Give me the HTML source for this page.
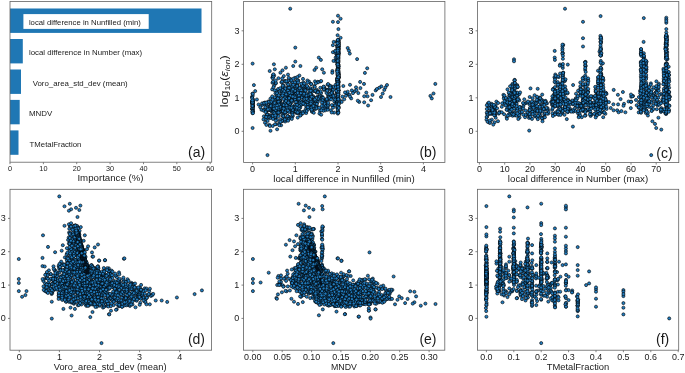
<!DOCTYPE html>
<html><head><meta charset="utf-8"><title>Feature importance and scatter plots</title>
<style>
html,body{margin:0;padding:0;background:#fff}
svg{display:block;will-change:transform}
text{font-family:"Liberation Sans",sans-serif;fill:#1a1a1a}
.p circle{fill:#227dc0;stroke:#000;stroke-width:.62px}
</style></head><body>
<svg width="685" height="373" viewBox="0 0 685 373">
<rect width="685" height="373" fill="#fff"/>
<rect x="10.0" y="8.5" width="191.5" height="24.4" fill="#1f77b4"/>
<rect x="10.0" y="39.0" width="12.8" height="24.4" fill="#1f77b4"/>
<rect x="10.0" y="69.5" width="11.0" height="24.4" fill="#1f77b4"/>
<rect x="10.0" y="99.9" width="9.7" height="24.4" fill="#1f77b4"/>
<rect x="10.0" y="130.4" width="8.5" height="24.4" fill="#1f77b4"/>
<rect x="23.4" y="14.1" width="125.3" height="14.8" fill="#fff"/>
<text x="28.9" y="24.7" font-size="7.8" text-anchor="start" textLength="112.0" lengthAdjust="spacingAndGlyphs">local difference in Nunfilled (min)</text>
<text x="28.9" y="55.2" font-size="7.8" text-anchor="start" textLength="113.2" lengthAdjust="spacingAndGlyphs">local difference in Number (max)</text>
<text x="32.7" y="85.7" font-size="7.8" text-anchor="start" textLength="95.0" lengthAdjust="spacingAndGlyphs">Voro_area_std_dev (mean)</text>
<text x="28.9" y="116.1" font-size="7.8" text-anchor="start" textLength="23.4" lengthAdjust="spacingAndGlyphs">MNDV</text>
<text x="29.6" y="146.6" font-size="7.8" text-anchor="start" textLength="51.8" lengthAdjust="spacingAndGlyphs">TMetalFraction</text>
<rect x="10.0" y="1.5" width="201.7" height="160.7" fill="none" stroke="#636363" stroke-width="0.8"/>
<path d="M10.0 162.2v2M43.4 162.2v2M76.7 162.2v2M110.1 162.2v2M143.5 162.2v2M176.8 162.2v2M210.2 162.2v2" stroke="#636363" stroke-width="0.8"/>
<text x="10.0" y="170.8" font-size="7.17" text-anchor="middle" textLength="4.1" lengthAdjust="spacingAndGlyphs">0</text>
<text x="43.4" y="170.8" font-size="7.17" text-anchor="middle" textLength="8.1" lengthAdjust="spacingAndGlyphs">10</text>
<text x="76.7" y="170.8" font-size="7.17" text-anchor="middle" textLength="8.1" lengthAdjust="spacingAndGlyphs">20</text>
<text x="110.1" y="170.8" font-size="7.17" text-anchor="middle" textLength="8.1" lengthAdjust="spacingAndGlyphs">30</text>
<text x="143.5" y="170.8" font-size="7.17" text-anchor="middle" textLength="8.1" lengthAdjust="spacingAndGlyphs">40</text>
<text x="176.8" y="170.8" font-size="7.17" text-anchor="middle" textLength="8.1" lengthAdjust="spacingAndGlyphs">50</text>
<text x="210.2" y="170.8" font-size="7.17" text-anchor="middle" textLength="8.1" lengthAdjust="spacingAndGlyphs">60</text>
<text x="110.5" y="180.7" font-size="8.5" text-anchor="middle" textLength="66.1" lengthAdjust="spacingAndGlyphs">Importance (%)</text>
<g class="p"><circle cx="338.0" cy="80.4" r="1.55"/><circle cx="337.9" cy="68.8" r="1.55"/><circle cx="289.8" cy="93.5" r="1.55"/><circle cx="331.4" cy="97.5" r="1.55"/><circle cx="279.3" cy="103.5" r="1.55"/><circle cx="304.1" cy="98.3" r="1.55"/><circle cx="284.7" cy="98.6" r="1.55"/><circle cx="292.0" cy="112.6" r="1.55"/><circle cx="276.0" cy="124.2" r="1.55"/><circle cx="337.7" cy="55.1" r="1.55"/><circle cx="347.7" cy="94.0" r="1.55"/><circle cx="275.7" cy="106.4" r="1.55"/><circle cx="252.6" cy="128.0" r="1.55"/><circle cx="332.8" cy="105.7" r="1.55"/><circle cx="282.9" cy="120.8" r="1.55"/><circle cx="337.3" cy="97.4" r="1.55"/><circle cx="301.4" cy="101.8" r="1.55"/><circle cx="286.3" cy="92.8" r="1.55"/><circle cx="337.9" cy="112.2" r="1.55"/><circle cx="337.6" cy="79.6" r="1.55"/><circle cx="277.9" cy="109.8" r="1.55"/><circle cx="283.0" cy="111.9" r="1.55"/><circle cx="315.0" cy="91.2" r="1.55"/><circle cx="285.9" cy="67.7" r="1.55"/><circle cx="261.5" cy="109.8" r="1.55"/><circle cx="337.8" cy="42.6" r="1.55"/><circle cx="288.4" cy="88.8" r="1.55"/><circle cx="305.9" cy="108.7" r="1.55"/><circle cx="285.1" cy="110.5" r="1.55"/><circle cx="276.7" cy="96.9" r="1.55"/><circle cx="283.0" cy="115.4" r="1.55"/><circle cx="337.9" cy="66.7" r="1.55"/><circle cx="287.1" cy="81.8" r="1.55"/><circle cx="283.0" cy="112.7" r="1.55"/><circle cx="340.6" cy="101.1" r="1.55"/><circle cx="285.2" cy="121.5" r="1.55"/><circle cx="281.4" cy="82.3" r="1.55"/><circle cx="275.3" cy="110.2" r="1.55"/><circle cx="337.4" cy="78.4" r="1.55"/><circle cx="310.3" cy="99.4" r="1.55"/><circle cx="327.0" cy="90.1" r="1.55"/><circle cx="337.8" cy="41.4" r="1.55"/><circle cx="252.8" cy="107.0" r="1.55"/><circle cx="311.9" cy="108.1" r="1.55"/><circle cx="311.0" cy="101.6" r="1.55"/><circle cx="330.1" cy="86.2" r="1.55"/><circle cx="317.9" cy="91.5" r="1.55"/><circle cx="300.1" cy="104.5" r="1.55"/><circle cx="301.8" cy="88.0" r="1.55"/><circle cx="310.3" cy="89.5" r="1.55"/><circle cx="268.3" cy="101.5" r="1.55"/><circle cx="321.4" cy="96.2" r="1.55"/><circle cx="278.7" cy="107.2" r="1.55"/><circle cx="282.0" cy="81.7" r="1.55"/><circle cx="337.5" cy="62.0" r="1.55"/><circle cx="338.0" cy="102.1" r="1.55"/><circle cx="298.1" cy="113.1" r="1.55"/><circle cx="337.7" cy="99.6" r="1.55"/><circle cx="252.2" cy="96.9" r="1.55"/><circle cx="337.7" cy="51.5" r="1.55"/><circle cx="310.8" cy="108.1" r="1.55"/><circle cx="338.2" cy="57.5" r="1.55"/><circle cx="282.9" cy="103.8" r="1.55"/><circle cx="282.1" cy="120.8" r="1.55"/><circle cx="295.9" cy="90.8" r="1.55"/><circle cx="306.5" cy="87.4" r="1.55"/><circle cx="275.4" cy="118.2" r="1.55"/><circle cx="252.5" cy="103.0" r="1.55"/><circle cx="296.9" cy="83.9" r="1.55"/><circle cx="310.9" cy="98.7" r="1.55"/><circle cx="282.2" cy="90.1" r="1.55"/><circle cx="280.1" cy="98.7" r="1.55"/><circle cx="338.1" cy="57.5" r="1.55"/><circle cx="295.3" cy="47.6" r="1.55"/><circle cx="318.6" cy="96.3" r="1.55"/><circle cx="338.5" cy="75.0" r="1.55"/><circle cx="284.9" cy="81.0" r="1.55"/><circle cx="333.9" cy="97.8" r="1.55"/><circle cx="275.7" cy="83.6" r="1.55"/><circle cx="320.0" cy="110.7" r="1.55"/><circle cx="340.6" cy="18.7" r="1.55"/><circle cx="252.8" cy="109.5" r="1.55"/><circle cx="288.4" cy="111.2" r="1.55"/><circle cx="264.0" cy="109.7" r="1.55"/><circle cx="337.7" cy="55.7" r="1.55"/><circle cx="272.5" cy="82.8" r="1.55"/><circle cx="288.2" cy="103.1" r="1.55"/><circle cx="252.6" cy="63.6" r="1.55"/><circle cx="284.5" cy="103.4" r="1.55"/><circle cx="295.0" cy="77.8" r="1.55"/><circle cx="338.4" cy="51.2" r="1.55"/><circle cx="337.8" cy="73.4" r="1.55"/><circle cx="338.0" cy="56.8" r="1.55"/><circle cx="338.2" cy="52.9" r="1.55"/><circle cx="334.3" cy="101.4" r="1.55"/><circle cx="269.7" cy="117.8" r="1.55"/><circle cx="308.7" cy="88.6" r="1.55"/><circle cx="338.0" cy="61.2" r="1.55"/><circle cx="337.8" cy="80.7" r="1.55"/><circle cx="338.1" cy="84.2" r="1.55"/><circle cx="337.5" cy="88.7" r="1.55"/><circle cx="338.4" cy="87.7" r="1.55"/><circle cx="301.7" cy="84.0" r="1.55"/><circle cx="338.0" cy="82.3" r="1.55"/><circle cx="291.5" cy="91.6" r="1.55"/><circle cx="270.5" cy="130.8" r="1.55"/><circle cx="338.3" cy="64.5" r="1.55"/><circle cx="338.5" cy="77.9" r="1.55"/><circle cx="323.1" cy="87.5" r="1.55"/><circle cx="337.9" cy="91.5" r="1.55"/><circle cx="338.0" cy="92.3" r="1.55"/><circle cx="431.8" cy="98.4" r="1.55"/><circle cx="332.9" cy="45.2" r="1.55"/><circle cx="337.5" cy="101.0" r="1.55"/><circle cx="298.4" cy="108.4" r="1.55"/><circle cx="338.4" cy="50.3" r="1.55"/><circle cx="338.0" cy="42.9" r="1.55"/><circle cx="316.6" cy="99.0" r="1.55"/><circle cx="382.7" cy="93.6" r="1.55"/><circle cx="325.1" cy="108.1" r="1.55"/><circle cx="295.3" cy="61.6" r="1.55"/><circle cx="328.1" cy="96.1" r="1.55"/><circle cx="264.9" cy="103.1" r="1.55"/><circle cx="337.8" cy="87.0" r="1.55"/><circle cx="280.3" cy="96.1" r="1.55"/><circle cx="292.3" cy="101.3" r="1.55"/><circle cx="265.5" cy="110.5" r="1.55"/><circle cx="360.1" cy="81.9" r="1.55"/><circle cx="306.2" cy="113.0" r="1.55"/><circle cx="338.4" cy="53.9" r="1.55"/><circle cx="338.0" cy="68.7" r="1.55"/><circle cx="285.2" cy="113.2" r="1.55"/><circle cx="284.8" cy="118.4" r="1.55"/><circle cx="271.5" cy="115.5" r="1.55"/><circle cx="300.2" cy="107.7" r="1.55"/><circle cx="331.8" cy="86.6" r="1.55"/><circle cx="337.4" cy="51.1" r="1.55"/><circle cx="337.8" cy="89.8" r="1.55"/><circle cx="278.0" cy="101.0" r="1.55"/><circle cx="334.1" cy="112.6" r="1.55"/><circle cx="275.1" cy="115.3" r="1.55"/><circle cx="297.3" cy="90.1" r="1.55"/><circle cx="289.6" cy="104.9" r="1.55"/><circle cx="338.0" cy="44.6" r="1.55"/><circle cx="338.0" cy="49.1" r="1.55"/><circle cx="290.2" cy="101.4" r="1.55"/><circle cx="338.5" cy="74.5" r="1.55"/><circle cx="263.9" cy="116.3" r="1.55"/><circle cx="309.5" cy="105.5" r="1.55"/><circle cx="251.9" cy="101.0" r="1.55"/><circle cx="336.6" cy="97.1" r="1.55"/><circle cx="349.5" cy="94.9" r="1.55"/><circle cx="364.2" cy="102.3" r="1.55"/><circle cx="291.9" cy="91.5" r="1.55"/><circle cx="279.2" cy="101.4" r="1.55"/><circle cx="304.0" cy="95.7" r="1.55"/><circle cx="279.6" cy="103.4" r="1.55"/><circle cx="279.9" cy="111.4" r="1.55"/><circle cx="319.7" cy="97.2" r="1.55"/><circle cx="338.1" cy="68.6" r="1.55"/><circle cx="294.1" cy="111.4" r="1.55"/><circle cx="308.1" cy="98.3" r="1.55"/><circle cx="337.8" cy="88.8" r="1.55"/><circle cx="325.1" cy="101.5" r="1.55"/><circle cx="338.3" cy="73.6" r="1.55"/><circle cx="277.4" cy="110.1" r="1.55"/><circle cx="337.6" cy="100.6" r="1.55"/><circle cx="302.9" cy="102.4" r="1.55"/><circle cx="338.5" cy="77.0" r="1.55"/><circle cx="328.7" cy="95.3" r="1.55"/><circle cx="308.6" cy="101.3" r="1.55"/><circle cx="302.6" cy="96.3" r="1.55"/><circle cx="337.7" cy="77.9" r="1.55"/><circle cx="252.4" cy="103.6" r="1.55"/><circle cx="266.5" cy="110.2" r="1.55"/><circle cx="275.0" cy="113.2" r="1.55"/><circle cx="290.9" cy="100.1" r="1.55"/><circle cx="283.6" cy="96.0" r="1.55"/><circle cx="319.6" cy="95.8" r="1.55"/><circle cx="338.1" cy="78.5" r="1.55"/><circle cx="311.7" cy="103.8" r="1.55"/><circle cx="252.5" cy="102.1" r="1.55"/><circle cx="252.4" cy="102.8" r="1.55"/><circle cx="301.0" cy="93.8" r="1.55"/><circle cx="356.0" cy="87.3" r="1.55"/><circle cx="282.0" cy="95.2" r="1.55"/><circle cx="299.2" cy="110.8" r="1.55"/><circle cx="303.5" cy="89.1" r="1.55"/><circle cx="433.5" cy="93.5" r="1.55"/><circle cx="430.4" cy="95.9" r="1.55"/><circle cx="384.3" cy="89.9" r="1.55"/><circle cx="338.0" cy="82.0" r="1.55"/><circle cx="252.2" cy="108.8" r="1.55"/><circle cx="292.3" cy="99.6" r="1.55"/><circle cx="337.3" cy="108.0" r="1.55"/><circle cx="280.6" cy="104.4" r="1.55"/><circle cx="337.6" cy="47.9" r="1.55"/><circle cx="294.6" cy="109.4" r="1.55"/><circle cx="338.4" cy="91.0" r="1.55"/><circle cx="266.4" cy="104.9" r="1.55"/><circle cx="316.2" cy="104.0" r="1.55"/><circle cx="291.2" cy="89.1" r="1.55"/><circle cx="287.9" cy="97.9" r="1.55"/><circle cx="337.9" cy="68.7" r="1.55"/><circle cx="279.9" cy="112.0" r="1.55"/><circle cx="321.1" cy="93.0" r="1.55"/><circle cx="338.0" cy="91.9" r="1.55"/><circle cx="338.3" cy="93.8" r="1.55"/><circle cx="337.9" cy="69.7" r="1.55"/><circle cx="338.4" cy="40.8" r="1.55"/><circle cx="284.2" cy="96.9" r="1.55"/><circle cx="296.2" cy="82.0" r="1.55"/><circle cx="291.3" cy="99.3" r="1.55"/><circle cx="338.4" cy="92.5" r="1.55"/><circle cx="338.4" cy="48.3" r="1.55"/><circle cx="305.9" cy="100.0" r="1.55"/><circle cx="317.6" cy="100.0" r="1.55"/><circle cx="337.5" cy="90.3" r="1.55"/><circle cx="299.8" cy="96.3" r="1.55"/><circle cx="327.6" cy="105.7" r="1.55"/><circle cx="279.2" cy="103.8" r="1.55"/><circle cx="338.4" cy="81.1" r="1.55"/><circle cx="285.0" cy="101.3" r="1.55"/><circle cx="330.3" cy="88.0" r="1.55"/><circle cx="338.6" cy="49.0" r="1.55"/><circle cx="337.6" cy="77.6" r="1.55"/><circle cx="277.4" cy="94.8" r="1.55"/><circle cx="313.6" cy="101.3" r="1.55"/><circle cx="332.4" cy="71.0" r="1.55"/><circle cx="329.9" cy="97.4" r="1.55"/><circle cx="277.5" cy="98.9" r="1.55"/><circle cx="332.9" cy="21.8" r="1.55"/><circle cx="435.3" cy="83.9" r="1.55"/><circle cx="337.8" cy="86.7" r="1.55"/><circle cx="338.2" cy="104.2" r="1.55"/><circle cx="316.8" cy="92.2" r="1.55"/><circle cx="274.1" cy="75.5" r="1.55"/><circle cx="285.6" cy="108.1" r="1.55"/><circle cx="337.9" cy="66.3" r="1.55"/><circle cx="330.9" cy="110.3" r="1.55"/><circle cx="335.5" cy="60.9" r="1.55"/><circle cx="337.9" cy="60.5" r="1.55"/><circle cx="315.4" cy="99.0" r="1.55"/><circle cx="290.6" cy="79.1" r="1.55"/><circle cx="297.4" cy="99.5" r="1.55"/><circle cx="337.9" cy="57.1" r="1.55"/><circle cx="269.9" cy="116.1" r="1.55"/><circle cx="337.2" cy="81.8" r="1.55"/><circle cx="338.2" cy="68.4" r="1.55"/><circle cx="291.4" cy="101.9" r="1.55"/><circle cx="272.4" cy="77.5" r="1.55"/><circle cx="285.5" cy="119.7" r="1.55"/><circle cx="338.2" cy="73.7" r="1.55"/><circle cx="337.6" cy="87.8" r="1.55"/><circle cx="271.3" cy="111.0" r="1.55"/><circle cx="337.8" cy="80.0" r="1.55"/><circle cx="290.6" cy="100.3" r="1.55"/><circle cx="252.4" cy="109.1" r="1.55"/><circle cx="313.3" cy="96.2" r="1.55"/><circle cx="338.3" cy="90.5" r="1.55"/><circle cx="279.6" cy="108.2" r="1.55"/><circle cx="304.6" cy="89.0" r="1.55"/><circle cx="279.3" cy="123.1" r="1.55"/><circle cx="306.8" cy="110.9" r="1.55"/><circle cx="337.9" cy="97.0" r="1.55"/><circle cx="311.3" cy="95.0" r="1.55"/><circle cx="290.2" cy="117.3" r="1.55"/><circle cx="270.5" cy="103.2" r="1.55"/><circle cx="275.2" cy="117.0" r="1.55"/><circle cx="279.3" cy="105.6" r="1.55"/><circle cx="337.4" cy="45.6" r="1.55"/><circle cx="300.8" cy="115.0" r="1.55"/><circle cx="263.5" cy="119.4" r="1.55"/><circle cx="329.9" cy="85.6" r="1.55"/><circle cx="288.7" cy="94.9" r="1.55"/><circle cx="331.5" cy="91.2" r="1.55"/><circle cx="337.9" cy="74.6" r="1.55"/><circle cx="307.5" cy="104.4" r="1.55"/><circle cx="338.1" cy="51.1" r="1.55"/><circle cx="315.7" cy="98.6" r="1.55"/><circle cx="332.9" cy="52.2" r="1.55"/><circle cx="311.9" cy="108.4" r="1.55"/><circle cx="309.3" cy="104.3" r="1.55"/><circle cx="316.7" cy="92.5" r="1.55"/><circle cx="252.5" cy="113.1" r="1.55"/><circle cx="338.2" cy="48.4" r="1.55"/><circle cx="314.4" cy="98.1" r="1.55"/><circle cx="337.7" cy="91.0" r="1.55"/><circle cx="288.1" cy="98.5" r="1.55"/><circle cx="280.4" cy="72.7" r="1.55"/><circle cx="284.6" cy="107.2" r="1.55"/><circle cx="338.0" cy="102.0" r="1.55"/><circle cx="311.1" cy="96.7" r="1.55"/><circle cx="300.7" cy="105.6" r="1.55"/><circle cx="304.7" cy="85.2" r="1.55"/><circle cx="275.0" cy="124.3" r="1.55"/><circle cx="272.2" cy="89.4" r="1.55"/><circle cx="338.1" cy="107.4" r="1.55"/><circle cx="375.7" cy="90.4" r="1.55"/><circle cx="277.2" cy="119.8" r="1.55"/><circle cx="359.2" cy="101.9" r="1.55"/><circle cx="294.6" cy="94.1" r="1.55"/><circle cx="337.9" cy="55.3" r="1.55"/><circle cx="275.0" cy="105.2" r="1.55"/><circle cx="258.6" cy="104.5" r="1.55"/><circle cx="324.8" cy="88.4" r="1.55"/><circle cx="337.5" cy="94.4" r="1.55"/><circle cx="293.5" cy="106.9" r="1.55"/><circle cx="252.6" cy="104.1" r="1.55"/><circle cx="310.3" cy="97.8" r="1.55"/><circle cx="272.1" cy="105.6" r="1.55"/><circle cx="315.5" cy="108.5" r="1.55"/><circle cx="338.1" cy="106.4" r="1.55"/><circle cx="338.1" cy="94.2" r="1.55"/><circle cx="311.0" cy="94.3" r="1.55"/><circle cx="296.5" cy="110.0" r="1.55"/><circle cx="323.0" cy="100.0" r="1.55"/><circle cx="253.0" cy="111.5" r="1.55"/><circle cx="291.9" cy="93.1" r="1.55"/><circle cx="292.8" cy="116.0" r="1.55"/><circle cx="317.7" cy="102.0" r="1.55"/><circle cx="337.9" cy="86.2" r="1.55"/><circle cx="337.6" cy="101.7" r="1.55"/><circle cx="304.0" cy="111.4" r="1.55"/><circle cx="317.8" cy="81.8" r="1.55"/><circle cx="303.4" cy="82.5" r="1.55"/><circle cx="336.7" cy="59.1" r="1.55"/><circle cx="337.6" cy="52.7" r="1.55"/><circle cx="338.5" cy="82.8" r="1.55"/><circle cx="338.0" cy="48.0" r="1.55"/><circle cx="283.1" cy="105.4" r="1.55"/><circle cx="338.1" cy="100.4" r="1.55"/><circle cx="285.7" cy="109.2" r="1.55"/><circle cx="297.8" cy="80.8" r="1.55"/><circle cx="338.2" cy="68.1" r="1.55"/><circle cx="290.2" cy="95.2" r="1.55"/><circle cx="283.1" cy="109.8" r="1.55"/><circle cx="300.9" cy="94.8" r="1.55"/><circle cx="338.2" cy="43.3" r="1.55"/><circle cx="338.1" cy="51.1" r="1.55"/><circle cx="329.2" cy="96.6" r="1.55"/><circle cx="311.2" cy="98.4" r="1.55"/><circle cx="338.3" cy="48.3" r="1.55"/><circle cx="343.3" cy="86.0" r="1.55"/><circle cx="269.7" cy="71.0" r="1.55"/><circle cx="338.4" cy="29.1" r="1.55"/><circle cx="337.8" cy="92.5" r="1.55"/><circle cx="286.2" cy="110.4" r="1.55"/><circle cx="315.0" cy="81.4" r="1.55"/><circle cx="287.8" cy="109.8" r="1.55"/><circle cx="338.5" cy="94.6" r="1.55"/><circle cx="275.1" cy="99.2" r="1.55"/><circle cx="252.1" cy="97.1" r="1.55"/><circle cx="269.9" cy="105.7" r="1.55"/><circle cx="338.1" cy="49.8" r="1.55"/><circle cx="291.0" cy="81.2" r="1.55"/><circle cx="272.1" cy="111.5" r="1.55"/><circle cx="368.1" cy="105.5" r="1.55"/><circle cx="304.4" cy="91.5" r="1.55"/><circle cx="290.7" cy="85.0" r="1.55"/><circle cx="285.8" cy="96.2" r="1.55"/><circle cx="310.3" cy="108.6" r="1.55"/><circle cx="264.8" cy="102.6" r="1.55"/><circle cx="335.5" cy="103.4" r="1.55"/><circle cx="315.2" cy="109.0" r="1.55"/><circle cx="309.0" cy="81.6" r="1.55"/><circle cx="299.4" cy="75.6" r="1.55"/><circle cx="337.6" cy="88.2" r="1.55"/><circle cx="318.1" cy="82.3" r="1.55"/><circle cx="286.6" cy="105.0" r="1.55"/><circle cx="307.5" cy="105.0" r="1.55"/><circle cx="298.2" cy="91.2" r="1.55"/><circle cx="267.1" cy="109.6" r="1.55"/><circle cx="338.3" cy="81.9" r="1.55"/><circle cx="337.7" cy="56.9" r="1.55"/><circle cx="289.2" cy="98.3" r="1.55"/><circle cx="337.9" cy="57.8" r="1.55"/><circle cx="296.5" cy="99.4" r="1.55"/><circle cx="338.1" cy="48.0" r="1.55"/><circle cx="312.2" cy="91.7" r="1.55"/><circle cx="300.3" cy="103.3" r="1.55"/><circle cx="299.8" cy="90.3" r="1.55"/><circle cx="338.5" cy="107.8" r="1.55"/><circle cx="337.8" cy="97.6" r="1.55"/><circle cx="338.6" cy="42.1" r="1.55"/><circle cx="276.5" cy="113.2" r="1.55"/><circle cx="337.6" cy="52.5" r="1.55"/><circle cx="302.7" cy="96.4" r="1.55"/><circle cx="338.0" cy="72.9" r="1.55"/><circle cx="338.9" cy="76.9" r="1.55"/><circle cx="267.4" cy="109.8" r="1.55"/><circle cx="381.0" cy="97.0" r="1.55"/><circle cx="312.4" cy="111.2" r="1.55"/><circle cx="294.8" cy="86.7" r="1.55"/><circle cx="330.7" cy="96.0" r="1.55"/><circle cx="337.8" cy="70.5" r="1.55"/><circle cx="337.9" cy="87.3" r="1.55"/><circle cx="338.0" cy="65.4" r="1.55"/><circle cx="278.9" cy="100.5" r="1.55"/><circle cx="252.8" cy="102.3" r="1.55"/><circle cx="297.6" cy="94.5" r="1.55"/><circle cx="350.0" cy="84.8" r="1.55"/><circle cx="317.6" cy="96.7" r="1.55"/><circle cx="338.9" cy="52.3" r="1.55"/><circle cx="337.9" cy="60.2" r="1.55"/><circle cx="338.0" cy="75.0" r="1.55"/><circle cx="338.0" cy="62.8" r="1.55"/><circle cx="335.2" cy="99.6" r="1.55"/><circle cx="308.9" cy="99.9" r="1.55"/><circle cx="312.1" cy="104.6" r="1.55"/><circle cx="337.8" cy="80.5" r="1.55"/><circle cx="322.2" cy="69.3" r="1.55"/><circle cx="263.6" cy="110.6" r="1.55"/><circle cx="301.7" cy="85.4" r="1.55"/><circle cx="294.2" cy="96.8" r="1.55"/><circle cx="314.5" cy="70.0" r="1.55"/><circle cx="337.9" cy="45.0" r="1.55"/><circle cx="338.1" cy="55.9" r="1.55"/><circle cx="253.3" cy="100.8" r="1.55"/><circle cx="291.0" cy="88.5" r="1.55"/><circle cx="288.0" cy="116.2" r="1.55"/><circle cx="281.1" cy="125.3" r="1.55"/><circle cx="280.1" cy="100.9" r="1.55"/><circle cx="305.6" cy="101.2" r="1.55"/><circle cx="290.0" cy="104.2" r="1.55"/><circle cx="267.5" cy="155.1" r="1.55"/><circle cx="337.2" cy="80.4" r="1.55"/><circle cx="300.9" cy="103.3" r="1.55"/><circle cx="266.4" cy="119.6" r="1.55"/><circle cx="312.0" cy="111.8" r="1.55"/><circle cx="294.3" cy="111.1" r="1.55"/><circle cx="293.6" cy="98.5" r="1.55"/><circle cx="337.7" cy="42.5" r="1.55"/><circle cx="290.8" cy="89.5" r="1.55"/><circle cx="337.8" cy="78.3" r="1.55"/><circle cx="340.6" cy="37.8" r="1.55"/><circle cx="296.0" cy="110.1" r="1.55"/><circle cx="286.1" cy="103.3" r="1.55"/><circle cx="310.5" cy="89.2" r="1.55"/><circle cx="338.0" cy="51.2" r="1.55"/><circle cx="295.0" cy="104.8" r="1.55"/><circle cx="274.9" cy="111.1" r="1.55"/><circle cx="337.7" cy="47.6" r="1.55"/><circle cx="324.7" cy="102.2" r="1.55"/><circle cx="275.1" cy="110.9" r="1.55"/><circle cx="320.1" cy="99.7" r="1.55"/><circle cx="327.1" cy="104.8" r="1.55"/><circle cx="337.4" cy="58.7" r="1.55"/><circle cx="337.6" cy="79.6" r="1.55"/><circle cx="297.2" cy="94.0" r="1.55"/><circle cx="311.5" cy="107.5" r="1.55"/><circle cx="268.3" cy="109.7" r="1.55"/><circle cx="273.0" cy="75.1" r="1.55"/><circle cx="307.4" cy="80.5" r="1.55"/><circle cx="275.6" cy="105.6" r="1.55"/><circle cx="296.9" cy="95.0" r="1.55"/><circle cx="308.3" cy="108.9" r="1.55"/><circle cx="357.8" cy="100.7" r="1.55"/><circle cx="285.3" cy="81.3" r="1.55"/><circle cx="338.0" cy="42.9" r="1.55"/><circle cx="284.8" cy="94.0" r="1.55"/><circle cx="338.3" cy="72.3" r="1.55"/><circle cx="338.4" cy="56.2" r="1.55"/><circle cx="338.4" cy="53.8" r="1.55"/><circle cx="275.5" cy="111.4" r="1.55"/><circle cx="275.9" cy="82.9" r="1.55"/><circle cx="289.6" cy="90.7" r="1.55"/><circle cx="337.7" cy="49.0" r="1.55"/><circle cx="279.5" cy="91.7" r="1.55"/><circle cx="281.9" cy="106.8" r="1.55"/><circle cx="338.7" cy="43.8" r="1.55"/><circle cx="291.3" cy="102.3" r="1.55"/><circle cx="385.4" cy="87.4" r="1.55"/><circle cx="297.6" cy="101.9" r="1.55"/><circle cx="338.3" cy="64.7" r="1.55"/><circle cx="338.5" cy="86.4" r="1.55"/><circle cx="338.1" cy="44.6" r="1.55"/><circle cx="330.5" cy="93.8" r="1.55"/><circle cx="270.9" cy="105.5" r="1.55"/><circle cx="338.5" cy="40.7" r="1.55"/><circle cx="292.2" cy="112.9" r="1.55"/><circle cx="337.9" cy="72.3" r="1.55"/><circle cx="336.1" cy="53.8" r="1.55"/><circle cx="338.0" cy="22.1" r="1.55"/><circle cx="252.7" cy="95.7" r="1.55"/><circle cx="336.7" cy="59.4" r="1.55"/><circle cx="312.8" cy="97.3" r="1.55"/><circle cx="316.6" cy="90.6" r="1.55"/><circle cx="273.1" cy="77.1" r="1.55"/><circle cx="347.7" cy="48.0" r="1.55"/><circle cx="332.6" cy="90.1" r="1.55"/><circle cx="338.2" cy="79.0" r="1.55"/><circle cx="293.4" cy="93.4" r="1.55"/><circle cx="267.6" cy="120.9" r="1.55"/><circle cx="267.1" cy="113.9" r="1.55"/><circle cx="283.5" cy="116.7" r="1.55"/><circle cx="338.2" cy="48.1" r="1.55"/><circle cx="282.4" cy="108.0" r="1.55"/><circle cx="337.3" cy="91.8" r="1.55"/><circle cx="252.9" cy="104.7" r="1.55"/><circle cx="338.0" cy="15.7" r="1.55"/><circle cx="322.5" cy="108.6" r="1.55"/><circle cx="266.5" cy="110.6" r="1.55"/><circle cx="338.0" cy="48.0" r="1.55"/><circle cx="276.1" cy="114.5" r="1.55"/><circle cx="308.9" cy="98.8" r="1.55"/><circle cx="289.5" cy="110.6" r="1.55"/><circle cx="252.5" cy="103.1" r="1.55"/><circle cx="337.8" cy="54.4" r="1.55"/><circle cx="300.8" cy="103.2" r="1.55"/><circle cx="323.8" cy="105.7" r="1.55"/><circle cx="252.5" cy="109.4" r="1.55"/><circle cx="337.9" cy="49.0" r="1.55"/><circle cx="310.6" cy="88.2" r="1.55"/><circle cx="338.7" cy="46.6" r="1.55"/><circle cx="325.3" cy="110.3" r="1.55"/><circle cx="283.1" cy="92.6" r="1.55"/><circle cx="328.2" cy="94.1" r="1.55"/><circle cx="311.0" cy="83.9" r="1.55"/><circle cx="338.2" cy="74.3" r="1.55"/><circle cx="273.7" cy="101.2" r="1.55"/><circle cx="338.2" cy="76.4" r="1.55"/><circle cx="278.5" cy="78.2" r="1.55"/><circle cx="327.7" cy="108.3" r="1.55"/><circle cx="296.3" cy="109.0" r="1.55"/><circle cx="270.9" cy="109.0" r="1.55"/><circle cx="275.8" cy="113.3" r="1.55"/><circle cx="337.9" cy="85.9" r="1.55"/><circle cx="310.5" cy="98.5" r="1.55"/><circle cx="252.6" cy="108.2" r="1.55"/><circle cx="286.0" cy="112.1" r="1.55"/><circle cx="329.6" cy="99.3" r="1.55"/><circle cx="338.0" cy="40.1" r="1.55"/><circle cx="314.2" cy="108.0" r="1.55"/><circle cx="277.1" cy="129.3" r="1.55"/><circle cx="294.7" cy="93.9" r="1.55"/><circle cx="290.1" cy="92.4" r="1.55"/><circle cx="252.7" cy="102.1" r="1.55"/><circle cx="337.5" cy="45.5" r="1.55"/><circle cx="292.5" cy="91.9" r="1.55"/><circle cx="284.0" cy="108.6" r="1.55"/><circle cx="338.3" cy="78.7" r="1.55"/><circle cx="338.3" cy="90.7" r="1.55"/><circle cx="338.1" cy="74.0" r="1.55"/><circle cx="270.6" cy="110.2" r="1.55"/><circle cx="286.7" cy="97.9" r="1.55"/><circle cx="252.8" cy="106.4" r="1.55"/><circle cx="338.3" cy="55.4" r="1.55"/><circle cx="252.5" cy="108.2" r="1.55"/><circle cx="273.1" cy="81.6" r="1.55"/><circle cx="295.1" cy="88.7" r="1.55"/><circle cx="286.2" cy="108.2" r="1.55"/><circle cx="338.2" cy="98.6" r="1.55"/><circle cx="338.5" cy="86.9" r="1.55"/><circle cx="312.8" cy="101.0" r="1.55"/><circle cx="300.8" cy="112.3" r="1.55"/><circle cx="278.9" cy="108.4" r="1.55"/><circle cx="337.5" cy="83.6" r="1.55"/><circle cx="294.7" cy="99.5" r="1.55"/><circle cx="337.5" cy="51.0" r="1.55"/><circle cx="288.0" cy="116.2" r="1.55"/><circle cx="338.1" cy="74.5" r="1.55"/><circle cx="306.3" cy="93.6" r="1.55"/><circle cx="289.0" cy="101.9" r="1.55"/><circle cx="326.1" cy="99.5" r="1.55"/><circle cx="293.8" cy="95.8" r="1.55"/><circle cx="333.7" cy="41.9" r="1.55"/><circle cx="338.4" cy="67.8" r="1.55"/><circle cx="338.1" cy="90.0" r="1.55"/><circle cx="298.2" cy="80.4" r="1.55"/><circle cx="338.1" cy="90.1" r="1.55"/><circle cx="280.9" cy="108.5" r="1.55"/><circle cx="381.3" cy="86.4" r="1.55"/><circle cx="301.2" cy="90.3" r="1.55"/><circle cx="337.7" cy="54.9" r="1.55"/><circle cx="270.1" cy="115.4" r="1.55"/><circle cx="295.1" cy="94.7" r="1.55"/><circle cx="293.3" cy="109.6" r="1.55"/><circle cx="316.6" cy="89.7" r="1.55"/><circle cx="337.5" cy="81.2" r="1.55"/><circle cx="252.8" cy="111.3" r="1.55"/><circle cx="337.7" cy="78.5" r="1.55"/><circle cx="284.8" cy="111.3" r="1.55"/><circle cx="314.3" cy="86.1" r="1.55"/><circle cx="338.0" cy="41.0" r="1.55"/><circle cx="271.2" cy="107.3" r="1.55"/><circle cx="277.4" cy="91.6" r="1.55"/><circle cx="279.3" cy="125.2" r="1.55"/><circle cx="315.8" cy="102.3" r="1.55"/><circle cx="338.1" cy="48.1" r="1.55"/><circle cx="284.2" cy="88.5" r="1.55"/><circle cx="312.1" cy="110.7" r="1.55"/><circle cx="287.2" cy="107.8" r="1.55"/><circle cx="316.3" cy="103.9" r="1.55"/><circle cx="337.7" cy="63.2" r="1.55"/><circle cx="299.1" cy="94.4" r="1.55"/><circle cx="338.1" cy="79.9" r="1.55"/><circle cx="333.0" cy="107.7" r="1.55"/><circle cx="346.8" cy="93.1" r="1.55"/><circle cx="270.0" cy="106.1" r="1.55"/><circle cx="277.4" cy="103.9" r="1.55"/><circle cx="338.1" cy="76.1" r="1.55"/><circle cx="324.2" cy="89.9" r="1.55"/><circle cx="338.2" cy="77.1" r="1.55"/><circle cx="292.5" cy="112.3" r="1.55"/><circle cx="337.6" cy="35.2" r="1.55"/><circle cx="305.2" cy="90.2" r="1.55"/><circle cx="335.3" cy="105.3" r="1.55"/><circle cx="279.0" cy="100.5" r="1.55"/><circle cx="270.7" cy="103.3" r="1.55"/><circle cx="287.2" cy="83.7" r="1.55"/><circle cx="312.3" cy="89.2" r="1.55"/><circle cx="303.5" cy="86.3" r="1.55"/><circle cx="288.0" cy="74.6" r="1.55"/><circle cx="269.5" cy="115.4" r="1.55"/><circle cx="337.5" cy="90.3" r="1.55"/><circle cx="302.0" cy="85.5" r="1.55"/><circle cx="347.7" cy="91.7" r="1.55"/><circle cx="276.3" cy="90.9" r="1.55"/><circle cx="292.5" cy="109.8" r="1.55"/><circle cx="311.2" cy="84.1" r="1.55"/><circle cx="252.6" cy="106.7" r="1.55"/><circle cx="297.2" cy="85.3" r="1.55"/><circle cx="284.0" cy="105.4" r="1.55"/><circle cx="289.5" cy="89.6" r="1.55"/><circle cx="338.6" cy="49.9" r="1.55"/><circle cx="337.5" cy="45.3" r="1.55"/><circle cx="324.1" cy="102.9" r="1.55"/><circle cx="268.5" cy="115.9" r="1.55"/><circle cx="317.4" cy="91.3" r="1.55"/><circle cx="337.7" cy="70.0" r="1.55"/><circle cx="338.2" cy="90.5" r="1.55"/><circle cx="337.6" cy="91.7" r="1.55"/><circle cx="338.5" cy="46.6" r="1.55"/><circle cx="303.1" cy="103.7" r="1.55"/><circle cx="337.5" cy="79.6" r="1.55"/><circle cx="316.9" cy="106.3" r="1.55"/><circle cx="336.9" cy="103.1" r="1.55"/><circle cx="292.3" cy="107.9" r="1.55"/><circle cx="338.7" cy="46.9" r="1.55"/><circle cx="338.4" cy="42.4" r="1.55"/><circle cx="337.3" cy="103.6" r="1.55"/><circle cx="285.3" cy="98.0" r="1.55"/><circle cx="367.2" cy="68.3" r="1.55"/><circle cx="338.2" cy="60.9" r="1.55"/><circle cx="318.3" cy="98.0" r="1.55"/><circle cx="252.6" cy="103.0" r="1.55"/><circle cx="253.1" cy="106.0" r="1.55"/><circle cx="274.7" cy="90.3" r="1.55"/><circle cx="338.2" cy="73.9" r="1.55"/><circle cx="291.8" cy="86.7" r="1.55"/><circle cx="288.3" cy="87.9" r="1.55"/><circle cx="301.2" cy="113.8" r="1.55"/><circle cx="327.2" cy="99.6" r="1.55"/><circle cx="252.5" cy="93.7" r="1.55"/><circle cx="338.0" cy="90.9" r="1.55"/><circle cx="275.7" cy="80.6" r="1.55"/><circle cx="274.5" cy="110.1" r="1.55"/><circle cx="295.7" cy="81.8" r="1.55"/><circle cx="298.6" cy="101.2" r="1.55"/><circle cx="332.9" cy="90.0" r="1.55"/><circle cx="310.7" cy="101.1" r="1.55"/><circle cx="337.8" cy="70.6" r="1.55"/><circle cx="279.3" cy="113.0" r="1.55"/><circle cx="298.0" cy="87.0" r="1.55"/><circle cx="379.2" cy="87.8" r="1.55"/><circle cx="270.0" cy="110.1" r="1.55"/><circle cx="291.8" cy="117.4" r="1.55"/><circle cx="333.7" cy="87.0" r="1.55"/><circle cx="337.5" cy="102.0" r="1.55"/><circle cx="272.5" cy="104.7" r="1.55"/><circle cx="338.6" cy="66.2" r="1.55"/><circle cx="338.5" cy="98.4" r="1.55"/><circle cx="291.7" cy="91.2" r="1.55"/><circle cx="309.8" cy="101.1" r="1.55"/><circle cx="354.8" cy="91.3" r="1.55"/><circle cx="285.2" cy="102.8" r="1.55"/><circle cx="376.9" cy="89.0" r="1.55"/><circle cx="303.0" cy="78.9" r="1.55"/><circle cx="337.6" cy="47.4" r="1.55"/><circle cx="338.4" cy="82.1" r="1.55"/><circle cx="323.4" cy="110.8" r="1.55"/><circle cx="253.0" cy="102.0" r="1.55"/><circle cx="337.5" cy="54.8" r="1.55"/><circle cx="326.5" cy="92.9" r="1.55"/><circle cx="286.7" cy="119.5" r="1.55"/><circle cx="337.6" cy="64.5" r="1.55"/><circle cx="282.2" cy="91.9" r="1.55"/><circle cx="337.7" cy="70.6" r="1.55"/><circle cx="337.6" cy="91.4" r="1.55"/><circle cx="299.8" cy="100.8" r="1.55"/><circle cx="269.4" cy="108.9" r="1.55"/><circle cx="337.8" cy="51.3" r="1.55"/><circle cx="331.1" cy="96.0" r="1.55"/><circle cx="327.7" cy="109.8" r="1.55"/><circle cx="302.7" cy="95.2" r="1.55"/><circle cx="288.7" cy="104.0" r="1.55"/><circle cx="337.8" cy="62.0" r="1.55"/><circle cx="337.9" cy="43.3" r="1.55"/><circle cx="289.4" cy="98.1" r="1.55"/><circle cx="285.6" cy="95.6" r="1.55"/><circle cx="292.4" cy="113.8" r="1.55"/><circle cx="315.3" cy="106.7" r="1.55"/><circle cx="274.7" cy="97.2" r="1.55"/><circle cx="337.6" cy="101.5" r="1.55"/><circle cx="315.4" cy="103.7" r="1.55"/><circle cx="277.2" cy="99.4" r="1.55"/><circle cx="337.4" cy="84.6" r="1.55"/><circle cx="288.9" cy="110.4" r="1.55"/><circle cx="327.3" cy="107.2" r="1.55"/><circle cx="338.5" cy="53.6" r="1.55"/><circle cx="287.9" cy="89.0" r="1.55"/><circle cx="297.8" cy="97.5" r="1.55"/><circle cx="262.2" cy="104.9" r="1.55"/><circle cx="338.5" cy="45.6" r="1.55"/><circle cx="337.6" cy="45.8" r="1.55"/><circle cx="260.3" cy="107.2" r="1.55"/><circle cx="337.0" cy="41.4" r="1.55"/><circle cx="338.0" cy="94.1" r="1.55"/><circle cx="252.3" cy="104.4" r="1.55"/><circle cx="300.4" cy="66.0" r="1.55"/><circle cx="327.2" cy="105.8" r="1.55"/><circle cx="320.3" cy="87.8" r="1.55"/><circle cx="351.8" cy="90.4" r="1.55"/><circle cx="302.6" cy="85.7" r="1.55"/><circle cx="320.9" cy="59.9" r="1.55"/><circle cx="337.8" cy="86.1" r="1.55"/><circle cx="338.0" cy="77.1" r="1.55"/><circle cx="318.8" cy="57.6" r="1.55"/><circle cx="290.8" cy="107.2" r="1.55"/><circle cx="295.3" cy="106.7" r="1.55"/><circle cx="338.4" cy="90.0" r="1.55"/><circle cx="338.7" cy="72.9" r="1.55"/><circle cx="338.2" cy="88.3" r="1.55"/><circle cx="252.6" cy="111.0" r="1.55"/><circle cx="280.3" cy="101.4" r="1.55"/><circle cx="333.3" cy="94.8" r="1.55"/><circle cx="338.2" cy="64.1" r="1.55"/><circle cx="338.1" cy="58.9" r="1.55"/><circle cx="287.0" cy="101.1" r="1.55"/><circle cx="324.3" cy="102.5" r="1.55"/><circle cx="311.6" cy="109.6" r="1.55"/><circle cx="322.3" cy="96.9" r="1.55"/><circle cx="294.1" cy="89.8" r="1.55"/><circle cx="301.5" cy="103.2" r="1.55"/><circle cx="291.8" cy="99.8" r="1.55"/><circle cx="338.1" cy="65.0" r="1.55"/><circle cx="292.7" cy="98.7" r="1.55"/><circle cx="338.4" cy="81.4" r="1.55"/><circle cx="262.1" cy="103.4" r="1.55"/><circle cx="268.2" cy="109.6" r="1.55"/><circle cx="290.2" cy="8.7" r="1.55"/><circle cx="284.8" cy="119.4" r="1.55"/><circle cx="329.7" cy="99.4" r="1.55"/><circle cx="319.4" cy="97.2" r="1.55"/><circle cx="296.6" cy="86.6" r="1.55"/><circle cx="331.8" cy="105.1" r="1.55"/><circle cx="301.6" cy="97.6" r="1.55"/><circle cx="337.7" cy="52.8" r="1.55"/><circle cx="337.7" cy="80.3" r="1.55"/><circle cx="338.6" cy="106.7" r="1.55"/><circle cx="338.2" cy="56.1" r="1.55"/><circle cx="299.6" cy="95.4" r="1.55"/><circle cx="291.3" cy="106.8" r="1.55"/><circle cx="324.6" cy="103.9" r="1.55"/><circle cx="292.7" cy="82.4" r="1.55"/><circle cx="282.4" cy="87.4" r="1.55"/><circle cx="338.5" cy="90.5" r="1.55"/><circle cx="337.8" cy="57.4" r="1.55"/><circle cx="290.3" cy="95.8" r="1.55"/><circle cx="293.7" cy="107.8" r="1.55"/><circle cx="274.7" cy="113.8" r="1.55"/><circle cx="278.5" cy="116.2" r="1.55"/><circle cx="302.6" cy="112.1" r="1.55"/><circle cx="278.1" cy="89.0" r="1.55"/><circle cx="285.2" cy="87.3" r="1.55"/><circle cx="366.3" cy="92.6" r="1.55"/><circle cx="331.7" cy="112.5" r="1.55"/><circle cx="281.9" cy="90.6" r="1.55"/><circle cx="306.8" cy="96.0" r="1.55"/><circle cx="280.2" cy="88.2" r="1.55"/><circle cx="337.7" cy="61.0" r="1.55"/><circle cx="342.4" cy="96.6" r="1.55"/><circle cx="285.9" cy="110.4" r="1.55"/><circle cx="337.8" cy="68.1" r="1.55"/><circle cx="288.4" cy="105.7" r="1.55"/><circle cx="264.6" cy="104.4" r="1.55"/><circle cx="351.2" cy="98.4" r="1.55"/><circle cx="337.9" cy="48.7" r="1.55"/><circle cx="338.5" cy="54.3" r="1.55"/><circle cx="310.1" cy="94.1" r="1.55"/><circle cx="274.1" cy="104.7" r="1.55"/><circle cx="337.9" cy="111.1" r="1.55"/><circle cx="272.8" cy="115.8" r="1.55"/><circle cx="253.1" cy="99.5" r="1.55"/><circle cx="304.3" cy="103.5" r="1.55"/><circle cx="328.1" cy="89.6" r="1.55"/><circle cx="283.7" cy="112.1" r="1.55"/><circle cx="329.4" cy="98.1" r="1.55"/><circle cx="324.0" cy="86.8" r="1.55"/><circle cx="337.6" cy="79.7" r="1.55"/><circle cx="338.0" cy="53.9" r="1.55"/><circle cx="285.3" cy="91.7" r="1.55"/><circle cx="252.2" cy="98.2" r="1.55"/><circle cx="337.4" cy="46.3" r="1.55"/><circle cx="332.4" cy="92.2" r="1.55"/><circle cx="296.5" cy="112.9" r="1.55"/><circle cx="295.1" cy="99.7" r="1.55"/><circle cx="272.8" cy="77.2" r="1.55"/><circle cx="282.9" cy="89.9" r="1.55"/><circle cx="312.0" cy="102.1" r="1.55"/><circle cx="337.8" cy="75.4" r="1.55"/><circle cx="364.0" cy="83.9" r="1.55"/><circle cx="341.7" cy="101.9" r="1.55"/><circle cx="283.7" cy="105.1" r="1.55"/><circle cx="298.6" cy="97.1" r="1.55"/><circle cx="323.7" cy="88.5" r="1.55"/><circle cx="338.0" cy="62.6" r="1.55"/><circle cx="321.9" cy="98.4" r="1.55"/><circle cx="253.9" cy="85.1" r="1.55"/><circle cx="337.9" cy="68.2" r="1.55"/><circle cx="299.6" cy="103.4" r="1.55"/><circle cx="308.1" cy="87.6" r="1.55"/><circle cx="279.7" cy="101.1" r="1.55"/><circle cx="338.4" cy="77.8" r="1.55"/><circle cx="298.0" cy="99.8" r="1.55"/><circle cx="278.5" cy="110.0" r="1.55"/><circle cx="294.7" cy="91.1" r="1.55"/><circle cx="295.1" cy="90.8" r="1.55"/><circle cx="279.3" cy="100.7" r="1.55"/><circle cx="338.3" cy="62.5" r="1.55"/><circle cx="290.2" cy="87.8" r="1.55"/><circle cx="280.9" cy="119.4" r="1.55"/><circle cx="283.2" cy="85.0" r="1.55"/><circle cx="300.3" cy="92.8" r="1.55"/><circle cx="299.3" cy="98.5" r="1.55"/><circle cx="338.2" cy="77.2" r="1.55"/><circle cx="301.3" cy="83.8" r="1.55"/><circle cx="273.3" cy="106.4" r="1.55"/><circle cx="315.3" cy="90.8" r="1.55"/><circle cx="337.9" cy="82.5" r="1.55"/><circle cx="282.1" cy="108.0" r="1.55"/><circle cx="286.1" cy="98.9" r="1.55"/><circle cx="338.0" cy="97.5" r="1.55"/><circle cx="337.8" cy="99.7" r="1.55"/><circle cx="278.5" cy="107.4" r="1.55"/><circle cx="337.7" cy="89.1" r="1.55"/><circle cx="302.2" cy="103.9" r="1.55"/><circle cx="291.9" cy="108.4" r="1.55"/><circle cx="338.2" cy="48.2" r="1.55"/><circle cx="337.7" cy="107.3" r="1.55"/><circle cx="335.7" cy="57.4" r="1.55"/><circle cx="289.0" cy="111.9" r="1.55"/><circle cx="286.1" cy="94.3" r="1.55"/><circle cx="307.4" cy="101.9" r="1.55"/><circle cx="338.1" cy="67.2" r="1.55"/><circle cx="338.2" cy="60.5" r="1.55"/><circle cx="278.5" cy="102.1" r="1.55"/><circle cx="269.9" cy="106.4" r="1.55"/><circle cx="321.8" cy="98.5" r="1.55"/><circle cx="298.5" cy="111.6" r="1.55"/><circle cx="316.1" cy="107.1" r="1.55"/><circle cx="304.1" cy="92.5" r="1.55"/><circle cx="282.4" cy="115.6" r="1.55"/><circle cx="277.7" cy="98.7" r="1.55"/><circle cx="275.3" cy="109.4" r="1.55"/><circle cx="307.1" cy="86.0" r="1.55"/><circle cx="275.5" cy="93.3" r="1.55"/><circle cx="270.2" cy="117.9" r="1.55"/><circle cx="289.8" cy="101.7" r="1.55"/><circle cx="303.8" cy="99.7" r="1.55"/><circle cx="252.8" cy="102.4" r="1.55"/><circle cx="332.3" cy="72.8" r="1.55"/><circle cx="285.0" cy="97.6" r="1.55"/><circle cx="296.4" cy="112.5" r="1.55"/><circle cx="338.3" cy="61.6" r="1.55"/><circle cx="337.9" cy="55.8" r="1.55"/><circle cx="338.0" cy="73.7" r="1.55"/><circle cx="301.0" cy="104.6" r="1.55"/><circle cx="287.9" cy="110.4" r="1.55"/><circle cx="338.6" cy="42.9" r="1.55"/><circle cx="357.1" cy="59.1" r="1.55"/><circle cx="293.2" cy="66.0" r="1.55"/><circle cx="292.6" cy="109.1" r="1.55"/><circle cx="269.4" cy="124.9" r="1.55"/><circle cx="320.5" cy="81.5" r="1.55"/><circle cx="268.9" cy="101.9" r="1.55"/><circle cx="337.6" cy="65.2" r="1.55"/><circle cx="337.3" cy="94.4" r="1.55"/><circle cx="337.9" cy="53.7" r="1.55"/><circle cx="337.9" cy="41.3" r="1.55"/><circle cx="298.8" cy="95.4" r="1.55"/><circle cx="337.9" cy="73.1" r="1.55"/><circle cx="358.3" cy="93.1" r="1.55"/><circle cx="349.8" cy="53.6" r="1.55"/><circle cx="338.6" cy="66.2" r="1.55"/><circle cx="333.5" cy="60.9" r="1.55"/><circle cx="272.7" cy="78.2" r="1.55"/><circle cx="296.2" cy="111.6" r="1.55"/><circle cx="271.2" cy="105.1" r="1.55"/><circle cx="337.8" cy="49.7" r="1.55"/><circle cx="327.6" cy="84.8" r="1.55"/><circle cx="270.5" cy="98.6" r="1.55"/><circle cx="337.8" cy="80.0" r="1.55"/><circle cx="295.1" cy="97.1" r="1.55"/><circle cx="345.9" cy="95.8" r="1.55"/><circle cx="314.8" cy="86.8" r="1.55"/><circle cx="316.7" cy="108.3" r="1.55"/><circle cx="308.4" cy="94.9" r="1.55"/><circle cx="304.5" cy="98.9" r="1.55"/><circle cx="298.8" cy="108.4" r="1.55"/><circle cx="286.5" cy="105.2" r="1.55"/><circle cx="338.7" cy="101.2" r="1.55"/><circle cx="337.6" cy="78.7" r="1.55"/><circle cx="350.0" cy="96.6" r="1.55"/><circle cx="330.2" cy="87.5" r="1.55"/><circle cx="337.6" cy="55.3" r="1.55"/><circle cx="348.9" cy="50.6" r="1.55"/><circle cx="289.5" cy="104.3" r="1.55"/><circle cx="266.3" cy="103.5" r="1.55"/><circle cx="308.4" cy="97.8" r="1.55"/><circle cx="304.2" cy="83.5" r="1.55"/><circle cx="269.5" cy="109.1" r="1.55"/><circle cx="337.9" cy="75.1" r="1.55"/><circle cx="338.2" cy="45.1" r="1.55"/><circle cx="338.2" cy="53.5" r="1.55"/><circle cx="326.7" cy="99.1" r="1.55"/><circle cx="326.2" cy="105.8" r="1.55"/><circle cx="356.5" cy="90.1" r="1.55"/><circle cx="338.3" cy="99.7" r="1.55"/><circle cx="318.1" cy="98.7" r="1.55"/><circle cx="321.4" cy="110.3" r="1.55"/><circle cx="295.7" cy="94.2" r="1.55"/><circle cx="297.5" cy="80.5" r="1.55"/><circle cx="337.1" cy="56.6" r="1.55"/><circle cx="286.4" cy="99.1" r="1.55"/><circle cx="327.3" cy="90.2" r="1.55"/><circle cx="337.4" cy="89.4" r="1.55"/><circle cx="267.1" cy="108.0" r="1.55"/><circle cx="252.4" cy="111.8" r="1.55"/><circle cx="338.0" cy="66.8" r="1.55"/><circle cx="338.5" cy="75.1" r="1.55"/><circle cx="297.2" cy="85.9" r="1.55"/><circle cx="272.2" cy="96.4" r="1.55"/><circle cx="319.1" cy="107.8" r="1.55"/><circle cx="252.6" cy="105.9" r="1.55"/><circle cx="319.5" cy="113.6" r="1.55"/><circle cx="294.9" cy="82.4" r="1.55"/><circle cx="285.4" cy="88.8" r="1.55"/><circle cx="338.2" cy="82.3" r="1.55"/><circle cx="272.7" cy="126.0" r="1.55"/><circle cx="272.9" cy="112.3" r="1.55"/><circle cx="309.7" cy="93.0" r="1.55"/><circle cx="367.5" cy="96.3" r="1.55"/><circle cx="338.1" cy="68.7" r="1.55"/><circle cx="313.4" cy="106.0" r="1.55"/><circle cx="273.8" cy="108.6" r="1.55"/><circle cx="338.2" cy="61.4" r="1.55"/><circle cx="337.0" cy="93.0" r="1.55"/><circle cx="288.2" cy="101.3" r="1.55"/><circle cx="289.8" cy="104.1" r="1.55"/><circle cx="337.9" cy="106.6" r="1.55"/><circle cx="307.6" cy="98.2" r="1.55"/><circle cx="327.8" cy="106.3" r="1.55"/><circle cx="337.7" cy="110.1" r="1.55"/><circle cx="337.7" cy="94.8" r="1.55"/><circle cx="338.9" cy="103.2" r="1.55"/><circle cx="337.9" cy="44.3" r="1.55"/><circle cx="277.4" cy="112.6" r="1.55"/><circle cx="330.1" cy="94.0" r="1.55"/><circle cx="337.5" cy="92.0" r="1.55"/><circle cx="266.6" cy="115.3" r="1.55"/><circle cx="292.3" cy="113.3" r="1.55"/><circle cx="337.8" cy="42.4" r="1.55"/><circle cx="264.1" cy="103.0" r="1.55"/><circle cx="278.5" cy="109.4" r="1.55"/><circle cx="273.8" cy="112.3" r="1.55"/><circle cx="288.7" cy="77.9" r="1.55"/><circle cx="338.2" cy="89.9" r="1.55"/><circle cx="338.2" cy="58.2" r="1.55"/><circle cx="316.8" cy="104.0" r="1.55"/><circle cx="310.9" cy="101.5" r="1.55"/><circle cx="277.8" cy="101.8" r="1.55"/><circle cx="337.4" cy="79.2" r="1.55"/><circle cx="337.7" cy="92.1" r="1.55"/><circle cx="337.5" cy="52.6" r="1.55"/><circle cx="291.5" cy="93.4" r="1.55"/><circle cx="301.6" cy="102.6" r="1.55"/><circle cx="337.7" cy="64.1" r="1.55"/><circle cx="345.0" cy="92.4" r="1.55"/><circle cx="274.5" cy="113.3" r="1.55"/><circle cx="265.6" cy="109.7" r="1.55"/><circle cx="331.1" cy="99.4" r="1.55"/><circle cx="337.6" cy="91.1" r="1.55"/><circle cx="270.8" cy="106.0" r="1.55"/><circle cx="337.9" cy="57.9" r="1.55"/><circle cx="387.0" cy="85.0" r="1.55"/><circle cx="323.8" cy="89.1" r="1.55"/><circle cx="252.6" cy="106.1" r="1.55"/><circle cx="282.9" cy="111.1" r="1.55"/><circle cx="307.8" cy="98.4" r="1.55"/><circle cx="316.2" cy="67.7" r="1.55"/><circle cx="338.2" cy="44.8" r="1.55"/><circle cx="288.8" cy="99.4" r="1.55"/><circle cx="338.5" cy="44.8" r="1.55"/><circle cx="252.4" cy="101.8" r="1.55"/><circle cx="283.8" cy="76.1" r="1.55"/><circle cx="320.5" cy="91.5" r="1.55"/><circle cx="338.1" cy="43.9" r="1.55"/><circle cx="266.1" cy="111.1" r="1.55"/><circle cx="328.0" cy="104.9" r="1.55"/><circle cx="335.5" cy="84.9" r="1.55"/><circle cx="338.6" cy="40.7" r="1.55"/><circle cx="253.0" cy="102.1" r="1.55"/><circle cx="302.9" cy="93.2" r="1.55"/><circle cx="338.3" cy="77.2" r="1.55"/><circle cx="285.1" cy="112.3" r="1.55"/><circle cx="252.8" cy="93.8" r="1.55"/><circle cx="338.0" cy="92.4" r="1.55"/><circle cx="283.3" cy="116.1" r="1.55"/><circle cx="271.5" cy="101.7" r="1.55"/><circle cx="298.0" cy="98.7" r="1.55"/><circle cx="315.9" cy="83.3" r="1.55"/><circle cx="307.6" cy="82.4" r="1.55"/><circle cx="307.9" cy="100.0" r="1.55"/><circle cx="304.7" cy="89.9" r="1.55"/><circle cx="291.0" cy="95.6" r="1.55"/><circle cx="273.5" cy="76.4" r="1.55"/><circle cx="292.3" cy="97.0" r="1.55"/><circle cx="337.7" cy="81.9" r="1.55"/><circle cx="323.1" cy="97.9" r="1.55"/><circle cx="337.7" cy="70.9" r="1.55"/><circle cx="337.9" cy="53.3" r="1.55"/><circle cx="390.5" cy="97.0" r="1.55"/><circle cx="292.9" cy="89.4" r="1.55"/><circle cx="338.2" cy="69.5" r="1.55"/><circle cx="299.7" cy="88.2" r="1.55"/><circle cx="291.8" cy="106.3" r="1.55"/><circle cx="283.5" cy="99.1" r="1.55"/><circle cx="338.0" cy="76.4" r="1.55"/><circle cx="338.4" cy="58.2" r="1.55"/><circle cx="288.0" cy="90.4" r="1.55"/><circle cx="338.2" cy="74.2" r="1.55"/><circle cx="282.1" cy="120.9" r="1.55"/><circle cx="337.9" cy="87.9" r="1.55"/><circle cx="282.5" cy="70.3" r="1.55"/><circle cx="284.2" cy="91.2" r="1.55"/><circle cx="337.8" cy="90.8" r="1.55"/><circle cx="364.2" cy="96.3" r="1.55"/><circle cx="305.1" cy="104.8" r="1.55"/><circle cx="252.5" cy="105.9" r="1.55"/><circle cx="310.5" cy="98.9" r="1.55"/><circle cx="303.0" cy="113.3" r="1.55"/><circle cx="273.0" cy="118.9" r="1.55"/><circle cx="281.9" cy="93.8" r="1.55"/><circle cx="288.3" cy="87.7" r="1.55"/><circle cx="293.2" cy="84.8" r="1.55"/><circle cx="321.2" cy="114.7" r="1.55"/><circle cx="296.9" cy="102.3" r="1.55"/><circle cx="295.8" cy="96.2" r="1.55"/><circle cx="338.3" cy="84.2" r="1.55"/><circle cx="337.9" cy="52.0" r="1.55"/><circle cx="252.9" cy="113.2" r="1.55"/><circle cx="337.6" cy="42.4" r="1.55"/><circle cx="337.9" cy="41.0" r="1.55"/><circle cx="280.4" cy="106.6" r="1.55"/><circle cx="294.6" cy="96.2" r="1.55"/><circle cx="337.7" cy="93.9" r="1.55"/><circle cx="337.7" cy="72.2" r="1.55"/><circle cx="337.9" cy="43.5" r="1.55"/><circle cx="278.5" cy="101.7" r="1.55"/><circle cx="328.2" cy="102.9" r="1.55"/><circle cx="328.1" cy="84.0" r="1.55"/><circle cx="338.0" cy="74.6" r="1.55"/><circle cx="273.8" cy="106.1" r="1.55"/><circle cx="291.7" cy="96.6" r="1.55"/><circle cx="274.0" cy="85.8" r="1.55"/><circle cx="287.5" cy="116.2" r="1.55"/><circle cx="297.4" cy="77.0" r="1.55"/><circle cx="274.8" cy="69.3" r="1.55"/><circle cx="291.4" cy="80.2" r="1.55"/><circle cx="265.0" cy="122.7" r="1.55"/><circle cx="337.5" cy="69.7" r="1.55"/><circle cx="291.9" cy="99.8" r="1.55"/><circle cx="372.5" cy="94.9" r="1.55"/><circle cx="338.2" cy="90.0" r="1.55"/><circle cx="280.2" cy="108.3" r="1.55"/><circle cx="291.4" cy="100.4" r="1.55"/><circle cx="338.0" cy="65.2" r="1.55"/><circle cx="273.9" cy="64.3" r="1.55"/><circle cx="335.3" cy="51.4" r="1.55"/><circle cx="278.2" cy="109.3" r="1.55"/><circle cx="292.7" cy="109.9" r="1.55"/><circle cx="337.8" cy="83.4" r="1.55"/><circle cx="288.2" cy="80.7" r="1.55"/><circle cx="300.3" cy="115.6" r="1.55"/><circle cx="252.5" cy="102.4" r="1.55"/><circle cx="337.5" cy="64.2" r="1.55"/><circle cx="337.6" cy="58.6" r="1.55"/><circle cx="321.2" cy="81.0" r="1.55"/><circle cx="290.5" cy="95.8" r="1.55"/><circle cx="306.8" cy="98.5" r="1.55"/><circle cx="273.9" cy="103.4" r="1.55"/><circle cx="290.1" cy="108.4" r="1.55"/><circle cx="277.9" cy="98.4" r="1.55"/><circle cx="371.1" cy="100.2" r="1.55"/><circle cx="323.6" cy="86.6" r="1.55"/><circle cx="306.3" cy="95.7" r="1.55"/><circle cx="337.7" cy="69.4" r="1.55"/><circle cx="280.2" cy="106.9" r="1.55"/><circle cx="315.4" cy="100.4" r="1.55"/><circle cx="338.3" cy="49.4" r="1.55"/><circle cx="256.9" cy="99.5" r="1.55"/><circle cx="283.7" cy="108.6" r="1.55"/><circle cx="337.9" cy="48.7" r="1.55"/><circle cx="338.0" cy="66.0" r="1.55"/><circle cx="364.9" cy="72.9" r="1.55"/><circle cx="337.8" cy="45.5" r="1.55"/><circle cx="338.7" cy="108.0" r="1.55"/><circle cx="278.9" cy="104.6" r="1.55"/><circle cx="316.3" cy="98.0" r="1.55"/><circle cx="269.8" cy="126.0" r="1.55"/><circle cx="298.9" cy="105.9" r="1.55"/><circle cx="300.8" cy="93.2" r="1.55"/><circle cx="338.2" cy="71.8" r="1.55"/><circle cx="337.6" cy="74.7" r="1.55"/><circle cx="294.3" cy="95.8" r="1.55"/><circle cx="311.6" cy="96.7" r="1.55"/><circle cx="306.7" cy="106.9" r="1.55"/><circle cx="297.7" cy="92.9" r="1.55"/><circle cx="338.7" cy="44.8" r="1.55"/><circle cx="297.1" cy="104.8" r="1.55"/><circle cx="338.6" cy="71.0" r="1.55"/><circle cx="311.3" cy="90.5" r="1.55"/><circle cx="307.9" cy="107.2" r="1.55"/><circle cx="338.3" cy="99.2" r="1.55"/><circle cx="338.1" cy="92.7" r="1.55"/><circle cx="288.6" cy="119.2" r="1.55"/><circle cx="338.0" cy="92.4" r="1.55"/><circle cx="267.2" cy="114.8" r="1.55"/><circle cx="297.7" cy="112.4" r="1.55"/><circle cx="275.6" cy="110.0" r="1.55"/><circle cx="282.8" cy="85.7" r="1.55"/><circle cx="338.3" cy="112.2" r="1.55"/><circle cx="299.0" cy="98.7" r="1.55"/><circle cx="332.8" cy="95.0" r="1.55"/><circle cx="360.4" cy="88.1" r="1.55"/><circle cx="322.6" cy="100.2" r="1.55"/><circle cx="337.8" cy="113.6" r="1.55"/><circle cx="321.9" cy="102.6" r="1.55"/><circle cx="298.1" cy="82.4" r="1.55"/><circle cx="318.1" cy="91.9" r="1.55"/><circle cx="276.8" cy="94.6" r="1.55"/><circle cx="265.6" cy="112.1" r="1.55"/><circle cx="335.3" cy="50.9" r="1.55"/><circle cx="309.2" cy="90.7" r="1.55"/><circle cx="338.3" cy="112.8" r="1.55"/><circle cx="255.2" cy="91.1" r="1.55"/><circle cx="268.9" cy="116.9" r="1.55"/><circle cx="310.8" cy="103.5" r="1.55"/><circle cx="297.7" cy="117.6" r="1.55"/><circle cx="278.5" cy="112.5" r="1.55"/><circle cx="337.8" cy="92.5" r="1.55"/><circle cx="303.9" cy="94.7" r="1.55"/><circle cx="265.4" cy="107.3" r="1.55"/><circle cx="267.9" cy="109.4" r="1.55"/><circle cx="291.8" cy="118.9" r="1.55"/><circle cx="277.1" cy="93.3" r="1.55"/><circle cx="338.0" cy="41.6" r="1.55"/><circle cx="303.2" cy="103.5" r="1.55"/><circle cx="283.1" cy="93.5" r="1.55"/><circle cx="278.7" cy="95.3" r="1.55"/><circle cx="338.0" cy="91.7" r="1.55"/><circle cx="288.1" cy="120.7" r="1.55"/><circle cx="337.9" cy="96.1" r="1.55"/><circle cx="275.5" cy="105.8" r="1.55"/><circle cx="338.1" cy="40.0" r="1.55"/><circle cx="278.2" cy="107.6" r="1.55"/><circle cx="266.4" cy="124.9" r="1.55"/><circle cx="296.9" cy="107.7" r="1.55"/><circle cx="338.6" cy="75.4" r="1.55"/><circle cx="292.5" cy="114.8" r="1.55"/><circle cx="277.1" cy="105.5" r="1.55"/><circle cx="333.5" cy="96.0" r="1.55"/><circle cx="327.2" cy="90.7" r="1.55"/><circle cx="289.7" cy="107.5" r="1.55"/><circle cx="317.9" cy="92.3" r="1.55"/><circle cx="288.1" cy="103.1" r="1.55"/><circle cx="337.5" cy="71.2" r="1.55"/><circle cx="286.0" cy="101.0" r="1.55"/><circle cx="252.4" cy="100.4" r="1.55"/><circle cx="305.4" cy="90.5" r="1.55"/><circle cx="274.1" cy="108.6" r="1.55"/><circle cx="288.4" cy="102.6" r="1.55"/><circle cx="337.6" cy="64.1" r="1.55"/><circle cx="336.3" cy="90.8" r="1.55"/><circle cx="338.4" cy="42.6" r="1.55"/><circle cx="337.7" cy="69.9" r="1.55"/><circle cx="338.3" cy="85.2" r="1.55"/><circle cx="337.6" cy="73.6" r="1.55"/><circle cx="273.5" cy="87.2" r="1.55"/><circle cx="291.7" cy="100.4" r="1.55"/><circle cx="273.4" cy="74.3" r="1.55"/><circle cx="331.6" cy="93.0" r="1.55"/><circle cx="337.9" cy="57.6" r="1.55"/><circle cx="344.2" cy="99.3" r="1.55"/><circle cx="337.5" cy="43.3" r="1.55"/><circle cx="337.6" cy="83.9" r="1.55"/><circle cx="321.7" cy="105.9" r="1.55"/><circle cx="306.6" cy="98.8" r="1.55"/><circle cx="323.9" cy="72.7" r="1.55"/><circle cx="337.8" cy="64.4" r="1.55"/><circle cx="286.4" cy="81.2" r="1.55"/><circle cx="335.8" cy="87.2" r="1.55"/><circle cx="337.7" cy="50.6" r="1.55"/><circle cx="337.8" cy="39.9" r="1.55"/><circle cx="296.0" cy="102.0" r="1.55"/><circle cx="310.7" cy="90.7" r="1.55"/><circle cx="337.3" cy="71.6" r="1.55"/><circle cx="291.4" cy="107.8" r="1.55"/><circle cx="288.2" cy="84.5" r="1.55"/><circle cx="338.4" cy="59.8" r="1.55"/><circle cx="313.8" cy="112.8" r="1.55"/><circle cx="282.2" cy="78.4" r="1.55"/><circle cx="314.8" cy="99.5" r="1.55"/><circle cx="310.4" cy="94.1" r="1.55"/><circle cx="276.6" cy="108.0" r="1.55"/><circle cx="338.3" cy="77.3" r="1.55"/><circle cx="304.1" cy="93.7" r="1.55"/><circle cx="289.4" cy="92.7" r="1.55"/><circle cx="266.3" cy="102.6" r="1.55"/><circle cx="289.1" cy="87.7" r="1.55"/><circle cx="267.6" cy="117.2" r="1.55"/><circle cx="275.8" cy="120.5" r="1.55"/><circle cx="274.6" cy="102.9" r="1.55"/><circle cx="280.5" cy="121.8" r="1.55"/><circle cx="293.3" cy="78.7" r="1.55"/><circle cx="353.0" cy="93.1" r="1.55"/><circle cx="338.3" cy="89.1" r="1.55"/><circle cx="337.7" cy="60.9" r="1.55"/><circle cx="338.8" cy="104.1" r="1.55"/><circle cx="289.1" cy="98.1" r="1.55"/><circle cx="294.9" cy="97.2" r="1.55"/><circle cx="272.5" cy="99.7" r="1.55"/><circle cx="266.1" cy="117.0" r="1.55"/><circle cx="338.2" cy="55.8" r="1.55"/><circle cx="338.1" cy="94.6" r="1.55"/><circle cx="292.7" cy="96.6" r="1.55"/><circle cx="275.4" cy="115.4" r="1.55"/><circle cx="338.0" cy="86.7" r="1.55"/><circle cx="282.5" cy="95.5" r="1.55"/></g>
<rect x="243.6" y="1.5" width="201.3" height="160.9" fill="none" stroke="#636363" stroke-width="0.8"/>
<g class="p"><circle cx="519.5" cy="117.6" r="1.55"/><circle cx="514.5" cy="94.7" r="1.55"/><circle cx="561.8" cy="103.5" r="1.55"/><circle cx="562.5" cy="94.7" r="1.55"/><circle cx="646.5" cy="69.5" r="1.55"/><circle cx="600.4" cy="108.0" r="1.55"/><circle cx="567.6" cy="101.1" r="1.55"/><circle cx="641.4" cy="103.1" r="1.55"/><circle cx="665.6" cy="81.1" r="1.55"/><circle cx="551.1" cy="102.0" r="1.55"/><circle cx="585.3" cy="111.1" r="1.55"/><circle cx="641.2" cy="80.7" r="1.55"/><circle cx="564.9" cy="106.9" r="1.55"/><circle cx="529.5" cy="102.7" r="1.55"/><circle cx="494.7" cy="106.5" r="1.55"/><circle cx="560.2" cy="94.6" r="1.55"/><circle cx="644.1" cy="96.5" r="1.55"/><circle cx="566.1" cy="110.8" r="1.55"/><circle cx="656.2" cy="88.8" r="1.55"/><circle cx="646.4" cy="66.8" r="1.55"/><circle cx="515.3" cy="102.5" r="1.55"/><circle cx="592.6" cy="105.3" r="1.55"/><circle cx="654.5" cy="99.3" r="1.55"/><circle cx="601.0" cy="105.2" r="1.55"/><circle cx="639.0" cy="102.3" r="1.55"/><circle cx="560.2" cy="92.8" r="1.55"/><circle cx="560.5" cy="102.0" r="1.55"/><circle cx="658.2" cy="97.8" r="1.55"/><circle cx="583.0" cy="110.9" r="1.55"/><circle cx="585.6" cy="66.2" r="1.55"/><circle cx="600.3" cy="94.6" r="1.55"/><circle cx="585.3" cy="65.5" r="1.55"/><circle cx="557.7" cy="82.1" r="1.55"/><circle cx="601.0" cy="41.6" r="1.55"/><circle cx="575.6" cy="99.3" r="1.55"/><circle cx="542.9" cy="104.7" r="1.55"/><circle cx="657.7" cy="105.5" r="1.55"/><circle cx="529.5" cy="104.3" r="1.55"/><circle cx="540.0" cy="115.2" r="1.55"/><circle cx="562.9" cy="80.2" r="1.55"/><circle cx="643.3" cy="93.4" r="1.55"/><circle cx="661.0" cy="94.0" r="1.55"/><circle cx="645.5" cy="96.7" r="1.55"/><circle cx="583.4" cy="93.3" r="1.55"/><circle cx="514.0" cy="59.3" r="1.55"/><circle cx="533.1" cy="111.5" r="1.55"/><circle cx="515.2" cy="99.6" r="1.55"/><circle cx="540.1" cy="112.3" r="1.55"/><circle cx="540.0" cy="97.5" r="1.55"/><circle cx="643.3" cy="55.5" r="1.55"/><circle cx="600.6" cy="72.7" r="1.55"/><circle cx="666.0" cy="98.9" r="1.55"/><circle cx="648.4" cy="97.9" r="1.55"/><circle cx="562.3" cy="86.1" r="1.55"/><circle cx="496.4" cy="101.6" r="1.55"/><circle cx="600.8" cy="74.4" r="1.55"/><circle cx="563.2" cy="44.9" r="1.55"/><circle cx="666.1" cy="72.5" r="1.55"/><circle cx="666.1" cy="51.9" r="1.55"/><circle cx="582.8" cy="98.6" r="1.55"/><circle cx="588.0" cy="91.7" r="1.55"/><circle cx="666.6" cy="96.6" r="1.55"/><circle cx="666.6" cy="66.6" r="1.55"/><circle cx="601.6" cy="64.0" r="1.55"/><circle cx="544.8" cy="109.4" r="1.55"/><circle cx="539.4" cy="98.8" r="1.55"/><circle cx="600.8" cy="96.4" r="1.55"/><circle cx="516.7" cy="101.7" r="1.55"/><circle cx="588.1" cy="110.4" r="1.55"/><circle cx="666.3" cy="102.2" r="1.55"/><circle cx="646.5" cy="101.4" r="1.55"/><circle cx="515.2" cy="92.9" r="1.55"/><circle cx="580.7" cy="94.7" r="1.55"/><circle cx="585.7" cy="79.8" r="1.55"/><circle cx="506.9" cy="101.0" r="1.55"/><circle cx="666.7" cy="104.9" r="1.55"/><circle cx="580.6" cy="88.2" r="1.55"/><circle cx="665.8" cy="103.9" r="1.55"/><circle cx="610.7" cy="108.0" r="1.55"/><circle cx="564.7" cy="94.0" r="1.55"/><circle cx="585.6" cy="61.9" r="1.55"/><circle cx="588.7" cy="98.0" r="1.55"/><circle cx="509.3" cy="96.0" r="1.55"/><circle cx="580.5" cy="94.4" r="1.55"/><circle cx="554.9" cy="98.3" r="1.55"/><circle cx="600.6" cy="41.8" r="1.55"/><circle cx="565.2" cy="106.8" r="1.55"/><circle cx="667.0" cy="99.4" r="1.55"/><circle cx="511.8" cy="88.8" r="1.55"/><circle cx="544.8" cy="103.1" r="1.55"/><circle cx="597.7" cy="99.0" r="1.55"/><circle cx="666.8" cy="73.1" r="1.55"/><circle cx="529.4" cy="102.7" r="1.55"/><circle cx="600.5" cy="84.5" r="1.55"/><circle cx="656.2" cy="128.0" r="1.55"/><circle cx="663.9" cy="69.7" r="1.55"/><circle cx="602.2" cy="101.6" r="1.55"/><circle cx="542.4" cy="118.7" r="1.55"/><circle cx="557.4" cy="101.3" r="1.55"/><circle cx="487.6" cy="112.0" r="1.55"/><circle cx="552.3" cy="105.1" r="1.55"/><circle cx="498.8" cy="113.6" r="1.55"/><circle cx="510.3" cy="110.9" r="1.55"/><circle cx="568.1" cy="99.8" r="1.55"/><circle cx="631.2" cy="96.7" r="1.55"/><circle cx="663.7" cy="81.4" r="1.55"/><circle cx="532.1" cy="106.3" r="1.55"/><circle cx="564.5" cy="109.2" r="1.55"/><circle cx="646.3" cy="110.1" r="1.55"/><circle cx="646.1" cy="64.2" r="1.55"/><circle cx="544.3" cy="114.6" r="1.55"/><circle cx="651.9" cy="97.4" r="1.55"/><circle cx="516.5" cy="110.0" r="1.55"/><circle cx="494.7" cy="108.4" r="1.55"/><circle cx="643.7" cy="92.8" r="1.55"/><circle cx="557.4" cy="111.1" r="1.55"/><circle cx="596.1" cy="106.0" r="1.55"/><circle cx="598.4" cy="83.0" r="1.55"/><circle cx="603.6" cy="112.5" r="1.55"/><circle cx="513.7" cy="108.0" r="1.55"/><circle cx="519.9" cy="107.0" r="1.55"/><circle cx="657.7" cy="90.4" r="1.55"/><circle cx="666.5" cy="90.1" r="1.55"/><circle cx="585.2" cy="69.9" r="1.55"/><circle cx="598.3" cy="101.4" r="1.55"/><circle cx="567.6" cy="93.3" r="1.55"/><circle cx="535.1" cy="110.4" r="1.55"/><circle cx="504.2" cy="97.3" r="1.55"/><circle cx="560.4" cy="91.9" r="1.55"/><circle cx="651.3" cy="92.5" r="1.55"/><circle cx="646.3" cy="61.4" r="1.55"/><circle cx="666.5" cy="39.5" r="1.55"/><circle cx="517.3" cy="95.1" r="1.55"/><circle cx="545.6" cy="101.4" r="1.55"/><circle cx="641.0" cy="86.6" r="1.55"/><circle cx="666.4" cy="108.4" r="1.55"/><circle cx="643.8" cy="53.2" r="1.55"/><circle cx="666.4" cy="91.5" r="1.55"/><circle cx="646.5" cy="93.4" r="1.55"/><circle cx="666.4" cy="44.2" r="1.55"/><circle cx="602.8" cy="96.6" r="1.55"/><circle cx="563.1" cy="81.0" r="1.55"/><circle cx="603.7" cy="98.6" r="1.55"/><circle cx="512.5" cy="98.4" r="1.55"/><circle cx="560.3" cy="83.8" r="1.55"/><circle cx="552.6" cy="104.3" r="1.55"/><circle cx="643.1" cy="99.4" r="1.55"/><circle cx="603.2" cy="117.2" r="1.55"/><circle cx="666.2" cy="63.8" r="1.55"/><circle cx="540.2" cy="106.4" r="1.55"/><circle cx="556.4" cy="103.1" r="1.55"/><circle cx="514.4" cy="90.2" r="1.55"/><circle cx="512.4" cy="96.3" r="1.55"/><circle cx="648.7" cy="90.4" r="1.55"/><circle cx="666.5" cy="77.9" r="1.55"/><circle cx="536.9" cy="107.6" r="1.55"/><circle cx="574.9" cy="100.1" r="1.55"/><circle cx="663.7" cy="78.8" r="1.55"/><circle cx="646.2" cy="86.8" r="1.55"/><circle cx="602.9" cy="63.3" r="1.55"/><circle cx="600.3" cy="87.1" r="1.55"/><circle cx="600.8" cy="49.4" r="1.55"/><circle cx="600.9" cy="86.7" r="1.55"/><circle cx="665.9" cy="42.4" r="1.55"/><circle cx="572.9" cy="104.3" r="1.55"/><circle cx="557.6" cy="99.5" r="1.55"/><circle cx="517.5" cy="87.1" r="1.55"/><circle cx="495.2" cy="111.4" r="1.55"/><circle cx="542.7" cy="100.5" r="1.55"/><circle cx="580.9" cy="104.1" r="1.55"/><circle cx="666.6" cy="96.1" r="1.55"/><circle cx="518.3" cy="119.0" r="1.55"/><circle cx="638.7" cy="107.7" r="1.55"/><circle cx="667.0" cy="100.1" r="1.55"/><circle cx="600.7" cy="107.9" r="1.55"/><circle cx="600.6" cy="48.8" r="1.55"/><circle cx="517.2" cy="85.1" r="1.55"/><circle cx="575.9" cy="98.2" r="1.55"/><circle cx="666.0" cy="65.3" r="1.55"/><circle cx="601.2" cy="74.5" r="1.55"/><circle cx="548.2" cy="113.6" r="1.55"/><circle cx="653.2" cy="105.4" r="1.55"/><circle cx="552.6" cy="101.3" r="1.55"/><circle cx="512.6" cy="103.9" r="1.55"/><circle cx="553.7" cy="95.0" r="1.55"/><circle cx="600.3" cy="101.3" r="1.55"/><circle cx="509.5" cy="94.9" r="1.55"/><circle cx="665.9" cy="37.3" r="1.55"/><circle cx="666.2" cy="113.9" r="1.55"/><circle cx="641.0" cy="62.6" r="1.55"/><circle cx="666.3" cy="40.6" r="1.55"/><circle cx="603.5" cy="108.5" r="1.55"/><circle cx="543.7" cy="108.8" r="1.55"/><circle cx="529.2" cy="110.2" r="1.55"/><circle cx="585.3" cy="65.1" r="1.55"/><circle cx="570.5" cy="103.9" r="1.55"/><circle cx="552.4" cy="104.9" r="1.55"/><circle cx="565.7" cy="89.6" r="1.55"/><circle cx="666.7" cy="87.7" r="1.55"/><circle cx="547.0" cy="103.4" r="1.55"/><circle cx="595.0" cy="107.0" r="1.55"/><circle cx="668.6" cy="72.3" r="1.55"/><circle cx="641.0" cy="49.3" r="1.55"/><circle cx="494.5" cy="109.6" r="1.55"/><circle cx="488.3" cy="106.2" r="1.55"/><circle cx="645.6" cy="89.3" r="1.55"/><circle cx="517.5" cy="94.8" r="1.55"/><circle cx="570.3" cy="109.0" r="1.55"/><circle cx="562.8" cy="98.7" r="1.55"/><circle cx="655.9" cy="88.3" r="1.55"/><circle cx="585.4" cy="86.9" r="1.55"/><circle cx="581.0" cy="103.7" r="1.55"/><circle cx="509.9" cy="104.0" r="1.55"/><circle cx="495.7" cy="117.8" r="1.55"/><circle cx="491.4" cy="111.3" r="1.55"/><circle cx="601.1" cy="73.7" r="1.55"/><circle cx="658.9" cy="83.7" r="1.55"/><circle cx="604.4" cy="106.5" r="1.55"/><circle cx="492.3" cy="106.4" r="1.55"/><circle cx="666.2" cy="37.7" r="1.55"/><circle cx="514.7" cy="82.9" r="1.55"/><circle cx="665.8" cy="64.1" r="1.55"/><circle cx="666.4" cy="58.7" r="1.55"/><circle cx="575.4" cy="105.2" r="1.55"/><circle cx="584.9" cy="97.8" r="1.55"/><circle cx="564.3" cy="99.9" r="1.55"/><circle cx="668.7" cy="66.7" r="1.55"/><circle cx="562.8" cy="67.9" r="1.55"/><circle cx="562.1" cy="111.7" r="1.55"/><circle cx="587.9" cy="79.3" r="1.55"/><circle cx="520.1" cy="107.8" r="1.55"/><circle cx="643.4" cy="55.4" r="1.55"/><circle cx="509.8" cy="108.1" r="1.55"/><circle cx="548.5" cy="111.8" r="1.55"/><circle cx="665.8" cy="69.6" r="1.55"/><circle cx="600.5" cy="91.0" r="1.55"/><circle cx="489.2" cy="112.8" r="1.55"/><circle cx="601.0" cy="81.2" r="1.55"/><circle cx="643.5" cy="57.4" r="1.55"/><circle cx="665.8" cy="92.4" r="1.55"/><circle cx="583.0" cy="38.2" r="1.55"/><circle cx="641.0" cy="69.3" r="1.55"/><circle cx="515.3" cy="86.1" r="1.55"/><circle cx="576.6" cy="103.3" r="1.55"/><circle cx="641.0" cy="88.3" r="1.55"/><circle cx="641.1" cy="105.2" r="1.55"/><circle cx="642.5" cy="100.6" r="1.55"/><circle cx="520.0" cy="108.6" r="1.55"/><circle cx="666.2" cy="95.3" r="1.55"/><circle cx="600.9" cy="75.6" r="1.55"/><circle cx="547.9" cy="109.6" r="1.55"/><circle cx="600.5" cy="93.0" r="1.55"/><circle cx="539.2" cy="114.0" r="1.55"/><circle cx="545.8" cy="103.8" r="1.55"/><circle cx="646.1" cy="86.3" r="1.55"/><circle cx="666.2" cy="53.7" r="1.55"/><circle cx="651.6" cy="101.1" r="1.55"/><circle cx="664.0" cy="76.5" r="1.55"/><circle cx="630.8" cy="108.1" r="1.55"/><circle cx="640.5" cy="91.7" r="1.55"/><circle cx="620.6" cy="99.1" r="1.55"/><circle cx="514.5" cy="80.4" r="1.55"/><circle cx="665.6" cy="97.4" r="1.55"/><circle cx="541.9" cy="117.7" r="1.55"/><circle cx="558.2" cy="97.0" r="1.55"/><circle cx="565.6" cy="97.5" r="1.55"/><circle cx="580.6" cy="110.4" r="1.55"/><circle cx="560.3" cy="89.3" r="1.55"/><circle cx="514.2" cy="87.9" r="1.55"/><circle cx="652.8" cy="94.1" r="1.55"/><circle cx="532.5" cy="107.4" r="1.55"/><circle cx="666.5" cy="86.5" r="1.55"/><circle cx="491.9" cy="113.8" r="1.55"/><circle cx="648.4" cy="100.9" r="1.55"/><circle cx="585.2" cy="91.6" r="1.55"/><circle cx="666.3" cy="72.8" r="1.55"/><circle cx="666.5" cy="37.0" r="1.55"/><circle cx="651.0" cy="107.5" r="1.55"/><circle cx="666.3" cy="106.8" r="1.55"/><circle cx="603.1" cy="95.0" r="1.55"/><circle cx="600.9" cy="37.1" r="1.55"/><circle cx="641.2" cy="51.1" r="1.55"/><circle cx="649.0" cy="96.0" r="1.55"/><circle cx="552.8" cy="104.0" r="1.55"/><circle cx="641.2" cy="54.6" r="1.55"/><circle cx="666.6" cy="40.6" r="1.55"/><circle cx="557.7" cy="106.3" r="1.55"/><circle cx="542.1" cy="118.3" r="1.55"/><circle cx="552.5" cy="113.5" r="1.55"/><circle cx="661.4" cy="108.1" r="1.55"/><circle cx="515.1" cy="95.3" r="1.55"/><circle cx="585.0" cy="89.6" r="1.55"/><circle cx="580.4" cy="86.2" r="1.55"/><circle cx="569.4" cy="109.9" r="1.55"/><circle cx="561.1" cy="98.7" r="1.55"/><circle cx="668.3" cy="92.0" r="1.55"/><circle cx="666.6" cy="68.5" r="1.55"/><circle cx="538.0" cy="101.1" r="1.55"/><circle cx="529.0" cy="117.9" r="1.55"/><circle cx="527.0" cy="114.7" r="1.55"/><circle cx="600.9" cy="76.4" r="1.55"/><circle cx="664.3" cy="84.5" r="1.55"/><circle cx="600.7" cy="55.5" r="1.55"/><circle cx="600.9" cy="78.8" r="1.55"/><circle cx="641.3" cy="109.5" r="1.55"/><circle cx="552.1" cy="109.8" r="1.55"/><circle cx="592.7" cy="96.6" r="1.55"/><circle cx="525.8" cy="103.1" r="1.55"/><circle cx="658.7" cy="90.7" r="1.55"/><circle cx="666.2" cy="79.4" r="1.55"/><circle cx="560.1" cy="64.5" r="1.55"/><circle cx="647.9" cy="115.5" r="1.55"/><circle cx="665.7" cy="98.4" r="1.55"/><circle cx="510.2" cy="105.9" r="1.55"/><circle cx="666.4" cy="101.4" r="1.55"/><circle cx="562.7" cy="53.2" r="1.55"/><circle cx="669.0" cy="75.1" r="1.55"/><circle cx="602.6" cy="106.8" r="1.55"/><circle cx="643.6" cy="105.6" r="1.55"/><circle cx="598.8" cy="106.7" r="1.55"/><circle cx="562.7" cy="52.8" r="1.55"/><circle cx="645.7" cy="95.7" r="1.55"/><circle cx="600.5" cy="55.2" r="1.55"/><circle cx="618.1" cy="104.4" r="1.55"/><circle cx="597.3" cy="94.5" r="1.55"/><circle cx="598.4" cy="95.2" r="1.55"/><circle cx="562.6" cy="90.7" r="1.55"/><circle cx="600.6" cy="77.8" r="1.55"/><circle cx="600.8" cy="60.9" r="1.55"/><circle cx="597.6" cy="95.3" r="1.55"/><circle cx="552.4" cy="96.3" r="1.55"/><circle cx="666.1" cy="82.5" r="1.55"/><circle cx="606.2" cy="101.1" r="1.55"/><circle cx="640.8" cy="62.0" r="1.55"/><circle cx="600.7" cy="52.1" r="1.55"/><circle cx="512.6" cy="115.8" r="1.55"/><circle cx="646.2" cy="82.7" r="1.55"/><circle cx="667.0" cy="107.0" r="1.55"/><circle cx="600.7" cy="95.5" r="1.55"/><circle cx="574.3" cy="108.9" r="1.55"/><circle cx="600.9" cy="67.9" r="1.55"/><circle cx="603.1" cy="84.5" r="1.55"/><circle cx="647.5" cy="98.6" r="1.55"/><circle cx="606.1" cy="93.1" r="1.55"/><circle cx="593.9" cy="102.3" r="1.55"/><circle cx="504.9" cy="102.3" r="1.55"/><circle cx="494.6" cy="122.3" r="1.55"/><circle cx="508.0" cy="104.1" r="1.55"/><circle cx="561.6" cy="96.4" r="1.55"/><circle cx="646.5" cy="61.8" r="1.55"/><circle cx="570.6" cy="111.3" r="1.55"/><circle cx="657.7" cy="103.8" r="1.55"/><circle cx="514.5" cy="96.4" r="1.55"/><circle cx="583.5" cy="107.4" r="1.55"/><circle cx="600.9" cy="112.1" r="1.55"/><circle cx="510.7" cy="97.8" r="1.55"/><circle cx="515.0" cy="97.9" r="1.55"/><circle cx="646.6" cy="85.8" r="1.55"/><circle cx="666.1" cy="86.4" r="1.55"/><circle cx="643.6" cy="66.7" r="1.55"/><circle cx="666.0" cy="94.4" r="1.55"/><circle cx="539.6" cy="110.4" r="1.55"/><circle cx="660.9" cy="111.9" r="1.55"/><circle cx="558.0" cy="97.9" r="1.55"/><circle cx="582.7" cy="110.3" r="1.55"/><circle cx="555.4" cy="90.5" r="1.55"/><circle cx="491.4" cy="109.8" r="1.55"/><circle cx="495.2" cy="114.8" r="1.55"/><circle cx="505.0" cy="104.3" r="1.55"/><circle cx="666.1" cy="76.5" r="1.55"/><circle cx="600.6" cy="53.5" r="1.55"/><circle cx="643.7" cy="84.4" r="1.55"/><circle cx="643.5" cy="72.4" r="1.55"/><circle cx="544.2" cy="117.2" r="1.55"/><circle cx="665.5" cy="90.0" r="1.55"/><circle cx="666.5" cy="54.3" r="1.55"/><circle cx="503.4" cy="94.9" r="1.55"/><circle cx="562.4" cy="46.4" r="1.55"/><circle cx="557.8" cy="85.9" r="1.55"/><circle cx="561.2" cy="109.1" r="1.55"/><circle cx="540.0" cy="110.5" r="1.55"/><circle cx="524.3" cy="99.3" r="1.55"/><circle cx="560.4" cy="105.7" r="1.55"/><circle cx="563.1" cy="102.4" r="1.55"/><circle cx="599.9" cy="99.6" r="1.55"/><circle cx="582.4" cy="108.2" r="1.55"/><circle cx="558.4" cy="105.7" r="1.55"/><circle cx="487.1" cy="116.8" r="1.55"/><circle cx="643.8" cy="94.0" r="1.55"/><circle cx="512.3" cy="91.1" r="1.55"/><circle cx="648.6" cy="92.2" r="1.55"/><circle cx="666.1" cy="44.8" r="1.55"/><circle cx="583.2" cy="103.3" r="1.55"/><circle cx="586.3" cy="109.8" r="1.55"/><circle cx="666.3" cy="17.7" r="1.55"/><circle cx="494.4" cy="109.0" r="1.55"/><circle cx="587.7" cy="84.8" r="1.55"/><circle cx="580.4" cy="106.2" r="1.55"/><circle cx="580.7" cy="89.8" r="1.55"/><circle cx="575.4" cy="111.1" r="1.55"/><circle cx="580.7" cy="104.9" r="1.55"/><circle cx="581.2" cy="92.0" r="1.55"/><circle cx="540.0" cy="109.0" r="1.55"/><circle cx="641.4" cy="61.4" r="1.55"/><circle cx="666.8" cy="36.3" r="1.55"/><circle cx="666.6" cy="73.2" r="1.55"/><circle cx="538.0" cy="117.4" r="1.55"/><circle cx="601.6" cy="101.2" r="1.55"/><circle cx="585.4" cy="88.0" r="1.55"/><circle cx="489.4" cy="108.5" r="1.55"/><circle cx="562.5" cy="44.6" r="1.55"/><circle cx="491.2" cy="109.1" r="1.55"/><circle cx="555.3" cy="74.5" r="1.55"/><circle cx="542.5" cy="121.3" r="1.55"/><circle cx="517.1" cy="93.3" r="1.55"/><circle cx="658.6" cy="85.1" r="1.55"/><circle cx="572.2" cy="100.5" r="1.55"/><circle cx="600.6" cy="62.6" r="1.55"/><circle cx="585.0" cy="62.2" r="1.55"/><circle cx="573.2" cy="111.7" r="1.55"/><circle cx="512.7" cy="113.4" r="1.55"/><circle cx="580.5" cy="88.8" r="1.55"/><circle cx="562.9" cy="75.7" r="1.55"/><circle cx="643.4" cy="103.1" r="1.55"/><circle cx="645.9" cy="68.7" r="1.55"/><circle cx="666.9" cy="102.2" r="1.55"/><circle cx="514.2" cy="96.6" r="1.55"/><circle cx="650.9" cy="83.4" r="1.55"/><circle cx="597.6" cy="93.6" r="1.55"/><circle cx="622.9" cy="92.0" r="1.55"/><circle cx="643.8" cy="18.1" r="1.55"/><circle cx="534.9" cy="116.4" r="1.55"/><circle cx="557.6" cy="91.0" r="1.55"/><circle cx="558.6" cy="109.6" r="1.55"/><circle cx="624.0" cy="103.8" r="1.55"/><circle cx="666.0" cy="77.4" r="1.55"/><circle cx="492.4" cy="111.9" r="1.55"/><circle cx="665.8" cy="95.4" r="1.55"/><circle cx="578.0" cy="113.3" r="1.55"/><circle cx="558.6" cy="114.7" r="1.55"/><circle cx="588.1" cy="102.0" r="1.55"/><circle cx="517.4" cy="87.0" r="1.55"/><circle cx="494.7" cy="111.3" r="1.55"/><circle cx="580.6" cy="107.0" r="1.55"/><circle cx="644.0" cy="87.0" r="1.55"/><circle cx="651.1" cy="93.3" r="1.55"/><circle cx="663.5" cy="68.8" r="1.55"/><circle cx="586.2" cy="102.6" r="1.55"/><circle cx="641.4" cy="99.3" r="1.55"/><circle cx="525.1" cy="117.2" r="1.55"/><circle cx="600.9" cy="100.1" r="1.55"/><circle cx="641.2" cy="86.4" r="1.55"/><circle cx="666.4" cy="44.7" r="1.55"/><circle cx="515.0" cy="115.4" r="1.55"/><circle cx="603.4" cy="94.4" r="1.55"/><circle cx="527.4" cy="102.4" r="1.55"/><circle cx="494.1" cy="106.4" r="1.55"/><circle cx="558.0" cy="96.0" r="1.55"/><circle cx="513.9" cy="112.6" r="1.55"/><circle cx="647.0" cy="103.0" r="1.55"/><circle cx="567.6" cy="109.8" r="1.55"/><circle cx="552.3" cy="99.1" r="1.55"/><circle cx="651.8" cy="89.9" r="1.55"/><circle cx="641.2" cy="66.5" r="1.55"/><circle cx="666.1" cy="38.7" r="1.55"/><circle cx="502.2" cy="103.3" r="1.55"/><circle cx="509.1" cy="105.3" r="1.55"/><circle cx="666.6" cy="80.4" r="1.55"/><circle cx="514.5" cy="97.8" r="1.55"/><circle cx="666.5" cy="79.8" r="1.55"/><circle cx="588.0" cy="102.3" r="1.55"/><circle cx="512.3" cy="94.0" r="1.55"/><circle cx="512.5" cy="83.9" r="1.55"/><circle cx="559.8" cy="65.7" r="1.55"/><circle cx="645.9" cy="63.0" r="1.55"/><circle cx="640.9" cy="110.8" r="1.55"/><circle cx="529.9" cy="107.9" r="1.55"/><circle cx="555.3" cy="112.6" r="1.55"/><circle cx="646.2" cy="77.3" r="1.55"/><circle cx="487.3" cy="113.9" r="1.55"/><circle cx="509.0" cy="114.2" r="1.55"/><circle cx="572.9" cy="110.4" r="1.55"/><circle cx="640.1" cy="90.7" r="1.55"/><circle cx="606.6" cy="108.9" r="1.55"/><circle cx="552.9" cy="100.5" r="1.55"/><circle cx="605.6" cy="103.7" r="1.55"/><circle cx="493.3" cy="124.6" r="1.55"/><circle cx="489.2" cy="108.4" r="1.55"/><circle cx="537.2" cy="117.4" r="1.55"/><circle cx="665.8" cy="102.5" r="1.55"/><circle cx="562.7" cy="81.2" r="1.55"/><circle cx="641.1" cy="65.2" r="1.55"/><circle cx="641.1" cy="93.3" r="1.55"/><circle cx="666.4" cy="40.2" r="1.55"/><circle cx="510.3" cy="107.3" r="1.55"/><circle cx="666.3" cy="105.5" r="1.55"/><circle cx="595.9" cy="115.2" r="1.55"/><circle cx="662.8" cy="100.5" r="1.55"/><circle cx="533.0" cy="112.1" r="1.55"/><circle cx="666.8" cy="98.5" r="1.55"/><circle cx="512.8" cy="102.0" r="1.55"/><circle cx="495.1" cy="115.3" r="1.55"/><circle cx="595.1" cy="106.7" r="1.55"/><circle cx="503.8" cy="98.4" r="1.55"/><circle cx="554.7" cy="57.6" r="1.55"/><circle cx="514.6" cy="103.0" r="1.55"/><circle cx="509.6" cy="106.2" r="1.55"/><circle cx="557.4" cy="91.0" r="1.55"/><circle cx="666.5" cy="96.8" r="1.55"/><circle cx="603.2" cy="101.2" r="1.55"/><circle cx="540.4" cy="105.7" r="1.55"/><circle cx="666.5" cy="104.6" r="1.55"/><circle cx="535.2" cy="106.8" r="1.55"/><circle cx="511.4" cy="104.6" r="1.55"/><circle cx="605.5" cy="92.6" r="1.55"/><circle cx="495.0" cy="112.9" r="1.55"/><circle cx="491.1" cy="113.5" r="1.55"/><circle cx="603.3" cy="87.3" r="1.55"/><circle cx="647.6" cy="88.5" r="1.55"/><circle cx="666.8" cy="90.7" r="1.55"/><circle cx="644.9" cy="102.6" r="1.55"/><circle cx="646.1" cy="79.0" r="1.55"/><circle cx="487.9" cy="103.4" r="1.55"/><circle cx="646.4" cy="98.0" r="1.55"/><circle cx="506.7" cy="117.1" r="1.55"/><circle cx="651.3" cy="102.5" r="1.55"/><circle cx="532.0" cy="118.9" r="1.55"/><circle cx="665.8" cy="49.8" r="1.55"/><circle cx="665.4" cy="103.9" r="1.55"/><circle cx="555.0" cy="106.5" r="1.55"/><circle cx="589.8" cy="105.2" r="1.55"/><circle cx="557.6" cy="103.0" r="1.55"/><circle cx="638.9" cy="97.1" r="1.55"/><circle cx="585.4" cy="102.1" r="1.55"/><circle cx="542.2" cy="94.6" r="1.55"/><circle cx="669.1" cy="105.4" r="1.55"/><circle cx="666.1" cy="74.4" r="1.55"/><circle cx="666.3" cy="46.5" r="1.55"/><circle cx="504.7" cy="104.3" r="1.55"/><circle cx="641.2" cy="65.7" r="1.55"/><circle cx="511.8" cy="103.2" r="1.55"/><circle cx="583.0" cy="21.8" r="1.55"/><circle cx="494.7" cy="106.7" r="1.55"/><circle cx="666.4" cy="49.4" r="1.55"/><circle cx="562.6" cy="77.6" r="1.55"/><circle cx="668.9" cy="78.2" r="1.55"/><circle cx="517.8" cy="95.4" r="1.55"/><circle cx="666.4" cy="54.4" r="1.55"/><circle cx="601.2" cy="85.1" r="1.55"/><circle cx="511.4" cy="101.7" r="1.55"/><circle cx="585.3" cy="100.6" r="1.55"/><circle cx="666.2" cy="35.8" r="1.55"/><circle cx="554.5" cy="77.3" r="1.55"/><circle cx="560.4" cy="93.9" r="1.55"/><circle cx="490.3" cy="104.6" r="1.55"/><circle cx="507.2" cy="99.6" r="1.55"/><circle cx="641.0" cy="97.4" r="1.55"/><circle cx="567.8" cy="109.5" r="1.55"/><circle cx="541.2" cy="99.6" r="1.55"/><circle cx="613.6" cy="110.3" r="1.55"/><circle cx="598.3" cy="102.5" r="1.55"/><circle cx="643.5" cy="86.1" r="1.55"/><circle cx="641.3" cy="95.7" r="1.55"/><circle cx="515.1" cy="100.8" r="1.55"/><circle cx="558.7" cy="77.1" r="1.55"/><circle cx="581.7" cy="107.8" r="1.55"/><circle cx="666.5" cy="90.5" r="1.55"/><circle cx="655.1" cy="102.3" r="1.55"/><circle cx="666.2" cy="70.5" r="1.55"/><circle cx="643.0" cy="100.5" r="1.55"/><circle cx="547.2" cy="109.6" r="1.55"/><circle cx="596.0" cy="92.0" r="1.55"/><circle cx="583.9" cy="100.3" r="1.55"/><circle cx="578.1" cy="111.1" r="1.55"/><circle cx="564.5" cy="114.8" r="1.55"/><circle cx="585.6" cy="102.4" r="1.55"/><circle cx="666.6" cy="84.3" r="1.55"/><circle cx="491.7" cy="108.6" r="1.55"/><circle cx="510.1" cy="103.1" r="1.55"/><circle cx="596.0" cy="97.2" r="1.55"/><circle cx="641.5" cy="88.1" r="1.55"/><circle cx="666.2" cy="75.4" r="1.55"/><circle cx="585.1" cy="93.6" r="1.55"/><circle cx="562.0" cy="113.1" r="1.55"/><circle cx="595.1" cy="104.9" r="1.55"/><circle cx="489.2" cy="104.7" r="1.55"/><circle cx="560.2" cy="89.9" r="1.55"/><circle cx="557.2" cy="104.5" r="1.55"/><circle cx="596.0" cy="112.5" r="1.55"/><circle cx="668.7" cy="84.8" r="1.55"/><circle cx="588.4" cy="99.4" r="1.55"/><circle cx="596.1" cy="101.6" r="1.55"/><circle cx="641.2" cy="109.4" r="1.55"/><circle cx="600.4" cy="68.5" r="1.55"/><circle cx="644.3" cy="104.6" r="1.55"/><circle cx="651.8" cy="110.7" r="1.55"/><circle cx="554.9" cy="59.9" r="1.55"/><circle cx="563.0" cy="72.9" r="1.55"/><circle cx="643.9" cy="91.8" r="1.55"/><circle cx="666.1" cy="56.7" r="1.55"/><circle cx="617.2" cy="110.3" r="1.55"/><circle cx="563.2" cy="72.6" r="1.55"/><circle cx="585.2" cy="75.6" r="1.55"/><circle cx="567.3" cy="104.5" r="1.55"/><circle cx="655.9" cy="92.1" r="1.55"/><circle cx="575.7" cy="102.8" r="1.55"/><circle cx="644.3" cy="96.9" r="1.55"/><circle cx="555.4" cy="82.7" r="1.55"/><circle cx="562.5" cy="48.6" r="1.55"/><circle cx="669.8" cy="96.6" r="1.55"/><circle cx="525.5" cy="114.8" r="1.55"/><circle cx="529.8" cy="116.5" r="1.55"/><circle cx="641.1" cy="49.0" r="1.55"/><circle cx="585.6" cy="98.5" r="1.55"/><circle cx="643.1" cy="76.7" r="1.55"/><circle cx="510.7" cy="102.0" r="1.55"/><circle cx="517.0" cy="110.6" r="1.55"/><circle cx="603.8" cy="109.0" r="1.55"/><circle cx="640.9" cy="53.6" r="1.55"/><circle cx="501.8" cy="106.8" r="1.55"/><circle cx="666.5" cy="63.4" r="1.55"/><circle cx="665.8" cy="110.8" r="1.55"/><circle cx="515.0" cy="88.4" r="1.55"/><circle cx="669.4" cy="105.9" r="1.55"/><circle cx="582.7" cy="90.7" r="1.55"/><circle cx="600.5" cy="79.1" r="1.55"/><circle cx="560.7" cy="103.3" r="1.55"/><circle cx="590.6" cy="115.9" r="1.55"/><circle cx="527.9" cy="112.7" r="1.55"/><circle cx="512.5" cy="97.1" r="1.55"/><circle cx="534.6" cy="112.5" r="1.55"/><circle cx="643.8" cy="78.9" r="1.55"/><circle cx="557.5" cy="105.7" r="1.55"/><circle cx="585.2" cy="62.6" r="1.55"/><circle cx="646.2" cy="103.8" r="1.55"/><circle cx="600.9" cy="104.9" r="1.55"/><circle cx="666.4" cy="35.6" r="1.55"/><circle cx="666.3" cy="104.5" r="1.55"/><circle cx="601.0" cy="76.1" r="1.55"/><circle cx="564.9" cy="81.0" r="1.55"/><circle cx="666.6" cy="80.6" r="1.55"/><circle cx="600.3" cy="106.1" r="1.55"/><circle cx="648.3" cy="102.3" r="1.55"/><circle cx="666.8" cy="49.1" r="1.55"/><circle cx="641.0" cy="101.5" r="1.55"/><circle cx="562.7" cy="76.4" r="1.55"/><circle cx="643.6" cy="64.7" r="1.55"/><circle cx="668.7" cy="72.0" r="1.55"/><circle cx="555.2" cy="102.8" r="1.55"/><circle cx="643.9" cy="57.6" r="1.55"/><circle cx="568.7" cy="101.5" r="1.55"/><circle cx="545.5" cy="100.9" r="1.55"/><circle cx="640.9" cy="93.5" r="1.55"/><circle cx="512.4" cy="101.8" r="1.55"/><circle cx="591.6" cy="114.6" r="1.55"/><circle cx="567.8" cy="64.6" r="1.55"/><circle cx="547.5" cy="108.1" r="1.55"/><circle cx="640.9" cy="76.8" r="1.55"/><circle cx="598.0" cy="85.6" r="1.55"/><circle cx="495.5" cy="105.2" r="1.55"/><circle cx="666.3" cy="46.1" r="1.55"/><circle cx="667.5" cy="59.0" r="1.55"/><circle cx="597.2" cy="106.4" r="1.55"/><circle cx="505.8" cy="97.9" r="1.55"/><circle cx="653.4" cy="109.1" r="1.55"/><circle cx="600.6" cy="80.3" r="1.55"/><circle cx="665.6" cy="98.9" r="1.55"/><circle cx="582.9" cy="80.3" r="1.55"/><circle cx="486.8" cy="112.7" r="1.55"/><circle cx="522.4" cy="107.6" r="1.55"/><circle cx="666.9" cy="108.4" r="1.55"/><circle cx="553.8" cy="89.4" r="1.55"/><circle cx="553.2" cy="88.8" r="1.55"/><circle cx="523.4" cy="106.0" r="1.55"/><circle cx="601.0" cy="43.1" r="1.55"/><circle cx="594.9" cy="105.2" r="1.55"/><circle cx="666.3" cy="22.8" r="1.55"/><circle cx="514.5" cy="100.8" r="1.55"/><circle cx="591.1" cy="102.7" r="1.55"/><circle cx="642.5" cy="103.1" r="1.55"/><circle cx="494.9" cy="108.1" r="1.55"/><circle cx="542.5" cy="106.7" r="1.55"/><circle cx="560.5" cy="91.0" r="1.55"/><circle cx="510.2" cy="109.5" r="1.55"/><circle cx="601.5" cy="97.8" r="1.55"/><circle cx="585.1" cy="95.0" r="1.55"/><circle cx="643.7" cy="56.8" r="1.55"/><circle cx="617.9" cy="94.8" r="1.55"/><circle cx="580.6" cy="104.2" r="1.55"/><circle cx="661.3" cy="129.6" r="1.55"/><circle cx="666.1" cy="83.9" r="1.55"/><circle cx="494.6" cy="107.0" r="1.55"/><circle cx="504.4" cy="95.5" r="1.55"/><circle cx="668.7" cy="94.1" r="1.55"/><circle cx="562.7" cy="74.1" r="1.55"/><circle cx="541.7" cy="106.0" r="1.55"/><circle cx="666.6" cy="37.2" r="1.55"/><circle cx="523.1" cy="108.5" r="1.55"/><circle cx="665.9" cy="73.0" r="1.55"/><circle cx="641.0" cy="51.9" r="1.55"/><circle cx="598.5" cy="110.9" r="1.55"/><circle cx="661.3" cy="111.0" r="1.55"/><circle cx="628.6" cy="101.5" r="1.55"/><circle cx="515.2" cy="103.4" r="1.55"/><circle cx="512.0" cy="88.2" r="1.55"/><circle cx="666.0" cy="37.0" r="1.55"/><circle cx="646.0" cy="68.6" r="1.55"/><circle cx="564.9" cy="79.7" r="1.55"/><circle cx="494.5" cy="111.7" r="1.55"/><circle cx="643.5" cy="82.5" r="1.55"/><circle cx="668.8" cy="80.0" r="1.55"/><circle cx="667.0" cy="44.7" r="1.55"/><circle cx="580.2" cy="90.8" r="1.55"/><circle cx="517.6" cy="108.4" r="1.55"/><circle cx="562.7" cy="102.0" r="1.55"/><circle cx="666.3" cy="88.8" r="1.55"/><circle cx="562.7" cy="74.8" r="1.55"/><circle cx="562.3" cy="101.7" r="1.55"/><circle cx="597.0" cy="115.2" r="1.55"/><circle cx="640.9" cy="63.4" r="1.55"/><circle cx="646.2" cy="110.4" r="1.55"/><circle cx="564.9" cy="92.7" r="1.55"/><circle cx="666.8" cy="80.7" r="1.55"/><circle cx="648.9" cy="90.6" r="1.55"/><circle cx="534.9" cy="115.3" r="1.55"/><circle cx="566.8" cy="119.1" r="1.55"/><circle cx="587.8" cy="109.1" r="1.55"/><circle cx="644.0" cy="66.4" r="1.55"/><circle cx="600.8" cy="55.4" r="1.55"/><circle cx="648.7" cy="106.8" r="1.55"/><circle cx="649.1" cy="103.1" r="1.55"/><circle cx="669.0" cy="92.0" r="1.55"/><circle cx="666.5" cy="104.1" r="1.55"/><circle cx="669.0" cy="99.5" r="1.55"/><circle cx="491.6" cy="112.7" r="1.55"/><circle cx="666.7" cy="99.5" r="1.55"/><circle cx="562.9" cy="89.7" r="1.55"/><circle cx="641.2" cy="53.9" r="1.55"/><circle cx="598.1" cy="77.5" r="1.55"/><circle cx="560.8" cy="90.9" r="1.55"/><circle cx="581.4" cy="106.8" r="1.55"/><circle cx="665.4" cy="48.2" r="1.55"/><circle cx="666.3" cy="47.0" r="1.55"/><circle cx="585.2" cy="111.2" r="1.55"/><circle cx="665.6" cy="44.3" r="1.55"/><circle cx="509.9" cy="108.3" r="1.55"/><circle cx="515.4" cy="86.6" r="1.55"/><circle cx="535.4" cy="106.1" r="1.55"/><circle cx="664.0" cy="111.6" r="1.55"/><circle cx="529.5" cy="115.5" r="1.55"/><circle cx="555.6" cy="96.1" r="1.55"/><circle cx="602.7" cy="77.6" r="1.55"/><circle cx="597.7" cy="111.0" r="1.55"/><circle cx="665.8" cy="97.9" r="1.55"/><circle cx="586.3" cy="102.0" r="1.55"/><circle cx="666.3" cy="42.1" r="1.55"/><circle cx="583.1" cy="99.9" r="1.55"/><circle cx="537.1" cy="101.8" r="1.55"/><circle cx="625.4" cy="112.3" r="1.55"/><circle cx="557.6" cy="96.7" r="1.55"/><circle cx="665.9" cy="92.4" r="1.55"/><circle cx="582.8" cy="100.1" r="1.55"/><circle cx="514.7" cy="79.9" r="1.55"/><circle cx="531.2" cy="110.8" r="1.55"/><circle cx="579.4" cy="103.3" r="1.55"/><circle cx="514.6" cy="80.4" r="1.55"/><circle cx="577.4" cy="98.3" r="1.55"/><circle cx="590.1" cy="105.3" r="1.55"/><circle cx="597.5" cy="102.8" r="1.55"/><circle cx="519.7" cy="113.2" r="1.55"/><circle cx="666.5" cy="63.2" r="1.55"/><circle cx="641.2" cy="90.9" r="1.55"/><circle cx="669.1" cy="87.7" r="1.55"/><circle cx="486.6" cy="117.0" r="1.55"/><circle cx="665.2" cy="101.9" r="1.55"/><circle cx="598.2" cy="83.1" r="1.55"/><circle cx="643.9" cy="62.8" r="1.55"/><circle cx="537.1" cy="102.6" r="1.55"/><circle cx="603.4" cy="80.0" r="1.55"/><circle cx="590.7" cy="107.9" r="1.55"/><circle cx="492.5" cy="112.2" r="1.55"/><circle cx="650.7" cy="84.9" r="1.55"/><circle cx="600.4" cy="94.3" r="1.55"/><circle cx="665.9" cy="37.7" r="1.55"/><circle cx="542.4" cy="105.1" r="1.55"/><circle cx="666.0" cy="43.5" r="1.55"/><circle cx="583.3" cy="77.6" r="1.55"/><circle cx="603.0" cy="93.8" r="1.55"/><circle cx="552.1" cy="102.0" r="1.55"/><circle cx="544.9" cy="117.3" r="1.55"/><circle cx="666.8" cy="94.4" r="1.55"/><circle cx="640.5" cy="109.1" r="1.55"/><circle cx="516.7" cy="104.0" r="1.55"/><circle cx="487.8" cy="114.5" r="1.55"/><circle cx="666.2" cy="68.1" r="1.55"/><circle cx="514.4" cy="101.8" r="1.55"/><circle cx="644.0" cy="92.5" r="1.55"/><circle cx="666.3" cy="19.4" r="1.55"/><circle cx="519.8" cy="112.4" r="1.55"/><circle cx="567.8" cy="100.7" r="1.55"/><circle cx="667.1" cy="99.2" r="1.55"/><circle cx="579.0" cy="116.3" r="1.55"/><circle cx="494.2" cy="115.2" r="1.55"/><circle cx="605.2" cy="98.1" r="1.55"/><circle cx="667.9" cy="98.6" r="1.55"/><circle cx="537.8" cy="119.2" r="1.55"/><circle cx="647.0" cy="97.2" r="1.55"/><circle cx="666.7" cy="64.3" r="1.55"/><circle cx="584.8" cy="110.0" r="1.55"/><circle cx="562.4" cy="82.6" r="1.55"/><circle cx="582.9" cy="102.9" r="1.55"/><circle cx="595.2" cy="86.9" r="1.55"/><circle cx="559.8" cy="89.2" r="1.55"/><circle cx="666.3" cy="101.4" r="1.55"/><circle cx="645.3" cy="96.0" r="1.55"/><circle cx="669.3" cy="99.4" r="1.55"/><circle cx="512.3" cy="92.0" r="1.55"/><circle cx="603.8" cy="103.5" r="1.55"/><circle cx="507.8" cy="109.0" r="1.55"/><circle cx="646.2" cy="88.5" r="1.55"/><circle cx="600.6" cy="42.0" r="1.55"/><circle cx="560.7" cy="94.3" r="1.55"/><circle cx="562.7" cy="77.8" r="1.55"/><circle cx="663.5" cy="94.1" r="1.55"/><circle cx="514.0" cy="105.7" r="1.55"/><circle cx="640.8" cy="105.2" r="1.55"/><circle cx="605.6" cy="104.4" r="1.55"/><circle cx="608.9" cy="102.1" r="1.55"/><circle cx="665.6" cy="113.7" r="1.55"/><circle cx="568.8" cy="106.7" r="1.55"/><circle cx="613.7" cy="89.9" r="1.55"/><circle cx="649.2" cy="87.1" r="1.55"/><circle cx="641.2" cy="93.7" r="1.55"/><circle cx="588.1" cy="92.0" r="1.55"/><circle cx="600.7" cy="74.2" r="1.55"/><circle cx="563.1" cy="73.0" r="1.55"/><circle cx="574.6" cy="102.4" r="1.55"/><circle cx="562.2" cy="109.0" r="1.55"/><circle cx="580.4" cy="91.6" r="1.55"/><circle cx="644.0" cy="87.6" r="1.55"/><circle cx="601.0" cy="38.5" r="1.55"/><circle cx="582.8" cy="100.5" r="1.55"/><circle cx="542.4" cy="106.6" r="1.55"/><circle cx="584.1" cy="100.8" r="1.55"/><circle cx="641.0" cy="74.5" r="1.55"/><circle cx="658.4" cy="87.9" r="1.55"/><circle cx="596.6" cy="103.2" r="1.55"/><circle cx="646.2" cy="67.5" r="1.55"/><circle cx="555.2" cy="114.3" r="1.55"/><circle cx="587.9" cy="99.6" r="1.55"/><circle cx="593.9" cy="98.0" r="1.55"/><circle cx="529.7" cy="97.0" r="1.55"/><circle cx="658.7" cy="87.0" r="1.55"/><circle cx="546.4" cy="108.0" r="1.55"/><circle cx="666.9" cy="59.3" r="1.55"/><circle cx="668.7" cy="80.3" r="1.55"/><circle cx="564.9" cy="104.0" r="1.55"/><circle cx="585.5" cy="115.4" r="1.55"/><circle cx="662.3" cy="99.3" r="1.55"/><circle cx="554.8" cy="99.2" r="1.55"/><circle cx="529.2" cy="130.6" r="1.55"/><circle cx="565.5" cy="92.0" r="1.55"/><circle cx="667.5" cy="94.3" r="1.55"/><circle cx="644.0" cy="98.2" r="1.55"/><circle cx="600.3" cy="38.7" r="1.55"/><circle cx="666.0" cy="100.5" r="1.55"/><circle cx="512.2" cy="113.8" r="1.55"/><circle cx="666.2" cy="82.4" r="1.55"/><circle cx="656.3" cy="103.7" r="1.55"/><circle cx="656.3" cy="92.1" r="1.55"/><circle cx="509.0" cy="110.7" r="1.55"/><circle cx="573.1" cy="103.8" r="1.55"/><circle cx="666.8" cy="89.0" r="1.55"/><circle cx="560.2" cy="91.0" r="1.55"/><circle cx="601.3" cy="106.1" r="1.55"/><circle cx="666.2" cy="56.6" r="1.55"/><circle cx="534.7" cy="104.2" r="1.55"/><circle cx="585.3" cy="85.2" r="1.55"/><circle cx="512.3" cy="94.3" r="1.55"/><circle cx="663.7" cy="72.1" r="1.55"/><circle cx="509.3" cy="93.2" r="1.55"/><circle cx="633.0" cy="96.0" r="1.55"/><circle cx="555.0" cy="114.5" r="1.55"/><circle cx="565.9" cy="92.6" r="1.55"/><circle cx="660.6" cy="109.3" r="1.55"/><circle cx="655.0" cy="123.9" r="1.55"/><circle cx="516.8" cy="106.3" r="1.55"/><circle cx="514.6" cy="94.4" r="1.55"/><circle cx="562.6" cy="85.2" r="1.55"/><circle cx="641.6" cy="106.7" r="1.55"/><circle cx="636.0" cy="100.0" r="1.55"/><circle cx="560.6" cy="96.6" r="1.55"/><circle cx="643.6" cy="41.9" r="1.55"/><circle cx="669.2" cy="92.0" r="1.55"/><circle cx="643.9" cy="86.5" r="1.55"/><circle cx="646.3" cy="97.1" r="1.55"/><circle cx="587.4" cy="104.8" r="1.55"/><circle cx="585.6" cy="110.7" r="1.55"/><circle cx="667.8" cy="97.8" r="1.55"/><circle cx="595.6" cy="89.7" r="1.55"/><circle cx="665.9" cy="57.0" r="1.55"/><circle cx="600.4" cy="35.9" r="1.55"/><circle cx="542.3" cy="111.5" r="1.55"/><circle cx="557.9" cy="93.0" r="1.55"/><circle cx="618.6" cy="112.3" r="1.55"/><circle cx="565.1" cy="86.4" r="1.55"/><circle cx="643.4" cy="80.6" r="1.55"/><circle cx="529.3" cy="114.4" r="1.55"/><circle cx="666.7" cy="74.2" r="1.55"/><circle cx="534.0" cy="102.1" r="1.55"/><circle cx="491.5" cy="103.8" r="1.55"/><circle cx="583.4" cy="100.6" r="1.55"/><circle cx="560.5" cy="97.3" r="1.55"/><circle cx="666.6" cy="111.9" r="1.55"/><circle cx="667.0" cy="109.5" r="1.55"/><circle cx="534.6" cy="113.5" r="1.55"/><circle cx="601.0" cy="89.6" r="1.55"/><circle cx="595.6" cy="91.6" r="1.55"/><circle cx="583.0" cy="46.5" r="1.55"/><circle cx="666.5" cy="103.2" r="1.55"/><circle cx="514.0" cy="61.3" r="1.55"/><circle cx="585.0" cy="115.7" r="1.55"/><circle cx="663.9" cy="88.8" r="1.55"/><circle cx="512.2" cy="91.4" r="1.55"/><circle cx="591.0" cy="96.1" r="1.55"/><circle cx="665.9" cy="81.7" r="1.55"/><circle cx="585.6" cy="86.8" r="1.55"/><circle cx="535.8" cy="103.4" r="1.55"/><circle cx="532.6" cy="98.2" r="1.55"/><circle cx="638.7" cy="112.4" r="1.55"/><circle cx="584.7" cy="101.5" r="1.55"/><circle cx="641.3" cy="70.3" r="1.55"/><circle cx="582.6" cy="78.3" r="1.55"/><circle cx="659.2" cy="103.9" r="1.55"/><circle cx="582.8" cy="95.3" r="1.55"/><circle cx="606.4" cy="106.7" r="1.55"/><circle cx="506.9" cy="109.6" r="1.55"/><circle cx="562.6" cy="66.0" r="1.55"/><circle cx="567.7" cy="108.9" r="1.55"/><circle cx="646.2" cy="71.7" r="1.55"/><circle cx="557.3" cy="103.3" r="1.55"/><circle cx="512.4" cy="93.9" r="1.55"/><circle cx="669.2" cy="81.5" r="1.55"/><circle cx="537.5" cy="97.7" r="1.55"/><circle cx="561.3" cy="110.3" r="1.55"/><circle cx="601.1" cy="55.1" r="1.55"/><circle cx="641.2" cy="102.8" r="1.55"/><circle cx="665.7" cy="79.7" r="1.55"/><circle cx="533.5" cy="107.7" r="1.55"/><circle cx="598.4" cy="103.5" r="1.55"/><circle cx="577.9" cy="104.8" r="1.55"/><circle cx="666.2" cy="72.4" r="1.55"/><circle cx="641.2" cy="71.7" r="1.55"/><circle cx="560.0" cy="85.0" r="1.55"/><circle cx="601.1" cy="39.4" r="1.55"/><circle cx="656.4" cy="81.4" r="1.55"/><circle cx="666.4" cy="54.6" r="1.55"/><circle cx="560.9" cy="99.9" r="1.55"/><circle cx="640.2" cy="101.1" r="1.55"/><circle cx="560.4" cy="104.4" r="1.55"/><circle cx="640.6" cy="107.8" r="1.55"/><circle cx="641.2" cy="55.7" r="1.55"/><circle cx="580.7" cy="89.6" r="1.55"/><circle cx="663.8" cy="91.0" r="1.55"/><circle cx="587.8" cy="103.3" r="1.55"/><circle cx="601.0" cy="90.4" r="1.55"/><circle cx="573.1" cy="85.0" r="1.55"/><circle cx="600.8" cy="84.5" r="1.55"/><circle cx="598.0" cy="70.7" r="1.55"/><circle cx="588.1" cy="78.4" r="1.55"/><circle cx="600.9" cy="49.3" r="1.55"/><circle cx="507.5" cy="107.8" r="1.55"/><circle cx="655.3" cy="96.1" r="1.55"/><circle cx="665.9" cy="44.1" r="1.55"/><circle cx="601.4" cy="69.2" r="1.55"/><circle cx="519.2" cy="100.3" r="1.55"/><circle cx="580.9" cy="110.5" r="1.55"/><circle cx="489.6" cy="114.0" r="1.55"/><circle cx="537.2" cy="111.6" r="1.55"/><circle cx="600.6" cy="111.6" r="1.55"/><circle cx="514.4" cy="113.7" r="1.55"/><circle cx="640.9" cy="54.1" r="1.55"/><circle cx="583.1" cy="92.2" r="1.55"/><circle cx="545.0" cy="113.3" r="1.55"/><circle cx="492.2" cy="104.6" r="1.55"/><circle cx="653.7" cy="95.8" r="1.55"/><circle cx="666.3" cy="56.8" r="1.55"/><circle cx="648.8" cy="94.5" r="1.55"/><circle cx="666.0" cy="49.8" r="1.55"/><circle cx="560.4" cy="109.2" r="1.55"/><circle cx="499.6" cy="111.8" r="1.55"/><circle cx="507.3" cy="102.4" r="1.55"/><circle cx="537.1" cy="106.1" r="1.55"/><circle cx="599.5" cy="101.5" r="1.55"/><circle cx="489.8" cy="122.6" r="1.55"/><circle cx="516.7" cy="115.7" r="1.55"/><circle cx="512.2" cy="90.1" r="1.55"/><circle cx="668.8" cy="110.8" r="1.55"/><circle cx="666.9" cy="42.3" r="1.55"/><circle cx="600.4" cy="72.3" r="1.55"/><circle cx="666.2" cy="44.1" r="1.55"/><circle cx="666.2" cy="73.8" r="1.55"/><circle cx="606.5" cy="93.9" r="1.55"/><circle cx="599.4" cy="113.9" r="1.55"/><circle cx="600.2" cy="90.3" r="1.55"/><circle cx="583.3" cy="102.8" r="1.55"/><circle cx="598.2" cy="82.8" r="1.55"/><circle cx="605.5" cy="99.9" r="1.55"/><circle cx="554.6" cy="93.4" r="1.55"/><circle cx="545.1" cy="101.7" r="1.55"/><circle cx="666.2" cy="98.2" r="1.55"/><circle cx="492.5" cy="110.0" r="1.55"/><circle cx="517.0" cy="86.3" r="1.55"/><circle cx="587.7" cy="95.4" r="1.55"/><circle cx="641.8" cy="100.2" r="1.55"/><circle cx="567.8" cy="112.2" r="1.55"/><circle cx="511.8" cy="106.1" r="1.55"/><circle cx="575.3" cy="105.2" r="1.55"/><circle cx="605.9" cy="102.8" r="1.55"/><circle cx="552.7" cy="108.3" r="1.55"/><circle cx="537.5" cy="110.5" r="1.55"/><circle cx="665.9" cy="113.1" r="1.55"/><circle cx="596.1" cy="97.7" r="1.55"/><circle cx="600.9" cy="87.7" r="1.55"/><circle cx="646.2" cy="75.0" r="1.55"/><circle cx="582.8" cy="93.1" r="1.55"/><circle cx="663.2" cy="100.9" r="1.55"/><circle cx="667.0" cy="55.8" r="1.55"/><circle cx="509.5" cy="106.9" r="1.55"/><circle cx="664.2" cy="109.2" r="1.55"/><circle cx="645.8" cy="71.6" r="1.55"/><circle cx="522.0" cy="111.9" r="1.55"/><circle cx="646.2" cy="84.3" r="1.55"/><circle cx="554.4" cy="104.8" r="1.55"/><circle cx="669.0" cy="109.9" r="1.55"/><circle cx="596.4" cy="107.7" r="1.55"/><circle cx="560.2" cy="102.1" r="1.55"/><circle cx="596.2" cy="105.3" r="1.55"/><circle cx="514.3" cy="93.4" r="1.55"/><circle cx="514.0" cy="108.7" r="1.55"/><circle cx="644.3" cy="107.3" r="1.55"/><circle cx="623.5" cy="105.8" r="1.55"/><circle cx="552.8" cy="89.7" r="1.55"/><circle cx="514.1" cy="93.7" r="1.55"/><circle cx="565.5" cy="79.3" r="1.55"/><circle cx="666.6" cy="57.7" r="1.55"/><circle cx="600.1" cy="82.1" r="1.55"/><circle cx="648.6" cy="104.5" r="1.55"/><circle cx="659.1" cy="102.0" r="1.55"/><circle cx="600.6" cy="55.0" r="1.55"/><circle cx="557.7" cy="90.5" r="1.55"/><circle cx="555.0" cy="91.6" r="1.55"/><circle cx="567.7" cy="102.8" r="1.55"/><circle cx="512.0" cy="85.3" r="1.55"/><circle cx="666.2" cy="77.1" r="1.55"/><circle cx="598.1" cy="80.6" r="1.55"/><circle cx="667.2" cy="52.1" r="1.55"/><circle cx="533.4" cy="103.3" r="1.55"/><circle cx="651.2" cy="155.1" r="1.55"/><circle cx="641.1" cy="84.8" r="1.55"/><circle cx="646.5" cy="93.2" r="1.55"/><circle cx="602.7" cy="101.1" r="1.55"/><circle cx="643.4" cy="63.0" r="1.55"/><circle cx="667.0" cy="39.7" r="1.55"/><circle cx="572.9" cy="126.6" r="1.55"/><circle cx="657.0" cy="99.8" r="1.55"/><circle cx="555.6" cy="95.3" r="1.55"/><circle cx="598.1" cy="111.2" r="1.55"/><circle cx="499.2" cy="112.8" r="1.55"/><circle cx="504.5" cy="101.2" r="1.55"/><circle cx="562.9" cy="58.8" r="1.55"/><circle cx="525.5" cy="110.6" r="1.55"/><circle cx="563.3" cy="96.1" r="1.55"/><circle cx="599.5" cy="51.6" r="1.55"/><circle cx="558.8" cy="103.6" r="1.55"/><circle cx="486.5" cy="119.7" r="1.55"/><circle cx="600.6" cy="16.1" r="1.55"/><circle cx="519.0" cy="115.0" r="1.55"/><circle cx="519.3" cy="94.1" r="1.55"/><circle cx="589.8" cy="109.7" r="1.55"/><circle cx="651.6" cy="110.9" r="1.55"/><circle cx="514.9" cy="83.0" r="1.55"/><circle cx="509.5" cy="107.2" r="1.55"/><circle cx="668.8" cy="95.6" r="1.55"/><circle cx="560.8" cy="93.4" r="1.55"/><circle cx="641.2" cy="78.9" r="1.55"/><circle cx="555.0" cy="87.1" r="1.55"/><circle cx="593.1" cy="107.2" r="1.55"/><circle cx="656.8" cy="109.2" r="1.55"/><circle cx="605.5" cy="94.1" r="1.55"/><circle cx="510.3" cy="111.2" r="1.55"/><circle cx="669.0" cy="74.9" r="1.55"/><circle cx="666.5" cy="38.1" r="1.55"/><circle cx="558.3" cy="96.1" r="1.55"/><circle cx="554.8" cy="96.5" r="1.55"/><circle cx="666.7" cy="64.2" r="1.55"/><circle cx="632.4" cy="96.3" r="1.55"/><circle cx="666.1" cy="48.8" r="1.55"/><circle cx="578.1" cy="106.3" r="1.55"/><circle cx="643.6" cy="74.4" r="1.55"/><circle cx="646.5" cy="92.8" r="1.55"/><circle cx="643.8" cy="59.4" r="1.55"/><circle cx="645.9" cy="113.0" r="1.55"/><circle cx="558.3" cy="114.5" r="1.55"/><circle cx="565.0" cy="8.7" r="1.55"/><circle cx="667.1" cy="74.6" r="1.55"/><circle cx="666.7" cy="39.1" r="1.55"/><circle cx="605.4" cy="113.8" r="1.55"/><circle cx="600.9" cy="81.6" r="1.55"/><circle cx="562.4" cy="112.0" r="1.55"/><circle cx="505.7" cy="105.4" r="1.55"/><circle cx="656.8" cy="92.9" r="1.55"/><circle cx="663.4" cy="96.8" r="1.55"/><circle cx="562.4" cy="102.8" r="1.55"/><circle cx="595.1" cy="109.4" r="1.55"/><circle cx="577.5" cy="107.5" r="1.55"/><circle cx="666.0" cy="96.6" r="1.55"/><circle cx="514.8" cy="97.2" r="1.55"/><circle cx="666.3" cy="32.5" r="1.55"/><circle cx="541.4" cy="101.3" r="1.55"/><circle cx="644.1" cy="109.4" r="1.55"/><circle cx="580.3" cy="95.8" r="1.55"/><circle cx="658.6" cy="103.2" r="1.55"/><circle cx="666.7" cy="102.4" r="1.55"/><circle cx="643.7" cy="110.3" r="1.55"/><circle cx="509.5" cy="115.3" r="1.55"/><circle cx="498.1" cy="103.0" r="1.55"/><circle cx="663.7" cy="97.7" r="1.55"/><circle cx="554.6" cy="81.8" r="1.55"/><circle cx="488.9" cy="102.6" r="1.55"/><circle cx="585.3" cy="112.2" r="1.55"/><circle cx="562.4" cy="53.7" r="1.55"/><circle cx="600.6" cy="78.4" r="1.55"/><circle cx="497.1" cy="108.3" r="1.55"/><circle cx="501.8" cy="112.3" r="1.55"/><circle cx="509.8" cy="102.7" r="1.55"/><circle cx="631.1" cy="101.7" r="1.55"/><circle cx="510.0" cy="93.4" r="1.55"/><circle cx="643.6" cy="92.4" r="1.55"/><circle cx="600.4" cy="76.9" r="1.55"/><circle cx="665.9" cy="87.4" r="1.55"/><circle cx="603.1" cy="107.0" r="1.55"/><circle cx="567.4" cy="92.4" r="1.55"/><circle cx="641.3" cy="82.5" r="1.55"/><circle cx="667.1" cy="104.4" r="1.55"/><circle cx="601.4" cy="106.8" r="1.55"/><circle cx="669.7" cy="96.9" r="1.55"/><circle cx="666.0" cy="36.1" r="1.55"/><circle cx="588.3" cy="81.1" r="1.55"/><circle cx="603.4" cy="90.5" r="1.55"/><circle cx="539.1" cy="101.5" r="1.55"/><circle cx="665.7" cy="78.4" r="1.55"/><circle cx="641.1" cy="71.7" r="1.55"/><circle cx="598.0" cy="93.8" r="1.55"/><circle cx="578.1" cy="90.7" r="1.55"/><circle cx="557.9" cy="100.3" r="1.55"/><circle cx="588.2" cy="88.9" r="1.55"/><circle cx="598.2" cy="79.1" r="1.55"/><circle cx="585.2" cy="68.2" r="1.55"/><circle cx="643.6" cy="86.7" r="1.55"/><circle cx="661.8" cy="110.0" r="1.55"/><circle cx="650.7" cy="93.7" r="1.55"/><circle cx="530.6" cy="109.4" r="1.55"/><circle cx="591.1" cy="107.5" r="1.55"/><circle cx="601.0" cy="90.9" r="1.55"/><circle cx="590.8" cy="105.8" r="1.55"/><circle cx="539.7" cy="106.8" r="1.55"/><circle cx="579.6" cy="113.8" r="1.55"/><circle cx="494.7" cy="106.8" r="1.55"/><circle cx="554.5" cy="98.5" r="1.55"/><circle cx="540.3" cy="111.7" r="1.55"/><circle cx="588.2" cy="104.9" r="1.55"/><circle cx="560.1" cy="73.5" r="1.55"/><circle cx="600.9" cy="81.1" r="1.55"/><circle cx="643.7" cy="59.8" r="1.55"/><circle cx="570.4" cy="102.0" r="1.55"/><circle cx="543.7" cy="109.0" r="1.55"/><circle cx="666.3" cy="29.1" r="1.55"/><circle cx="667.1" cy="76.1" r="1.55"/><circle cx="565.1" cy="89.4" r="1.55"/><circle cx="537.5" cy="110.9" r="1.55"/><circle cx="592.6" cy="105.2" r="1.55"/><circle cx="537.7" cy="88.8" r="1.55"/><circle cx="530.4" cy="116.8" r="1.55"/><circle cx="560.4" cy="94.0" r="1.55"/><circle cx="666.5" cy="53.1" r="1.55"/><circle cx="648.4" cy="98.6" r="1.55"/><circle cx="601.0" cy="100.5" r="1.55"/><circle cx="598.7" cy="96.5" r="1.55"/><circle cx="665.7" cy="65.1" r="1.55"/><circle cx="666.3" cy="90.3" r="1.55"/><circle cx="528.0" cy="101.5" r="1.55"/><circle cx="666.2" cy="50.9" r="1.55"/><circle cx="595.9" cy="91.0" r="1.55"/><circle cx="489.0" cy="122.4" r="1.55"/><circle cx="537.1" cy="96.8" r="1.55"/><circle cx="603.7" cy="95.8" r="1.55"/><circle cx="655.0" cy="96.9" r="1.55"/><circle cx="487.6" cy="121.8" r="1.55"/><circle cx="663.5" cy="101.9" r="1.55"/><circle cx="514.8" cy="94.0" r="1.55"/><circle cx="589.8" cy="103.4" r="1.55"/><circle cx="562.4" cy="50.3" r="1.55"/><circle cx="666.7" cy="75.0" r="1.55"/><circle cx="517.0" cy="95.4" r="1.55"/><circle cx="603.0" cy="78.0" r="1.55"/><circle cx="664.0" cy="81.0" r="1.55"/><circle cx="585.7" cy="105.2" r="1.55"/><circle cx="645.8" cy="60.5" r="1.55"/><circle cx="641.1" cy="102.7" r="1.55"/><circle cx="552.9" cy="116.0" r="1.55"/><circle cx="519.9" cy="109.0" r="1.55"/><circle cx="513.4" cy="114.5" r="1.55"/><circle cx="666.3" cy="21.1" r="1.55"/><circle cx="655.7" cy="103.7" r="1.55"/><circle cx="599.7" cy="113.6" r="1.55"/><circle cx="511.6" cy="109.5" r="1.55"/><circle cx="544.3" cy="105.0" r="1.55"/><circle cx="666.4" cy="94.2" r="1.55"/><circle cx="557.8" cy="101.1" r="1.55"/><circle cx="529.6" cy="114.0" r="1.55"/><circle cx="631.0" cy="94.5" r="1.55"/><circle cx="643.4" cy="78.3" r="1.55"/><circle cx="643.7" cy="69.9" r="1.55"/><circle cx="582.6" cy="96.2" r="1.55"/><circle cx="594.2" cy="113.8" r="1.55"/><circle cx="530.5" cy="88.4" r="1.55"/><circle cx="598.2" cy="87.7" r="1.55"/><circle cx="582.8" cy="109.5" r="1.55"/><circle cx="663.6" cy="70.2" r="1.55"/><circle cx="585.3" cy="98.3" r="1.55"/><circle cx="508.8" cy="92.5" r="1.55"/><circle cx="493.8" cy="104.9" r="1.55"/><circle cx="663.8" cy="73.8" r="1.55"/><circle cx="590.4" cy="111.8" r="1.55"/><circle cx="579.0" cy="106.2" r="1.55"/><circle cx="538.0" cy="115.7" r="1.55"/><circle cx="516.8" cy="93.3" r="1.55"/><circle cx="600.5" cy="50.3" r="1.55"/><circle cx="598.1" cy="81.2" r="1.55"/><circle cx="663.3" cy="84.2" r="1.55"/><circle cx="666.5" cy="70.3" r="1.55"/><circle cx="510.2" cy="99.5" r="1.55"/><circle cx="600.6" cy="53.7" r="1.55"/><circle cx="491.8" cy="119.7" r="1.55"/><circle cx="581.8" cy="117.2" r="1.55"/><circle cx="582.1" cy="106.3" r="1.55"/><circle cx="555.1" cy="104.0" r="1.55"/><circle cx="563.4" cy="103.8" r="1.55"/><circle cx="663.8" cy="75.8" r="1.55"/><circle cx="490.0" cy="113.3" r="1.55"/><circle cx="665.7" cy="46.6" r="1.55"/><circle cx="641.3" cy="83.4" r="1.55"/><circle cx="514.2" cy="99.0" r="1.55"/><circle cx="555.2" cy="105.8" r="1.55"/><circle cx="562.7" cy="111.0" r="1.55"/><circle cx="554.8" cy="98.6" r="1.55"/><circle cx="587.9" cy="92.5" r="1.55"/><circle cx="598.4" cy="93.9" r="1.55"/><circle cx="540.2" cy="98.2" r="1.55"/><circle cx="583.0" cy="85.0" r="1.55"/><circle cx="585.6" cy="77.4" r="1.55"/><circle cx="641.1" cy="112.8" r="1.55"/><circle cx="595.8" cy="99.2" r="1.55"/><circle cx="560.6" cy="98.1" r="1.55"/><circle cx="562.8" cy="87.4" r="1.55"/><circle cx="591.0" cy="114.2" r="1.55"/><circle cx="601.4" cy="53.2" r="1.55"/><circle cx="649.3" cy="101.2" r="1.55"/><circle cx="559.7" cy="104.0" r="1.55"/><circle cx="517.5" cy="113.6" r="1.55"/><circle cx="558.0" cy="76.4" r="1.55"/><circle cx="643.3" cy="94.2" r="1.55"/><circle cx="659.2" cy="104.6" r="1.55"/><circle cx="598.2" cy="77.0" r="1.55"/><circle cx="555.4" cy="93.8" r="1.55"/><circle cx="585.9" cy="95.0" r="1.55"/><circle cx="517.7" cy="86.7" r="1.55"/><circle cx="580.7" cy="106.2" r="1.55"/><circle cx="667.0" cy="88.4" r="1.55"/><circle cx="600.9" cy="85.1" r="1.55"/><circle cx="653.7" cy="87.4" r="1.55"/><circle cx="598.3" cy="93.1" r="1.55"/><circle cx="668.8" cy="97.0" r="1.55"/><circle cx="660.8" cy="109.6" r="1.55"/><circle cx="600.7" cy="67.8" r="1.55"/><circle cx="596.2" cy="105.1" r="1.55"/><circle cx="563.0" cy="93.9" r="1.55"/><circle cx="643.4" cy="91.4" r="1.55"/><circle cx="645.7" cy="95.7" r="1.55"/><circle cx="512.4" cy="104.0" r="1.55"/><circle cx="664.0" cy="93.8" r="1.55"/><circle cx="643.4" cy="99.0" r="1.55"/><circle cx="517.2" cy="92.6" r="1.55"/><circle cx="577.6" cy="102.5" r="1.55"/><circle cx="558.0" cy="84.7" r="1.55"/><circle cx="514.9" cy="93.2" r="1.55"/><circle cx="580.2" cy="105.7" r="1.55"/><circle cx="506.6" cy="109.8" r="1.55"/><circle cx="540.4" cy="110.9" r="1.55"/><circle cx="536.7" cy="99.8" r="1.55"/><circle cx="577.3" cy="106.0" r="1.55"/><circle cx="646.0" cy="106.4" r="1.55"/><circle cx="494.4" cy="112.7" r="1.55"/><circle cx="580.3" cy="82.5" r="1.55"/><circle cx="565.3" cy="109.6" r="1.55"/><circle cx="666.1" cy="43.9" r="1.55"/><circle cx="666.0" cy="90.4" r="1.55"/><circle cx="600.7" cy="103.4" r="1.55"/><circle cx="647.9" cy="112.7" r="1.55"/><circle cx="580.0" cy="115.5" r="1.55"/><circle cx="560.1" cy="89.1" r="1.55"/><circle cx="523.2" cy="114.7" r="1.55"/><circle cx="666.5" cy="95.0" r="1.55"/><circle cx="646.8" cy="98.4" r="1.55"/><circle cx="554.7" cy="50.9" r="1.55"/><circle cx="667.0" cy="89.5" r="1.55"/><circle cx="646.6" cy="111.7" r="1.55"/><circle cx="534.6" cy="95.2" r="1.55"/><circle cx="666.3" cy="48.4" r="1.55"/><circle cx="666.3" cy="96.4" r="1.55"/><circle cx="666.4" cy="111.8" r="1.55"/><circle cx="665.9" cy="58.7" r="1.55"/><circle cx="571.3" cy="111.6" r="1.55"/><circle cx="486.8" cy="109.0" r="1.55"/><circle cx="660.9" cy="103.4" r="1.55"/><circle cx="575.5" cy="102.5" r="1.55"/><circle cx="631.1" cy="101.8" r="1.55"/><circle cx="665.9" cy="51.5" r="1.55"/><circle cx="590.2" cy="99.0" r="1.55"/><circle cx="666.4" cy="46.1" r="1.55"/><circle cx="621.4" cy="111.1" r="1.55"/><circle cx="605.5" cy="99.4" r="1.55"/><circle cx="665.8" cy="37.0" r="1.55"/><circle cx="666.2" cy="45.3" r="1.55"/><circle cx="647.1" cy="106.1" r="1.55"/><circle cx="591.2" cy="108.7" r="1.55"/><circle cx="602.9" cy="81.3" r="1.55"/><circle cx="562.7" cy="80.1" r="1.55"/><circle cx="589.9" cy="114.3" r="1.55"/><circle cx="600.7" cy="47.3" r="1.55"/><circle cx="643.3" cy="59.8" r="1.55"/><circle cx="663.5" cy="100.0" r="1.55"/><circle cx="533.3" cy="103.1" r="1.55"/><circle cx="666.7" cy="89.2" r="1.55"/><circle cx="597.9" cy="109.2" r="1.55"/><circle cx="532.4" cy="111.8" r="1.55"/><circle cx="636.7" cy="105.2" r="1.55"/><circle cx="666.0" cy="104.7" r="1.55"/><circle cx="640.3" cy="93.3" r="1.55"/><circle cx="644.0" cy="55.8" r="1.55"/><circle cx="532.7" cy="114.1" r="1.55"/><circle cx="600.4" cy="74.5" r="1.55"/><circle cx="600.6" cy="49.1" r="1.55"/><circle cx="652.4" cy="121.3" r="1.55"/><circle cx="666.4" cy="41.6" r="1.55"/><circle cx="562.9" cy="55.7" r="1.55"/><circle cx="489.9" cy="122.7" r="1.55"/><circle cx="569.7" cy="102.2" r="1.55"/><circle cx="600.5" cy="55.6" r="1.55"/><circle cx="666.4" cy="101.0" r="1.55"/><circle cx="583.3" cy="91.9" r="1.55"/><circle cx="596.8" cy="100.6" r="1.55"/><circle cx="486.8" cy="105.2" r="1.55"/><circle cx="585.7" cy="94.4" r="1.55"/><circle cx="511.9" cy="86.5" r="1.55"/><circle cx="508.9" cy="98.1" r="1.55"/><circle cx="509.7" cy="99.4" r="1.55"/><circle cx="520.1" cy="92.4" r="1.55"/><circle cx="595.1" cy="95.9" r="1.55"/><circle cx="666.2" cy="68.3" r="1.55"/><circle cx="546.8" cy="113.7" r="1.55"/><circle cx="666.4" cy="55.1" r="1.55"/><circle cx="531.9" cy="101.5" r="1.55"/><circle cx="580.4" cy="92.3" r="1.55"/><circle cx="613.4" cy="104.3" r="1.55"/><circle cx="656.3" cy="86.1" r="1.55"/><circle cx="514.2" cy="91.8" r="1.55"/><circle cx="504.1" cy="114.2" r="1.55"/><circle cx="640.7" cy="69.8" r="1.55"/><circle cx="658.4" cy="117.7" r="1.55"/><circle cx="565.7" cy="101.6" r="1.55"/><circle cx="604.3" cy="112.5" r="1.55"/><circle cx="529.7" cy="110.1" r="1.55"/><circle cx="600.5" cy="45.4" r="1.55"/><circle cx="506.9" cy="118.8" r="1.55"/><circle cx="590.6" cy="105.5" r="1.55"/><circle cx="600.5" cy="93.5" r="1.55"/><circle cx="595.7" cy="117.4" r="1.55"/><circle cx="643.8" cy="97.6" r="1.55"/><circle cx="555.1" cy="94.3" r="1.55"/><circle cx="666.3" cy="35.0" r="1.55"/><circle cx="555.2" cy="78.3" r="1.55"/><circle cx="489.8" cy="120.5" r="1.55"/><circle cx="603.3" cy="89.6" r="1.55"/><circle cx="510.1" cy="86.3" r="1.55"/><circle cx="666.4" cy="97.9" r="1.55"/><circle cx="600.5" cy="70.5" r="1.55"/><circle cx="514.6" cy="92.9" r="1.55"/><circle cx="557.7" cy="104.8" r="1.55"/><circle cx="645.8" cy="85.6" r="1.55"/><circle cx="600.9" cy="93.2" r="1.55"/><circle cx="558.0" cy="111.5" r="1.55"/><circle cx="603.0" cy="93.5" r="1.55"/><circle cx="603.2" cy="98.7" r="1.55"/><circle cx="668.7" cy="111.8" r="1.55"/><circle cx="666.2" cy="51.0" r="1.55"/><circle cx="562.9" cy="64.0" r="1.55"/><circle cx="666.0" cy="90.0" r="1.55"/><circle cx="524.2" cy="103.8" r="1.55"/><circle cx="555.2" cy="93.5" r="1.55"/><circle cx="655.4" cy="97.7" r="1.55"/><circle cx="600.4" cy="101.1" r="1.55"/><circle cx="585.1" cy="84.1" r="1.55"/><circle cx="590.4" cy="102.2" r="1.55"/><circle cx="576.0" cy="100.3" r="1.55"/><circle cx="640.8" cy="111.7" r="1.55"/><circle cx="602.9" cy="105.5" r="1.55"/><circle cx="553.2" cy="101.7" r="1.55"/><circle cx="590.3" cy="102.0" r="1.55"/><circle cx="641.3" cy="90.6" r="1.55"/><circle cx="514.6" cy="100.8" r="1.55"/><circle cx="555.0" cy="91.6" r="1.55"/><circle cx="560.5" cy="104.4" r="1.55"/><circle cx="666.8" cy="57.5" r="1.55"/><circle cx="601.2" cy="107.1" r="1.55"/><circle cx="567.3" cy="111.5" r="1.55"/><circle cx="555.2" cy="98.4" r="1.55"/><circle cx="518.4" cy="98.8" r="1.55"/><circle cx="600.2" cy="110.1" r="1.55"/><circle cx="651.3" cy="92.3" r="1.55"/><circle cx="507.5" cy="89.4" r="1.55"/><circle cx="585.7" cy="71.9" r="1.55"/><circle cx="555.6" cy="75.9" r="1.55"/><circle cx="600.9" cy="37.7" r="1.55"/><circle cx="517.8" cy="99.4" r="1.55"/><circle cx="577.7" cy="96.1" r="1.55"/><circle cx="595.2" cy="98.7" r="1.55"/><circle cx="498.0" cy="121.2" r="1.55"/><circle cx="587.9" cy="82.9" r="1.55"/><circle cx="665.5" cy="49.3" r="1.55"/><circle cx="580.4" cy="92.1" r="1.55"/><circle cx="523.0" cy="103.0" r="1.55"/><circle cx="555.0" cy="79.5" r="1.55"/><circle cx="641.3" cy="100.2" r="1.55"/><circle cx="576.0" cy="93.7" r="1.55"/><circle cx="565.0" cy="107.1" r="1.55"/><circle cx="560.5" cy="114.9" r="1.55"/><circle cx="581.2" cy="105.9" r="1.55"/><circle cx="507.8" cy="115.5" r="1.55"/><circle cx="532.6" cy="104.7" r="1.55"/><circle cx="539.9" cy="102.1" r="1.55"/><circle cx="562.5" cy="91.1" r="1.55"/><circle cx="566.0" cy="104.2" r="1.55"/><circle cx="578.7" cy="117.2" r="1.55"/><circle cx="638.8" cy="107.2" r="1.55"/><circle cx="646.7" cy="104.2" r="1.55"/><circle cx="519.5" cy="107.1" r="1.55"/><circle cx="659.4" cy="95.0" r="1.55"/><circle cx="582.8" cy="84.1" r="1.55"/><circle cx="562.4" cy="83.5" r="1.55"/><circle cx="514.3" cy="100.8" r="1.55"/><circle cx="560.3" cy="86.8" r="1.55"/></g>
<rect x="477.6" y="1.5" width="201.2" height="161.1" fill="none" stroke="#636363" stroke-width="0.8"/>
<g class="p"><circle cx="96.1" cy="284.3" r="1.55"/><circle cx="127.8" cy="287.8" r="1.55"/><circle cx="127.1" cy="287.9" r="1.55"/><circle cx="110.1" cy="282.8" r="1.55"/><circle cx="57.8" cy="285.0" r="1.55"/><circle cx="101.3" cy="286.5" r="1.55"/><circle cx="91.9" cy="285.3" r="1.55"/><circle cx="63.4" cy="289.3" r="1.55"/><circle cx="70.5" cy="307.6" r="1.55"/><circle cx="76.9" cy="273.8" r="1.55"/><circle cx="76.8" cy="298.1" r="1.55"/><circle cx="93.9" cy="283.9" r="1.55"/><circle cx="140.9" cy="298.6" r="1.55"/><circle cx="75.7" cy="235.6" r="1.55"/><circle cx="71.5" cy="284.0" r="1.55"/><circle cx="144.8" cy="301.4" r="1.55"/><circle cx="85.0" cy="264.9" r="1.55"/><circle cx="76.4" cy="266.0" r="1.55"/><circle cx="88.1" cy="288.4" r="1.55"/><circle cx="80.5" cy="243.3" r="1.55"/><circle cx="131.0" cy="288.7" r="1.55"/><circle cx="80.7" cy="287.3" r="1.55"/><circle cx="68.7" cy="296.7" r="1.55"/><circle cx="83.7" cy="261.4" r="1.55"/><circle cx="115.8" cy="298.0" r="1.55"/><circle cx="77.4" cy="251.0" r="1.55"/><circle cx="151.5" cy="294.6" r="1.55"/><circle cx="51.7" cy="284.2" r="1.55"/><circle cx="83.6" cy="260.0" r="1.55"/><circle cx="78.5" cy="275.2" r="1.55"/><circle cx="84.8" cy="295.9" r="1.55"/><circle cx="80.3" cy="241.1" r="1.55"/><circle cx="80.8" cy="227.1" r="1.55"/><circle cx="78.2" cy="231.5" r="1.55"/><circle cx="86.2" cy="267.8" r="1.55"/><circle cx="46.3" cy="278.1" r="1.55"/><circle cx="68.6" cy="270.3" r="1.55"/><circle cx="72.0" cy="241.5" r="1.55"/><circle cx="76.8" cy="265.2" r="1.55"/><circle cx="119.1" cy="281.4" r="1.55"/><circle cx="99.7" cy="298.6" r="1.55"/><circle cx="76.7" cy="259.4" r="1.55"/><circle cx="64.9" cy="280.6" r="1.55"/><circle cx="123.4" cy="297.5" r="1.55"/><circle cx="80.8" cy="248.7" r="1.55"/><circle cx="85.4" cy="271.0" r="1.55"/><circle cx="73.7" cy="269.5" r="1.55"/><circle cx="57.2" cy="273.2" r="1.55"/><circle cx="139.0" cy="289.8" r="1.55"/><circle cx="91.0" cy="297.8" r="1.55"/><circle cx="85.3" cy="278.3" r="1.55"/><circle cx="59.3" cy="272.5" r="1.55"/><circle cx="93.6" cy="269.0" r="1.55"/><circle cx="85.6" cy="261.2" r="1.55"/><circle cx="87.8" cy="286.7" r="1.55"/><circle cx="100.2" cy="283.4" r="1.55"/><circle cx="119.2" cy="302.2" r="1.55"/><circle cx="80.9" cy="263.7" r="1.55"/><circle cx="130.0" cy="295.2" r="1.55"/><circle cx="79.1" cy="302.0" r="1.55"/><circle cx="111.5" cy="277.1" r="1.55"/><circle cx="82.9" cy="260.1" r="1.55"/><circle cx="67.0" cy="288.9" r="1.55"/><circle cx="130.3" cy="299.3" r="1.55"/><circle cx="108.8" cy="268.3" r="1.55"/><circle cx="108.0" cy="280.1" r="1.55"/><circle cx="132.5" cy="304.4" r="1.55"/><circle cx="76.6" cy="268.8" r="1.55"/><circle cx="84.3" cy="260.7" r="1.55"/><circle cx="123.9" cy="289.4" r="1.55"/><circle cx="92.0" cy="252.4" r="1.55"/><circle cx="84.9" cy="259.5" r="1.55"/><circle cx="79.4" cy="251.9" r="1.55"/><circle cx="82.9" cy="254.9" r="1.55"/><circle cx="109.4" cy="298.3" r="1.55"/><circle cx="52.3" cy="278.8" r="1.55"/><circle cx="124.7" cy="303.8" r="1.55"/><circle cx="84.0" cy="290.9" r="1.55"/><circle cx="80.0" cy="276.5" r="1.55"/><circle cx="87.1" cy="305.2" r="1.55"/><circle cx="139.7" cy="293.4" r="1.55"/><circle cx="80.1" cy="245.9" r="1.55"/><circle cx="100.6" cy="286.9" r="1.55"/><circle cx="26.5" cy="291.1" r="1.55"/><circle cx="78.5" cy="251.7" r="1.55"/><circle cx="50.8" cy="274.1" r="1.55"/><circle cx="89.3" cy="294.9" r="1.55"/><circle cx="97.8" cy="293.8" r="1.55"/><circle cx="62.6" cy="290.6" r="1.55"/><circle cx="102.6" cy="290.1" r="1.55"/><circle cx="114.3" cy="299.7" r="1.55"/><circle cx="86.1" cy="282.2" r="1.55"/><circle cx="131.6" cy="282.9" r="1.55"/><circle cx="84.0" cy="263.9" r="1.55"/><circle cx="108.7" cy="305.5" r="1.55"/><circle cx="99.7" cy="281.1" r="1.55"/><circle cx="69.9" cy="226.0" r="1.55"/><circle cx="65.8" cy="291.8" r="1.55"/><circle cx="95.8" cy="291.4" r="1.55"/><circle cx="76.5" cy="268.6" r="1.55"/><circle cx="133.9" cy="293.8" r="1.55"/><circle cx="117.1" cy="290.2" r="1.55"/><circle cx="87.4" cy="268.0" r="1.55"/><circle cx="51.0" cy="279.2" r="1.55"/><circle cx="84.4" cy="264.2" r="1.55"/><circle cx="95.2" cy="299.5" r="1.55"/><circle cx="46.6" cy="291.9" r="1.55"/><circle cx="95.4" cy="300.7" r="1.55"/><circle cx="73.1" cy="285.9" r="1.55"/><circle cx="106.6" cy="284.4" r="1.55"/><circle cx="88.6" cy="268.9" r="1.55"/><circle cx="78.3" cy="233.9" r="1.55"/><circle cx="98.0" cy="244.5" r="1.55"/><circle cx="83.2" cy="264.3" r="1.55"/><circle cx="93.5" cy="291.7" r="1.55"/><circle cx="91.4" cy="293.4" r="1.55"/><circle cx="83.9" cy="280.8" r="1.55"/><circle cx="118.7" cy="302.8" r="1.55"/><circle cx="66.2" cy="291.1" r="1.55"/><circle cx="80.4" cy="245.5" r="1.55"/><circle cx="91.2" cy="282.5" r="1.55"/><circle cx="149.8" cy="304.3" r="1.55"/><circle cx="59.5" cy="282.7" r="1.55"/><circle cx="103.0" cy="307.6" r="1.55"/><circle cx="94.7" cy="247.4" r="1.55"/><circle cx="118.2" cy="301.1" r="1.55"/><circle cx="86.0" cy="285.5" r="1.55"/><circle cx="85.6" cy="269.9" r="1.55"/><circle cx="99.0" cy="304.8" r="1.55"/><circle cx="85.0" cy="299.5" r="1.55"/><circle cx="74.1" cy="225.7" r="1.55"/><circle cx="75.9" cy="231.8" r="1.55"/><circle cx="63.6" cy="298.4" r="1.55"/><circle cx="86.1" cy="278.8" r="1.55"/><circle cx="87.3" cy="269.2" r="1.55"/><circle cx="80.4" cy="205.6" r="1.55"/><circle cx="90.9" cy="290.6" r="1.55"/><circle cx="83.7" cy="240.8" r="1.55"/><circle cx="75.3" cy="245.1" r="1.55"/><circle cx="79.3" cy="247.2" r="1.55"/><circle cx="75.1" cy="290.7" r="1.55"/><circle cx="99.7" cy="282.2" r="1.55"/><circle cx="108.4" cy="293.5" r="1.55"/><circle cx="79.0" cy="245.4" r="1.55"/><circle cx="84.7" cy="261.7" r="1.55"/><circle cx="67.3" cy="258.6" r="1.55"/><circle cx="66.5" cy="279.6" r="1.55"/><circle cx="118.1" cy="295.0" r="1.55"/><circle cx="67.3" cy="262.3" r="1.55"/><circle cx="90.7" cy="284.1" r="1.55"/><circle cx="80.7" cy="273.0" r="1.55"/><circle cx="71.0" cy="254.4" r="1.55"/><circle cx="108.8" cy="271.1" r="1.55"/><circle cx="124.1" cy="297.2" r="1.55"/><circle cx="85.8" cy="281.2" r="1.55"/><circle cx="84.2" cy="257.3" r="1.55"/><circle cx="103.3" cy="279.1" r="1.55"/><circle cx="119.7" cy="282.0" r="1.55"/><circle cx="62.0" cy="295.1" r="1.55"/><circle cx="48.2" cy="284.4" r="1.55"/><circle cx="48.7" cy="285.4" r="1.55"/><circle cx="104.3" cy="273.2" r="1.55"/><circle cx="118.7" cy="306.2" r="1.55"/><circle cx="85.0" cy="259.4" r="1.55"/><circle cx="136.3" cy="293.7" r="1.55"/><circle cx="88.0" cy="265.6" r="1.55"/><circle cx="91.6" cy="266.8" r="1.55"/><circle cx="85.1" cy="264.8" r="1.55"/><circle cx="86.0" cy="266.9" r="1.55"/><circle cx="87.0" cy="295.6" r="1.55"/><circle cx="85.7" cy="267.9" r="1.55"/><circle cx="77.7" cy="239.5" r="1.55"/><circle cx="79.7" cy="237.5" r="1.55"/><circle cx="68.3" cy="294.8" r="1.55"/><circle cx="116.2" cy="276.2" r="1.55"/><circle cx="124.0" cy="286.6" r="1.55"/><circle cx="142.2" cy="295.2" r="1.55"/><circle cx="79.8" cy="286.4" r="1.55"/><circle cx="84.7" cy="261.3" r="1.55"/><circle cx="83.6" cy="299.7" r="1.55"/><circle cx="62.8" cy="285.5" r="1.55"/><circle cx="57.3" cy="279.0" r="1.55"/><circle cx="84.1" cy="260.6" r="1.55"/><circle cx="105.6" cy="279.5" r="1.55"/><circle cx="126.7" cy="297.5" r="1.55"/><circle cx="70.7" cy="268.9" r="1.55"/><circle cx="96.5" cy="280.9" r="1.55"/><circle cx="84.9" cy="262.1" r="1.55"/><circle cx="67.3" cy="276.3" r="1.55"/><circle cx="71.1" cy="252.2" r="1.55"/><circle cx="95.3" cy="268.2" r="1.55"/><circle cx="91.4" cy="290.3" r="1.55"/><circle cx="136.9" cy="299.4" r="1.55"/><circle cx="67.9" cy="269.5" r="1.55"/><circle cx="84.9" cy="266.3" r="1.55"/><circle cx="42.5" cy="266.1" r="1.55"/><circle cx="96.5" cy="296.0" r="1.55"/><circle cx="80.6" cy="249.5" r="1.55"/><circle cx="149.2" cy="291.3" r="1.55"/><circle cx="73.9" cy="303.8" r="1.55"/><circle cx="139.4" cy="297.4" r="1.55"/><circle cx="134.0" cy="286.9" r="1.55"/><circle cx="107.3" cy="275.0" r="1.55"/><circle cx="115.7" cy="288.3" r="1.55"/><circle cx="71.3" cy="245.8" r="1.55"/><circle cx="77.5" cy="228.9" r="1.55"/><circle cx="109.9" cy="282.2" r="1.55"/><circle cx="83.2" cy="250.6" r="1.55"/><circle cx="77.5" cy="267.3" r="1.55"/><circle cx="69.5" cy="249.5" r="1.55"/><circle cx="101.6" cy="279.2" r="1.55"/><circle cx="126.0" cy="298.2" r="1.55"/><circle cx="132.1" cy="288.7" r="1.55"/><circle cx="104.3" cy="279.0" r="1.55"/><circle cx="112.4" cy="278.0" r="1.55"/><circle cx="122.1" cy="306.8" r="1.55"/><circle cx="118.7" cy="294.3" r="1.55"/><circle cx="72.2" cy="268.8" r="1.55"/><circle cx="83.6" cy="262.7" r="1.55"/><circle cx="116.4" cy="299.5" r="1.55"/><circle cx="61.0" cy="276.9" r="1.55"/><circle cx="61.7" cy="250.7" r="1.55"/><circle cx="78.0" cy="238.5" r="1.55"/><circle cx="71.5" cy="248.1" r="1.55"/><circle cx="79.4" cy="244.3" r="1.55"/><circle cx="93.2" cy="271.4" r="1.55"/><circle cx="79.1" cy="236.7" r="1.55"/><circle cx="69.6" cy="298.3" r="1.55"/><circle cx="65.6" cy="266.5" r="1.55"/><circle cx="61.7" cy="296.4" r="1.55"/><circle cx="71.0" cy="273.5" r="1.55"/><circle cx="66.9" cy="268.7" r="1.55"/><circle cx="78.0" cy="274.4" r="1.55"/><circle cx="85.6" cy="267.4" r="1.55"/><circle cx="91.7" cy="280.6" r="1.55"/><circle cx="93.5" cy="286.7" r="1.55"/><circle cx="84.1" cy="254.4" r="1.55"/><circle cx="101.5" cy="343.1" r="1.55"/><circle cx="136.4" cy="298.0" r="1.55"/><circle cx="83.2" cy="260.6" r="1.55"/><circle cx="65.5" cy="297.1" r="1.55"/><circle cx="84.2" cy="258.3" r="1.55"/><circle cx="84.6" cy="260.4" r="1.55"/><circle cx="82.9" cy="294.8" r="1.55"/><circle cx="86.5" cy="268.2" r="1.55"/><circle cx="82.8" cy="273.3" r="1.55"/><circle cx="63.4" cy="308.9" r="1.55"/><circle cx="132.9" cy="289.3" r="1.55"/><circle cx="57.3" cy="288.2" r="1.55"/><circle cx="76.6" cy="232.7" r="1.55"/><circle cx="77.1" cy="271.5" r="1.55"/><circle cx="81.1" cy="250.2" r="1.55"/><circle cx="82.4" cy="282.7" r="1.55"/><circle cx="70.4" cy="255.4" r="1.55"/><circle cx="73.2" cy="287.3" r="1.55"/><circle cx="75.8" cy="289.1" r="1.55"/><circle cx="103.7" cy="280.8" r="1.55"/><circle cx="102.3" cy="287.9" r="1.55"/><circle cx="54.9" cy="270.1" r="1.55"/><circle cx="73.9" cy="302.8" r="1.55"/><circle cx="98.6" cy="273.8" r="1.55"/><circle cx="77.0" cy="241.8" r="1.55"/><circle cx="87.3" cy="270.0" r="1.55"/><circle cx="65.9" cy="288.6" r="1.55"/><circle cx="78.3" cy="237.1" r="1.55"/><circle cx="96.0" cy="291.5" r="1.55"/><circle cx="107.1" cy="268.2" r="1.55"/><circle cx="62.5" cy="299.6" r="1.55"/><circle cx="71.4" cy="243.2" r="1.55"/><circle cx="115.2" cy="290.6" r="1.55"/><circle cx="51.8" cy="301.7" r="1.55"/><circle cx="77.9" cy="289.0" r="1.55"/><circle cx="66.0" cy="291.4" r="1.55"/><circle cx="80.0" cy="240.5" r="1.55"/><circle cx="89.3" cy="267.5" r="1.55"/><circle cx="127.3" cy="281.1" r="1.55"/><circle cx="68.5" cy="261.2" r="1.55"/><circle cx="77.6" cy="234.9" r="1.55"/><circle cx="99.1" cy="260.6" r="1.55"/><circle cx="77.7" cy="227.6" r="1.55"/><circle cx="74.7" cy="244.2" r="1.55"/><circle cx="85.9" cy="266.2" r="1.55"/><circle cx="100.5" cy="275.8" r="1.55"/><circle cx="138.6" cy="295.2" r="1.55"/><circle cx="138.4" cy="295.7" r="1.55"/><circle cx="53.6" cy="281.9" r="1.55"/><circle cx="127.5" cy="279.2" r="1.55"/><circle cx="84.8" cy="235.3" r="1.55"/><circle cx="88.1" cy="298.6" r="1.55"/><circle cx="81.3" cy="251.0" r="1.55"/><circle cx="97.6" cy="281.6" r="1.55"/><circle cx="87.3" cy="295.5" r="1.55"/><circle cx="95.0" cy="285.3" r="1.55"/><circle cx="43.5" cy="286.4" r="1.55"/><circle cx="77.8" cy="289.1" r="1.55"/><circle cx="64.7" cy="291.3" r="1.55"/><circle cx="87.8" cy="299.4" r="1.55"/><circle cx="72.9" cy="244.3" r="1.55"/><circle cx="105.0" cy="260.3" r="1.55"/><circle cx="76.8" cy="232.1" r="1.55"/><circle cx="109.3" cy="276.1" r="1.55"/><circle cx="132.6" cy="286.4" r="1.55"/><circle cx="86.1" cy="268.3" r="1.55"/><circle cx="50.3" cy="288.1" r="1.55"/><circle cx="143.7" cy="296.9" r="1.55"/><circle cx="69.7" cy="283.5" r="1.55"/><circle cx="70.1" cy="244.1" r="1.55"/><circle cx="100.1" cy="275.4" r="1.55"/><circle cx="105.7" cy="288.7" r="1.55"/><circle cx="96.2" cy="278.4" r="1.55"/><circle cx="86.8" cy="287.5" r="1.55"/><circle cx="82.2" cy="301.5" r="1.55"/><circle cx="75.9" cy="225.7" r="1.55"/><circle cx="91.0" cy="290.3" r="1.55"/><circle cx="63.8" cy="286.9" r="1.55"/><circle cx="91.0" cy="296.9" r="1.55"/><circle cx="109.2" cy="271.4" r="1.55"/><circle cx="84.3" cy="260.5" r="1.55"/><circle cx="122.2" cy="287.3" r="1.55"/><circle cx="114.6" cy="285.6" r="1.55"/><circle cx="64.9" cy="265.1" r="1.55"/><circle cx="86.1" cy="268.2" r="1.55"/><circle cx="127.7" cy="305.0" r="1.55"/><circle cx="74.0" cy="240.7" r="1.55"/><circle cx="88.1" cy="284.4" r="1.55"/><circle cx="73.0" cy="258.0" r="1.55"/><circle cx="149.9" cy="288.7" r="1.55"/><circle cx="79.8" cy="290.3" r="1.55"/><circle cx="105.2" cy="300.7" r="1.55"/><circle cx="69.6" cy="266.0" r="1.55"/><circle cx="83.4" cy="270.6" r="1.55"/><circle cx="81.9" cy="258.0" r="1.55"/><circle cx="73.4" cy="238.1" r="1.55"/><circle cx="101.0" cy="276.6" r="1.55"/><circle cx="81.0" cy="285.1" r="1.55"/><circle cx="82.3" cy="251.9" r="1.55"/><circle cx="91.3" cy="265.4" r="1.55"/><circle cx="107.2" cy="286.6" r="1.55"/><circle cx="94.9" cy="287.0" r="1.55"/><circle cx="74.4" cy="264.3" r="1.55"/><circle cx="48.6" cy="290.6" r="1.55"/><circle cx="77.5" cy="279.3" r="1.55"/><circle cx="82.5" cy="249.8" r="1.55"/><circle cx="80.8" cy="265.2" r="1.55"/><circle cx="132.5" cy="288.3" r="1.55"/><circle cx="119.0" cy="272.4" r="1.55"/><circle cx="61.2" cy="283.2" r="1.55"/><circle cx="113.8" cy="287.8" r="1.55"/><circle cx="96.6" cy="289.3" r="1.55"/><circle cx="93.1" cy="275.1" r="1.55"/><circle cx="66.3" cy="266.7" r="1.55"/><circle cx="83.6" cy="292.4" r="1.55"/><circle cx="120.8" cy="284.8" r="1.55"/><circle cx="83.3" cy="282.8" r="1.55"/><circle cx="82.0" cy="261.0" r="1.55"/><circle cx="108.5" cy="282.0" r="1.55"/><circle cx="74.5" cy="299.5" r="1.55"/><circle cx="65.5" cy="276.1" r="1.55"/><circle cx="101.3" cy="294.0" r="1.55"/><circle cx="96.2" cy="301.8" r="1.55"/><circle cx="81.4" cy="248.6" r="1.55"/><circle cx="83.7" cy="256.9" r="1.55"/><circle cx="110.1" cy="285.4" r="1.55"/><circle cx="79.6" cy="264.7" r="1.55"/><circle cx="104.0" cy="275.0" r="1.55"/><circle cx="137.9" cy="294.7" r="1.55"/><circle cx="104.2" cy="306.2" r="1.55"/><circle cx="95.0" cy="268.8" r="1.55"/><circle cx="79.9" cy="283.0" r="1.55"/><circle cx="85.8" cy="270.7" r="1.55"/><circle cx="61.3" cy="294.4" r="1.55"/><circle cx="69.0" cy="301.3" r="1.55"/><circle cx="98.0" cy="266.2" r="1.55"/><circle cx="127.0" cy="296.8" r="1.55"/><circle cx="64.1" cy="289.0" r="1.55"/><circle cx="69.2" cy="292.0" r="1.55"/><circle cx="60.3" cy="283.5" r="1.55"/><circle cx="54.3" cy="270.1" r="1.55"/><circle cx="103.6" cy="279.5" r="1.55"/><circle cx="77.5" cy="276.9" r="1.55"/><circle cx="109.1" cy="299.3" r="1.55"/><circle cx="47.2" cy="291.7" r="1.55"/><circle cx="18.8" cy="291.1" r="1.55"/><circle cx="83.6" cy="254.1" r="1.55"/><circle cx="85.7" cy="265.0" r="1.55"/><circle cx="63.5" cy="289.6" r="1.55"/><circle cx="88.9" cy="298.4" r="1.55"/><circle cx="176.9" cy="297.5" r="1.55"/><circle cx="70.8" cy="277.3" r="1.55"/><circle cx="138.9" cy="292.2" r="1.55"/><circle cx="80.6" cy="250.3" r="1.55"/><circle cx="78.3" cy="247.8" r="1.55"/><circle cx="79.9" cy="260.0" r="1.55"/><circle cx="97.9" cy="285.6" r="1.55"/><circle cx="91.8" cy="294.8" r="1.55"/><circle cx="71.7" cy="259.3" r="1.55"/><circle cx="99.6" cy="281.4" r="1.55"/><circle cx="53.6" cy="282.7" r="1.55"/><circle cx="96.5" cy="280.2" r="1.55"/><circle cx="92.5" cy="256.6" r="1.55"/><circle cx="90.9" cy="272.1" r="1.55"/><circle cx="71.5" cy="274.3" r="1.55"/><circle cx="98.4" cy="287.4" r="1.55"/><circle cx="45.5" cy="288.5" r="1.55"/><circle cx="80.4" cy="275.0" r="1.55"/><circle cx="70.6" cy="290.7" r="1.55"/><circle cx="98.2" cy="297.7" r="1.55"/><circle cx="107.5" cy="306.0" r="1.55"/><circle cx="71.2" cy="284.9" r="1.55"/><circle cx="73.1" cy="265.4" r="1.55"/><circle cx="99.7" cy="293.4" r="1.55"/><circle cx="84.9" cy="265.3" r="1.55"/><circle cx="113.4" cy="282.7" r="1.55"/><circle cx="76.1" cy="230.6" r="1.55"/><circle cx="116.3" cy="292.6" r="1.55"/><circle cx="83.3" cy="268.9" r="1.55"/><circle cx="85.0" cy="265.3" r="1.55"/><circle cx="113.4" cy="297.2" r="1.55"/><circle cx="94.1" cy="290.8" r="1.55"/><circle cx="98.0" cy="294.3" r="1.55"/><circle cx="86.0" cy="264.5" r="1.55"/><circle cx="93.9" cy="302.8" r="1.55"/><circle cx="61.4" cy="276.4" r="1.55"/><circle cx="129.4" cy="289.3" r="1.55"/><circle cx="95.5" cy="297.2" r="1.55"/><circle cx="71.0" cy="244.1" r="1.55"/><circle cx="77.5" cy="217.0" r="1.55"/><circle cx="70.9" cy="272.5" r="1.55"/><circle cx="69.1" cy="301.8" r="1.55"/><circle cx="104.0" cy="289.4" r="1.55"/><circle cx="86.1" cy="266.3" r="1.55"/><circle cx="94.9" cy="275.7" r="1.55"/><circle cx="99.8" cy="289.4" r="1.55"/><circle cx="100.8" cy="296.0" r="1.55"/><circle cx="83.4" cy="293.5" r="1.55"/><circle cx="90.7" cy="287.9" r="1.55"/><circle cx="87.0" cy="297.0" r="1.55"/><circle cx="81.5" cy="253.9" r="1.55"/><circle cx="104.5" cy="302.2" r="1.55"/><circle cx="86.0" cy="272.9" r="1.55"/><circle cx="83.9" cy="259.5" r="1.55"/><circle cx="74.5" cy="235.2" r="1.55"/><circle cx="139.0" cy="296.7" r="1.55"/><circle cx="67.6" cy="260.9" r="1.55"/><circle cx="103.9" cy="278.5" r="1.55"/><circle cx="111.5" cy="283.9" r="1.55"/><circle cx="109.7" cy="275.5" r="1.55"/><circle cx="119.3" cy="274.3" r="1.55"/><circle cx="83.7" cy="250.0" r="1.55"/><circle cx="99.2" cy="303.1" r="1.55"/><circle cx="86.5" cy="285.9" r="1.55"/><circle cx="71.0" cy="256.7" r="1.55"/><circle cx="146.0" cy="289.5" r="1.55"/><circle cx="86.2" cy="265.8" r="1.55"/><circle cx="84.4" cy="254.9" r="1.55"/><circle cx="59.2" cy="268.7" r="1.55"/><circle cx="86.2" cy="267.9" r="1.55"/><circle cx="85.9" cy="261.3" r="1.55"/><circle cx="83.2" cy="287.1" r="1.55"/><circle cx="47.2" cy="287.3" r="1.55"/><circle cx="121.2" cy="287.9" r="1.55"/><circle cx="81.7" cy="267.9" r="1.55"/><circle cx="86.0" cy="290.1" r="1.55"/><circle cx="147.6" cy="295.2" r="1.55"/><circle cx="103.1" cy="272.9" r="1.55"/><circle cx="71.9" cy="295.7" r="1.55"/><circle cx="109.7" cy="270.8" r="1.55"/><circle cx="78.6" cy="294.4" r="1.55"/><circle cx="84.3" cy="260.1" r="1.55"/><circle cx="143.6" cy="297.9" r="1.55"/><circle cx="141.5" cy="290.8" r="1.55"/><circle cx="77.9" cy="305.3" r="1.55"/><circle cx="62.3" cy="275.3" r="1.55"/><circle cx="81.8" cy="258.0" r="1.55"/><circle cx="72.9" cy="241.8" r="1.55"/><circle cx="135.5" cy="307.3" r="1.55"/><circle cx="77.2" cy="245.9" r="1.55"/><circle cx="75.3" cy="296.5" r="1.55"/><circle cx="57.4" cy="273.1" r="1.55"/><circle cx="73.8" cy="266.0" r="1.55"/><circle cx="85.8" cy="264.5" r="1.55"/><circle cx="77.9" cy="286.0" r="1.55"/><circle cx="81.2" cy="258.3" r="1.55"/><circle cx="50.7" cy="274.1" r="1.55"/><circle cx="77.4" cy="227.1" r="1.55"/><circle cx="70.6" cy="235.4" r="1.55"/><circle cx="98.0" cy="296.1" r="1.55"/><circle cx="102.4" cy="303.7" r="1.55"/><circle cx="89.3" cy="290.2" r="1.55"/><circle cx="98.1" cy="292.8" r="1.55"/><circle cx="58.2" cy="284.0" r="1.55"/><circle cx="84.3" cy="274.1" r="1.55"/><circle cx="84.6" cy="260.4" r="1.55"/><circle cx="68.3" cy="273.3" r="1.55"/><circle cx="79.5" cy="258.0" r="1.55"/><circle cx="84.7" cy="266.0" r="1.55"/><circle cx="81.5" cy="268.9" r="1.55"/><circle cx="75.6" cy="270.1" r="1.55"/><circle cx="150.9" cy="295.9" r="1.55"/><circle cx="80.1" cy="246.1" r="1.55"/><circle cx="90.6" cy="292.1" r="1.55"/><circle cx="73.4" cy="299.0" r="1.55"/><circle cx="72.7" cy="273.6" r="1.55"/><circle cx="85.3" cy="287.6" r="1.55"/><circle cx="61.2" cy="261.6" r="1.55"/><circle cx="58.2" cy="288.8" r="1.55"/><circle cx="71.3" cy="247.3" r="1.55"/><circle cx="67.6" cy="273.6" r="1.55"/><circle cx="56.1" cy="271.7" r="1.55"/><circle cx="88.0" cy="270.7" r="1.55"/><circle cx="79.8" cy="303.6" r="1.55"/><circle cx="86.7" cy="269.4" r="1.55"/><circle cx="85.8" cy="293.4" r="1.55"/><circle cx="100.6" cy="276.3" r="1.55"/><circle cx="54.1" cy="278.7" r="1.55"/><circle cx="70.0" cy="225.1" r="1.55"/><circle cx="107.2" cy="303.0" r="1.55"/><circle cx="104.1" cy="270.4" r="1.55"/><circle cx="87.3" cy="266.4" r="1.55"/><circle cx="84.1" cy="257.5" r="1.55"/><circle cx="54.3" cy="280.2" r="1.55"/><circle cx="105.2" cy="281.7" r="1.55"/><circle cx="79.0" cy="233.0" r="1.55"/><circle cx="85.2" cy="261.8" r="1.55"/><circle cx="95.8" cy="286.7" r="1.55"/><circle cx="100.1" cy="279.7" r="1.55"/><circle cx="79.2" cy="290.6" r="1.55"/><circle cx="117.9" cy="288.1" r="1.55"/><circle cx="69.3" cy="252.3" r="1.55"/><circle cx="44.9" cy="290.9" r="1.55"/><circle cx="91.0" cy="266.7" r="1.55"/><circle cx="82.9" cy="274.7" r="1.55"/><circle cx="75.8" cy="301.4" r="1.55"/><circle cx="80.7" cy="255.8" r="1.55"/><circle cx="74.0" cy="243.7" r="1.55"/><circle cx="86.8" cy="268.0" r="1.55"/><circle cx="108.6" cy="283.1" r="1.55"/><circle cx="81.4" cy="246.1" r="1.55"/><circle cx="74.0" cy="226.0" r="1.55"/><circle cx="51.6" cy="294.0" r="1.55"/><circle cx="96.9" cy="279.5" r="1.55"/><circle cx="64.1" cy="281.4" r="1.55"/><circle cx="85.1" cy="268.8" r="1.55"/><circle cx="101.3" cy="297.8" r="1.55"/><circle cx="80.3" cy="244.5" r="1.55"/><circle cx="118.0" cy="299.5" r="1.55"/><circle cx="77.8" cy="252.5" r="1.55"/><circle cx="127.8" cy="298.4" r="1.55"/><circle cx="62.6" cy="295.7" r="1.55"/><circle cx="71.0" cy="239.1" r="1.55"/><circle cx="43.7" cy="289.9" r="1.55"/><circle cx="114.6" cy="287.4" r="1.55"/><circle cx="70.9" cy="275.9" r="1.55"/><circle cx="61.8" cy="289.8" r="1.55"/><circle cx="78.4" cy="278.2" r="1.55"/><circle cx="80.2" cy="242.6" r="1.55"/><circle cx="79.1" cy="279.5" r="1.55"/><circle cx="81.5" cy="256.5" r="1.55"/><circle cx="97.4" cy="287.9" r="1.55"/><circle cx="59.1" cy="288.8" r="1.55"/><circle cx="96.3" cy="278.4" r="1.55"/><circle cx="76.1" cy="229.5" r="1.55"/><circle cx="104.2" cy="282.4" r="1.55"/><circle cx="74.9" cy="291.7" r="1.55"/><circle cx="79.2" cy="288.1" r="1.55"/><circle cx="76.1" cy="260.1" r="1.55"/><circle cx="84.6" cy="263.3" r="1.55"/><circle cx="80.3" cy="255.5" r="1.55"/><circle cx="69.1" cy="271.7" r="1.55"/><circle cx="87.6" cy="303.1" r="1.55"/><circle cx="91.8" cy="265.2" r="1.55"/><circle cx="83.0" cy="252.2" r="1.55"/><circle cx="79.1" cy="240.3" r="1.55"/><circle cx="73.2" cy="280.1" r="1.55"/><circle cx="68.8" cy="279.3" r="1.55"/><circle cx="87.0" cy="271.7" r="1.55"/><circle cx="113.8" cy="301.3" r="1.55"/><circle cx="83.0" cy="263.1" r="1.55"/><circle cx="133.0" cy="298.6" r="1.55"/><circle cx="108.2" cy="295.0" r="1.55"/><circle cx="55.4" cy="277.0" r="1.55"/><circle cx="98.5" cy="289.2" r="1.55"/><circle cx="113.9" cy="300.4" r="1.55"/><circle cx="128.4" cy="294.6" r="1.55"/><circle cx="77.7" cy="252.7" r="1.55"/><circle cx="101.8" cy="296.5" r="1.55"/><circle cx="65.8" cy="291.4" r="1.55"/><circle cx="113.6" cy="305.1" r="1.55"/><circle cx="108.8" cy="271.3" r="1.55"/><circle cx="61.9" cy="281.1" r="1.55"/><circle cx="79.9" cy="240.1" r="1.55"/><circle cx="78.7" cy="235.3" r="1.55"/><circle cx="119.5" cy="281.5" r="1.55"/><circle cx="87.4" cy="299.8" r="1.55"/><circle cx="102.1" cy="294.5" r="1.55"/><circle cx="114.3" cy="283.2" r="1.55"/><circle cx="69.0" cy="282.6" r="1.55"/><circle cx="100.2" cy="297.4" r="1.55"/><circle cx="101.2" cy="301.7" r="1.55"/><circle cx="79.6" cy="251.1" r="1.55"/><circle cx="71.0" cy="275.4" r="1.55"/><circle cx="113.9" cy="294.3" r="1.55"/><circle cx="95.4" cy="277.1" r="1.55"/><circle cx="66.9" cy="271.8" r="1.55"/><circle cx="83.0" cy="266.9" r="1.55"/><circle cx="18.8" cy="283.0" r="1.55"/><circle cx="119.3" cy="301.7" r="1.55"/><circle cx="155.7" cy="300.5" r="1.55"/><circle cx="66.1" cy="266.4" r="1.55"/><circle cx="86.1" cy="262.9" r="1.55"/><circle cx="79.2" cy="265.5" r="1.55"/><circle cx="103.2" cy="286.0" r="1.55"/><circle cx="75.1" cy="239.5" r="1.55"/><circle cx="68.6" cy="297.3" r="1.55"/><circle cx="76.7" cy="231.7" r="1.55"/><circle cx="109.6" cy="295.2" r="1.55"/><circle cx="79.5" cy="297.9" r="1.55"/><circle cx="77.5" cy="256.0" r="1.55"/><circle cx="80.7" cy="280.4" r="1.55"/><circle cx="82.6" cy="254.5" r="1.55"/><circle cx="78.5" cy="268.8" r="1.55"/><circle cx="107.9" cy="287.9" r="1.55"/><circle cx="75.3" cy="301.7" r="1.55"/><circle cx="131.3" cy="284.1" r="1.55"/><circle cx="78.4" cy="239.7" r="1.55"/><circle cx="89.7" cy="273.8" r="1.55"/><circle cx="132.5" cy="297.4" r="1.55"/><circle cx="64.6" cy="273.0" r="1.55"/><circle cx="81.4" cy="252.6" r="1.55"/><circle cx="75.9" cy="254.6" r="1.55"/><circle cx="77.7" cy="295.5" r="1.55"/><circle cx="52.9" cy="288.5" r="1.55"/><circle cx="69.9" cy="250.5" r="1.55"/><circle cx="106.9" cy="288.8" r="1.55"/><circle cx="99.7" cy="282.8" r="1.55"/><circle cx="59.6" cy="288.1" r="1.55"/><circle cx="86.8" cy="264.4" r="1.55"/><circle cx="96.1" cy="279.1" r="1.55"/><circle cx="64.2" cy="269.8" r="1.55"/><circle cx="74.5" cy="250.8" r="1.55"/><circle cx="88.3" cy="267.5" r="1.55"/><circle cx="64.5" cy="206.3" r="1.55"/><circle cx="89.3" cy="298.5" r="1.55"/><circle cx="105.4" cy="282.1" r="1.55"/><circle cx="72.9" cy="256.7" r="1.55"/><circle cx="127.6" cy="285.2" r="1.55"/><circle cx="88.5" cy="271.9" r="1.55"/><circle cx="63.1" cy="280.5" r="1.55"/><circle cx="85.3" cy="261.6" r="1.55"/><circle cx="125.1" cy="291.9" r="1.55"/><circle cx="100.4" cy="301.5" r="1.55"/><circle cx="117.0" cy="286.1" r="1.55"/><circle cx="105.6" cy="294.1" r="1.55"/><circle cx="56.3" cy="288.8" r="1.55"/><circle cx="84.5" cy="260.5" r="1.55"/><circle cx="88.5" cy="300.7" r="1.55"/><circle cx="91.3" cy="276.5" r="1.55"/><circle cx="119.4" cy="305.5" r="1.55"/><circle cx="105.2" cy="277.2" r="1.55"/><circle cx="94.9" cy="275.0" r="1.55"/><circle cx="57.8" cy="275.5" r="1.55"/><circle cx="79.9" cy="248.0" r="1.55"/><circle cx="82.7" cy="288.7" r="1.55"/><circle cx="133.2" cy="284.3" r="1.55"/><circle cx="103.7" cy="281.2" r="1.55"/><circle cx="43.9" cy="279.3" r="1.55"/><circle cx="76.3" cy="286.1" r="1.55"/><circle cx="100.4" cy="278.9" r="1.55"/><circle cx="72.9" cy="291.1" r="1.55"/><circle cx="101.2" cy="278.0" r="1.55"/><circle cx="18.8" cy="279.0" r="1.55"/><circle cx="98.7" cy="275.3" r="1.55"/><circle cx="75.3" cy="302.1" r="1.55"/><circle cx="113.4" cy="297.7" r="1.55"/><circle cx="98.9" cy="275.9" r="1.55"/><circle cx="81.4" cy="255.0" r="1.55"/><circle cx="94.7" cy="273.1" r="1.55"/><circle cx="72.2" cy="244.0" r="1.55"/><circle cx="64.9" cy="274.6" r="1.55"/><circle cx="96.3" cy="297.4" r="1.55"/><circle cx="97.8" cy="303.8" r="1.55"/><circle cx="84.2" cy="272.5" r="1.55"/><circle cx="81.3" cy="250.0" r="1.55"/><circle cx="58.8" cy="266.6" r="1.55"/><circle cx="126.1" cy="292.5" r="1.55"/><circle cx="87.0" cy="305.5" r="1.55"/><circle cx="138.4" cy="289.8" r="1.55"/><circle cx="66.4" cy="289.4" r="1.55"/><circle cx="70.0" cy="240.4" r="1.55"/><circle cx="82.7" cy="263.0" r="1.55"/><circle cx="93.1" cy="256.6" r="1.55"/><circle cx="61.6" cy="288.2" r="1.55"/><circle cx="77.6" cy="267.7" r="1.55"/><circle cx="114.6" cy="298.3" r="1.55"/><circle cx="81.1" cy="248.9" r="1.55"/><circle cx="67.6" cy="300.0" r="1.55"/><circle cx="78.8" cy="255.4" r="1.55"/><circle cx="68.9" cy="243.5" r="1.55"/><circle cx="106.7" cy="284.7" r="1.55"/><circle cx="80.5" cy="247.2" r="1.55"/><circle cx="83.6" cy="282.6" r="1.55"/><circle cx="83.2" cy="269.3" r="1.55"/><circle cx="88.3" cy="295.9" r="1.55"/><circle cx="135.2" cy="299.9" r="1.55"/><circle cx="112.2" cy="300.0" r="1.55"/><circle cx="69.3" cy="228.8" r="1.55"/><circle cx="60.9" cy="269.6" r="1.55"/><circle cx="75.2" cy="266.7" r="1.55"/><circle cx="69.5" cy="290.0" r="1.55"/><circle cx="59.3" cy="196.4" r="1.55"/><circle cx="81.4" cy="250.4" r="1.55"/><circle cx="74.0" cy="299.1" r="1.55"/><circle cx="85.2" cy="265.8" r="1.55"/><circle cx="62.9" cy="292.0" r="1.55"/><circle cx="64.7" cy="283.7" r="1.55"/><circle cx="71.3" cy="244.3" r="1.55"/><circle cx="76.9" cy="236.9" r="1.55"/><circle cx="102.3" cy="294.6" r="1.55"/><circle cx="116.7" cy="309.4" r="1.55"/><circle cx="81.3" cy="290.1" r="1.55"/><circle cx="67.7" cy="265.9" r="1.55"/><circle cx="97.3" cy="275.4" r="1.55"/><circle cx="46.4" cy="274.0" r="1.55"/><circle cx="52.2" cy="293.1" r="1.55"/><circle cx="98.8" cy="273.5" r="1.55"/><circle cx="118.7" cy="281.3" r="1.55"/><circle cx="89.9" cy="276.2" r="1.55"/><circle cx="115.8" cy="292.2" r="1.55"/><circle cx="81.4" cy="261.8" r="1.55"/><circle cx="86.4" cy="283.7" r="1.55"/><circle cx="82.1" cy="253.5" r="1.55"/><circle cx="128.0" cy="290.4" r="1.55"/><circle cx="77.7" cy="294.2" r="1.55"/><circle cx="82.8" cy="271.7" r="1.55"/><circle cx="125.8" cy="298.9" r="1.55"/><circle cx="128.7" cy="293.6" r="1.55"/><circle cx="54.7" cy="289.0" r="1.55"/><circle cx="98.2" cy="268.1" r="1.55"/><circle cx="90.5" cy="276.8" r="1.55"/><circle cx="141.4" cy="289.9" r="1.55"/><circle cx="82.8" cy="266.3" r="1.55"/><circle cx="71.1" cy="209.3" r="1.55"/><circle cx="81.6" cy="250.5" r="1.55"/><circle cx="84.4" cy="284.1" r="1.55"/><circle cx="99.5" cy="280.8" r="1.55"/><circle cx="54.7" cy="282.7" r="1.55"/><circle cx="78.5" cy="237.2" r="1.55"/><circle cx="78.3" cy="242.5" r="1.55"/><circle cx="72.7" cy="273.0" r="1.55"/><circle cx="83.5" cy="261.5" r="1.55"/><circle cx="90.8" cy="291.9" r="1.55"/><circle cx="79.4" cy="239.4" r="1.55"/><circle cx="50.7" cy="278.8" r="1.55"/><circle cx="78.9" cy="246.2" r="1.55"/><circle cx="87.1" cy="271.6" r="1.55"/><circle cx="79.3" cy="249.6" r="1.55"/><circle cx="87.9" cy="273.1" r="1.55"/><circle cx="71.3" cy="260.9" r="1.55"/><circle cx="136.6" cy="300.8" r="1.55"/><circle cx="100.5" cy="296.4" r="1.55"/><circle cx="68.9" cy="265.5" r="1.55"/><circle cx="87.5" cy="293.9" r="1.55"/><circle cx="75.3" cy="274.1" r="1.55"/><circle cx="56.9" cy="276.2" r="1.55"/><circle cx="126.4" cy="303.8" r="1.55"/><circle cx="116.9" cy="277.3" r="1.55"/><circle cx="68.2" cy="281.9" r="1.55"/><circle cx="76.4" cy="233.2" r="1.55"/><circle cx="87.3" cy="284.9" r="1.55"/><circle cx="99.8" cy="290.0" r="1.55"/><circle cx="74.3" cy="289.4" r="1.55"/><circle cx="102.2" cy="287.1" r="1.55"/><circle cx="87.1" cy="278.5" r="1.55"/><circle cx="75.4" cy="253.7" r="1.55"/><circle cx="102.3" cy="284.5" r="1.55"/><circle cx="83.2" cy="254.1" r="1.55"/><circle cx="68.4" cy="286.6" r="1.55"/><circle cx="73.7" cy="243.7" r="1.55"/><circle cx="71.4" cy="302.6" r="1.55"/><circle cx="89.6" cy="300.0" r="1.55"/><circle cx="105.1" cy="283.2" r="1.55"/><circle cx="103.8" cy="275.4" r="1.55"/><circle cx="50.8" cy="288.7" r="1.55"/><circle cx="87.1" cy="266.8" r="1.55"/><circle cx="68.1" cy="239.9" r="1.55"/><circle cx="54.2" cy="279.2" r="1.55"/><circle cx="110.2" cy="295.2" r="1.55"/><circle cx="87.5" cy="268.1" r="1.55"/><circle cx="90.3" cy="317.1" r="1.55"/><circle cx="60.9" cy="281.3" r="1.55"/><circle cx="91.3" cy="265.4" r="1.55"/><circle cx="73.9" cy="237.7" r="1.55"/><circle cx="79.9" cy="248.7" r="1.55"/><circle cx="76.2" cy="231.9" r="1.55"/><circle cx="44.7" cy="266.5" r="1.55"/><circle cx="134.8" cy="291.9" r="1.55"/><circle cx="90.9" cy="273.5" r="1.55"/><circle cx="91.3" cy="296.5" r="1.55"/><circle cx="48.9" cy="270.4" r="1.55"/><circle cx="58.8" cy="296.9" r="1.55"/><circle cx="70.1" cy="257.3" r="1.55"/><circle cx="81.9" cy="286.8" r="1.55"/><circle cx="48.2" cy="274.7" r="1.55"/><circle cx="139.7" cy="292.9" r="1.55"/><circle cx="103.8" cy="291.4" r="1.55"/><circle cx="80.0" cy="245.0" r="1.55"/><circle cx="144.7" cy="288.4" r="1.55"/><circle cx="116.2" cy="300.1" r="1.55"/><circle cx="76.8" cy="292.5" r="1.55"/><circle cx="69.2" cy="295.9" r="1.55"/><circle cx="116.0" cy="309.8" r="1.55"/><circle cx="68.9" cy="282.6" r="1.55"/><circle cx="85.1" cy="296.2" r="1.55"/><circle cx="77.2" cy="226.0" r="1.55"/><circle cx="92.7" cy="266.7" r="1.55"/><circle cx="78.1" cy="265.8" r="1.55"/><circle cx="57.0" cy="282.8" r="1.55"/><circle cx="110.1" cy="283.9" r="1.55"/><circle cx="81.6" cy="245.2" r="1.55"/><circle cx="93.6" cy="290.8" r="1.55"/><circle cx="67.5" cy="263.0" r="1.55"/><circle cx="82.7" cy="287.3" r="1.55"/><circle cx="78.5" cy="262.3" r="1.55"/><circle cx="120.1" cy="305.2" r="1.55"/><circle cx="82.8" cy="252.9" r="1.55"/><circle cx="80.2" cy="246.3" r="1.55"/><circle cx="51.8" cy="318.6" r="1.55"/><circle cx="71.8" cy="290.6" r="1.55"/><circle cx="69.5" cy="266.6" r="1.55"/><circle cx="74.9" cy="249.0" r="1.55"/><circle cx="86.7" cy="288.5" r="1.55"/><circle cx="107.2" cy="294.4" r="1.55"/><circle cx="76.0" cy="207.8" r="1.55"/><circle cx="79.5" cy="287.0" r="1.55"/><circle cx="63.5" cy="293.7" r="1.55"/><circle cx="79.0" cy="256.5" r="1.55"/><circle cx="68.7" cy="237.5" r="1.55"/><circle cx="84.5" cy="261.0" r="1.55"/><circle cx="98.2" cy="292.5" r="1.55"/><circle cx="89.9" cy="291.2" r="1.55"/><circle cx="125.5" cy="283.0" r="1.55"/><circle cx="60.0" cy="264.3" r="1.55"/><circle cx="107.4" cy="298.3" r="1.55"/><circle cx="86.5" cy="266.9" r="1.55"/><circle cx="125.8" cy="286.1" r="1.55"/><circle cx="80.2" cy="242.0" r="1.55"/><circle cx="78.1" cy="282.4" r="1.55"/><circle cx="103.4" cy="273.8" r="1.55"/><circle cx="135.4" cy="298.1" r="1.55"/><circle cx="72.7" cy="253.0" r="1.55"/><circle cx="105.0" cy="260.1" r="1.55"/><circle cx="71.0" cy="291.3" r="1.55"/><circle cx="85.7" cy="266.2" r="1.55"/><circle cx="88.7" cy="272.6" r="1.55"/><circle cx="82.7" cy="256.7" r="1.55"/><circle cx="78.4" cy="238.5" r="1.55"/><circle cx="55.8" cy="289.3" r="1.55"/><circle cx="86.2" cy="305.8" r="1.55"/><circle cx="71.4" cy="275.3" r="1.55"/><circle cx="80.3" cy="245.6" r="1.55"/><circle cx="84.7" cy="263.3" r="1.55"/><circle cx="95.2" cy="292.8" r="1.55"/><circle cx="128.0" cy="293.0" r="1.55"/><circle cx="79.1" cy="240.2" r="1.55"/><circle cx="55.1" cy="252.2" r="1.55"/><circle cx="120.0" cy="300.8" r="1.55"/><circle cx="69.9" cy="242.4" r="1.55"/><circle cx="88.1" cy="299.9" r="1.55"/><circle cx="83.0" cy="280.1" r="1.55"/><circle cx="123.9" cy="258.8" r="1.55"/><circle cx="115.8" cy="285.3" r="1.55"/><circle cx="67.9" cy="287.3" r="1.55"/><circle cx="75.7" cy="277.0" r="1.55"/><circle cx="80.7" cy="299.5" r="1.55"/><circle cx="60.3" cy="286.9" r="1.55"/><circle cx="48.4" cy="282.7" r="1.55"/><circle cx="84.4" cy="281.1" r="1.55"/><circle cx="55.1" cy="275.0" r="1.55"/><circle cx="128.2" cy="301.5" r="1.55"/><circle cx="86.6" cy="263.8" r="1.55"/><circle cx="81.2" cy="250.3" r="1.55"/><circle cx="123.7" cy="281.0" r="1.55"/><circle cx="67.2" cy="285.0" r="1.55"/><circle cx="70.7" cy="293.6" r="1.55"/><circle cx="82.7" cy="282.8" r="1.55"/><circle cx="77.7" cy="238.1" r="1.55"/><circle cx="70.5" cy="244.6" r="1.55"/><circle cx="70.5" cy="297.4" r="1.55"/><circle cx="83.9" cy="285.4" r="1.55"/><circle cx="123.1" cy="279.3" r="1.55"/><circle cx="76.2" cy="237.0" r="1.55"/><circle cx="93.1" cy="304.6" r="1.55"/><circle cx="78.6" cy="235.8" r="1.55"/><circle cx="104.8" cy="288.8" r="1.55"/><circle cx="68.8" cy="267.0" r="1.55"/><circle cx="62.3" cy="298.5" r="1.55"/><circle cx="65.8" cy="273.5" r="1.55"/><circle cx="104.7" cy="292.5" r="1.55"/><circle cx="145.5" cy="299.5" r="1.55"/><circle cx="110.2" cy="274.9" r="1.55"/><circle cx="115.3" cy="275.4" r="1.55"/><circle cx="90.0" cy="283.9" r="1.55"/><circle cx="90.0" cy="303.0" r="1.55"/><circle cx="72.4" cy="282.7" r="1.55"/><circle cx="110.9" cy="273.8" r="1.55"/><circle cx="109.6" cy="280.6" r="1.55"/><circle cx="72.6" cy="261.4" r="1.55"/><circle cx="66.6" cy="281.1" r="1.55"/><circle cx="67.3" cy="289.6" r="1.55"/><circle cx="107.5" cy="297.5" r="1.55"/><circle cx="45.1" cy="283.2" r="1.55"/><circle cx="125.2" cy="298.1" r="1.55"/><circle cx="73.8" cy="273.3" r="1.55"/><circle cx="73.3" cy="241.3" r="1.55"/><circle cx="79.8" cy="243.7" r="1.55"/><circle cx="92.5" cy="312.0" r="1.55"/><circle cx="73.6" cy="255.2" r="1.55"/><circle cx="69.9" cy="279.7" r="1.55"/><circle cx="101.7" cy="271.7" r="1.55"/><circle cx="72.0" cy="283.9" r="1.55"/><circle cx="82.7" cy="251.1" r="1.55"/><circle cx="87.5" cy="268.9" r="1.55"/><circle cx="81.8" cy="249.5" r="1.55"/><circle cx="91.3" cy="290.8" r="1.55"/><circle cx="78.9" cy="244.1" r="1.55"/><circle cx="84.2" cy="253.8" r="1.55"/><circle cx="98.1" cy="299.5" r="1.55"/><circle cx="82.2" cy="255.2" r="1.55"/><circle cx="104.1" cy="282.2" r="1.55"/><circle cx="115.2" cy="273.6" r="1.55"/><circle cx="93.5" cy="282.7" r="1.55"/><circle cx="74.9" cy="254.8" r="1.55"/><circle cx="67.0" cy="290.7" r="1.55"/><circle cx="72.4" cy="294.2" r="1.55"/><circle cx="123.2" cy="295.0" r="1.55"/><circle cx="65.4" cy="297.2" r="1.55"/><circle cx="66.3" cy="301.8" r="1.55"/><circle cx="125.6" cy="297.0" r="1.55"/><circle cx="143.8" cy="300.5" r="1.55"/><circle cx="72.0" cy="249.4" r="1.55"/><circle cx="100.2" cy="280.3" r="1.55"/><circle cx="54.4" cy="288.6" r="1.55"/><circle cx="81.2" cy="254.4" r="1.55"/><circle cx="142.6" cy="293.4" r="1.55"/><circle cx="73.8" cy="270.2" r="1.55"/><circle cx="91.3" cy="270.7" r="1.55"/><circle cx="112.7" cy="293.9" r="1.55"/><circle cx="75.6" cy="244.7" r="1.55"/><circle cx="144.9" cy="293.7" r="1.55"/><circle cx="77.8" cy="239.0" r="1.55"/><circle cx="79.4" cy="234.7" r="1.55"/><circle cx="83.1" cy="256.4" r="1.55"/><circle cx="98.4" cy="268.2" r="1.55"/><circle cx="69.1" cy="232.5" r="1.55"/><circle cx="85.0" cy="259.4" r="1.55"/><circle cx="86.6" cy="270.2" r="1.55"/><circle cx="95.5" cy="305.5" r="1.55"/><circle cx="67.0" cy="253.9" r="1.55"/><circle cx="109.1" cy="297.0" r="1.55"/><circle cx="81.2" cy="248.2" r="1.55"/><circle cx="80.5" cy="246.8" r="1.55"/><circle cx="80.7" cy="291.0" r="1.55"/><circle cx="126.4" cy="303.3" r="1.55"/><circle cx="104.1" cy="289.3" r="1.55"/><circle cx="99.1" cy="277.0" r="1.55"/><circle cx="63.0" cy="279.6" r="1.55"/><circle cx="110.7" cy="298.5" r="1.55"/><circle cx="80.8" cy="270.5" r="1.55"/><circle cx="65.4" cy="284.6" r="1.55"/><circle cx="73.8" cy="250.2" r="1.55"/><circle cx="49.6" cy="285.0" r="1.55"/><circle cx="81.2" cy="289.7" r="1.55"/><circle cx="84.8" cy="263.5" r="1.55"/><circle cx="152.2" cy="295.2" r="1.55"/><circle cx="107.4" cy="289.2" r="1.55"/><circle cx="69.0" cy="291.5" r="1.55"/><circle cx="123.7" cy="299.7" r="1.55"/><circle cx="59.2" cy="294.4" r="1.55"/><circle cx="86.3" cy="267.6" r="1.55"/><circle cx="101.1" cy="277.5" r="1.55"/><circle cx="70.0" cy="244.5" r="1.55"/><circle cx="194.6" cy="294.1" r="1.55"/><circle cx="69.0" cy="260.1" r="1.55"/><circle cx="81.6" cy="253.2" r="1.55"/><circle cx="121.9" cy="297.8" r="1.55"/><circle cx="121.2" cy="291.0" r="1.55"/><circle cx="125.9" cy="281.9" r="1.55"/><circle cx="81.7" cy="251.9" r="1.55"/><circle cx="62.6" cy="278.2" r="1.55"/><circle cx="117.8" cy="281.9" r="1.55"/><circle cx="128.1" cy="299.2" r="1.55"/><circle cx="76.2" cy="231.2" r="1.55"/><circle cx="77.2" cy="292.5" r="1.55"/><circle cx="124.3" cy="305.5" r="1.55"/><circle cx="81.9" cy="253.2" r="1.55"/><circle cx="134.4" cy="292.0" r="1.55"/><circle cx="64.9" cy="257.4" r="1.55"/><circle cx="88.7" cy="276.8" r="1.55"/><circle cx="46.9" cy="278.0" r="1.55"/><circle cx="62.3" cy="298.6" r="1.55"/><circle cx="76.7" cy="228.1" r="1.55"/><circle cx="91.5" cy="300.5" r="1.55"/><circle cx="96.9" cy="306.7" r="1.55"/><circle cx="77.6" cy="252.1" r="1.55"/><circle cx="129.9" cy="305.9" r="1.55"/><circle cx="70.0" cy="257.1" r="1.55"/><circle cx="80.8" cy="268.6" r="1.55"/><circle cx="72.0" cy="239.1" r="1.55"/><circle cx="110.7" cy="274.3" r="1.55"/><circle cx="121.5" cy="292.8" r="1.55"/><circle cx="78.2" cy="239.4" r="1.55"/><circle cx="131.0" cy="285.7" r="1.55"/><circle cx="78.7" cy="283.6" r="1.55"/><circle cx="82.5" cy="297.7" r="1.55"/><circle cx="65.9" cy="284.6" r="1.55"/><circle cx="107.6" cy="295.7" r="1.55"/><circle cx="92.4" cy="294.8" r="1.55"/><circle cx="92.2" cy="299.8" r="1.55"/><circle cx="118.3" cy="286.4" r="1.55"/><circle cx="82.1" cy="246.7" r="1.55"/><circle cx="98.4" cy="270.9" r="1.55"/><circle cx="128.6" cy="280.9" r="1.55"/><circle cx="82.1" cy="281.8" r="1.55"/><circle cx="108.0" cy="302.1" r="1.55"/><circle cx="89.7" cy="282.5" r="1.55"/><circle cx="69.7" cy="267.5" r="1.55"/><circle cx="83.9" cy="288.4" r="1.55"/><circle cx="91.4" cy="301.4" r="1.55"/><circle cx="106.8" cy="293.9" r="1.55"/><circle cx="65.8" cy="268.9" r="1.55"/><circle cx="67.7" cy="264.3" r="1.55"/><circle cx="80.0" cy="247.9" r="1.55"/><circle cx="85.1" cy="273.9" r="1.55"/><circle cx="84.6" cy="260.1" r="1.55"/><circle cx="134.9" cy="294.0" r="1.55"/><circle cx="83.8" cy="263.6" r="1.55"/><circle cx="72.7" cy="288.5" r="1.55"/><circle cx="111.5" cy="287.3" r="1.55"/><circle cx="75.0" cy="268.0" r="1.55"/><circle cx="83.2" cy="285.2" r="1.55"/><circle cx="93.6" cy="275.3" r="1.55"/><circle cx="71.3" cy="264.7" r="1.55"/><circle cx="86.4" cy="267.1" r="1.55"/><circle cx="78.5" cy="290.2" r="1.55"/><circle cx="78.9" cy="259.1" r="1.55"/><circle cx="99.2" cy="290.1" r="1.55"/><circle cx="66.9" cy="260.2" r="1.55"/><circle cx="107.9" cy="296.6" r="1.55"/><circle cx="91.0" cy="291.0" r="1.55"/><circle cx="124.4" cy="258.4" r="1.55"/><circle cx="63.5" cy="280.9" r="1.55"/><circle cx="46.5" cy="284.7" r="1.55"/><circle cx="79.7" cy="244.3" r="1.55"/><circle cx="83.3" cy="252.2" r="1.55"/><circle cx="130.6" cy="295.5" r="1.55"/><circle cx="79.3" cy="245.1" r="1.55"/><circle cx="117.8" cy="286.6" r="1.55"/><circle cx="69.8" cy="277.7" r="1.55"/><circle cx="95.1" cy="283.3" r="1.55"/><circle cx="74.6" cy="263.1" r="1.55"/><circle cx="77.8" cy="274.3" r="1.55"/><circle cx="61.0" cy="269.9" r="1.55"/><circle cx="111.6" cy="270.6" r="1.55"/><circle cx="83.0" cy="257.0" r="1.55"/><circle cx="103.8" cy="291.2" r="1.55"/><circle cx="59.1" cy="286.7" r="1.55"/><circle cx="60.2" cy="292.0" r="1.55"/><circle cx="94.7" cy="288.2" r="1.55"/><circle cx="101.6" cy="286.5" r="1.55"/><circle cx="42.5" cy="257.9" r="1.55"/><circle cx="100.8" cy="301.2" r="1.55"/><circle cx="114.0" cy="281.0" r="1.55"/><circle cx="93.0" cy="293.5" r="1.55"/><circle cx="81.8" cy="258.0" r="1.55"/><circle cx="70.5" cy="256.0" r="1.55"/><circle cx="140.1" cy="297.5" r="1.55"/><circle cx="140.6" cy="289.0" r="1.55"/><circle cx="83.8" cy="254.2" r="1.55"/><circle cx="100.1" cy="280.5" r="1.55"/><circle cx="128.6" cy="299.3" r="1.55"/><circle cx="79.2" cy="240.2" r="1.55"/><circle cx="84.1" cy="296.4" r="1.55"/><circle cx="73.5" cy="295.9" r="1.55"/><circle cx="87.5" cy="291.8" r="1.55"/><circle cx="97.5" cy="266.7" r="1.55"/><circle cx="87.0" cy="279.5" r="1.55"/><circle cx="91.7" cy="291.8" r="1.55"/><circle cx="139.4" cy="293.6" r="1.55"/><circle cx="105.1" cy="281.1" r="1.55"/><circle cx="83.3" cy="254.5" r="1.55"/><circle cx="95.3" cy="292.0" r="1.55"/><circle cx="71.2" cy="288.1" r="1.55"/><circle cx="63.0" cy="276.5" r="1.55"/><circle cx="91.6" cy="298.1" r="1.55"/><circle cx="87.4" cy="270.0" r="1.55"/><circle cx="65.8" cy="295.0" r="1.55"/><circle cx="104.2" cy="286.0" r="1.55"/><circle cx="82.4" cy="248.5" r="1.55"/><circle cx="79.0" cy="262.4" r="1.55"/><circle cx="139.6" cy="287.5" r="1.55"/><circle cx="69.4" cy="279.6" r="1.55"/><circle cx="55.2" cy="279.2" r="1.55"/><circle cx="98.1" cy="283.5" r="1.55"/><circle cx="85.8" cy="268.0" r="1.55"/><circle cx="83.2" cy="252.0" r="1.55"/><circle cx="86.1" cy="273.8" r="1.55"/><circle cx="82.5" cy="253.9" r="1.55"/><circle cx="72.7" cy="232.8" r="1.55"/><circle cx="109.2" cy="288.9" r="1.55"/><circle cx="85.1" cy="261.5" r="1.55"/><circle cx="123.0" cy="293.3" r="1.55"/><circle cx="84.9" cy="264.6" r="1.55"/><circle cx="127.5" cy="304.0" r="1.55"/><circle cx="85.6" cy="284.9" r="1.55"/><circle cx="116.3" cy="291.6" r="1.55"/><circle cx="53.1" cy="280.1" r="1.55"/><circle cx="146.4" cy="288.5" r="1.55"/><circle cx="57.7" cy="280.7" r="1.55"/><circle cx="78.5" cy="235.1" r="1.55"/><circle cx="49.0" cy="285.7" r="1.55"/><circle cx="66.9" cy="248.2" r="1.55"/><circle cx="104.0" cy="306.8" r="1.55"/><circle cx="83.2" cy="255.5" r="1.55"/><circle cx="102.5" cy="287.2" r="1.55"/><circle cx="106.6" cy="291.8" r="1.55"/><circle cx="87.2" cy="300.0" r="1.55"/><circle cx="89.7" cy="283.7" r="1.55"/><circle cx="135.3" cy="287.4" r="1.55"/><circle cx="74.5" cy="252.1" r="1.55"/><circle cx="97.2" cy="280.5" r="1.55"/><circle cx="83.3" cy="250.2" r="1.55"/><circle cx="96.7" cy="281.5" r="1.55"/><circle cx="131.5" cy="288.9" r="1.55"/><circle cx="126.6" cy="301.6" r="1.55"/><circle cx="53.7" cy="268.7" r="1.55"/><circle cx="82.1" cy="249.4" r="1.55"/><circle cx="88.8" cy="305.6" r="1.55"/><circle cx="78.1" cy="237.9" r="1.55"/><circle cx="88.7" cy="293.3" r="1.55"/><circle cx="85.6" cy="265.4" r="1.55"/><circle cx="88.6" cy="288.5" r="1.55"/><circle cx="75.2" cy="260.3" r="1.55"/><circle cx="80.9" cy="246.1" r="1.55"/><circle cx="93.5" cy="270.4" r="1.55"/><circle cx="55.9" cy="281.9" r="1.55"/><circle cx="79.5" cy="240.6" r="1.55"/><circle cx="93.1" cy="282.3" r="1.55"/><circle cx="77.3" cy="274.1" r="1.55"/><circle cx="94.8" cy="296.7" r="1.55"/><circle cx="100.2" cy="286.5" r="1.55"/><circle cx="119.7" cy="306.1" r="1.55"/><circle cx="91.6" cy="293.7" r="1.55"/><circle cx="107.2" cy="278.9" r="1.55"/><circle cx="115.5" cy="281.5" r="1.55"/><circle cx="47.9" cy="278.8" r="1.55"/><circle cx="69.8" cy="238.0" r="1.55"/><circle cx="87.0" cy="285.4" r="1.55"/><circle cx="90.7" cy="304.2" r="1.55"/><circle cx="107.7" cy="305.1" r="1.55"/><circle cx="95.9" cy="270.8" r="1.55"/><circle cx="98.9" cy="301.6" r="1.55"/><circle cx="85.4" cy="265.1" r="1.55"/><circle cx="63.5" cy="264.1" r="1.55"/><circle cx="83.9" cy="260.5" r="1.55"/><circle cx="79.8" cy="279.7" r="1.55"/><circle cx="98.9" cy="291.9" r="1.55"/><circle cx="65.8" cy="301.5" r="1.55"/><circle cx="102.0" cy="294.9" r="1.55"/><circle cx="78.2" cy="248.1" r="1.55"/><circle cx="114.2" cy="301.2" r="1.55"/><circle cx="91.9" cy="299.3" r="1.55"/><circle cx="72.9" cy="283.1" r="1.55"/><circle cx="80.9" cy="240.2" r="1.55"/><circle cx="75.5" cy="265.6" r="1.55"/><circle cx="46.9" cy="272.1" r="1.55"/><circle cx="76.4" cy="301.7" r="1.55"/><circle cx="81.1" cy="267.9" r="1.55"/><circle cx="77.8" cy="278.5" r="1.55"/><circle cx="82.0" cy="247.1" r="1.55"/><circle cx="134.8" cy="288.2" r="1.55"/><circle cx="55.2" cy="282.0" r="1.55"/><circle cx="84.7" cy="285.8" r="1.55"/><circle cx="87.3" cy="270.2" r="1.55"/><circle cx="88.5" cy="302.7" r="1.55"/><circle cx="100.1" cy="290.7" r="1.55"/><circle cx="72.4" cy="289.4" r="1.55"/><circle cx="83.2" cy="283.2" r="1.55"/><circle cx="72.3" cy="250.7" r="1.55"/><circle cx="65.3" cy="293.7" r="1.55"/><circle cx="95.3" cy="291.0" r="1.55"/><circle cx="79.6" cy="230.7" r="1.55"/><circle cx="77.7" cy="292.1" r="1.55"/><circle cx="77.2" cy="239.0" r="1.55"/><circle cx="108.1" cy="274.1" r="1.55"/><circle cx="67.3" cy="268.6" r="1.55"/><circle cx="71.7" cy="252.0" r="1.55"/><circle cx="84.8" cy="290.4" r="1.55"/><circle cx="81.7" cy="250.5" r="1.55"/><circle cx="82.8" cy="256.3" r="1.55"/><circle cx="102.1" cy="277.6" r="1.55"/><circle cx="62.8" cy="245.2" r="1.55"/><circle cx="71.6" cy="289.5" r="1.55"/><circle cx="82.9" cy="272.9" r="1.55"/><circle cx="82.4" cy="250.0" r="1.55"/><circle cx="103.2" cy="278.0" r="1.55"/><circle cx="67.3" cy="294.3" r="1.55"/><circle cx="139.4" cy="295.7" r="1.55"/><circle cx="78.1" cy="235.5" r="1.55"/><circle cx="82.5" cy="280.5" r="1.55"/><circle cx="82.5" cy="252.5" r="1.55"/><circle cx="105.3" cy="290.9" r="1.55"/><circle cx="97.1" cy="294.7" r="1.55"/><circle cx="61.7" cy="293.3" r="1.55"/><circle cx="58.6" cy="298.9" r="1.55"/><circle cx="104.8" cy="285.4" r="1.55"/><circle cx="85.6" cy="302.2" r="1.55"/><circle cx="86.0" cy="281.3" r="1.55"/><circle cx="66.0" cy="292.7" r="1.55"/><circle cx="75.4" cy="225.4" r="1.55"/><circle cx="72.4" cy="273.2" r="1.55"/><circle cx="80.5" cy="286.9" r="1.55"/><circle cx="113.9" cy="286.1" r="1.55"/><circle cx="71.5" cy="272.5" r="1.55"/><circle cx="76.5" cy="274.2" r="1.55"/><circle cx="85.2" cy="266.7" r="1.55"/><circle cx="69.2" cy="261.0" r="1.55"/><circle cx="89.1" cy="274.8" r="1.55"/><circle cx="68.7" cy="276.2" r="1.55"/><circle cx="133.3" cy="295.6" r="1.55"/><circle cx="81.0" cy="297.4" r="1.55"/><circle cx="89.4" cy="287.8" r="1.55"/><circle cx="74.6" cy="277.3" r="1.55"/><circle cx="64.2" cy="280.8" r="1.55"/><circle cx="68.9" cy="224.3" r="1.55"/><circle cx="86.3" cy="266.8" r="1.55"/><circle cx="78.2" cy="232.7" r="1.55"/><circle cx="60.6" cy="270.3" r="1.55"/><circle cx="78.8" cy="238.3" r="1.55"/><circle cx="127.8" cy="303.5" r="1.55"/><circle cx="126.5" cy="301.5" r="1.55"/><circle cx="63.3" cy="276.6" r="1.55"/><circle cx="140.6" cy="298.6" r="1.55"/><circle cx="78.8" cy="241.3" r="1.55"/><circle cx="73.3" cy="234.5" r="1.55"/><circle cx="117.0" cy="304.3" r="1.55"/><circle cx="70.2" cy="233.1" r="1.55"/><circle cx="85.0" cy="303.9" r="1.55"/><circle cx="126.3" cy="305.3" r="1.55"/><circle cx="128.0" cy="300.5" r="1.55"/><circle cx="81.0" cy="243.2" r="1.55"/><circle cx="122.3" cy="303.9" r="1.55"/><circle cx="118.1" cy="284.4" r="1.55"/><circle cx="116.1" cy="286.4" r="1.55"/><circle cx="94.0" cy="268.2" r="1.55"/><circle cx="79.6" cy="294.9" r="1.55"/><circle cx="82.9" cy="269.1" r="1.55"/><circle cx="68.2" cy="283.1" r="1.55"/><circle cx="99.9" cy="305.7" r="1.55"/><circle cx="85.6" cy="256.9" r="1.55"/><circle cx="111.8" cy="294.6" r="1.55"/><circle cx="53.2" cy="275.8" r="1.55"/><circle cx="76.1" cy="267.7" r="1.55"/><circle cx="97.1" cy="281.2" r="1.55"/><circle cx="84.8" cy="261.7" r="1.55"/><circle cx="85.1" cy="260.1" r="1.55"/><circle cx="133.6" cy="284.2" r="1.55"/><circle cx="86.6" cy="303.5" r="1.55"/><circle cx="90.5" cy="282.8" r="1.55"/><circle cx="84.8" cy="262.1" r="1.55"/><circle cx="80.9" cy="251.2" r="1.55"/><circle cx="85.5" cy="264.8" r="1.55"/><circle cx="71.8" cy="257.3" r="1.55"/><circle cx="66.5" cy="294.1" r="1.55"/><circle cx="84.9" cy="261.5" r="1.55"/><circle cx="43.3" cy="280.9" r="1.55"/><circle cx="85.4" cy="269.4" r="1.55"/><circle cx="82.5" cy="272.9" r="1.55"/><circle cx="48.0" cy="246.9" r="1.55"/><circle cx="88.2" cy="300.6" r="1.55"/><circle cx="73.5" cy="226.4" r="1.55"/><circle cx="66.0" cy="285.1" r="1.55"/><circle cx="82.5" cy="257.0" r="1.55"/><circle cx="93.4" cy="268.6" r="1.55"/><circle cx="82.9" cy="259.1" r="1.55"/><circle cx="93.2" cy="281.7" r="1.55"/><circle cx="103.7" cy="305.1" r="1.55"/><circle cx="82.7" cy="252.2" r="1.55"/><circle cx="80.2" cy="286.0" r="1.55"/><circle cx="110.1" cy="298.4" r="1.55"/><circle cx="78.3" cy="240.1" r="1.55"/><circle cx="62.3" cy="283.1" r="1.55"/><circle cx="100.8" cy="277.7" r="1.55"/><circle cx="71.1" cy="223.2" r="1.55"/><circle cx="83.5" cy="255.9" r="1.55"/><circle cx="95.4" cy="306.9" r="1.55"/><circle cx="82.2" cy="249.6" r="1.55"/><circle cx="103.2" cy="303.8" r="1.55"/><circle cx="71.6" cy="228.9" r="1.55"/><circle cx="65.4" cy="299.5" r="1.55"/><circle cx="81.6" cy="249.2" r="1.55"/><circle cx="52.5" cy="291.3" r="1.55"/><circle cx="121.5" cy="301.1" r="1.55"/><circle cx="84.7" cy="297.7" r="1.55"/><circle cx="81.8" cy="255.3" r="1.55"/><circle cx="93.4" cy="283.5" r="1.55"/><circle cx="89.2" cy="301.6" r="1.55"/><circle cx="100.9" cy="292.0" r="1.55"/><circle cx="86.4" cy="267.1" r="1.55"/><circle cx="84.0" cy="258.9" r="1.55"/><circle cx="119.5" cy="285.4" r="1.55"/><circle cx="84.4" cy="301.8" r="1.55"/><circle cx="49.2" cy="280.6" r="1.55"/><circle cx="22.1" cy="296.8" r="1.55"/><circle cx="99.0" cy="295.5" r="1.55"/><circle cx="85.1" cy="264.4" r="1.55"/><circle cx="71.5" cy="275.0" r="1.55"/><circle cx="58.8" cy="293.2" r="1.55"/><circle cx="88.1" cy="246.3" r="1.55"/><circle cx="77.9" cy="298.2" r="1.55"/><circle cx="86.8" cy="280.9" r="1.55"/><circle cx="110.0" cy="293.8" r="1.55"/><circle cx="49.1" cy="284.8" r="1.55"/><circle cx="87.0" cy="249.1" r="1.55"/><circle cx="82.4" cy="280.5" r="1.55"/><circle cx="87.4" cy="270.2" r="1.55"/><circle cx="94.7" cy="272.4" r="1.55"/><circle cx="122.1" cy="306.7" r="1.55"/><circle cx="67.2" cy="257.8" r="1.55"/><circle cx="131.4" cy="284.7" r="1.55"/><circle cx="87.0" cy="268.6" r="1.55"/><circle cx="51.3" cy="292.6" r="1.55"/><circle cx="78.1" cy="265.0" r="1.55"/><circle cx="57.3" cy="283.6" r="1.55"/><circle cx="129.7" cy="301.2" r="1.55"/><circle cx="85.5" cy="268.7" r="1.55"/><circle cx="82.3" cy="250.4" r="1.55"/><circle cx="93.8" cy="282.2" r="1.55"/><circle cx="85.7" cy="261.9" r="1.55"/><circle cx="66.4" cy="275.7" r="1.55"/><circle cx="109.3" cy="287.0" r="1.55"/><circle cx="88.9" cy="287.6" r="1.55"/><circle cx="77.1" cy="232.8" r="1.55"/><circle cx="71.0" cy="249.1" r="1.55"/><circle cx="98.2" cy="284.1" r="1.55"/><circle cx="68.2" cy="280.7" r="1.55"/><circle cx="124.6" cy="298.7" r="1.55"/><circle cx="131.6" cy="286.5" r="1.55"/><circle cx="79.3" cy="270.2" r="1.55"/><circle cx="69.0" cy="288.0" r="1.55"/><circle cx="78.5" cy="274.5" r="1.55"/><circle cx="118.3" cy="281.7" r="1.55"/><circle cx="99.7" cy="280.3" r="1.55"/><circle cx="99.1" cy="297.0" r="1.55"/><circle cx="111.0" cy="310.7" r="1.55"/><circle cx="81.1" cy="246.6" r="1.55"/><circle cx="85.0" cy="288.4" r="1.55"/><circle cx="143.5" cy="291.0" r="1.55"/><circle cx="77.2" cy="281.1" r="1.55"/><circle cx="82.4" cy="253.0" r="1.55"/><circle cx="69.3" cy="260.3" r="1.55"/><circle cx="136.1" cy="292.8" r="1.55"/><circle cx="127.1" cy="290.0" r="1.55"/><circle cx="71.5" cy="267.3" r="1.55"/><circle cx="61.3" cy="296.4" r="1.55"/><circle cx="77.7" cy="292.8" r="1.55"/><circle cx="81.6" cy="270.0" r="1.55"/><circle cx="76.3" cy="262.1" r="1.55"/><circle cx="86.5" cy="266.5" r="1.55"/><circle cx="62.1" cy="299.7" r="1.55"/><circle cx="92.0" cy="281.2" r="1.55"/><circle cx="79.1" cy="243.1" r="1.55"/><circle cx="62.0" cy="295.7" r="1.55"/><circle cx="64.5" cy="285.4" r="1.55"/><circle cx="52.8" cy="291.0" r="1.55"/><circle cx="67.7" cy="266.6" r="1.55"/><circle cx="55.3" cy="273.1" r="1.55"/><circle cx="141.1" cy="284.9" r="1.55"/><circle cx="63.3" cy="271.5" r="1.55"/><circle cx="112.5" cy="271.7" r="1.55"/><circle cx="83.3" cy="257.7" r="1.55"/><circle cx="108.1" cy="299.9" r="1.55"/><circle cx="129.7" cy="304.6" r="1.55"/><circle cx="85.5" cy="269.3" r="1.55"/><circle cx="127.2" cy="295.2" r="1.55"/><circle cx="107.7" cy="295.6" r="1.55"/><circle cx="114.8" cy="288.7" r="1.55"/><circle cx="84.6" cy="266.9" r="1.55"/><circle cx="77.4" cy="275.9" r="1.55"/><circle cx="145.6" cy="290.2" r="1.55"/><circle cx="91.6" cy="304.2" r="1.55"/><circle cx="79.3" cy="242.4" r="1.55"/><circle cx="98.3" cy="277.2" r="1.55"/><circle cx="113.6" cy="301.8" r="1.55"/><circle cx="77.3" cy="289.3" r="1.55"/><circle cx="64.5" cy="279.0" r="1.55"/><circle cx="86.0" cy="268.5" r="1.55"/><circle cx="97.6" cy="284.7" r="1.55"/><circle cx="118.4" cy="280.0" r="1.55"/><circle cx="81.1" cy="248.4" r="1.55"/><circle cx="107.3" cy="281.6" r="1.55"/><circle cx="73.7" cy="254.0" r="1.55"/><circle cx="83.8" cy="262.4" r="1.55"/><circle cx="89.3" cy="287.6" r="1.55"/><circle cx="83.5" cy="260.4" r="1.55"/><circle cx="108.4" cy="306.5" r="1.55"/><circle cx="78.8" cy="235.1" r="1.55"/><circle cx="125.2" cy="284.3" r="1.55"/><circle cx="117.5" cy="284.3" r="1.55"/><circle cx="76.3" cy="238.6" r="1.55"/><circle cx="109.0" cy="314.2" r="1.55"/><circle cx="70.1" cy="273.3" r="1.55"/><circle cx="84.3" cy="253.4" r="1.55"/><circle cx="68.7" cy="264.7" r="1.55"/><circle cx="77.5" cy="247.1" r="1.55"/><circle cx="94.0" cy="303.6" r="1.55"/><circle cx="146.9" cy="297.5" r="1.55"/><circle cx="77.0" cy="269.8" r="1.55"/><circle cx="99.0" cy="272.0" r="1.55"/><circle cx="66.5" cy="291.1" r="1.55"/><circle cx="80.1" cy="243.8" r="1.55"/><circle cx="81.4" cy="274.2" r="1.55"/><circle cx="71.0" cy="245.7" r="1.55"/><circle cx="77.9" cy="240.4" r="1.55"/><circle cx="79.1" cy="254.7" r="1.55"/><circle cx="75.2" cy="269.1" r="1.55"/><circle cx="96.9" cy="287.2" r="1.55"/><circle cx="87.3" cy="267.6" r="1.55"/><circle cx="109.3" cy="314.4" r="1.55"/><circle cx="96.1" cy="291.8" r="1.55"/><circle cx="89.1" cy="280.1" r="1.55"/><circle cx="66.1" cy="296.0" r="1.55"/><circle cx="75.2" cy="298.6" r="1.55"/><circle cx="82.5" cy="258.9" r="1.55"/><circle cx="74.0" cy="256.0" r="1.55"/><circle cx="103.2" cy="298.3" r="1.55"/><circle cx="77.7" cy="248.0" r="1.55"/><circle cx="131.2" cy="304.4" r="1.55"/><circle cx="94.0" cy="277.4" r="1.55"/><circle cx="53.2" cy="278.7" r="1.55"/><circle cx="52.1" cy="284.0" r="1.55"/><circle cx="73.8" cy="292.4" r="1.55"/><circle cx="83.9" cy="260.9" r="1.55"/><circle cx="98.7" cy="274.1" r="1.55"/><circle cx="73.3" cy="281.3" r="1.55"/><circle cx="101.4" cy="298.3" r="1.55"/><circle cx="121.0" cy="300.3" r="1.55"/><circle cx="84.8" cy="256.6" r="1.55"/><circle cx="75.0" cy="266.5" r="1.55"/><circle cx="68.2" cy="283.1" r="1.55"/><circle cx="46.4" cy="291.1" r="1.55"/><circle cx="134.6" cy="287.2" r="1.55"/><circle cx="89.4" cy="295.3" r="1.55"/><circle cx="102.5" cy="279.9" r="1.55"/><circle cx="114.9" cy="297.5" r="1.55"/><circle cx="85.0" cy="283.0" r="1.55"/><circle cx="69.8" cy="294.4" r="1.55"/><circle cx="91.5" cy="272.7" r="1.55"/><circle cx="91.6" cy="271.2" r="1.55"/><circle cx="68.8" cy="299.4" r="1.55"/><circle cx="122.7" cy="285.4" r="1.55"/><circle cx="85.9" cy="264.9" r="1.55"/><circle cx="77.3" cy="253.0" r="1.55"/><circle cx="106.9" cy="301.4" r="1.55"/><circle cx="145.5" cy="302.1" r="1.55"/><circle cx="93.3" cy="285.1" r="1.55"/><circle cx="128.7" cy="302.2" r="1.55"/><circle cx="138.3" cy="287.4" r="1.55"/><circle cx="71.8" cy="282.1" r="1.55"/><circle cx="107.7" cy="283.3" r="1.55"/><circle cx="99.0" cy="293.9" r="1.55"/><circle cx="68.9" cy="273.7" r="1.55"/><circle cx="62.2" cy="297.6" r="1.55"/><circle cx="140.3" cy="302.8" r="1.55"/><circle cx="101.8" cy="302.9" r="1.55"/><circle cx="90.9" cy="297.1" r="1.55"/><circle cx="126.6" cy="303.6" r="1.55"/><circle cx="86.7" cy="262.6" r="1.55"/><circle cx="98.4" cy="282.5" r="1.55"/><circle cx="132.5" cy="294.6" r="1.55"/><circle cx="58.8" cy="265.6" r="1.55"/><circle cx="111.9" cy="282.5" r="1.55"/><circle cx="68.3" cy="295.3" r="1.55"/><circle cx="68.7" cy="263.2" r="1.55"/><circle cx="87.7" cy="282.0" r="1.55"/><circle cx="90.2" cy="296.7" r="1.55"/><circle cx="88.4" cy="270.9" r="1.55"/><circle cx="76.3" cy="244.8" r="1.55"/><circle cx="65.6" cy="271.3" r="1.55"/><circle cx="69.5" cy="271.3" r="1.55"/><circle cx="118.9" cy="293.1" r="1.55"/><circle cx="80.4" cy="253.7" r="1.55"/><circle cx="78.0" cy="228.4" r="1.55"/><circle cx="80.2" cy="247.0" r="1.55"/><circle cx="118.6" cy="299.8" r="1.55"/><circle cx="129.9" cy="286.4" r="1.55"/><circle cx="58.7" cy="295.3" r="1.55"/><circle cx="148.7" cy="294.1" r="1.55"/><circle cx="107.1" cy="284.4" r="1.55"/><circle cx="98.4" cy="285.6" r="1.55"/><circle cx="70.1" cy="241.7" r="1.55"/><circle cx="86.2" cy="302.5" r="1.55"/><circle cx="87.1" cy="283.0" r="1.55"/><circle cx="84.9" cy="289.4" r="1.55"/><circle cx="97.3" cy="277.7" r="1.55"/><circle cx="73.4" cy="299.5" r="1.55"/><circle cx="101.6" cy="283.6" r="1.55"/><circle cx="121.8" cy="284.1" r="1.55"/><circle cx="66.7" cy="254.3" r="1.55"/><circle cx="105.7" cy="276.8" r="1.55"/><circle cx="91.8" cy="277.4" r="1.55"/><circle cx="61.6" cy="284.8" r="1.55"/><circle cx="72.6" cy="292.5" r="1.55"/><circle cx="84.8" cy="265.0" r="1.55"/><circle cx="117.7" cy="298.2" r="1.55"/><circle cx="82.0" cy="280.4" r="1.55"/><circle cx="139.7" cy="304.8" r="1.55"/><circle cx="97.3" cy="278.1" r="1.55"/><circle cx="79.8" cy="246.3" r="1.55"/><circle cx="60.8" cy="277.6" r="1.55"/><circle cx="108.6" cy="299.6" r="1.55"/><circle cx="60.3" cy="284.6" r="1.55"/><circle cx="85.8" cy="268.4" r="1.55"/><circle cx="108.1" cy="303.7" r="1.55"/><circle cx="67.6" cy="263.4" r="1.55"/><circle cx="99.7" cy="279.5" r="1.55"/><circle cx="104.0" cy="286.8" r="1.55"/><circle cx="78.9" cy="282.2" r="1.55"/><circle cx="82.2" cy="248.8" r="1.55"/><circle cx="62.7" cy="270.3" r="1.55"/><circle cx="77.4" cy="235.8" r="1.55"/><circle cx="59.9" cy="289.6" r="1.55"/><circle cx="137.4" cy="291.5" r="1.55"/><circle cx="106.5" cy="275.8" r="1.55"/><circle cx="127.0" cy="291.9" r="1.55"/><circle cx="104.7" cy="292.2" r="1.55"/><circle cx="131.4" cy="296.6" r="1.55"/><circle cx="77.0" cy="271.9" r="1.55"/><circle cx="72.0" cy="302.1" r="1.55"/><circle cx="138.3" cy="296.7" r="1.55"/><circle cx="97.8" cy="297.8" r="1.55"/><circle cx="132.1" cy="292.2" r="1.55"/><circle cx="73.8" cy="273.6" r="1.55"/><circle cx="98.2" cy="285.5" r="1.55"/><circle cx="68.9" cy="289.3" r="1.55"/><circle cx="121.4" cy="292.5" r="1.55"/><circle cx="47.5" cy="275.3" r="1.55"/><circle cx="83.9" cy="263.6" r="1.55"/><circle cx="87.9" cy="305.7" r="1.55"/><circle cx="141.0" cy="289.8" r="1.55"/><circle cx="60.7" cy="283.7" r="1.55"/><circle cx="84.5" cy="258.9" r="1.55"/><circle cx="103.0" cy="273.7" r="1.55"/><circle cx="85.3" cy="263.7" r="1.55"/><circle cx="111.4" cy="284.1" r="1.55"/><circle cx="84.7" cy="270.4" r="1.55"/><circle cx="103.8" cy="268.0" r="1.55"/><circle cx="73.1" cy="261.4" r="1.55"/><circle cx="85.4" cy="267.0" r="1.55"/><circle cx="77.9" cy="240.4" r="1.55"/><circle cx="80.9" cy="247.3" r="1.55"/><circle cx="70.9" cy="240.7" r="1.55"/><circle cx="111.9" cy="284.5" r="1.55"/><circle cx="73.8" cy="237.1" r="1.55"/><circle cx="82.9" cy="259.5" r="1.55"/><circle cx="77.7" cy="256.3" r="1.55"/><circle cx="77.2" cy="231.1" r="1.55"/><circle cx="97.2" cy="280.5" r="1.55"/><circle cx="126.3" cy="301.9" r="1.55"/><circle cx="74.3" cy="271.9" r="1.55"/><circle cx="69.6" cy="297.4" r="1.55"/><circle cx="97.2" cy="294.0" r="1.55"/><circle cx="96.6" cy="279.9" r="1.55"/><circle cx="84.3" cy="261.2" r="1.55"/><circle cx="105.7" cy="284.9" r="1.55"/><circle cx="90.6" cy="290.7" r="1.55"/><circle cx="89.7" cy="270.7" r="1.55"/><circle cx="69.3" cy="251.4" r="1.55"/><circle cx="67.5" cy="252.6" r="1.55"/><circle cx="69.7" cy="234.0" r="1.55"/><circle cx="103.0" cy="293.3" r="1.55"/><circle cx="43.0" cy="235.3" r="1.55"/><circle cx="75.5" cy="282.9" r="1.55"/><circle cx="92.8" cy="277.1" r="1.55"/><circle cx="85.1" cy="264.0" r="1.55"/><circle cx="108.7" cy="300.7" r="1.55"/><circle cx="98.0" cy="276.1" r="1.55"/><circle cx="80.2" cy="294.1" r="1.55"/><circle cx="137.0" cy="299.5" r="1.55"/><circle cx="67.3" cy="266.5" r="1.55"/><circle cx="103.9" cy="294.3" r="1.55"/><circle cx="71.5" cy="301.2" r="1.55"/><circle cx="80.1" cy="250.0" r="1.55"/><circle cx="89.3" cy="293.4" r="1.55"/><circle cx="69.6" cy="243.8" r="1.55"/><circle cx="85.2" cy="265.2" r="1.55"/><circle cx="71.1" cy="292.1" r="1.55"/><circle cx="107.1" cy="270.1" r="1.55"/><circle cx="77.8" cy="257.4" r="1.55"/><circle cx="72.6" cy="245.2" r="1.55"/><circle cx="80.2" cy="280.0" r="1.55"/><circle cx="132.5" cy="301.4" r="1.55"/><circle cx="92.6" cy="282.3" r="1.55"/><circle cx="86.1" cy="266.4" r="1.55"/><circle cx="99.9" cy="273.6" r="1.55"/><circle cx="61.9" cy="283.3" r="1.55"/><circle cx="75.2" cy="247.8" r="1.55"/><circle cx="75.1" cy="283.2" r="1.55"/><circle cx="62.7" cy="286.2" r="1.55"/><circle cx="81.5" cy="255.6" r="1.55"/><circle cx="58.9" cy="295.3" r="1.55"/><circle cx="87.4" cy="282.0" r="1.55"/><circle cx="69.8" cy="203.8" r="1.55"/><circle cx="64.8" cy="286.5" r="1.55"/><circle cx="139.2" cy="294.9" r="1.55"/><circle cx="119.2" cy="304.8" r="1.55"/><circle cx="81.1" cy="288.2" r="1.55"/><circle cx="81.8" cy="288.6" r="1.55"/><circle cx="129.0" cy="293.3" r="1.55"/><circle cx="119.5" cy="278.8" r="1.55"/><circle cx="139.1" cy="296.3" r="1.55"/><circle cx="79.4" cy="247.2" r="1.55"/><circle cx="80.9" cy="244.5" r="1.55"/><circle cx="102.3" cy="283.5" r="1.55"/><circle cx="80.7" cy="246.5" r="1.55"/><circle cx="167.2" cy="301.9" r="1.55"/><circle cx="46.7" cy="284.6" r="1.55"/><circle cx="70.2" cy="253.4" r="1.55"/><circle cx="94.1" cy="292.1" r="1.55"/><circle cx="62.6" cy="280.1" r="1.55"/><circle cx="130.7" cy="283.8" r="1.55"/><circle cx="80.5" cy="297.1" r="1.55"/><circle cx="74.1" cy="285.4" r="1.55"/><circle cx="99.2" cy="276.0" r="1.55"/><circle cx="77.8" cy="286.9" r="1.55"/><circle cx="117.6" cy="292.1" r="1.55"/><circle cx="85.7" cy="302.4" r="1.55"/><circle cx="69.7" cy="247.2" r="1.55"/><circle cx="67.8" cy="272.3" r="1.55"/><circle cx="82.2" cy="255.8" r="1.55"/><circle cx="133.8" cy="293.1" r="1.55"/><circle cx="91.4" cy="282.2" r="1.55"/><circle cx="79.5" cy="255.2" r="1.55"/><circle cx="84.3" cy="263.1" r="1.55"/><circle cx="94.7" cy="304.3" r="1.55"/><circle cx="122.2" cy="292.1" r="1.55"/><circle cx="42.6" cy="279.0" r="1.55"/><circle cx="66.7" cy="287.8" r="1.55"/><circle cx="69.6" cy="290.2" r="1.55"/><circle cx="102.0" cy="288.6" r="1.55"/><circle cx="77.4" cy="232.5" r="1.55"/><circle cx="94.4" cy="274.4" r="1.55"/><circle cx="74.2" cy="229.0" r="1.55"/><circle cx="100.8" cy="290.6" r="1.55"/><circle cx="113.1" cy="291.5" r="1.55"/><circle cx="71.2" cy="262.9" r="1.55"/><circle cx="78.6" cy="242.6" r="1.55"/><circle cx="72.6" cy="229.8" r="1.55"/><circle cx="79.8" cy="260.8" r="1.55"/><circle cx="97.9" cy="270.7" r="1.55"/><circle cx="77.2" cy="242.7" r="1.55"/><circle cx="83.5" cy="273.9" r="1.55"/><circle cx="83.6" cy="256.3" r="1.55"/><circle cx="92.6" cy="282.4" r="1.55"/><circle cx="78.3" cy="246.2" r="1.55"/><circle cx="93.7" cy="275.5" r="1.55"/><circle cx="99.8" cy="304.6" r="1.55"/><circle cx="123.4" cy="277.6" r="1.55"/><circle cx="161.7" cy="300.5" r="1.55"/><circle cx="86.7" cy="270.2" r="1.55"/><circle cx="82.4" cy="258.0" r="1.55"/><circle cx="77.0" cy="234.2" r="1.55"/><circle cx="77.9" cy="238.2" r="1.55"/><circle cx="113.7" cy="282.8" r="1.55"/><circle cx="80.8" cy="247.5" r="1.55"/><circle cx="83.8" cy="274.0" r="1.55"/><circle cx="75.9" cy="234.5" r="1.55"/><circle cx="83.2" cy="258.3" r="1.55"/><circle cx="94.7" cy="281.4" r="1.55"/><circle cx="87.3" cy="269.7" r="1.55"/><circle cx="108.7" cy="287.8" r="1.55"/><circle cx="82.1" cy="278.0" r="1.55"/><circle cx="82.9" cy="267.8" r="1.55"/><circle cx="117.8" cy="287.1" r="1.55"/><circle cx="71.6" cy="315.5" r="1.55"/><circle cx="96.9" cy="271.3" r="1.55"/><circle cx="80.5" cy="250.0" r="1.55"/><circle cx="64.9" cy="280.8" r="1.55"/><circle cx="81.3" cy="249.5" r="1.55"/><circle cx="79.6" cy="284.9" r="1.55"/><circle cx="84.1" cy="259.2" r="1.55"/><circle cx="79.9" cy="244.5" r="1.55"/><circle cx="84.0" cy="260.0" r="1.55"/><circle cx="65.1" cy="266.0" r="1.55"/><circle cx="68.2" cy="272.2" r="1.55"/><circle cx="66.7" cy="269.6" r="1.55"/><circle cx="98.0" cy="297.3" r="1.55"/><circle cx="47.9" cy="292.9" r="1.55"/><circle cx="77.3" cy="236.1" r="1.55"/><circle cx="103.1" cy="288.8" r="1.55"/><circle cx="78.1" cy="262.2" r="1.55"/><circle cx="201.9" cy="290.4" r="1.55"/><circle cx="75.9" cy="228.5" r="1.55"/><circle cx="73.0" cy="261.6" r="1.55"/><circle cx="84.5" cy="259.0" r="1.55"/><circle cx="84.6" cy="261.5" r="1.55"/><circle cx="67.2" cy="266.8" r="1.55"/><circle cx="118.6" cy="286.5" r="1.55"/><circle cx="91.5" cy="300.5" r="1.55"/><circle cx="69.2" cy="271.9" r="1.55"/><circle cx="51.9" cy="290.2" r="1.55"/><circle cx="120.8" cy="294.4" r="1.55"/><circle cx="119.3" cy="289.8" r="1.55"/><circle cx="98.8" cy="300.0" r="1.55"/><circle cx="74.8" cy="237.3" r="1.55"/><circle cx="83.3" cy="257.7" r="1.55"/><circle cx="87.4" cy="297.0" r="1.55"/><circle cx="146.8" cy="297.8" r="1.55"/><circle cx="85.1" cy="263.6" r="1.55"/><circle cx="82.9" cy="293.0" r="1.55"/><circle cx="79.9" cy="240.1" r="1.55"/><circle cx="60.0" cy="279.7" r="1.55"/><circle cx="46.7" cy="287.3" r="1.55"/><circle cx="74.4" cy="269.2" r="1.55"/><circle cx="82.1" cy="290.9" r="1.55"/><circle cx="68.9" cy="210.7" r="1.55"/><circle cx="75.3" cy="225.7" r="1.55"/><circle cx="70.0" cy="265.4" r="1.55"/><circle cx="89.8" cy="286.3" r="1.55"/><circle cx="99.1" cy="260.6" r="1.55"/><circle cx="87.7" cy="275.5" r="1.55"/><circle cx="81.4" cy="249.8" r="1.55"/><circle cx="98.2" cy="300.4" r="1.55"/><circle cx="53.8" cy="284.8" r="1.55"/><circle cx="65.2" cy="298.9" r="1.55"/><circle cx="123.2" cy="284.9" r="1.55"/><circle cx="68.0" cy="258.5" r="1.55"/><circle cx="67.2" cy="284.4" r="1.55"/><circle cx="95.1" cy="283.4" r="1.55"/><circle cx="64.0" cy="287.3" r="1.55"/><circle cx="81.4" cy="304.5" r="1.55"/><circle cx="45.2" cy="274.9" r="1.55"/><circle cx="91.5" cy="289.1" r="1.55"/><circle cx="95.1" cy="288.8" r="1.55"/><circle cx="84.4" cy="276.7" r="1.55"/><circle cx="82.1" cy="250.2" r="1.55"/><circle cx="18.8" cy="259.0" r="1.55"/><circle cx="53.5" cy="266.3" r="1.55"/><circle cx="116.2" cy="294.9" r="1.55"/><circle cx="139.5" cy="297.0" r="1.55"/><circle cx="126.6" cy="289.6" r="1.55"/><circle cx="87.7" cy="270.3" r="1.55"/><circle cx="80.2" cy="270.7" r="1.55"/><circle cx="72.0" cy="271.7" r="1.55"/><circle cx="87.1" cy="271.8" r="1.55"/><circle cx="67.0" cy="276.0" r="1.55"/><circle cx="133.8" cy="299.1" r="1.55"/><circle cx="116.3" cy="292.5" r="1.55"/><circle cx="76.6" cy="232.2" r="1.55"/><circle cx="78.6" cy="248.0" r="1.55"/><circle cx="62.0" cy="265.5" r="1.55"/><circle cx="92.0" cy="300.3" r="1.55"/><circle cx="64.2" cy="264.9" r="1.55"/><circle cx="106.7" cy="282.5" r="1.55"/><circle cx="82.9" cy="258.1" r="1.55"/><circle cx="77.3" cy="235.6" r="1.55"/><circle cx="59.5" cy="263.9" r="1.55"/><circle cx="64.5" cy="225.8" r="1.55"/><circle cx="110.9" cy="306.1" r="1.55"/><circle cx="105.4" cy="300.1" r="1.55"/><circle cx="103.1" cy="289.3" r="1.55"/><circle cx="73.0" cy="272.2" r="1.55"/><circle cx="119.2" cy="296.0" r="1.55"/><circle cx="78.8" cy="305.0" r="1.55"/><circle cx="53.7" cy="286.5" r="1.55"/><circle cx="112.0" cy="275.2" r="1.55"/><circle cx="79.3" cy="248.9" r="1.55"/><circle cx="80.0" cy="271.9" r="1.55"/><circle cx="86.2" cy="301.0" r="1.55"/><circle cx="81.0" cy="251.0" r="1.55"/><circle cx="71.0" cy="226.6" r="1.55"/><circle cx="57.0" cy="289.5" r="1.55"/><circle cx="82.1" cy="250.8" r="1.55"/><circle cx="101.9" cy="301.2" r="1.55"/><circle cx="86.8" cy="272.2" r="1.55"/><circle cx="124.5" cy="302.3" r="1.55"/><circle cx="84.3" cy="280.0" r="1.55"/><circle cx="112.2" cy="283.2" r="1.55"/><circle cx="88.3" cy="288.6" r="1.55"/><circle cx="88.0" cy="293.5" r="1.55"/><circle cx="136.6" cy="290.9" r="1.55"/><circle cx="130.3" cy="284.7" r="1.55"/><circle cx="125.5" cy="298.7" r="1.55"/><circle cx="88.5" cy="289.3" r="1.55"/><circle cx="79.3" cy="210.0" r="1.55"/><circle cx="103.4" cy="278.3" r="1.55"/><circle cx="74.1" cy="268.3" r="1.55"/><circle cx="82.7" cy="254.8" r="1.55"/><circle cx="75.7" cy="232.4" r="1.55"/><circle cx="55.5" cy="285.2" r="1.55"/><circle cx="91.8" cy="299.3" r="1.55"/><circle cx="63.2" cy="281.1" r="1.55"/><circle cx="153.2" cy="293.9" r="1.55"/><circle cx="71.9" cy="245.7" r="1.55"/><circle cx="104.8" cy="295.2" r="1.55"/><circle cx="85.0" cy="296.2" r="1.55"/><circle cx="110.3" cy="279.4" r="1.55"/><circle cx="79.3" cy="238.5" r="1.55"/><circle cx="65.7" cy="287.3" r="1.55"/><circle cx="82.2" cy="249.4" r="1.55"/><circle cx="97.1" cy="276.2" r="1.55"/><circle cx="95.7" cy="284.8" r="1.55"/><circle cx="125.8" cy="298.1" r="1.55"/><circle cx="129.4" cy="293.7" r="1.55"/><circle cx="104.2" cy="271.5" r="1.55"/><circle cx="60.0" cy="267.0" r="1.55"/><circle cx="106.1" cy="289.8" r="1.55"/><circle cx="135.1" cy="283.5" r="1.55"/><circle cx="81.8" cy="274.7" r="1.55"/><circle cx="86.5" cy="271.1" r="1.55"/><circle cx="117.9" cy="295.3" r="1.55"/><circle cx="74.3" cy="272.4" r="1.55"/><circle cx="146.5" cy="304.3" r="1.55"/><circle cx="89.0" cy="295.0" r="1.55"/><circle cx="116.5" cy="285.8" r="1.55"/><circle cx="104.7" cy="279.7" r="1.55"/><circle cx="94.6" cy="298.0" r="1.55"/><circle cx="79.6" cy="243.7" r="1.55"/><circle cx="68.2" cy="278.5" r="1.55"/><circle cx="64.8" cy="299.9" r="1.55"/><circle cx="80.2" cy="303.1" r="1.55"/><circle cx="116.8" cy="282.8" r="1.55"/><circle cx="92.6" cy="288.4" r="1.55"/><circle cx="74.9" cy="308.9" r="1.55"/><circle cx="77.1" cy="235.5" r="1.55"/><circle cx="78.1" cy="237.8" r="1.55"/><circle cx="74.2" cy="268.4" r="1.55"/><circle cx="90.6" cy="303.2" r="1.55"/><circle cx="129.5" cy="300.9" r="1.55"/><circle cx="91.0" cy="291.2" r="1.55"/><circle cx="109.8" cy="287.6" r="1.55"/><circle cx="56.4" cy="287.9" r="1.55"/><circle cx="58.9" cy="292.7" r="1.55"/><circle cx="64.2" cy="274.1" r="1.55"/><circle cx="95.3" cy="299.7" r="1.55"/><circle cx="106.9" cy="301.2" r="1.55"/><circle cx="84.3" cy="296.5" r="1.55"/><circle cx="111.5" cy="303.3" r="1.55"/><circle cx="96.7" cy="273.0" r="1.55"/><circle cx="114.3" cy="285.0" r="1.55"/><circle cx="25.4" cy="295.1" r="1.55"/><circle cx="86.7" cy="271.8" r="1.55"/><circle cx="87.1" cy="272.6" r="1.55"/><circle cx="86.8" cy="271.4" r="1.55"/><circle cx="86.6" cy="272.1" r="1.55"/><circle cx="87.6" cy="271.4" r="1.55"/><circle cx="86.6" cy="270.0" r="1.55"/><circle cx="87.0" cy="270.3" r="1.55"/><circle cx="86.6" cy="271.3" r="1.55"/><circle cx="86.7" cy="271.3" r="1.55"/><circle cx="86.1" cy="271.0" r="1.55"/><circle cx="87.1" cy="271.6" r="1.55"/><circle cx="86.5" cy="271.0" r="1.55"/><circle cx="87.2" cy="270.1" r="1.55"/><circle cx="86.0" cy="270.5" r="1.55"/><circle cx="86.3" cy="269.3" r="1.55"/><circle cx="86.8" cy="269.8" r="1.55"/><circle cx="86.6" cy="270.0" r="1.55"/><circle cx="86.2" cy="268.5" r="1.55"/><circle cx="86.4" cy="268.9" r="1.55"/><circle cx="85.7" cy="268.8" r="1.55"/><circle cx="86.3" cy="267.6" r="1.55"/><circle cx="85.1" cy="267.9" r="1.55"/><circle cx="86.4" cy="269.2" r="1.55"/><circle cx="86.9" cy="268.5" r="1.55"/><circle cx="86.7" cy="268.9" r="1.55"/><circle cx="86.6" cy="269.3" r="1.55"/><circle cx="86.0" cy="267.1" r="1.55"/><circle cx="86.4" cy="267.3" r="1.55"/><circle cx="85.9" cy="268.9" r="1.55"/><circle cx="86.0" cy="267.6" r="1.55"/><circle cx="86.0" cy="268.9" r="1.55"/><circle cx="84.5" cy="267.1" r="1.55"/><circle cx="86.4" cy="267.8" r="1.55"/><circle cx="86.1" cy="267.4" r="1.55"/><circle cx="86.2" cy="266.3" r="1.55"/><circle cx="85.4" cy="266.9" r="1.55"/><circle cx="86.1" cy="267.0" r="1.55"/><circle cx="86.0" cy="266.2" r="1.55"/><circle cx="84.7" cy="267.0" r="1.55"/><circle cx="84.9" cy="265.8" r="1.55"/><circle cx="85.7" cy="266.4" r="1.55"/><circle cx="85.3" cy="265.7" r="1.55"/><circle cx="85.6" cy="265.9" r="1.55"/><circle cx="85.3" cy="265.7" r="1.55"/><circle cx="86.3" cy="266.8" r="1.55"/><circle cx="84.7" cy="264.7" r="1.55"/><circle cx="84.8" cy="265.8" r="1.55"/><circle cx="85.0" cy="264.6" r="1.55"/><circle cx="84.8" cy="265.9" r="1.55"/><circle cx="85.2" cy="265.7" r="1.55"/><circle cx="85.4" cy="265.6" r="1.55"/><circle cx="84.8" cy="264.6" r="1.55"/><circle cx="85.6" cy="265.6" r="1.55"/><circle cx="86.0" cy="264.9" r="1.55"/><circle cx="85.8" cy="265.8" r="1.55"/><circle cx="86.2" cy="265.1" r="1.55"/><circle cx="85.7" cy="264.5" r="1.55"/><circle cx="85.1" cy="264.3" r="1.55"/><circle cx="85.9" cy="265.4" r="1.55"/><circle cx="85.4" cy="263.9" r="1.55"/><circle cx="85.9" cy="264.4" r="1.55"/><circle cx="84.8" cy="262.3" r="1.55"/><circle cx="83.9" cy="263.6" r="1.55"/><circle cx="84.4" cy="262.0" r="1.55"/><circle cx="84.9" cy="262.9" r="1.55"/><circle cx="85.1" cy="263.0" r="1.55"/><circle cx="84.8" cy="263.6" r="1.55"/><circle cx="85.3" cy="263.2" r="1.55"/><circle cx="84.3" cy="262.8" r="1.55"/><circle cx="84.5" cy="264.3" r="1.55"/><circle cx="85.2" cy="262.4" r="1.55"/><circle cx="84.7" cy="263.5" r="1.55"/><circle cx="84.7" cy="262.9" r="1.55"/><circle cx="85.3" cy="264.2" r="1.55"/><circle cx="85.1" cy="262.0" r="1.55"/><circle cx="84.2" cy="261.7" r="1.55"/><circle cx="84.6" cy="261.9" r="1.55"/><circle cx="83.7" cy="261.6" r="1.55"/><circle cx="84.4" cy="261.9" r="1.55"/><circle cx="84.6" cy="261.5" r="1.55"/><circle cx="83.6" cy="260.8" r="1.55"/><circle cx="85.1" cy="261.7" r="1.55"/><circle cx="85.3" cy="261.1" r="1.55"/><circle cx="84.6" cy="260.9" r="1.55"/><circle cx="84.8" cy="261.5" r="1.55"/><circle cx="85.0" cy="260.9" r="1.55"/><circle cx="84.2" cy="260.8" r="1.55"/><circle cx="84.7" cy="261.2" r="1.55"/><circle cx="84.4" cy="259.1" r="1.55"/><circle cx="83.4" cy="260.8" r="1.55"/><circle cx="83.7" cy="259.4" r="1.55"/><circle cx="83.9" cy="259.8" r="1.55"/><circle cx="84.6" cy="261.7" r="1.55"/><circle cx="84.1" cy="260.2" r="1.55"/><circle cx="84.6" cy="259.7" r="1.55"/><circle cx="83.7" cy="259.3" r="1.55"/><circle cx="83.3" cy="260.0" r="1.55"/><circle cx="84.7" cy="258.9" r="1.55"/><circle cx="85.0" cy="259.8" r="1.55"/><circle cx="83.9" cy="259.7" r="1.55"/><circle cx="83.6" cy="259.1" r="1.55"/><circle cx="84.2" cy="258.7" r="1.55"/><circle cx="83.1" cy="257.4" r="1.55"/><circle cx="83.5" cy="258.1" r="1.55"/><circle cx="82.7" cy="257.0" r="1.55"/><circle cx="83.5" cy="258.2" r="1.55"/><circle cx="83.4" cy="258.1" r="1.55"/><circle cx="83.1" cy="257.7" r="1.55"/><circle cx="83.0" cy="256.1" r="1.55"/><circle cx="82.5" cy="257.8" r="1.55"/><circle cx="82.8" cy="257.9" r="1.55"/><circle cx="83.7" cy="256.9" r="1.55"/><circle cx="83.0" cy="256.0" r="1.55"/><circle cx="83.7" cy="257.7" r="1.55"/><circle cx="82.7" cy="256.7" r="1.55"/><circle cx="83.1" cy="257.4" r="1.55"/><circle cx="82.8" cy="255.4" r="1.55"/><circle cx="82.9" cy="255.9" r="1.55"/><circle cx="83.3" cy="255.7" r="1.55"/><circle cx="82.0" cy="255.8" r="1.55"/><circle cx="83.2" cy="255.7" r="1.55"/><circle cx="83.0" cy="255.0" r="1.55"/><circle cx="82.7" cy="255.4" r="1.55"/><circle cx="82.7" cy="255.4" r="1.55"/><circle cx="82.5" cy="255.5" r="1.55"/><circle cx="82.9" cy="254.6" r="1.55"/><circle cx="82.6" cy="255.1" r="1.55"/><circle cx="82.2" cy="254.0" r="1.55"/><circle cx="82.6" cy="255.8" r="1.55"/><circle cx="83.0" cy="254.1" r="1.55"/><circle cx="82.7" cy="253.8" r="1.55"/><circle cx="82.5" cy="253.4" r="1.55"/><circle cx="82.6" cy="254.3" r="1.55"/><circle cx="82.2" cy="255.1" r="1.55"/><circle cx="82.1" cy="254.1" r="1.55"/><circle cx="81.4" cy="252.8" r="1.55"/><circle cx="82.2" cy="253.7" r="1.55"/><circle cx="82.7" cy="253.7" r="1.55"/><circle cx="82.1" cy="253.6" r="1.55"/><circle cx="81.8" cy="253.3" r="1.55"/><circle cx="82.6" cy="253.2" r="1.55"/><circle cx="82.2" cy="253.9" r="1.55"/><circle cx="82.2" cy="253.1" r="1.55"/><circle cx="82.3" cy="252.0" r="1.55"/><circle cx="82.4" cy="251.6" r="1.55"/><circle cx="82.0" cy="252.4" r="1.55"/><circle cx="81.5" cy="252.3" r="1.55"/><circle cx="82.7" cy="251.1" r="1.55"/><circle cx="81.9" cy="251.8" r="1.55"/><circle cx="81.5" cy="252.4" r="1.55"/><circle cx="81.9" cy="251.6" r="1.55"/><circle cx="82.3" cy="250.9" r="1.55"/><circle cx="81.1" cy="250.2" r="1.55"/><circle cx="82.3" cy="251.4" r="1.55"/><circle cx="81.5" cy="250.3" r="1.55"/><circle cx="82.5" cy="250.8" r="1.55"/><circle cx="81.8" cy="249.5" r="1.55"/><circle cx="81.4" cy="250.0" r="1.55"/><circle cx="82.0" cy="249.9" r="1.55"/><circle cx="82.0" cy="250.7" r="1.55"/><circle cx="81.2" cy="250.2" r="1.55"/><circle cx="81.5" cy="250.1" r="1.55"/><circle cx="81.1" cy="252.1" r="1.55"/><circle cx="81.8" cy="249.2" r="1.55"/><circle cx="80.6" cy="249.5" r="1.55"/><circle cx="81.1" cy="249.4" r="1.55"/><circle cx="80.2" cy="249.5" r="1.55"/><circle cx="81.4" cy="249.0" r="1.55"/><circle cx="80.1" cy="248.7" r="1.55"/><circle cx="80.6" cy="249.7" r="1.55"/><circle cx="81.2" cy="248.7" r="1.55"/><circle cx="80.9" cy="248.7" r="1.55"/><circle cx="80.8" cy="248.5" r="1.55"/><circle cx="80.5" cy="249.4" r="1.55"/><circle cx="80.7" cy="248.4" r="1.55"/><circle cx="80.1" cy="249.1" r="1.55"/><circle cx="81.1" cy="247.9" r="1.55"/><circle cx="81.2" cy="247.2" r="1.55"/><circle cx="81.2" cy="247.3" r="1.55"/><circle cx="80.8" cy="247.9" r="1.55"/><circle cx="81.2" cy="247.5" r="1.55"/><circle cx="80.8" cy="247.5" r="1.55"/><circle cx="81.1" cy="246.8" r="1.55"/><circle cx="80.7" cy="247.2" r="1.55"/><circle cx="80.5" cy="246.9" r="1.55"/><circle cx="80.1" cy="248.2" r="1.55"/><circle cx="79.2" cy="246.8" r="1.55"/><circle cx="80.7" cy="246.8" r="1.55"/><circle cx="80.4" cy="246.6" r="1.55"/><circle cx="81.3" cy="245.4" r="1.55"/><circle cx="79.5" cy="247.0" r="1.55"/><circle cx="80.7" cy="246.8" r="1.55"/><circle cx="79.9" cy="245.5" r="1.55"/><circle cx="80.2" cy="246.2" r="1.55"/><circle cx="79.8" cy="245.5" r="1.55"/><circle cx="80.4" cy="245.3" r="1.55"/><circle cx="80.2" cy="245.3" r="1.55"/><circle cx="80.5" cy="245.6" r="1.55"/><circle cx="80.1" cy="244.3" r="1.55"/><circle cx="80.2" cy="243.5" r="1.55"/><circle cx="80.5" cy="245.1" r="1.55"/><circle cx="80.1" cy="244.4" r="1.55"/><circle cx="79.8" cy="243.3" r="1.55"/><circle cx="80.3" cy="243.7" r="1.55"/><circle cx="79.6" cy="244.2" r="1.55"/><circle cx="79.8" cy="243.4" r="1.55"/><circle cx="79.4" cy="242.5" r="1.55"/><circle cx="79.3" cy="243.7" r="1.55"/><circle cx="78.2" cy="242.8" r="1.55"/><circle cx="79.9" cy="242.7" r="1.55"/><circle cx="79.0" cy="243.3" r="1.55"/><circle cx="79.8" cy="242.4" r="1.55"/><circle cx="80.2" cy="242.0" r="1.55"/><circle cx="78.7" cy="241.5" r="1.55"/><circle cx="79.6" cy="240.9" r="1.55"/><circle cx="79.1" cy="242.4" r="1.55"/><circle cx="79.3" cy="240.7" r="1.55"/><circle cx="78.6" cy="240.9" r="1.55"/><circle cx="78.9" cy="239.9" r="1.55"/><circle cx="78.9" cy="240.9" r="1.55"/><circle cx="79.5" cy="239.7" r="1.55"/><circle cx="79.8" cy="240.0" r="1.55"/><circle cx="78.9" cy="240.7" r="1.55"/><circle cx="78.6" cy="239.1" r="1.55"/><circle cx="79.8" cy="240.4" r="1.55"/><circle cx="78.6" cy="240.0" r="1.55"/><circle cx="78.6" cy="239.1" r="1.55"/><circle cx="78.6" cy="239.6" r="1.55"/><circle cx="78.8" cy="238.9" r="1.55"/><circle cx="78.9" cy="239.2" r="1.55"/><circle cx="78.3" cy="238.8" r="1.55"/><circle cx="78.5" cy="238.4" r="1.55"/><circle cx="79.3" cy="238.6" r="1.55"/><circle cx="79.1" cy="237.7" r="1.55"/><circle cx="78.5" cy="237.7" r="1.55"/><circle cx="78.4" cy="238.7" r="1.55"/><circle cx="78.1" cy="237.4" r="1.55"/><circle cx="78.7" cy="237.4" r="1.55"/><circle cx="77.9" cy="237.6" r="1.55"/><circle cx="78.0" cy="236.2" r="1.55"/><circle cx="77.6" cy="235.3" r="1.55"/><circle cx="77.4" cy="235.4" r="1.55"/><circle cx="77.7" cy="236.6" r="1.55"/><circle cx="77.6" cy="235.2" r="1.55"/><circle cx="77.3" cy="235.4" r="1.55"/><circle cx="77.4" cy="235.0" r="1.55"/><circle cx="77.4" cy="234.5" r="1.55"/><circle cx="77.1" cy="234.7" r="1.55"/><circle cx="76.9" cy="233.0" r="1.55"/><circle cx="77.1" cy="233.8" r="1.55"/><circle cx="77.5" cy="233.9" r="1.55"/><circle cx="77.6" cy="232.9" r="1.55"/><circle cx="77.1" cy="232.9" r="1.55"/><circle cx="76.8" cy="232.2" r="1.55"/><circle cx="76.9" cy="232.4" r="1.55"/><circle cx="77.7" cy="232.4" r="1.55"/><circle cx="77.2" cy="232.2" r="1.55"/><circle cx="76.3" cy="233.5" r="1.55"/><circle cx="76.6" cy="232.8" r="1.55"/><circle cx="76.2" cy="230.5" r="1.55"/></g>
<path d="M78.6 244L82 254.5L87.3 272.5" fill="none" stroke="#030d18" stroke-width="3.3" stroke-linecap="round" opacity=".9"/>
<g class="p"><circle cx="83.1" cy="262.0" r="1.55"/><circle cx="80.9" cy="247.5" r="1.55"/><circle cx="79.2" cy="238.8" r="1.55"/><circle cx="84.9" cy="268.4" r="1.55"/><circle cx="85.4" cy="267.5" r="1.55"/><circle cx="81.5" cy="262.2" r="1.55"/><circle cx="79.4" cy="249.0" r="1.55"/><circle cx="84.3" cy="255.5" r="1.55"/><circle cx="79.5" cy="261.9" r="1.55"/><circle cx="81.6" cy="248.9" r="1.55"/><circle cx="81.7" cy="253.2" r="1.55"/><circle cx="77.6" cy="242.0" r="1.55"/><circle cx="84.8" cy="252.2" r="1.55"/><circle cx="80.7" cy="249.3" r="1.55"/><circle cx="77.9" cy="246.2" r="1.55"/><circle cx="80.0" cy="244.4" r="1.55"/></g>
<rect x="10.0" y="189.3" width="201.6" height="160.9" fill="none" stroke="#636363" stroke-width="0.8"/>
<g class="p"><circle cx="300.5" cy="238.7" r="1.55"/><circle cx="316.1" cy="271.5" r="1.55"/><circle cx="344.7" cy="289.5" r="1.55"/><circle cx="295.6" cy="275.7" r="1.55"/><circle cx="302.3" cy="254.2" r="1.55"/><circle cx="340.3" cy="302.2" r="1.55"/><circle cx="351.0" cy="296.0" r="1.55"/><circle cx="312.6" cy="274.5" r="1.55"/><circle cx="337.6" cy="296.6" r="1.55"/><circle cx="316.0" cy="296.6" r="1.55"/><circle cx="345.2" cy="288.7" r="1.55"/><circle cx="348.6" cy="286.4" r="1.55"/><circle cx="302.8" cy="277.8" r="1.55"/><circle cx="303.1" cy="294.4" r="1.55"/><circle cx="385.8" cy="299.4" r="1.55"/><circle cx="371.5" cy="281.4" r="1.55"/><circle cx="311.2" cy="285.3" r="1.55"/><circle cx="352.9" cy="303.4" r="1.55"/><circle cx="328.2" cy="293.8" r="1.55"/><circle cx="314.7" cy="290.7" r="1.55"/><circle cx="314.1" cy="262.2" r="1.55"/><circle cx="414.4" cy="302.3" r="1.55"/><circle cx="321.7" cy="282.8" r="1.55"/><circle cx="369.5" cy="286.3" r="1.55"/><circle cx="311.3" cy="283.7" r="1.55"/><circle cx="367.4" cy="286.1" r="1.55"/><circle cx="306.6" cy="240.7" r="1.55"/><circle cx="327.8" cy="300.2" r="1.55"/><circle cx="325.5" cy="280.1" r="1.55"/><circle cx="310.3" cy="262.9" r="1.55"/><circle cx="313.5" cy="253.5" r="1.55"/><circle cx="329.1" cy="300.2" r="1.55"/><circle cx="370.3" cy="304.0" r="1.55"/><circle cx="312.2" cy="257.3" r="1.55"/><circle cx="312.5" cy="249.7" r="1.55"/><circle cx="336.3" cy="285.8" r="1.55"/><circle cx="294.2" cy="282.5" r="1.55"/><circle cx="310.2" cy="260.9" r="1.55"/><circle cx="311.5" cy="284.3" r="1.55"/><circle cx="330.9" cy="299.9" r="1.55"/><circle cx="319.9" cy="302.3" r="1.55"/><circle cx="340.1" cy="293.7" r="1.55"/><circle cx="316.3" cy="260.8" r="1.55"/><circle cx="326.1" cy="290.6" r="1.55"/><circle cx="376.9" cy="301.0" r="1.55"/><circle cx="317.4" cy="295.3" r="1.55"/><circle cx="317.5" cy="273.6" r="1.55"/><circle cx="373.4" cy="289.3" r="1.55"/><circle cx="314.1" cy="281.9" r="1.55"/><circle cx="399.2" cy="296.4" r="1.55"/><circle cx="329.5" cy="281.1" r="1.55"/><circle cx="324.3" cy="292.2" r="1.55"/><circle cx="339.6" cy="295.6" r="1.55"/><circle cx="313.5" cy="254.1" r="1.55"/><circle cx="317.0" cy="263.5" r="1.55"/><circle cx="309.8" cy="233.0" r="1.55"/><circle cx="298.7" cy="275.6" r="1.55"/><circle cx="297.2" cy="279.3" r="1.55"/><circle cx="360.8" cy="280.5" r="1.55"/><circle cx="303.9" cy="255.8" r="1.55"/><circle cx="358.6" cy="316.7" r="1.55"/><circle cx="301.1" cy="262.0" r="1.55"/><circle cx="337.8" cy="282.3" r="1.55"/><circle cx="334.8" cy="300.1" r="1.55"/><circle cx="321.9" cy="258.5" r="1.55"/><circle cx="361.8" cy="293.1" r="1.55"/><circle cx="309.8" cy="254.3" r="1.55"/><circle cx="345.0" cy="288.0" r="1.55"/><circle cx="350.4" cy="299.7" r="1.55"/><circle cx="334.1" cy="278.7" r="1.55"/><circle cx="321.4" cy="302.4" r="1.55"/><circle cx="323.8" cy="274.4" r="1.55"/><circle cx="310.3" cy="245.0" r="1.55"/><circle cx="312.6" cy="258.5" r="1.55"/><circle cx="351.1" cy="302.3" r="1.55"/><circle cx="361.3" cy="298.6" r="1.55"/><circle cx="338.3" cy="300.9" r="1.55"/><circle cx="346.3" cy="275.5" r="1.55"/><circle cx="283.7" cy="286.2" r="1.55"/><circle cx="347.4" cy="300.6" r="1.55"/><circle cx="378.7" cy="302.4" r="1.55"/><circle cx="333.0" cy="302.4" r="1.55"/><circle cx="322.9" cy="248.7" r="1.55"/><circle cx="299.6" cy="291.4" r="1.55"/><circle cx="354.8" cy="298.0" r="1.55"/><circle cx="305.5" cy="247.2" r="1.55"/><circle cx="307.0" cy="229.7" r="1.55"/><circle cx="307.2" cy="243.3" r="1.55"/><circle cx="353.7" cy="292.0" r="1.55"/><circle cx="301.4" cy="260.8" r="1.55"/><circle cx="328.7" cy="301.9" r="1.55"/><circle cx="310.5" cy="257.1" r="1.55"/><circle cx="326.9" cy="282.6" r="1.55"/><circle cx="373.0" cy="299.5" r="1.55"/><circle cx="306.6" cy="284.0" r="1.55"/><circle cx="336.1" cy="293.2" r="1.55"/><circle cx="317.2" cy="274.4" r="1.55"/><circle cx="385.7" cy="297.8" r="1.55"/><circle cx="327.1" cy="281.1" r="1.55"/><circle cx="356.3" cy="305.2" r="1.55"/><circle cx="302.8" cy="302.1" r="1.55"/><circle cx="306.3" cy="244.0" r="1.55"/><circle cx="370.2" cy="303.2" r="1.55"/><circle cx="366.0" cy="295.1" r="1.55"/><circle cx="365.0" cy="284.2" r="1.55"/><circle cx="350.7" cy="276.0" r="1.55"/><circle cx="278.8" cy="283.9" r="1.55"/><circle cx="326.2" cy="272.2" r="1.55"/><circle cx="343.7" cy="300.3" r="1.55"/><circle cx="392.4" cy="289.9" r="1.55"/><circle cx="302.9" cy="273.9" r="1.55"/><circle cx="325.6" cy="271.2" r="1.55"/><circle cx="317.2" cy="267.8" r="1.55"/><circle cx="353.3" cy="298.0" r="1.55"/><circle cx="308.5" cy="242.3" r="1.55"/><circle cx="338.4" cy="292.6" r="1.55"/><circle cx="347.5" cy="286.4" r="1.55"/><circle cx="349.5" cy="290.6" r="1.55"/><circle cx="344.1" cy="300.0" r="1.55"/><circle cx="298.0" cy="224.9" r="1.55"/><circle cx="311.8" cy="233.5" r="1.55"/><circle cx="299.1" cy="284.6" r="1.55"/><circle cx="321.9" cy="293.7" r="1.55"/><circle cx="301.1" cy="250.2" r="1.55"/><circle cx="367.8" cy="290.6" r="1.55"/><circle cx="314.0" cy="260.2" r="1.55"/><circle cx="322.5" cy="300.2" r="1.55"/><circle cx="315.9" cy="273.7" r="1.55"/><circle cx="313.5" cy="254.6" r="1.55"/><circle cx="301.0" cy="296.6" r="1.55"/><circle cx="316.5" cy="267.1" r="1.55"/><circle cx="313.9" cy="228.9" r="1.55"/><circle cx="363.4" cy="302.0" r="1.55"/><circle cx="305.5" cy="273.3" r="1.55"/><circle cx="318.3" cy="268.8" r="1.55"/><circle cx="341.8" cy="305.4" r="1.55"/><circle cx="297.0" cy="284.8" r="1.55"/><circle cx="306.1" cy="253.0" r="1.55"/><circle cx="300.5" cy="237.0" r="1.55"/><circle cx="299.0" cy="258.4" r="1.55"/><circle cx="318.8" cy="303.4" r="1.55"/><circle cx="313.8" cy="294.0" r="1.55"/><circle cx="316.3" cy="290.4" r="1.55"/><circle cx="344.6" cy="291.8" r="1.55"/><circle cx="309.6" cy="286.1" r="1.55"/><circle cx="314.7" cy="259.5" r="1.55"/><circle cx="303.5" cy="248.2" r="1.55"/><circle cx="341.9" cy="303.5" r="1.55"/><circle cx="309.4" cy="241.1" r="1.55"/><circle cx="312.9" cy="267.1" r="1.55"/><circle cx="306.7" cy="254.8" r="1.55"/><circle cx="327.0" cy="278.9" r="1.55"/><circle cx="345.8" cy="282.4" r="1.55"/><circle cx="313.1" cy="254.5" r="1.55"/><circle cx="308.5" cy="273.6" r="1.55"/><circle cx="313.0" cy="273.8" r="1.55"/><circle cx="309.5" cy="287.9" r="1.55"/><circle cx="331.2" cy="290.8" r="1.55"/><circle cx="311.4" cy="252.7" r="1.55"/><circle cx="330.6" cy="294.7" r="1.55"/><circle cx="306.8" cy="244.4" r="1.55"/><circle cx="309.3" cy="256.9" r="1.55"/><circle cx="314.5" cy="271.8" r="1.55"/><circle cx="369.0" cy="292.1" r="1.55"/><circle cx="317.6" cy="264.9" r="1.55"/><circle cx="317.8" cy="270.4" r="1.55"/><circle cx="301.8" cy="245.3" r="1.55"/><circle cx="303.9" cy="279.9" r="1.55"/><circle cx="387.7" cy="298.9" r="1.55"/><circle cx="304.1" cy="283.2" r="1.55"/><circle cx="326.3" cy="287.6" r="1.55"/><circle cx="393.6" cy="276.5" r="1.55"/><circle cx="317.6" cy="271.1" r="1.55"/><circle cx="363.9" cy="303.9" r="1.55"/><circle cx="336.2" cy="296.5" r="1.55"/><circle cx="317.3" cy="268.1" r="1.55"/><circle cx="373.3" cy="299.3" r="1.55"/><circle cx="349.9" cy="289.1" r="1.55"/><circle cx="358.9" cy="316.6" r="1.55"/><circle cx="327.7" cy="296.8" r="1.55"/><circle cx="379.3" cy="297.4" r="1.55"/><circle cx="320.1" cy="290.2" r="1.55"/><circle cx="353.6" cy="289.7" r="1.55"/><circle cx="351.6" cy="290.7" r="1.55"/><circle cx="285.5" cy="277.3" r="1.55"/><circle cx="321.0" cy="284.1" r="1.55"/><circle cx="330.9" cy="275.2" r="1.55"/><circle cx="318.1" cy="284.1" r="1.55"/><circle cx="358.1" cy="298.8" r="1.55"/><circle cx="298.4" cy="264.3" r="1.55"/><circle cx="370.5" cy="317.5" r="1.55"/><circle cx="391.0" cy="291.2" r="1.55"/><circle cx="313.3" cy="286.8" r="1.55"/><circle cx="310.3" cy="251.9" r="1.55"/><circle cx="346.4" cy="285.8" r="1.55"/><circle cx="304.5" cy="250.2" r="1.55"/><circle cx="331.3" cy="281.2" r="1.55"/><circle cx="301.4" cy="293.1" r="1.55"/><circle cx="301.9" cy="276.6" r="1.55"/><circle cx="350.1" cy="302.3" r="1.55"/><circle cx="361.7" cy="292.5" r="1.55"/><circle cx="357.9" cy="299.1" r="1.55"/><circle cx="302.5" cy="243.9" r="1.55"/><circle cx="311.9" cy="250.3" r="1.55"/><circle cx="405.1" cy="303.1" r="1.55"/><circle cx="330.0" cy="283.6" r="1.55"/><circle cx="318.7" cy="266.6" r="1.55"/><circle cx="307.7" cy="271.7" r="1.55"/><circle cx="328.1" cy="300.6" r="1.55"/><circle cx="327.9" cy="272.0" r="1.55"/><circle cx="298.3" cy="277.8" r="1.55"/><circle cx="307.0" cy="243.6" r="1.55"/><circle cx="303.9" cy="231.7" r="1.55"/><circle cx="310.8" cy="229.3" r="1.55"/><circle cx="301.0" cy="296.6" r="1.55"/><circle cx="294.0" cy="241.4" r="1.55"/><circle cx="362.6" cy="288.8" r="1.55"/><circle cx="307.8" cy="250.7" r="1.55"/><circle cx="354.7" cy="298.6" r="1.55"/><circle cx="309.0" cy="288.6" r="1.55"/><circle cx="322.5" cy="275.8" r="1.55"/><circle cx="312.9" cy="255.5" r="1.55"/><circle cx="331.8" cy="281.1" r="1.55"/><circle cx="341.1" cy="280.7" r="1.55"/><circle cx="277.9" cy="294.4" r="1.55"/><circle cx="280.1" cy="284.0" r="1.55"/><circle cx="370.6" cy="318.6" r="1.55"/><circle cx="339.5" cy="282.7" r="1.55"/><circle cx="313.0" cy="290.3" r="1.55"/><circle cx="344.2" cy="281.4" r="1.55"/><circle cx="313.5" cy="259.7" r="1.55"/><circle cx="320.3" cy="301.0" r="1.55"/><circle cx="304.1" cy="275.5" r="1.55"/><circle cx="324.6" cy="298.5" r="1.55"/><circle cx="347.7" cy="296.2" r="1.55"/><circle cx="366.9" cy="294.7" r="1.55"/><circle cx="331.9" cy="289.1" r="1.55"/><circle cx="316.3" cy="263.3" r="1.55"/><circle cx="316.6" cy="281.7" r="1.55"/><circle cx="317.4" cy="301.7" r="1.55"/><circle cx="377.7" cy="298.4" r="1.55"/><circle cx="322.0" cy="264.6" r="1.55"/><circle cx="363.1" cy="299.1" r="1.55"/><circle cx="308.4" cy="233.1" r="1.55"/><circle cx="335.1" cy="301.8" r="1.55"/><circle cx="297.5" cy="266.6" r="1.55"/><circle cx="309.0" cy="239.9" r="1.55"/><circle cx="303.7" cy="280.9" r="1.55"/><circle cx="322.6" cy="293.2" r="1.55"/><circle cx="343.6" cy="298.9" r="1.55"/><circle cx="317.3" cy="270.8" r="1.55"/><circle cx="353.2" cy="301.6" r="1.55"/><circle cx="318.9" cy="290.7" r="1.55"/><circle cx="310.0" cy="261.6" r="1.55"/><circle cx="345.3" cy="296.3" r="1.55"/><circle cx="308.3" cy="246.0" r="1.55"/><circle cx="252.9" cy="291.1" r="1.55"/><circle cx="350.2" cy="301.2" r="1.55"/><circle cx="321.5" cy="247.7" r="1.55"/><circle cx="362.2" cy="299.6" r="1.55"/><circle cx="318.9" cy="315.3" r="1.55"/><circle cx="325.3" cy="283.4" r="1.55"/><circle cx="329.8" cy="297.4" r="1.55"/><circle cx="299.8" cy="272.6" r="1.55"/><circle cx="324.8" cy="196.4" r="1.55"/><circle cx="317.4" cy="266.2" r="1.55"/><circle cx="313.5" cy="268.8" r="1.55"/><circle cx="359.2" cy="291.6" r="1.55"/><circle cx="313.9" cy="279.4" r="1.55"/><circle cx="314.1" cy="286.0" r="1.55"/><circle cx="344.8" cy="297.6" r="1.55"/><circle cx="322.3" cy="255.9" r="1.55"/><circle cx="300.2" cy="248.5" r="1.55"/><circle cx="341.8" cy="295.3" r="1.55"/><circle cx="364.1" cy="300.7" r="1.55"/><circle cx="296.9" cy="277.9" r="1.55"/><circle cx="330.6" cy="293.3" r="1.55"/><circle cx="337.9" cy="297.0" r="1.55"/><circle cx="304.1" cy="258.3" r="1.55"/><circle cx="309.6" cy="239.5" r="1.55"/><circle cx="310.4" cy="240.5" r="1.55"/><circle cx="339.6" cy="290.8" r="1.55"/><circle cx="309.9" cy="246.6" r="1.55"/><circle cx="319.9" cy="302.0" r="1.55"/><circle cx="345.7" cy="307.0" r="1.55"/><circle cx="310.3" cy="258.9" r="1.55"/><circle cx="311.7" cy="249.9" r="1.55"/><circle cx="348.9" cy="303.0" r="1.55"/><circle cx="334.2" cy="289.5" r="1.55"/><circle cx="314.6" cy="258.9" r="1.55"/><circle cx="383.0" cy="300.3" r="1.55"/><circle cx="309.8" cy="243.5" r="1.55"/><circle cx="326.7" cy="276.0" r="1.55"/><circle cx="334.5" cy="306.1" r="1.55"/><circle cx="313.8" cy="245.2" r="1.55"/><circle cx="391.1" cy="289.6" r="1.55"/><circle cx="316.6" cy="302.4" r="1.55"/><circle cx="319.2" cy="269.9" r="1.55"/><circle cx="360.4" cy="291.7" r="1.55"/><circle cx="305.4" cy="241.6" r="1.55"/><circle cx="323.2" cy="297.1" r="1.55"/><circle cx="348.7" cy="305.4" r="1.55"/><circle cx="371.3" cy="300.2" r="1.55"/><circle cx="300.8" cy="250.7" r="1.55"/><circle cx="343.7" cy="275.9" r="1.55"/><circle cx="308.3" cy="261.3" r="1.55"/><circle cx="320.2" cy="285.0" r="1.55"/><circle cx="341.4" cy="298.0" r="1.55"/><circle cx="347.2" cy="287.8" r="1.55"/><circle cx="380.8" cy="298.0" r="1.55"/><circle cx="318.9" cy="282.3" r="1.55"/><circle cx="314.6" cy="279.8" r="1.55"/><circle cx="338.3" cy="276.4" r="1.55"/><circle cx="313.4" cy="258.4" r="1.55"/><circle cx="332.0" cy="299.0" r="1.55"/><circle cx="308.3" cy="241.8" r="1.55"/><circle cx="295.3" cy="275.4" r="1.55"/><circle cx="305.9" cy="254.6" r="1.55"/><circle cx="319.4" cy="295.0" r="1.55"/><circle cx="328.8" cy="282.5" r="1.55"/><circle cx="304.8" cy="280.2" r="1.55"/><circle cx="309.5" cy="263.2" r="1.55"/><circle cx="293.1" cy="287.4" r="1.55"/><circle cx="322.3" cy="245.6" r="1.55"/><circle cx="356.3" cy="295.3" r="1.55"/><circle cx="312.9" cy="297.9" r="1.55"/><circle cx="318.7" cy="293.7" r="1.55"/><circle cx="312.9" cy="247.6" r="1.55"/><circle cx="341.4" cy="291.1" r="1.55"/><circle cx="341.9" cy="298.4" r="1.55"/><circle cx="317.7" cy="266.4" r="1.55"/><circle cx="316.6" cy="298.1" r="1.55"/><circle cx="379.2" cy="289.2" r="1.55"/><circle cx="316.3" cy="280.7" r="1.55"/><circle cx="372.7" cy="286.9" r="1.55"/><circle cx="306.3" cy="246.0" r="1.55"/><circle cx="315.8" cy="257.3" r="1.55"/><circle cx="307.0" cy="280.8" r="1.55"/><circle cx="306.3" cy="238.1" r="1.55"/><circle cx="355.2" cy="302.2" r="1.55"/><circle cx="300.4" cy="250.3" r="1.55"/><circle cx="343.3" cy="276.7" r="1.55"/><circle cx="307.3" cy="277.6" r="1.55"/><circle cx="364.5" cy="302.8" r="1.55"/><circle cx="325.2" cy="283.7" r="1.55"/><circle cx="313.9" cy="271.3" r="1.55"/><circle cx="334.9" cy="304.0" r="1.55"/><circle cx="337.5" cy="285.0" r="1.55"/><circle cx="333.9" cy="300.5" r="1.55"/><circle cx="348.4" cy="276.0" r="1.55"/><circle cx="276.4" cy="298.0" r="1.55"/><circle cx="310.1" cy="241.0" r="1.55"/><circle cx="336.9" cy="296.2" r="1.55"/><circle cx="301.4" cy="286.3" r="1.55"/><circle cx="322.1" cy="281.7" r="1.55"/><circle cx="307.6" cy="246.8" r="1.55"/><circle cx="308.2" cy="248.7" r="1.55"/><circle cx="352.9" cy="293.5" r="1.55"/><circle cx="305.9" cy="250.3" r="1.55"/><circle cx="312.5" cy="246.7" r="1.55"/><circle cx="305.9" cy="280.9" r="1.55"/><circle cx="309.7" cy="247.6" r="1.55"/><circle cx="380.5" cy="297.2" r="1.55"/><circle cx="346.5" cy="295.0" r="1.55"/><circle cx="312.5" cy="252.8" r="1.55"/><circle cx="320.6" cy="270.7" r="1.55"/><circle cx="324.3" cy="287.7" r="1.55"/><circle cx="297.5" cy="283.2" r="1.55"/><circle cx="345.2" cy="289.7" r="1.55"/><circle cx="376.5" cy="296.7" r="1.55"/><circle cx="350.2" cy="303.3" r="1.55"/><circle cx="335.8" cy="286.2" r="1.55"/><circle cx="357.5" cy="290.0" r="1.55"/><circle cx="319.6" cy="302.0" r="1.55"/><circle cx="308.2" cy="265.0" r="1.55"/><circle cx="299.0" cy="284.5" r="1.55"/><circle cx="312.0" cy="258.7" r="1.55"/><circle cx="356.7" cy="306.0" r="1.55"/><circle cx="330.4" cy="298.2" r="1.55"/><circle cx="349.4" cy="298.8" r="1.55"/><circle cx="318.5" cy="297.0" r="1.55"/><circle cx="302.0" cy="292.8" r="1.55"/><circle cx="305.0" cy="249.4" r="1.55"/><circle cx="307.9" cy="242.4" r="1.55"/><circle cx="317.1" cy="280.9" r="1.55"/><circle cx="378.2" cy="293.7" r="1.55"/><circle cx="309.1" cy="288.1" r="1.55"/><circle cx="306.0" cy="266.2" r="1.55"/><circle cx="342.6" cy="290.9" r="1.55"/><circle cx="354.8" cy="293.9" r="1.55"/><circle cx="308.9" cy="241.2" r="1.55"/><circle cx="309.3" cy="250.2" r="1.55"/><circle cx="347.5" cy="302.9" r="1.55"/><circle cx="362.6" cy="282.2" r="1.55"/><circle cx="348.7" cy="285.4" r="1.55"/><circle cx="303.1" cy="274.8" r="1.55"/><circle cx="323.9" cy="286.4" r="1.55"/><circle cx="386.2" cy="293.5" r="1.55"/><circle cx="317.2" cy="297.4" r="1.55"/><circle cx="303.5" cy="274.6" r="1.55"/><circle cx="435.5" cy="304.0" r="1.55"/><circle cx="306.4" cy="269.3" r="1.55"/><circle cx="373.4" cy="282.5" r="1.55"/><circle cx="319.6" cy="285.5" r="1.55"/><circle cx="370.9" cy="288.9" r="1.55"/><circle cx="311.4" cy="237.9" r="1.55"/><circle cx="407.6" cy="298.9" r="1.55"/><circle cx="341.5" cy="303.2" r="1.55"/><circle cx="324.0" cy="300.9" r="1.55"/><circle cx="298.9" cy="288.6" r="1.55"/><circle cx="312.3" cy="256.1" r="1.55"/><circle cx="345.4" cy="300.2" r="1.55"/><circle cx="308.8" cy="293.8" r="1.55"/><circle cx="349.0" cy="288.4" r="1.55"/><circle cx="314.8" cy="261.3" r="1.55"/><circle cx="322.5" cy="292.5" r="1.55"/><circle cx="294.4" cy="279.9" r="1.55"/><circle cx="304.1" cy="264.4" r="1.55"/><circle cx="321.9" cy="287.4" r="1.55"/><circle cx="307.7" cy="268.0" r="1.55"/><circle cx="343.7" cy="288.5" r="1.55"/><circle cx="310.1" cy="243.6" r="1.55"/><circle cx="389.2" cy="289.9" r="1.55"/><circle cx="301.5" cy="229.9" r="1.55"/><circle cx="342.2" cy="286.5" r="1.55"/><circle cx="326.9" cy="298.6" r="1.55"/><circle cx="313.9" cy="266.0" r="1.55"/><circle cx="299.3" cy="257.7" r="1.55"/><circle cx="308.6" cy="279.9" r="1.55"/><circle cx="314.0" cy="256.7" r="1.55"/><circle cx="332.5" cy="295.7" r="1.55"/><circle cx="323.2" cy="287.9" r="1.55"/><circle cx="329.5" cy="277.0" r="1.55"/><circle cx="335.6" cy="290.2" r="1.55"/><circle cx="370.2" cy="302.1" r="1.55"/><circle cx="358.5" cy="289.3" r="1.55"/><circle cx="311.7" cy="257.1" r="1.55"/><circle cx="306.4" cy="243.5" r="1.55"/><circle cx="312.7" cy="278.5" r="1.55"/><circle cx="318.4" cy="288.1" r="1.55"/><circle cx="304.1" cy="256.4" r="1.55"/><circle cx="313.7" cy="270.8" r="1.55"/><circle cx="325.6" cy="291.5" r="1.55"/><circle cx="308.1" cy="260.0" r="1.55"/><circle cx="339.4" cy="302.6" r="1.55"/><circle cx="340.3" cy="280.2" r="1.55"/><circle cx="356.8" cy="283.1" r="1.55"/><circle cx="338.1" cy="292.0" r="1.55"/><circle cx="306.0" cy="268.4" r="1.55"/><circle cx="334.0" cy="287.8" r="1.55"/><circle cx="341.2" cy="295.9" r="1.55"/><circle cx="321.8" cy="257.4" r="1.55"/><circle cx="337.2" cy="291.6" r="1.55"/><circle cx="325.0" cy="277.4" r="1.55"/><circle cx="309.2" cy="277.9" r="1.55"/><circle cx="313.8" cy="244.6" r="1.55"/><circle cx="348.7" cy="306.6" r="1.55"/><circle cx="324.7" cy="289.3" r="1.55"/><circle cx="320.2" cy="283.2" r="1.55"/><circle cx="319.1" cy="279.7" r="1.55"/><circle cx="292.2" cy="282.9" r="1.55"/><circle cx="312.2" cy="264.3" r="1.55"/><circle cx="372.8" cy="300.6" r="1.55"/><circle cx="314.1" cy="250.1" r="1.55"/><circle cx="308.0" cy="245.8" r="1.55"/><circle cx="320.3" cy="277.8" r="1.55"/><circle cx="340.6" cy="286.9" r="1.55"/><circle cx="281.0" cy="281.8" r="1.55"/><circle cx="356.8" cy="289.9" r="1.55"/><circle cx="331.0" cy="293.6" r="1.55"/><circle cx="289.9" cy="290.5" r="1.55"/><circle cx="366.1" cy="287.3" r="1.55"/><circle cx="314.2" cy="261.7" r="1.55"/><circle cx="342.2" cy="278.3" r="1.55"/><circle cx="297.4" cy="280.3" r="1.55"/><circle cx="296.3" cy="280.5" r="1.55"/><circle cx="317.0" cy="268.5" r="1.55"/><circle cx="312.8" cy="253.6" r="1.55"/><circle cx="416.1" cy="296.4" r="1.55"/><circle cx="339.6" cy="285.6" r="1.55"/><circle cx="401.7" cy="298.1" r="1.55"/><circle cx="328.6" cy="305.7" r="1.55"/><circle cx="317.0" cy="258.9" r="1.55"/><circle cx="317.1" cy="272.4" r="1.55"/><circle cx="342.2" cy="296.4" r="1.55"/><circle cx="346.0" cy="290.5" r="1.55"/><circle cx="311.4" cy="293.2" r="1.55"/><circle cx="305.7" cy="285.8" r="1.55"/><circle cx="337.4" cy="277.3" r="1.55"/><circle cx="395.0" cy="304.3" r="1.55"/><circle cx="362.9" cy="284.0" r="1.55"/><circle cx="359.3" cy="292.2" r="1.55"/><circle cx="339.0" cy="305.5" r="1.55"/><circle cx="315.2" cy="260.0" r="1.55"/><circle cx="309.7" cy="244.9" r="1.55"/><circle cx="305.4" cy="276.0" r="1.55"/><circle cx="302.8" cy="267.8" r="1.55"/><circle cx="353.6" cy="284.8" r="1.55"/><circle cx="341.3" cy="306.1" r="1.55"/><circle cx="302.3" cy="255.9" r="1.55"/><circle cx="302.0" cy="261.6" r="1.55"/><circle cx="354.8" cy="284.8" r="1.55"/><circle cx="323.5" cy="290.9" r="1.55"/><circle cx="303.9" cy="295.2" r="1.55"/><circle cx="329.2" cy="284.6" r="1.55"/><circle cx="315.6" cy="263.3" r="1.55"/><circle cx="310.8" cy="249.3" r="1.55"/><circle cx="313.6" cy="269.9" r="1.55"/><circle cx="297.7" cy="287.3" r="1.55"/><circle cx="300.7" cy="257.8" r="1.55"/><circle cx="312.3" cy="268.7" r="1.55"/><circle cx="311.7" cy="241.5" r="1.55"/><circle cx="298.9" cy="284.8" r="1.55"/><circle cx="324.2" cy="268.8" r="1.55"/><circle cx="322.8" cy="267.3" r="1.55"/><circle cx="313.7" cy="251.8" r="1.55"/><circle cx="312.7" cy="268.0" r="1.55"/><circle cx="301.4" cy="268.0" r="1.55"/><circle cx="314.0" cy="273.4" r="1.55"/><circle cx="322.4" cy="251.0" r="1.55"/><circle cx="339.0" cy="296.3" r="1.55"/><circle cx="332.6" cy="304.2" r="1.55"/><circle cx="300.0" cy="257.4" r="1.55"/><circle cx="374.0" cy="284.5" r="1.55"/><circle cx="305.9" cy="250.4" r="1.55"/><circle cx="300.2" cy="278.9" r="1.55"/><circle cx="322.9" cy="227.1" r="1.55"/><circle cx="348.7" cy="297.1" r="1.55"/><circle cx="312.1" cy="256.8" r="1.55"/><circle cx="306.4" cy="278.6" r="1.55"/><circle cx="301.8" cy="275.2" r="1.55"/><circle cx="300.5" cy="255.3" r="1.55"/><circle cx="300.1" cy="296.4" r="1.55"/><circle cx="340.5" cy="294.8" r="1.55"/><circle cx="297.4" cy="273.0" r="1.55"/><circle cx="322.0" cy="281.1" r="1.55"/><circle cx="310.2" cy="298.1" r="1.55"/><circle cx="317.6" cy="263.8" r="1.55"/><circle cx="312.3" cy="258.4" r="1.55"/><circle cx="302.2" cy="286.7" r="1.55"/><circle cx="318.5" cy="294.6" r="1.55"/><circle cx="336.4" cy="305.1" r="1.55"/><circle cx="309.6" cy="257.8" r="1.55"/><circle cx="336.0" cy="290.0" r="1.55"/><circle cx="338.4" cy="298.3" r="1.55"/><circle cx="349.7" cy="303.8" r="1.55"/><circle cx="312.5" cy="256.2" r="1.55"/><circle cx="350.0" cy="291.1" r="1.55"/><circle cx="323.2" cy="293.4" r="1.55"/><circle cx="311.6" cy="249.0" r="1.55"/><circle cx="299.8" cy="283.3" r="1.55"/><circle cx="302.4" cy="284.1" r="1.55"/><circle cx="347.2" cy="291.6" r="1.55"/><circle cx="368.7" cy="297.0" r="1.55"/><circle cx="331.8" cy="304.3" r="1.55"/><circle cx="318.6" cy="286.2" r="1.55"/><circle cx="321.9" cy="238.8" r="1.55"/><circle cx="313.5" cy="253.6" r="1.55"/><circle cx="291.7" cy="283.0" r="1.55"/><circle cx="362.6" cy="303.7" r="1.55"/><circle cx="311.3" cy="255.3" r="1.55"/><circle cx="347.0" cy="299.0" r="1.55"/><circle cx="368.9" cy="290.5" r="1.55"/><circle cx="317.4" cy="294.5" r="1.55"/><circle cx="372.9" cy="290.0" r="1.55"/><circle cx="283.9" cy="278.7" r="1.55"/><circle cx="368.8" cy="302.2" r="1.55"/><circle cx="337.4" cy="277.8" r="1.55"/><circle cx="337.8" cy="277.2" r="1.55"/><circle cx="375.2" cy="282.7" r="1.55"/><circle cx="334.4" cy="297.4" r="1.55"/><circle cx="328.1" cy="270.7" r="1.55"/><circle cx="329.6" cy="288.9" r="1.55"/><circle cx="329.3" cy="293.1" r="1.55"/><circle cx="305.8" cy="229.8" r="1.55"/><circle cx="309.9" cy="285.0" r="1.55"/><circle cx="348.4" cy="291.9" r="1.55"/><circle cx="302.5" cy="239.4" r="1.55"/><circle cx="331.8" cy="280.4" r="1.55"/><circle cx="312.8" cy="235.8" r="1.55"/><circle cx="317.4" cy="264.6" r="1.55"/><circle cx="322.8" cy="309.4" r="1.55"/><circle cx="323.8" cy="297.1" r="1.55"/><circle cx="304.0" cy="243.4" r="1.55"/><circle cx="304.4" cy="266.9" r="1.55"/><circle cx="305.5" cy="281.7" r="1.55"/><circle cx="321.1" cy="280.1" r="1.55"/><circle cx="332.8" cy="293.6" r="1.55"/><circle cx="312.7" cy="229.3" r="1.55"/><circle cx="355.5" cy="296.2" r="1.55"/><circle cx="310.8" cy="255.4" r="1.55"/><circle cx="310.1" cy="244.1" r="1.55"/><circle cx="348.4" cy="300.8" r="1.55"/><circle cx="322.4" cy="249.3" r="1.55"/><circle cx="374.4" cy="299.6" r="1.55"/><circle cx="335.3" cy="306.0" r="1.55"/><circle cx="313.7" cy="278.3" r="1.55"/><circle cx="307.0" cy="241.8" r="1.55"/><circle cx="311.4" cy="244.8" r="1.55"/><circle cx="313.2" cy="253.8" r="1.55"/><circle cx="336.5" cy="311.6" r="1.55"/><circle cx="315.3" cy="278.0" r="1.55"/><circle cx="414.4" cy="291.8" r="1.55"/><circle cx="307.5" cy="277.4" r="1.55"/><circle cx="312.7" cy="251.3" r="1.55"/><circle cx="315.7" cy="260.5" r="1.55"/><circle cx="351.8" cy="299.7" r="1.55"/><circle cx="321.9" cy="256.0" r="1.55"/><circle cx="314.4" cy="280.5" r="1.55"/><circle cx="300.7" cy="246.2" r="1.55"/><circle cx="354.1" cy="296.6" r="1.55"/><circle cx="347.6" cy="286.0" r="1.55"/><circle cx="343.6" cy="274.2" r="1.55"/><circle cx="327.9" cy="304.5" r="1.55"/><circle cx="301.3" cy="259.0" r="1.55"/><circle cx="296.4" cy="276.8" r="1.55"/><circle cx="319.8" cy="298.9" r="1.55"/><circle cx="330.7" cy="283.7" r="1.55"/><circle cx="372.1" cy="301.1" r="1.55"/><circle cx="294.4" cy="268.2" r="1.55"/><circle cx="389.7" cy="293.8" r="1.55"/><circle cx="308.4" cy="245.5" r="1.55"/><circle cx="295.1" cy="272.6" r="1.55"/><circle cx="306.0" cy="253.7" r="1.55"/><circle cx="312.5" cy="244.0" r="1.55"/><circle cx="356.7" cy="300.9" r="1.55"/><circle cx="334.5" cy="284.0" r="1.55"/><circle cx="384.5" cy="288.6" r="1.55"/><circle cx="332.9" cy="284.3" r="1.55"/><circle cx="316.0" cy="261.8" r="1.55"/><circle cx="292.4" cy="277.6" r="1.55"/><circle cx="307.3" cy="234.2" r="1.55"/><circle cx="362.4" cy="297.0" r="1.55"/><circle cx="333.9" cy="301.9" r="1.55"/><circle cx="301.1" cy="244.6" r="1.55"/><circle cx="345.1" cy="314.1" r="1.55"/><circle cx="346.1" cy="292.3" r="1.55"/><circle cx="342.7" cy="296.9" r="1.55"/><circle cx="350.5" cy="304.2" r="1.55"/><circle cx="306.6" cy="240.8" r="1.55"/><circle cx="310.1" cy="245.5" r="1.55"/><circle cx="330.7" cy="304.8" r="1.55"/><circle cx="297.4" cy="276.0" r="1.55"/><circle cx="305.7" cy="263.0" r="1.55"/><circle cx="377.8" cy="288.1" r="1.55"/><circle cx="319.0" cy="271.9" r="1.55"/><circle cx="348.5" cy="295.4" r="1.55"/><circle cx="305.1" cy="236.5" r="1.55"/><circle cx="336.8" cy="299.5" r="1.55"/><circle cx="310.2" cy="244.6" r="1.55"/><circle cx="308.1" cy="263.2" r="1.55"/><circle cx="317.0" cy="265.9" r="1.55"/><circle cx="319.3" cy="271.7" r="1.55"/><circle cx="322.2" cy="206.0" r="1.55"/><circle cx="306.0" cy="258.9" r="1.55"/><circle cx="341.6" cy="294.3" r="1.55"/><circle cx="320.5" cy="293.7" r="1.55"/><circle cx="307.6" cy="240.1" r="1.55"/><circle cx="368.8" cy="301.9" r="1.55"/><circle cx="309.3" cy="244.8" r="1.55"/><circle cx="360.5" cy="294.9" r="1.55"/><circle cx="308.4" cy="242.7" r="1.55"/><circle cx="309.0" cy="234.6" r="1.55"/><circle cx="331.3" cy="286.8" r="1.55"/><circle cx="348.8" cy="301.5" r="1.55"/><circle cx="323.1" cy="295.8" r="1.55"/><circle cx="315.3" cy="262.5" r="1.55"/><circle cx="341.3" cy="278.5" r="1.55"/><circle cx="319.6" cy="272.0" r="1.55"/><circle cx="360.2" cy="293.9" r="1.55"/><circle cx="317.9" cy="268.6" r="1.55"/><circle cx="330.3" cy="286.2" r="1.55"/><circle cx="313.1" cy="296.5" r="1.55"/><circle cx="325.9" cy="293.8" r="1.55"/><circle cx="368.1" cy="304.1" r="1.55"/><circle cx="309.3" cy="243.0" r="1.55"/><circle cx="322.6" cy="300.1" r="1.55"/><circle cx="316.5" cy="267.8" r="1.55"/><circle cx="375.6" cy="309.4" r="1.55"/><circle cx="331.9" cy="293.7" r="1.55"/><circle cx="356.9" cy="303.2" r="1.55"/><circle cx="303.0" cy="272.1" r="1.55"/><circle cx="308.9" cy="285.1" r="1.55"/><circle cx="252.9" cy="259.0" r="1.55"/><circle cx="350.5" cy="294.7" r="1.55"/><circle cx="340.2" cy="277.3" r="1.55"/><circle cx="308.8" cy="268.8" r="1.55"/><circle cx="308.5" cy="240.9" r="1.55"/><circle cx="359.2" cy="303.1" r="1.55"/><circle cx="313.9" cy="259.7" r="1.55"/><circle cx="302.2" cy="245.5" r="1.55"/><circle cx="351.8" cy="299.6" r="1.55"/><circle cx="310.6" cy="243.4" r="1.55"/><circle cx="314.2" cy="279.6" r="1.55"/><circle cx="376.1" cy="303.8" r="1.55"/><circle cx="339.5" cy="282.2" r="1.55"/><circle cx="315.7" cy="264.6" r="1.55"/><circle cx="322.3" cy="275.4" r="1.55"/><circle cx="313.7" cy="254.7" r="1.55"/><circle cx="345.2" cy="284.4" r="1.55"/><circle cx="332.1" cy="297.0" r="1.55"/><circle cx="294.3" cy="278.0" r="1.55"/><circle cx="325.1" cy="282.0" r="1.55"/><circle cx="316.3" cy="293.6" r="1.55"/><circle cx="312.7" cy="254.5" r="1.55"/><circle cx="321.4" cy="281.6" r="1.55"/><circle cx="330.6" cy="296.5" r="1.55"/><circle cx="321.8" cy="265.4" r="1.55"/><circle cx="315.3" cy="292.2" r="1.55"/><circle cx="357.5" cy="284.7" r="1.55"/><circle cx="333.0" cy="300.7" r="1.55"/><circle cx="317.5" cy="265.0" r="1.55"/><circle cx="335.9" cy="305.8" r="1.55"/><circle cx="316.3" cy="273.2" r="1.55"/><circle cx="315.3" cy="260.4" r="1.55"/><circle cx="302.3" cy="240.0" r="1.55"/><circle cx="302.5" cy="230.2" r="1.55"/><circle cx="332.4" cy="288.2" r="1.55"/><circle cx="390.2" cy="299.1" r="1.55"/><circle cx="302.1" cy="290.0" r="1.55"/><circle cx="319.8" cy="272.3" r="1.55"/><circle cx="321.7" cy="274.1" r="1.55"/><circle cx="352.1" cy="303.9" r="1.55"/><circle cx="306.9" cy="292.0" r="1.55"/><circle cx="277.2" cy="285.0" r="1.55"/><circle cx="311.5" cy="236.1" r="1.55"/><circle cx="348.9" cy="271.4" r="1.55"/><circle cx="316.0" cy="265.2" r="1.55"/><circle cx="311.4" cy="278.4" r="1.55"/><circle cx="316.7" cy="261.7" r="1.55"/><circle cx="361.4" cy="301.7" r="1.55"/><circle cx="316.0" cy="262.3" r="1.55"/><circle cx="368.8" cy="304.4" r="1.55"/><circle cx="301.0" cy="238.1" r="1.55"/><circle cx="382.2" cy="302.0" r="1.55"/><circle cx="321.2" cy="291.0" r="1.55"/><circle cx="308.6" cy="287.0" r="1.55"/><circle cx="316.9" cy="265.4" r="1.55"/><circle cx="315.6" cy="265.5" r="1.55"/><circle cx="306.2" cy="263.8" r="1.55"/><circle cx="319.0" cy="267.8" r="1.55"/><circle cx="327.7" cy="300.8" r="1.55"/><circle cx="313.1" cy="292.3" r="1.55"/><circle cx="360.6" cy="299.5" r="1.55"/><circle cx="331.5" cy="293.5" r="1.55"/><circle cx="303.2" cy="243.1" r="1.55"/><circle cx="311.3" cy="282.6" r="1.55"/><circle cx="381.3" cy="296.3" r="1.55"/><circle cx="372.7" cy="292.7" r="1.55"/><circle cx="349.7" cy="299.1" r="1.55"/><circle cx="309.1" cy="285.4" r="1.55"/><circle cx="314.6" cy="257.1" r="1.55"/><circle cx="363.1" cy="293.1" r="1.55"/><circle cx="302.0" cy="285.5" r="1.55"/><circle cx="303.3" cy="266.3" r="1.55"/><circle cx="303.9" cy="268.7" r="1.55"/><circle cx="321.4" cy="293.1" r="1.55"/><circle cx="330.2" cy="297.0" r="1.55"/><circle cx="304.6" cy="254.2" r="1.55"/><circle cx="295.7" cy="276.9" r="1.55"/><circle cx="327.1" cy="295.5" r="1.55"/><circle cx="329.0" cy="289.7" r="1.55"/><circle cx="312.3" cy="255.8" r="1.55"/><circle cx="322.3" cy="269.0" r="1.55"/><circle cx="367.9" cy="275.7" r="1.55"/><circle cx="282.4" cy="285.1" r="1.55"/><circle cx="302.9" cy="259.3" r="1.55"/><circle cx="302.7" cy="250.9" r="1.55"/><circle cx="362.9" cy="279.8" r="1.55"/><circle cx="332.1" cy="287.4" r="1.55"/><circle cx="319.5" cy="286.8" r="1.55"/><circle cx="374.8" cy="291.9" r="1.55"/><circle cx="281.9" cy="292.3" r="1.55"/><circle cx="361.9" cy="302.2" r="1.55"/><circle cx="345.2" cy="283.2" r="1.55"/><circle cx="299.7" cy="272.5" r="1.55"/><circle cx="386.7" cy="291.5" r="1.55"/><circle cx="372.8" cy="295.6" r="1.55"/><circle cx="313.2" cy="246.5" r="1.55"/><circle cx="304.8" cy="288.8" r="1.55"/><circle cx="327.7" cy="291.7" r="1.55"/><circle cx="336.0" cy="301.5" r="1.55"/><circle cx="362.8" cy="286.7" r="1.55"/><circle cx="309.5" cy="292.8" r="1.55"/><circle cx="357.1" cy="292.7" r="1.55"/><circle cx="292.7" cy="278.3" r="1.55"/><circle cx="355.0" cy="292.5" r="1.55"/><circle cx="327.6" cy="289.1" r="1.55"/><circle cx="316.9" cy="261.2" r="1.55"/><circle cx="304.9" cy="292.1" r="1.55"/><circle cx="312.6" cy="242.4" r="1.55"/><circle cx="322.8" cy="298.5" r="1.55"/><circle cx="345.7" cy="304.3" r="1.55"/><circle cx="329.0" cy="291.9" r="1.55"/><circle cx="382.9" cy="302.2" r="1.55"/><circle cx="293.7" cy="282.0" r="1.55"/><circle cx="280.0" cy="284.7" r="1.55"/><circle cx="301.3" cy="262.6" r="1.55"/><circle cx="306.7" cy="249.9" r="1.55"/><circle cx="372.2" cy="293.8" r="1.55"/><circle cx="345.4" cy="298.5" r="1.55"/><circle cx="377.5" cy="283.8" r="1.55"/><circle cx="286.8" cy="276.5" r="1.55"/><circle cx="361.3" cy="280.1" r="1.55"/><circle cx="311.8" cy="252.0" r="1.55"/><circle cx="301.8" cy="248.0" r="1.55"/><circle cx="359.3" cy="283.9" r="1.55"/><circle cx="318.8" cy="296.1" r="1.55"/><circle cx="315.4" cy="294.9" r="1.55"/><circle cx="354.2" cy="301.7" r="1.55"/><circle cx="301.5" cy="279.1" r="1.55"/><circle cx="304.4" cy="287.6" r="1.55"/><circle cx="300.9" cy="268.5" r="1.55"/><circle cx="291.8" cy="269.5" r="1.55"/><circle cx="338.0" cy="305.9" r="1.55"/><circle cx="321.9" cy="268.1" r="1.55"/><circle cx="303.9" cy="210.4" r="1.55"/><circle cx="309.0" cy="207.8" r="1.55"/><circle cx="317.8" cy="291.1" r="1.55"/><circle cx="309.2" cy="286.2" r="1.55"/><circle cx="310.7" cy="282.0" r="1.55"/><circle cx="412.7" cy="303.6" r="1.55"/><circle cx="305.0" cy="230.0" r="1.55"/><circle cx="331.7" cy="273.3" r="1.55"/><circle cx="343.4" cy="302.4" r="1.55"/><circle cx="278.4" cy="276.0" r="1.55"/><circle cx="371.5" cy="285.6" r="1.55"/><circle cx="320.4" cy="293.2" r="1.55"/><circle cx="289.1" cy="278.8" r="1.55"/><circle cx="309.4" cy="239.8" r="1.55"/><circle cx="340.4" cy="290.1" r="1.55"/><circle cx="327.5" cy="304.3" r="1.55"/><circle cx="369.0" cy="310.5" r="1.55"/><circle cx="341.5" cy="260.6" r="1.55"/><circle cx="333.9" cy="292.6" r="1.55"/><circle cx="357.7" cy="294.0" r="1.55"/><circle cx="317.6" cy="297.0" r="1.55"/><circle cx="300.8" cy="271.1" r="1.55"/><circle cx="347.3" cy="286.8" r="1.55"/><circle cx="388.8" cy="297.0" r="1.55"/><circle cx="339.3" cy="290.3" r="1.55"/><circle cx="369.6" cy="290.5" r="1.55"/><circle cx="316.7" cy="276.8" r="1.55"/><circle cx="322.0" cy="300.1" r="1.55"/><circle cx="340.7" cy="279.1" r="1.55"/><circle cx="307.4" cy="227.4" r="1.55"/><circle cx="326.9" cy="293.5" r="1.55"/><circle cx="321.9" cy="274.3" r="1.55"/><circle cx="359.4" cy="301.7" r="1.55"/><circle cx="297.4" cy="279.2" r="1.55"/><circle cx="342.5" cy="294.3" r="1.55"/><circle cx="316.9" cy="284.2" r="1.55"/><circle cx="303.4" cy="275.0" r="1.55"/><circle cx="308.6" cy="249.6" r="1.55"/><circle cx="315.9" cy="261.4" r="1.55"/><circle cx="317.5" cy="267.3" r="1.55"/><circle cx="319.3" cy="277.6" r="1.55"/><circle cx="318.3" cy="265.3" r="1.55"/><circle cx="310.9" cy="257.7" r="1.55"/><circle cx="303.8" cy="246.4" r="1.55"/><circle cx="359.9" cy="296.8" r="1.55"/><circle cx="318.5" cy="290.2" r="1.55"/><circle cx="312.4" cy="238.9" r="1.55"/><circle cx="339.7" cy="291.8" r="1.55"/><circle cx="306.0" cy="271.2" r="1.55"/><circle cx="292.7" cy="283.1" r="1.55"/><circle cx="337.0" cy="296.1" r="1.55"/><circle cx="354.8" cy="303.9" r="1.55"/><circle cx="320.8" cy="280.9" r="1.55"/><circle cx="345.6" cy="289.4" r="1.55"/><circle cx="296.4" cy="235.3" r="1.55"/><circle cx="319.5" cy="289.8" r="1.55"/><circle cx="355.3" cy="304.7" r="1.55"/><circle cx="328.9" cy="295.6" r="1.55"/><circle cx="298.0" cy="266.0" r="1.55"/><circle cx="334.2" cy="281.0" r="1.55"/><circle cx="320.3" cy="290.0" r="1.55"/><circle cx="311.3" cy="266.2" r="1.55"/><circle cx="310.3" cy="291.3" r="1.55"/><circle cx="334.6" cy="296.2" r="1.55"/><circle cx="319.4" cy="296.6" r="1.55"/><circle cx="348.7" cy="303.7" r="1.55"/><circle cx="308.8" cy="243.8" r="1.55"/><circle cx="302.7" cy="269.0" r="1.55"/><circle cx="303.2" cy="251.7" r="1.55"/><circle cx="308.3" cy="242.8" r="1.55"/><circle cx="312.8" cy="252.7" r="1.55"/><circle cx="363.3" cy="303.5" r="1.55"/><circle cx="343.6" cy="293.7" r="1.55"/><circle cx="320.5" cy="276.8" r="1.55"/><circle cx="304.0" cy="275.7" r="1.55"/><circle cx="376.4" cy="295.6" r="1.55"/><circle cx="336.9" cy="283.6" r="1.55"/><circle cx="372.8" cy="285.9" r="1.55"/><circle cx="311.6" cy="279.8" r="1.55"/><circle cx="299.7" cy="291.4" r="1.55"/><circle cx="333.4" cy="278.7" r="1.55"/><circle cx="317.8" cy="280.3" r="1.55"/><circle cx="312.5" cy="277.4" r="1.55"/><circle cx="306.4" cy="260.4" r="1.55"/><circle cx="308.8" cy="240.1" r="1.55"/><circle cx="309.6" cy="244.2" r="1.55"/><circle cx="303.5" cy="244.8" r="1.55"/><circle cx="315.1" cy="296.3" r="1.55"/><circle cx="310.9" cy="246.6" r="1.55"/><circle cx="322.2" cy="253.5" r="1.55"/><circle cx="346.6" cy="275.1" r="1.55"/><circle cx="379.5" cy="301.9" r="1.55"/><circle cx="349.7" cy="304.4" r="1.55"/><circle cx="311.4" cy="260.6" r="1.55"/><circle cx="322.1" cy="266.1" r="1.55"/><circle cx="309.0" cy="252.1" r="1.55"/><circle cx="338.9" cy="283.0" r="1.55"/><circle cx="336.7" cy="303.3" r="1.55"/><circle cx="295.5" cy="282.6" r="1.55"/><circle cx="308.2" cy="265.8" r="1.55"/><circle cx="332.3" cy="288.9" r="1.55"/><circle cx="348.4" cy="296.9" r="1.55"/><circle cx="307.2" cy="257.9" r="1.55"/><circle cx="322.2" cy="239.7" r="1.55"/><circle cx="320.5" cy="300.8" r="1.55"/><circle cx="332.3" cy="289.4" r="1.55"/><circle cx="354.3" cy="301.4" r="1.55"/><circle cx="314.5" cy="261.4" r="1.55"/><circle cx="385.4" cy="299.9" r="1.55"/><circle cx="353.9" cy="302.4" r="1.55"/><circle cx="319.9" cy="299.6" r="1.55"/><circle cx="322.5" cy="276.1" r="1.55"/><circle cx="313.3" cy="249.8" r="1.55"/><circle cx="304.2" cy="250.4" r="1.55"/><circle cx="287.8" cy="286.4" r="1.55"/><circle cx="316.9" cy="296.9" r="1.55"/><circle cx="252.9" cy="283.0" r="1.55"/><circle cx="307.1" cy="237.9" r="1.55"/><circle cx="314.0" cy="244.8" r="1.55"/><circle cx="300.9" cy="258.1" r="1.55"/><circle cx="318.2" cy="265.6" r="1.55"/><circle cx="321.3" cy="231.4" r="1.55"/><circle cx="317.2" cy="274.5" r="1.55"/><circle cx="315.1" cy="285.7" r="1.55"/><circle cx="322.3" cy="231.2" r="1.55"/><circle cx="361.1" cy="291.6" r="1.55"/><circle cx="303.1" cy="240.3" r="1.55"/><circle cx="351.1" cy="296.3" r="1.55"/><circle cx="304.4" cy="282.0" r="1.55"/><circle cx="295.3" cy="270.1" r="1.55"/><circle cx="367.6" cy="288.2" r="1.55"/><circle cx="353.2" cy="290.2" r="1.55"/><circle cx="302.6" cy="254.7" r="1.55"/><circle cx="335.4" cy="279.4" r="1.55"/><circle cx="307.1" cy="227.2" r="1.55"/><circle cx="314.6" cy="265.6" r="1.55"/><circle cx="339.1" cy="289.0" r="1.55"/><circle cx="343.5" cy="283.5" r="1.55"/><circle cx="320.0" cy="297.4" r="1.55"/><circle cx="376.0" cy="287.6" r="1.55"/><circle cx="293.0" cy="276.6" r="1.55"/><circle cx="323.6" cy="283.2" r="1.55"/><circle cx="316.0" cy="275.1" r="1.55"/><circle cx="325.8" cy="300.6" r="1.55"/><circle cx="341.6" cy="277.2" r="1.55"/><circle cx="325.5" cy="288.5" r="1.55"/><circle cx="319.9" cy="274.6" r="1.55"/><circle cx="350.2" cy="284.1" r="1.55"/><circle cx="306.2" cy="246.7" r="1.55"/><circle cx="346.5" cy="297.7" r="1.55"/><circle cx="356.1" cy="303.6" r="1.55"/><circle cx="310.7" cy="249.2" r="1.55"/><circle cx="308.5" cy="243.2" r="1.55"/><circle cx="352.3" cy="301.3" r="1.55"/><circle cx="331.9" cy="279.7" r="1.55"/><circle cx="299.1" cy="280.2" r="1.55"/><circle cx="285.9" cy="244.7" r="1.55"/><circle cx="315.2" cy="301.5" r="1.55"/><circle cx="310.1" cy="289.6" r="1.55"/><circle cx="362.2" cy="300.6" r="1.55"/><circle cx="300.5" cy="263.1" r="1.55"/><circle cx="336.8" cy="300.7" r="1.55"/><circle cx="336.5" cy="303.9" r="1.55"/><circle cx="324.3" cy="285.1" r="1.55"/><circle cx="306.3" cy="268.2" r="1.55"/><circle cx="337.9" cy="285.8" r="1.55"/><circle cx="321.6" cy="286.2" r="1.55"/><circle cx="301.1" cy="250.7" r="1.55"/><circle cx="305.4" cy="272.6" r="1.55"/><circle cx="392.0" cy="298.9" r="1.55"/><circle cx="316.4" cy="264.6" r="1.55"/><circle cx="315.8" cy="267.0" r="1.55"/><circle cx="308.4" cy="280.7" r="1.55"/><circle cx="304.3" cy="285.7" r="1.55"/><circle cx="304.4" cy="252.3" r="1.55"/><circle cx="310.2" cy="245.7" r="1.55"/><circle cx="325.1" cy="301.8" r="1.55"/><circle cx="336.7" cy="290.8" r="1.55"/><circle cx="303.1" cy="247.9" r="1.55"/><circle cx="322.8" cy="289.9" r="1.55"/><circle cx="353.2" cy="280.4" r="1.55"/><circle cx="333.6" cy="288.9" r="1.55"/><circle cx="313.6" cy="248.0" r="1.55"/><circle cx="348.2" cy="293.5" r="1.55"/><circle cx="303.2" cy="243.7" r="1.55"/><circle cx="308.8" cy="232.9" r="1.55"/><circle cx="316.8" cy="298.9" r="1.55"/><circle cx="312.5" cy="260.3" r="1.55"/><circle cx="361.2" cy="290.4" r="1.55"/><circle cx="306.3" cy="255.7" r="1.55"/><circle cx="304.4" cy="225.7" r="1.55"/><circle cx="343.2" cy="304.3" r="1.55"/><circle cx="330.1" cy="285.2" r="1.55"/><circle cx="368.4" cy="297.7" r="1.55"/><circle cx="327.6" cy="299.3" r="1.55"/><circle cx="334.1" cy="291.5" r="1.55"/><circle cx="312.2" cy="250.0" r="1.55"/><circle cx="348.4" cy="283.7" r="1.55"/><circle cx="321.9" cy="268.2" r="1.55"/><circle cx="383.8" cy="295.8" r="1.55"/><circle cx="321.7" cy="287.2" r="1.55"/><circle cx="313.1" cy="248.1" r="1.55"/><circle cx="318.8" cy="268.2" r="1.55"/><circle cx="305.6" cy="264.3" r="1.55"/><circle cx="320.1" cy="272.0" r="1.55"/><circle cx="314.6" cy="264.8" r="1.55"/><circle cx="316.8" cy="300.3" r="1.55"/><circle cx="337.5" cy="258.4" r="1.55"/><circle cx="369.7" cy="283.6" r="1.55"/><circle cx="313.2" cy="245.8" r="1.55"/><circle cx="309.0" cy="244.3" r="1.55"/><circle cx="341.6" cy="291.8" r="1.55"/><circle cx="316.5" cy="282.7" r="1.55"/><circle cx="302.4" cy="250.8" r="1.55"/><circle cx="351.5" cy="292.0" r="1.55"/><circle cx="366.4" cy="283.4" r="1.55"/><circle cx="306.4" cy="248.2" r="1.55"/><circle cx="323.4" cy="298.5" r="1.55"/><circle cx="348.4" cy="300.0" r="1.55"/><circle cx="322.5" cy="246.7" r="1.55"/><circle cx="305.7" cy="268.4" r="1.55"/><circle cx="360.9" cy="289.7" r="1.55"/><circle cx="279.4" cy="281.5" r="1.55"/><circle cx="333.7" cy="302.4" r="1.55"/><circle cx="321.4" cy="275.7" r="1.55"/><circle cx="314.3" cy="263.8" r="1.55"/><circle cx="312.1" cy="260.8" r="1.55"/><circle cx="310.1" cy="251.1" r="1.55"/><circle cx="315.9" cy="259.8" r="1.55"/><circle cx="283.4" cy="286.7" r="1.55"/><circle cx="286.6" cy="291.3" r="1.55"/><circle cx="303.7" cy="281.5" r="1.55"/><circle cx="307.8" cy="249.8" r="1.55"/><circle cx="369.6" cy="294.2" r="1.55"/><circle cx="355.8" cy="304.2" r="1.55"/><circle cx="268.7" cy="272.7" r="1.55"/><circle cx="334.9" cy="292.0" r="1.55"/><circle cx="333.3" cy="278.7" r="1.55"/><circle cx="298.1" cy="269.7" r="1.55"/><circle cx="319.2" cy="295.6" r="1.55"/><circle cx="306.8" cy="257.4" r="1.55"/><circle cx="307.2" cy="239.4" r="1.55"/><circle cx="296.5" cy="276.1" r="1.55"/><circle cx="349.6" cy="288.7" r="1.55"/><circle cx="347.0" cy="295.5" r="1.55"/><circle cx="306.3" cy="281.7" r="1.55"/><circle cx="318.4" cy="270.7" r="1.55"/><circle cx="305.7" cy="275.4" r="1.55"/><circle cx="317.1" cy="274.2" r="1.55"/><circle cx="365.2" cy="297.3" r="1.55"/><circle cx="313.8" cy="248.3" r="1.55"/><circle cx="301.0" cy="241.7" r="1.55"/><circle cx="353.7" cy="301.9" r="1.55"/><circle cx="298.8" cy="281.6" r="1.55"/><circle cx="317.7" cy="264.8" r="1.55"/><circle cx="319.8" cy="285.2" r="1.55"/><circle cx="300.6" cy="238.1" r="1.55"/><circle cx="327.1" cy="299.8" r="1.55"/><circle cx="300.5" cy="255.3" r="1.55"/><circle cx="344.3" cy="303.2" r="1.55"/><circle cx="312.0" cy="245.1" r="1.55"/><circle cx="321.9" cy="234.9" r="1.55"/><circle cx="304.1" cy="224.3" r="1.55"/><circle cx="338.3" cy="293.9" r="1.55"/><circle cx="319.2" cy="279.0" r="1.55"/><circle cx="365.4" cy="304.2" r="1.55"/><circle cx="328.7" cy="295.8" r="1.55"/><circle cx="321.9" cy="279.8" r="1.55"/><circle cx="321.2" cy="288.3" r="1.55"/><circle cx="314.9" cy="254.7" r="1.55"/><circle cx="307.4" cy="280.5" r="1.55"/><circle cx="364.8" cy="298.4" r="1.55"/><circle cx="293.1" cy="284.6" r="1.55"/><circle cx="387.1" cy="298.7" r="1.55"/><circle cx="326.5" cy="302.6" r="1.55"/><circle cx="345.0" cy="295.7" r="1.55"/><circle cx="332.1" cy="301.2" r="1.55"/><circle cx="353.7" cy="299.8" r="1.55"/><circle cx="326.2" cy="278.2" r="1.55"/><circle cx="308.5" cy="289.1" r="1.55"/><circle cx="319.0" cy="271.1" r="1.55"/><circle cx="351.5" cy="287.6" r="1.55"/><circle cx="351.7" cy="287.6" r="1.55"/><circle cx="358.3" cy="299.4" r="1.55"/><circle cx="354.1" cy="292.3" r="1.55"/><circle cx="325.0" cy="270.9" r="1.55"/><circle cx="353.2" cy="297.4" r="1.55"/><circle cx="355.0" cy="300.3" r="1.55"/><circle cx="300.6" cy="223.2" r="1.55"/><circle cx="313.2" cy="255.2" r="1.55"/><circle cx="345.0" cy="286.5" r="1.55"/><circle cx="373.1" cy="300.4" r="1.55"/><circle cx="349.0" cy="290.6" r="1.55"/><circle cx="369.5" cy="252.4" r="1.55"/><circle cx="318.8" cy="265.7" r="1.55"/><circle cx="313.3" cy="275.5" r="1.55"/><circle cx="327.7" cy="280.7" r="1.55"/><circle cx="306.1" cy="286.5" r="1.55"/><circle cx="329.8" cy="296.3" r="1.55"/><circle cx="366.0" cy="294.0" r="1.55"/><circle cx="281.1" cy="278.4" r="1.55"/><circle cx="343.0" cy="282.6" r="1.55"/><circle cx="302.6" cy="247.1" r="1.55"/><circle cx="388.1" cy="291.6" r="1.55"/><circle cx="355.2" cy="293.6" r="1.55"/><circle cx="344.8" cy="314.2" r="1.55"/><circle cx="308.3" cy="260.2" r="1.55"/><circle cx="381.4" cy="294.9" r="1.55"/><circle cx="365.3" cy="302.4" r="1.55"/><circle cx="311.4" cy="246.8" r="1.55"/><circle cx="320.9" cy="304.3" r="1.55"/><circle cx="356.3" cy="285.2" r="1.55"/><circle cx="291.2" cy="286.0" r="1.55"/><circle cx="380.3" cy="301.4" r="1.55"/><circle cx="301.6" cy="258.2" r="1.55"/><circle cx="314.2" cy="281.1" r="1.55"/><circle cx="293.4" cy="281.0" r="1.55"/><circle cx="310.5" cy="264.4" r="1.55"/><circle cx="317.2" cy="260.3" r="1.55"/><circle cx="356.5" cy="295.7" r="1.55"/><circle cx="295.1" cy="246.3" r="1.55"/><circle cx="345.1" cy="290.8" r="1.55"/><circle cx="309.9" cy="246.6" r="1.55"/><circle cx="325.3" cy="282.6" r="1.55"/><circle cx="328.0" cy="301.4" r="1.55"/><circle cx="310.5" cy="244.7" r="1.55"/><circle cx="302.6" cy="236.7" r="1.55"/><circle cx="319.2" cy="272.8" r="1.55"/><circle cx="298.6" cy="285.6" r="1.55"/><circle cx="316.2" cy="263.5" r="1.55"/><circle cx="354.4" cy="306.5" r="1.55"/><circle cx="355.8" cy="293.7" r="1.55"/><circle cx="325.5" cy="297.4" r="1.55"/><circle cx="327.8" cy="291.9" r="1.55"/><circle cx="365.5" cy="301.1" r="1.55"/><circle cx="328.0" cy="293.5" r="1.55"/><circle cx="316.5" cy="258.8" r="1.55"/><circle cx="359.7" cy="305.0" r="1.55"/><circle cx="307.3" cy="257.1" r="1.55"/><circle cx="307.0" cy="250.1" r="1.55"/><circle cx="313.7" cy="293.9" r="1.55"/><circle cx="287.7" cy="273.7" r="1.55"/><circle cx="364.5" cy="297.3" r="1.55"/><circle cx="298.0" cy="244.1" r="1.55"/><circle cx="324.1" cy="276.3" r="1.55"/><circle cx="320.5" cy="281.7" r="1.55"/><circle cx="345.2" cy="285.5" r="1.55"/><circle cx="312.0" cy="257.0" r="1.55"/><circle cx="345.8" cy="299.0" r="1.55"/><circle cx="306.8" cy="235.9" r="1.55"/><circle cx="327.1" cy="304.9" r="1.55"/><circle cx="386.3" cy="290.8" r="1.55"/><circle cx="315.7" cy="257.0" r="1.55"/><circle cx="321.4" cy="276.5" r="1.55"/><circle cx="340.1" cy="290.9" r="1.55"/><circle cx="310.9" cy="248.7" r="1.55"/><circle cx="340.1" cy="278.1" r="1.55"/><circle cx="302.4" cy="234.1" r="1.55"/><circle cx="314.3" cy="275.9" r="1.55"/><circle cx="326.6" cy="290.5" r="1.55"/><circle cx="358.2" cy="283.9" r="1.55"/><circle cx="352.2" cy="302.9" r="1.55"/><circle cx="315.3" cy="258.3" r="1.55"/><circle cx="333.7" cy="283.8" r="1.55"/><circle cx="352.7" cy="284.7" r="1.55"/><circle cx="334.3" cy="296.4" r="1.55"/><circle cx="420.8" cy="305.7" r="1.55"/><circle cx="338.5" cy="293.3" r="1.55"/><circle cx="355.5" cy="299.4" r="1.55"/><circle cx="333.3" cy="289.2" r="1.55"/><circle cx="311.5" cy="272.5" r="1.55"/><circle cx="357.9" cy="297.1" r="1.55"/><circle cx="309.4" cy="282.3" r="1.55"/><circle cx="295.5" cy="288.5" r="1.55"/><circle cx="314.7" cy="261.3" r="1.55"/><circle cx="333.3" cy="294.5" r="1.55"/><circle cx="317.9" cy="269.7" r="1.55"/><circle cx="314.4" cy="252.2" r="1.55"/><circle cx="295.8" cy="282.9" r="1.55"/><circle cx="310.9" cy="272.6" r="1.55"/><circle cx="305.7" cy="205.6" r="1.55"/><circle cx="319.2" cy="269.5" r="1.55"/><circle cx="309.4" cy="255.7" r="1.55"/><circle cx="314.4" cy="282.1" r="1.55"/><circle cx="321.3" cy="301.2" r="1.55"/><circle cx="343.0" cy="295.9" r="1.55"/><circle cx="309.1" cy="242.0" r="1.55"/><circle cx="292.0" cy="282.3" r="1.55"/><circle cx="335.3" cy="281.8" r="1.55"/><circle cx="375.6" cy="297.7" r="1.55"/><circle cx="310.9" cy="250.2" r="1.55"/><circle cx="308.2" cy="241.4" r="1.55"/><circle cx="312.9" cy="255.2" r="1.55"/><circle cx="382.4" cy="302.7" r="1.55"/><circle cx="313.6" cy="251.0" r="1.55"/><circle cx="318.0" cy="286.3" r="1.55"/><circle cx="315.7" cy="264.6" r="1.55"/><circle cx="383.2" cy="285.6" r="1.55"/><circle cx="334.3" cy="278.2" r="1.55"/><circle cx="310.0" cy="270.9" r="1.55"/><circle cx="425.4" cy="303.6" r="1.55"/><circle cx="312.7" cy="256.0" r="1.55"/><circle cx="313.0" cy="269.4" r="1.55"/><circle cx="364.2" cy="285.2" r="1.55"/><circle cx="310.1" cy="242.8" r="1.55"/><circle cx="311.9" cy="253.5" r="1.55"/><circle cx="308.7" cy="227.5" r="1.55"/><circle cx="315.6" cy="269.6" r="1.55"/><circle cx="373.6" cy="281.2" r="1.55"/><circle cx="299.5" cy="279.1" r="1.55"/><circle cx="301.3" cy="246.2" r="1.55"/><circle cx="304.4" cy="276.2" r="1.55"/><circle cx="318.3" cy="282.8" r="1.55"/><circle cx="302.9" cy="228.3" r="1.55"/><circle cx="364.4" cy="282.8" r="1.55"/><circle cx="334.7" cy="290.9" r="1.55"/><circle cx="304.3" cy="259.9" r="1.55"/><circle cx="322.4" cy="286.8" r="1.55"/><circle cx="298.1" cy="264.2" r="1.55"/><circle cx="307.1" cy="244.7" r="1.55"/><circle cx="368.8" cy="308.2" r="1.55"/><circle cx="346.4" cy="291.5" r="1.55"/><circle cx="371.3" cy="280.6" r="1.55"/><circle cx="353.9" cy="287.3" r="1.55"/><circle cx="375.9" cy="300.3" r="1.55"/><circle cx="335.0" cy="304.2" r="1.55"/><circle cx="370.1" cy="298.4" r="1.55"/><circle cx="315.9" cy="269.3" r="1.55"/><circle cx="354.2" cy="296.0" r="1.55"/><circle cx="315.7" cy="261.7" r="1.55"/><circle cx="380.9" cy="286.4" r="1.55"/><circle cx="350.1" cy="283.4" r="1.55"/><circle cx="337.5" cy="297.5" r="1.55"/><circle cx="335.3" cy="304.5" r="1.55"/><circle cx="307.0" cy="257.2" r="1.55"/><circle cx="315.5" cy="251.6" r="1.55"/><circle cx="331.5" cy="294.0" r="1.55"/><circle cx="314.4" cy="288.4" r="1.55"/><circle cx="322.1" cy="236.1" r="1.55"/><circle cx="326.2" cy="290.0" r="1.55"/><circle cx="306.8" cy="296.8" r="1.55"/><circle cx="291.4" cy="298.8" r="1.55"/><circle cx="341.4" cy="260.9" r="1.55"/><circle cx="309.4" cy="217.0" r="1.55"/><circle cx="309.1" cy="244.1" r="1.55"/><circle cx="387.1" cy="292.1" r="1.55"/><circle cx="321.8" cy="273.6" r="1.55"/><circle cx="374.5" cy="301.7" r="1.55"/><circle cx="319.8" cy="271.5" r="1.55"/><circle cx="340.3" cy="288.0" r="1.55"/><circle cx="308.2" cy="259.3" r="1.55"/><circle cx="287.1" cy="270.6" r="1.55"/><circle cx="298.5" cy="269.3" r="1.55"/><circle cx="323.7" cy="295.0" r="1.55"/><circle cx="318.3" cy="300.3" r="1.55"/><circle cx="289.6" cy="240.1" r="1.55"/><circle cx="317.3" cy="266.8" r="1.55"/><circle cx="299.3" cy="276.3" r="1.55"/><circle cx="279.2" cy="285.0" r="1.55"/><circle cx="305.0" cy="239.4" r="1.55"/><circle cx="319.0" cy="270.9" r="1.55"/><circle cx="333.9" cy="274.2" r="1.55"/><circle cx="352.7" cy="304.4" r="1.55"/><circle cx="339.0" cy="286.3" r="1.55"/><circle cx="315.2" cy="263.2" r="1.55"/><circle cx="297.7" cy="270.4" r="1.55"/><circle cx="359.7" cy="292.3" r="1.55"/><circle cx="322.5" cy="268.5" r="1.55"/><circle cx="356.4" cy="298.6" r="1.55"/><circle cx="304.8" cy="264.5" r="1.55"/><circle cx="357.9" cy="288.4" r="1.55"/><circle cx="323.2" cy="298.3" r="1.55"/><circle cx="344.9" cy="287.1" r="1.55"/><circle cx="297.0" cy="287.2" r="1.55"/><circle cx="305.4" cy="266.3" r="1.55"/><circle cx="305.4" cy="289.8" r="1.55"/><circle cx="322.8" cy="299.7" r="1.55"/><circle cx="350.4" cy="303.1" r="1.55"/><circle cx="308.9" cy="242.7" r="1.55"/><circle cx="355.8" cy="291.3" r="1.55"/><circle cx="337.9" cy="302.3" r="1.55"/><circle cx="313.7" cy="257.9" r="1.55"/><circle cx="369.1" cy="279.3" r="1.55"/><circle cx="311.4" cy="254.3" r="1.55"/><circle cx="331.0" cy="293.0" r="1.55"/><circle cx="303.8" cy="241.4" r="1.55"/><circle cx="307.3" cy="236.5" r="1.55"/><circle cx="369.3" cy="304.3" r="1.55"/><circle cx="318.9" cy="298.3" r="1.55"/><circle cx="328.8" cy="277.7" r="1.55"/><circle cx="342.2" cy="293.3" r="1.55"/><circle cx="308.0" cy="250.4" r="1.55"/><circle cx="378.2" cy="300.4" r="1.55"/><circle cx="343.3" cy="294.4" r="1.55"/><circle cx="339.0" cy="302.9" r="1.55"/><circle cx="311.3" cy="251.8" r="1.55"/><circle cx="355.3" cy="301.9" r="1.55"/><circle cx="292.7" cy="278.2" r="1.55"/><circle cx="312.7" cy="259.0" r="1.55"/><circle cx="308.6" cy="263.7" r="1.55"/><circle cx="306.3" cy="243.4" r="1.55"/><circle cx="317.8" cy="265.1" r="1.55"/><circle cx="344.3" cy="290.9" r="1.55"/><circle cx="313.0" cy="253.9" r="1.55"/><circle cx="322.3" cy="247.1" r="1.55"/><circle cx="324.3" cy="289.6" r="1.55"/><circle cx="354.1" cy="305.2" r="1.55"/><circle cx="376.2" cy="282.9" r="1.55"/><circle cx="338.7" cy="301.3" r="1.55"/><circle cx="331.0" cy="287.9" r="1.55"/><circle cx="309.8" cy="243.2" r="1.55"/><circle cx="314.8" cy="284.8" r="1.55"/><circle cx="362.9" cy="291.1" r="1.55"/><circle cx="306.0" cy="261.9" r="1.55"/><circle cx="355.2" cy="293.9" r="1.55"/><circle cx="320.1" cy="281.0" r="1.55"/><circle cx="310.5" cy="262.0" r="1.55"/><circle cx="325.8" cy="293.6" r="1.55"/><circle cx="317.8" cy="287.8" r="1.55"/><circle cx="322.5" cy="229.9" r="1.55"/><circle cx="336.3" cy="293.8" r="1.55"/><circle cx="311.3" cy="234.5" r="1.55"/><circle cx="331.9" cy="297.8" r="1.55"/><circle cx="338.0" cy="258.4" r="1.55"/><circle cx="299.8" cy="268.0" r="1.55"/><circle cx="304.8" cy="255.0" r="1.55"/><circle cx="317.9" cy="291.4" r="1.55"/><circle cx="318.1" cy="289.7" r="1.55"/><circle cx="322.2" cy="244.5" r="1.55"/><circle cx="319.7" cy="299.7" r="1.55"/><circle cx="312.9" cy="276.1" r="1.55"/><circle cx="307.5" cy="276.0" r="1.55"/><circle cx="374.6" cy="292.8" r="1.55"/><circle cx="388.5" cy="297.3" r="1.55"/><circle cx="397.5" cy="299.8" r="1.55"/><circle cx="301.0" cy="266.9" r="1.55"/><circle cx="290.9" cy="280.2" r="1.55"/><circle cx="334.4" cy="292.0" r="1.55"/><circle cx="334.2" cy="296.2" r="1.55"/><circle cx="359.9" cy="285.7" r="1.55"/><circle cx="305.8" cy="242.7" r="1.55"/><circle cx="318.1" cy="290.7" r="1.55"/><circle cx="314.6" cy="277.0" r="1.55"/><circle cx="359.3" cy="301.8" r="1.55"/><circle cx="296.2" cy="283.8" r="1.55"/><circle cx="341.3" cy="278.3" r="1.55"/><circle cx="306.2" cy="257.5" r="1.55"/><circle cx="302.4" cy="257.5" r="1.55"/><circle cx="369.1" cy="304.4" r="1.55"/><circle cx="323.6" cy="297.6" r="1.55"/><circle cx="312.4" cy="285.9" r="1.55"/><circle cx="310.9" cy="290.3" r="1.55"/><circle cx="371.4" cy="290.5" r="1.55"/><circle cx="366.0" cy="296.3" r="1.55"/><circle cx="328.7" cy="279.6" r="1.55"/><circle cx="311.3" cy="249.6" r="1.55"/><circle cx="343.5" cy="298.1" r="1.55"/><circle cx="308.5" cy="247.3" r="1.55"/><circle cx="312.3" cy="291.9" r="1.55"/><circle cx="340.3" cy="299.5" r="1.55"/><circle cx="312.1" cy="248.6" r="1.55"/><circle cx="347.7" cy="297.8" r="1.55"/><circle cx="323.9" cy="291.8" r="1.55"/><circle cx="337.4" cy="284.1" r="1.55"/><circle cx="362.9" cy="302.4" r="1.55"/><circle cx="347.0" cy="279.1" r="1.55"/><circle cx="341.8" cy="280.3" r="1.55"/><circle cx="317.8" cy="300.6" r="1.55"/><circle cx="315.7" cy="277.8" r="1.55"/><circle cx="304.7" cy="272.7" r="1.55"/><circle cx="317.7" cy="292.0" r="1.55"/><circle cx="322.4" cy="298.7" r="1.55"/><circle cx="379.1" cy="291.9" r="1.55"/><circle cx="410.2" cy="291.3" r="1.55"/><circle cx="352.7" cy="288.4" r="1.55"/><circle cx="310.4" cy="253.3" r="1.55"/><circle cx="304.9" cy="258.1" r="1.55"/><circle cx="358.6" cy="301.7" r="1.55"/><circle cx="328.1" cy="296.6" r="1.55"/><circle cx="316.7" cy="283.5" r="1.55"/><circle cx="313.7" cy="255.6" r="1.55"/><circle cx="322.3" cy="290.0" r="1.55"/><circle cx="317.6" cy="264.0" r="1.55"/><circle cx="314.0" cy="260.0" r="1.55"/><circle cx="365.2" cy="301.6" r="1.55"/><circle cx="325.5" cy="300.9" r="1.55"/><circle cx="322.2" cy="227.8" r="1.55"/><circle cx="347.6" cy="282.2" r="1.55"/><circle cx="328.9" cy="295.8" r="1.55"/><circle cx="319.0" cy="302.2" r="1.55"/><circle cx="344.6" cy="305.7" r="1.55"/><circle cx="303.6" cy="251.2" r="1.55"/><circle cx="312.4" cy="256.2" r="1.55"/><circle cx="331.4" cy="290.5" r="1.55"/><circle cx="310.0" cy="278.5" r="1.55"/><circle cx="302.5" cy="253.6" r="1.55"/><circle cx="315.2" cy="300.5" r="1.55"/><circle cx="356.5" cy="299.2" r="1.55"/><circle cx="313.8" cy="260.8" r="1.55"/><circle cx="336.1" cy="306.1" r="1.55"/><circle cx="348.3" cy="290.1" r="1.55"/><circle cx="324.6" cy="286.4" r="1.55"/><circle cx="302.7" cy="286.0" r="1.55"/><circle cx="334.0" cy="298.1" r="1.55"/><circle cx="308.6" cy="250.8" r="1.55"/><circle cx="302.9" cy="227.3" r="1.55"/><circle cx="313.4" cy="274.4" r="1.55"/><circle cx="385.5" cy="288.6" r="1.55"/><circle cx="332.1" cy="293.2" r="1.55"/><circle cx="312.6" cy="237.0" r="1.55"/><circle cx="318.1" cy="300.3" r="1.55"/><circle cx="300.5" cy="226.7" r="1.55"/><circle cx="309.0" cy="282.9" r="1.55"/><circle cx="315.0" cy="257.9" r="1.55"/><circle cx="338.3" cy="292.5" r="1.55"/><circle cx="306.7" cy="245.8" r="1.55"/><circle cx="298.3" cy="280.8" r="1.55"/><circle cx="353.0" cy="295.6" r="1.55"/><circle cx="314.9" cy="251.9" r="1.55"/><circle cx="332.1" cy="295.0" r="1.55"/><circle cx="369.5" cy="297.8" r="1.55"/><circle cx="365.6" cy="287.9" r="1.55"/><circle cx="304.6" cy="229.9" r="1.55"/><circle cx="298.6" cy="279.3" r="1.55"/><circle cx="316.9" cy="265.0" r="1.55"/><circle cx="301.1" cy="249.3" r="1.55"/><circle cx="302.7" cy="290.5" r="1.55"/><circle cx="315.8" cy="293.4" r="1.55"/><circle cx="342.1" cy="297.2" r="1.55"/><circle cx="309.8" cy="292.1" r="1.55"/><circle cx="311.3" cy="241.3" r="1.55"/><circle cx="298.7" cy="284.8" r="1.55"/><circle cx="322.9" cy="300.5" r="1.55"/><circle cx="331.8" cy="278.3" r="1.55"/><circle cx="315.9" cy="283.7" r="1.55"/><circle cx="306.4" cy="288.9" r="1.55"/><circle cx="338.6" cy="286.2" r="1.55"/><circle cx="374.0" cy="287.0" r="1.55"/><circle cx="281.0" cy="275.4" r="1.55"/><circle cx="368.9" cy="293.1" r="1.55"/><circle cx="300.1" cy="285.7" r="1.55"/><circle cx="337.0" cy="274.4" r="1.55"/><circle cx="310.8" cy="242.7" r="1.55"/><circle cx="338.2" cy="294.8" r="1.55"/><circle cx="319.1" cy="287.2" r="1.55"/><circle cx="330.6" cy="298.0" r="1.55"/><circle cx="298.0" cy="303.9" r="1.55"/><circle cx="312.5" cy="276.3" r="1.55"/><circle cx="319.5" cy="286.2" r="1.55"/><circle cx="252.9" cy="279.0" r="1.55"/><circle cx="370.5" cy="296.8" r="1.55"/><circle cx="378.7" cy="294.5" r="1.55"/><circle cx="358.1" cy="283.6" r="1.55"/><circle cx="320.2" cy="295.5" r="1.55"/><circle cx="356.4" cy="299.7" r="1.55"/><circle cx="316.9" cy="262.9" r="1.55"/><circle cx="352.5" cy="298.0" r="1.55"/><circle cx="276.9" cy="298.8" r="1.55"/><circle cx="349.9" cy="289.4" r="1.55"/><circle cx="260.6" cy="282.5" r="1.55"/><circle cx="315.1" cy="292.9" r="1.55"/><circle cx="317.2" cy="268.4" r="1.55"/><circle cx="355.4" cy="286.2" r="1.55"/><circle cx="313.4" cy="209.6" r="1.55"/><circle cx="305.3" cy="252.0" r="1.55"/><circle cx="293.0" cy="281.1" r="1.55"/><circle cx="350.0" cy="305.7" r="1.55"/><circle cx="359.0" cy="281.1" r="1.55"/><circle cx="370.6" cy="296.2" r="1.55"/><circle cx="316.0" cy="261.4" r="1.55"/><circle cx="323.0" cy="292.8" r="1.55"/><circle cx="326.9" cy="286.1" r="1.55"/><circle cx="316.5" cy="263.7" r="1.55"/><circle cx="317.1" cy="293.2" r="1.55"/><circle cx="314.2" cy="268.9" r="1.55"/><circle cx="304.3" cy="228.4" r="1.55"/><circle cx="285.5" cy="290.9" r="1.55"/><circle cx="367.0" cy="293.8" r="1.55"/><circle cx="311.6" cy="263.6" r="1.55"/><circle cx="344.0" cy="291.7" r="1.55"/><circle cx="335.4" cy="298.3" r="1.55"/><circle cx="359.7" cy="305.5" r="1.55"/><circle cx="295.7" cy="267.9" r="1.55"/><circle cx="314.2" cy="252.0" r="1.55"/><circle cx="299.6" cy="266.2" r="1.55"/><circle cx="305.8" cy="248.1" r="1.55"/><circle cx="315.9" cy="270.0" r="1.55"/><circle cx="302.9" cy="253.3" r="1.55"/><circle cx="296.0" cy="279.6" r="1.55"/><circle cx="368.7" cy="293.3" r="1.55"/><circle cx="334.8" cy="304.9" r="1.55"/><circle cx="321.6" cy="286.3" r="1.55"/><circle cx="308.3" cy="242.7" r="1.55"/><circle cx="302.7" cy="289.3" r="1.55"/><circle cx="311.4" cy="260.0" r="1.55"/><circle cx="317.1" cy="261.2" r="1.55"/><circle cx="385.2" cy="293.4" r="1.55"/><circle cx="320.8" cy="298.2" r="1.55"/><circle cx="315.4" cy="296.4" r="1.55"/><circle cx="310.4" cy="281.0" r="1.55"/><circle cx="316.4" cy="299.1" r="1.55"/><circle cx="308.1" cy="280.8" r="1.55"/><circle cx="305.7" cy="289.9" r="1.55"/><circle cx="315.5" cy="290.1" r="1.55"/><circle cx="370.0" cy="300.4" r="1.55"/><circle cx="358.1" cy="283.7" r="1.55"/><circle cx="309.6" cy="273.5" r="1.55"/><circle cx="365.6" cy="279.5" r="1.55"/><circle cx="313.2" cy="266.7" r="1.55"/><circle cx="359.7" cy="279.4" r="1.55"/><circle cx="348.1" cy="303.7" r="1.55"/><circle cx="311.0" cy="251.2" r="1.55"/><circle cx="326.6" cy="288.4" r="1.55"/><circle cx="302.2" cy="283.2" r="1.55"/><circle cx="305.7" cy="261.0" r="1.55"/><circle cx="326.0" cy="270.5" r="1.55"/><circle cx="297.5" cy="287.6" r="1.55"/><circle cx="313.3" cy="229.1" r="1.55"/><circle cx="320.7" cy="295.3" r="1.55"/><circle cx="315.1" cy="279.4" r="1.55"/><circle cx="312.8" cy="245.5" r="1.55"/><circle cx="310.4" cy="259.8" r="1.55"/><circle cx="338.5" cy="276.4" r="1.55"/><circle cx="354.2" cy="296.6" r="1.55"/><circle cx="313.1" cy="255.4" r="1.55"/><circle cx="372.8" cy="278.6" r="1.55"/><circle cx="343.6" cy="280.7" r="1.55"/><circle cx="301.3" cy="248.5" r="1.55"/><circle cx="323.0" cy="285.9" r="1.55"/><circle cx="342.1" cy="291.2" r="1.55"/><circle cx="347.5" cy="300.8" r="1.55"/><circle cx="372.1" cy="279.7" r="1.55"/><circle cx="315.0" cy="293.7" r="1.55"/><circle cx="323.1" cy="293.4" r="1.55"/><circle cx="299.5" cy="270.1" r="1.55"/><circle cx="311.5" cy="245.9" r="1.55"/><circle cx="336.9" cy="296.9" r="1.55"/><circle cx="306.1" cy="234.3" r="1.55"/><circle cx="312.8" cy="252.7" r="1.55"/><circle cx="315.0" cy="260.4" r="1.55"/><circle cx="294.0" cy="285.8" r="1.55"/><circle cx="311.3" cy="271.5" r="1.55"/><circle cx="358.4" cy="302.5" r="1.55"/><circle cx="374.8" cy="298.0" r="1.55"/><circle cx="314.5" cy="260.3" r="1.55"/><circle cx="324.5" cy="298.2" r="1.55"/><circle cx="310.7" cy="237.3" r="1.55"/><circle cx="353.2" cy="300.8" r="1.55"/><circle cx="345.3" cy="297.7" r="1.55"/><circle cx="311.1" cy="244.7" r="1.55"/><circle cx="292.5" cy="250.2" r="1.55"/><circle cx="308.4" cy="287.9" r="1.55"/><circle cx="341.2" cy="306.7" r="1.55"/><circle cx="310.8" cy="252.0" r="1.55"/><circle cx="309.7" cy="259.5" r="1.55"/><circle cx="352.0" cy="296.9" r="1.55"/><circle cx="310.2" cy="249.6" r="1.55"/><circle cx="326.4" cy="294.1" r="1.55"/><circle cx="316.3" cy="296.4" r="1.55"/><circle cx="358.5" cy="293.1" r="1.55"/><circle cx="347.9" cy="298.4" r="1.55"/><circle cx="303.9" cy="277.9" r="1.55"/><circle cx="338.0" cy="299.0" r="1.55"/><circle cx="307.1" cy="270.6" r="1.55"/><circle cx="333.3" cy="297.9" r="1.55"/><circle cx="322.8" cy="289.5" r="1.55"/><circle cx="316.2" cy="261.3" r="1.55"/><circle cx="343.9" cy="299.6" r="1.55"/><circle cx="336.5" cy="278.4" r="1.55"/><circle cx="294.0" cy="301.7" r="1.55"/><circle cx="379.9" cy="296.6" r="1.55"/><circle cx="333.3" cy="343.1" r="1.55"/><circle cx="320.6" cy="293.6" r="1.55"/><circle cx="350.4" cy="301.8" r="1.55"/><circle cx="333.2" cy="304.1" r="1.55"/><circle cx="298.3" cy="272.0" r="1.55"/><circle cx="302.3" cy="287.4" r="1.55"/><circle cx="329.9" cy="305.2" r="1.55"/><circle cx="305.1" cy="229.4" r="1.55"/><circle cx="308.5" cy="243.2" r="1.55"/><circle cx="373.4" cy="291.9" r="1.55"/><circle cx="328.4" cy="298.8" r="1.55"/><circle cx="324.4" cy="304.5" r="1.55"/><circle cx="295.8" cy="278.3" r="1.55"/><circle cx="339.6" cy="301.4" r="1.55"/><circle cx="305.1" cy="239.2" r="1.55"/><circle cx="343.0" cy="284.4" r="1.55"/><circle cx="354.7" cy="292.0" r="1.55"/><circle cx="318.5" cy="266.9" r="1.55"/><circle cx="311.0" cy="250.0" r="1.55"/><circle cx="384.3" cy="301.7" r="1.55"/><circle cx="360.6" cy="285.3" r="1.55"/><circle cx="330.8" cy="286.5" r="1.55"/><circle cx="315.6" cy="257.4" r="1.55"/><circle cx="314.2" cy="247.7" r="1.55"/><circle cx="318.3" cy="279.1" r="1.55"/><circle cx="360.5" cy="305.3" r="1.55"/><circle cx="307.5" cy="240.1" r="1.55"/><circle cx="308.5" cy="251.1" r="1.55"/><circle cx="319.5" cy="304.9" r="1.55"/><circle cx="308.8" cy="253.7" r="1.55"/><circle cx="302.5" cy="271.4" r="1.55"/><circle cx="389.4" cy="292.8" r="1.55"/><circle cx="305.3" cy="276.7" r="1.55"/><circle cx="322.2" cy="296.3" r="1.55"/><circle cx="310.9" cy="248.9" r="1.55"/><circle cx="310.3" cy="244.4" r="1.55"/><circle cx="377.8" cy="298.5" r="1.55"/><circle cx="321.9" cy="252.5" r="1.55"/><circle cx="314.2" cy="251.3" r="1.55"/><circle cx="353.7" cy="303.5" r="1.55"/><circle cx="338.5" cy="295.3" r="1.55"/><circle cx="318.4" cy="274.3" r="1.55"/><circle cx="335.8" cy="287.6" r="1.55"/><circle cx="317.5" cy="292.1" r="1.55"/><circle cx="304.2" cy="226.0" r="1.55"/><circle cx="324.0" cy="295.3" r="1.55"/><circle cx="337.9" cy="295.4" r="1.55"/><circle cx="359.9" cy="288.1" r="1.55"/><circle cx="298.6" cy="203.8" r="1.55"/><circle cx="338.0" cy="289.7" r="1.55"/><circle cx="295.8" cy="257.9" r="1.55"/><circle cx="307.8" cy="233.6" r="1.55"/><circle cx="309.7" cy="227.6" r="1.55"/><circle cx="349.1" cy="294.9" r="1.55"/><circle cx="302.9" cy="265.9" r="1.55"/><circle cx="337.1" cy="303.9" r="1.55"/><circle cx="292.1" cy="283.0" r="1.55"/><circle cx="317.4" cy="267.0" r="1.55"/><circle cx="299.2" cy="269.6" r="1.55"/><circle cx="310.0" cy="286.2" r="1.55"/><circle cx="309.8" cy="273.2" r="1.55"/><circle cx="389.3" cy="296.8" r="1.55"/><circle cx="312.2" cy="276.3" r="1.55"/><circle cx="339.1" cy="294.7" r="1.55"/><circle cx="338.6" cy="294.1" r="1.55"/><circle cx="290.3" cy="256.6" r="1.55"/><circle cx="313.2" cy="248.1" r="1.55"/><circle cx="385.0" cy="295.4" r="1.55"/><circle cx="310.2" cy="274.8" r="1.55"/><circle cx="331.4" cy="299.4" r="1.55"/><circle cx="305.5" cy="243.6" r="1.55"/><circle cx="307.7" cy="283.1" r="1.55"/><circle cx="318.0" cy="302.5" r="1.55"/><circle cx="296.1" cy="270.5" r="1.55"/><circle cx="315.6" cy="294.8" r="1.55"/><circle cx="322.0" cy="291.1" r="1.55"/><circle cx="322.0" cy="234.0" r="1.55"/><circle cx="277.7" cy="277.7" r="1.55"/><circle cx="317.4" cy="262.1" r="1.55"/><circle cx="309.4" cy="261.4" r="1.55"/><circle cx="333.9" cy="275.9" r="1.55"/><circle cx="294.6" cy="276.9" r="1.55"/><circle cx="350.1" cy="303.4" r="1.55"/><circle cx="348.0" cy="299.7" r="1.55"/><circle cx="317.3" cy="265.9" r="1.55"/><circle cx="293.2" cy="274.4" r="1.55"/><circle cx="310.6" cy="248.5" r="1.55"/><circle cx="337.5" cy="290.1" r="1.55"/><circle cx="340.8" cy="277.1" r="1.55"/><circle cx="309.9" cy="249.8" r="1.55"/><circle cx="351.8" cy="286.8" r="1.55"/><circle cx="307.5" cy="239.8" r="1.55"/><circle cx="369.0" cy="286.3" r="1.55"/><circle cx="309.4" cy="241.1" r="1.55"/><circle cx="308.3" cy="268.5" r="1.55"/><circle cx="347.8" cy="289.0" r="1.55"/><circle cx="382.2" cy="298.5" r="1.55"/><circle cx="286.1" cy="280.9" r="1.55"/><circle cx="309.6" cy="268.1" r="1.55"/><circle cx="327.0" cy="282.5" r="1.55"/><circle cx="313.5" cy="291.3" r="1.55"/><circle cx="326.4" cy="303.3" r="1.55"/><circle cx="350.6" cy="289.8" r="1.55"/><circle cx="342.2" cy="280.1" r="1.55"/><circle cx="365.0" cy="301.8" r="1.55"/><circle cx="318.7" cy="267.8" r="1.55"/><circle cx="378.7" cy="288.9" r="1.55"/><circle cx="333.8" cy="284.3" r="1.55"/><circle cx="312.8" cy="242.3" r="1.55"/><circle cx="317.1" cy="270.4" r="1.55"/><circle cx="312.0" cy="244.1" r="1.55"/><circle cx="329.8" cy="274.0" r="1.55"/><circle cx="319.0" cy="266.6" r="1.55"/><circle cx="312.7" cy="253.4" r="1.55"/><circle cx="302.3" cy="229.0" r="1.55"/><circle cx="326.3" cy="276.7" r="1.55"/><circle cx="309.0" cy="279.2" r="1.55"/><circle cx="320.2" cy="288.9" r="1.55"/><circle cx="328.5" cy="301.1" r="1.55"/><circle cx="320.6" cy="271.8" r="1.55"/><circle cx="347.9" cy="287.9" r="1.55"/><circle cx="309.6" cy="244.4" r="1.55"/><circle cx="354.6" cy="289.4" r="1.55"/><circle cx="329.3" cy="295.3" r="1.55"/><circle cx="375.5" cy="309.4" r="1.55"/><circle cx="385.5" cy="296.2" r="1.55"/><circle cx="302.2" cy="236.6" r="1.55"/><circle cx="312.8" cy="266.4" r="1.55"/><circle cx="315.9" cy="292.2" r="1.55"/><circle cx="305.4" cy="283.3" r="1.55"/><circle cx="349.2" cy="298.5" r="1.55"/><circle cx="336.7" cy="282.3" r="1.55"/><circle cx="323.6" cy="288.3" r="1.55"/><circle cx="306.5" cy="267.4" r="1.55"/><circle cx="312.7" cy="287.4" r="1.55"/><circle cx="306.3" cy="272.0" r="1.55"/><circle cx="304.1" cy="239.6" r="1.55"/><circle cx="317.4" cy="268.2" r="1.55"/><circle cx="315.4" cy="277.6" r="1.55"/><circle cx="322.6" cy="209.3" r="1.55"/><circle cx="303.0" cy="237.3" r="1.55"/><circle cx="313.9" cy="270.4" r="1.55"/><circle cx="315.9" cy="258.6" r="1.55"/><circle cx="349.2" cy="271.3" r="1.55"/><circle cx="305.8" cy="276.2" r="1.55"/><circle cx="339.0" cy="291.5" r="1.55"/><circle cx="309.5" cy="243.9" r="1.55"/><circle cx="313.3" cy="253.4" r="1.55"/><circle cx="384.1" cy="297.3" r="1.55"/><circle cx="304.2" cy="266.1" r="1.55"/><circle cx="317.8" cy="270.8" r="1.55"/><circle cx="304.2" cy="250.5" r="1.55"/><circle cx="312.2" cy="251.0" r="1.55"/><circle cx="368.8" cy="310.7" r="1.55"/><circle cx="364.7" cy="279.2" r="1.55"/><circle cx="303.6" cy="257.2" r="1.55"/><circle cx="325.4" cy="293.6" r="1.55"/><circle cx="322.1" cy="286.1" r="1.55"/><circle cx="362.0" cy="303.0" r="1.55"/><circle cx="333.5" cy="289.2" r="1.55"/><circle cx="345.0" cy="299.1" r="1.55"/><circle cx="356.1" cy="306.1" r="1.55"/><circle cx="310.3" cy="262.3" r="1.55"/><circle cx="328.9" cy="304.1" r="1.55"/><circle cx="350.0" cy="306.6" r="1.55"/><circle cx="350.2" cy="286.4" r="1.55"/><circle cx="318.4" cy="260.6" r="1.55"/><circle cx="316.7" cy="262.0" r="1.55"/><circle cx="311.6" cy="245.4" r="1.55"/><circle cx="326.1" cy="280.5" r="1.55"/><circle cx="311.2" cy="287.3" r="1.55"/><circle cx="302.6" cy="279.0" r="1.55"/><circle cx="303.8" cy="242.5" r="1.55"/><circle cx="313.0" cy="251.2" r="1.55"/><circle cx="340.4" cy="300.9" r="1.55"/><circle cx="304.3" cy="292.4" r="1.55"/><circle cx="341.1" cy="272.7" r="1.55"/><circle cx="323.2" cy="302.2" r="1.55"/><circle cx="304.1" cy="279.8" r="1.55"/><circle cx="316.2" cy="301.7" r="1.55"/><circle cx="305.7" cy="277.9" r="1.55"/><circle cx="344.6" cy="302.0" r="1.55"/><circle cx="321.7" cy="267.7" r="1.55"/><circle cx="316.1" cy="259.6" r="1.55"/><circle cx="294.9" cy="275.2" r="1.55"/><circle cx="329.2" cy="299.4" r="1.55"/><circle cx="374.8" cy="303.4" r="1.55"/><circle cx="310.4" cy="242.9" r="1.55"/><circle cx="308.5" cy="240.1" r="1.55"/><circle cx="315.5" cy="293.5" r="1.55"/><circle cx="351.6" cy="296.1" r="1.55"/><circle cx="310.5" cy="259.8" r="1.55"/><circle cx="321.4" cy="261.0" r="1.55"/><circle cx="365.5" cy="300.0" r="1.55"/><circle cx="311.4" cy="290.3" r="1.55"/><circle cx="321.7" cy="255.7" r="1.55"/><circle cx="313.5" cy="253.6" r="1.55"/><circle cx="364.6" cy="293.6" r="1.55"/><circle cx="329.2" cy="279.5" r="1.55"/><circle cx="312.7" cy="266.2" r="1.55"/><circle cx="308.5" cy="244.2" r="1.55"/><circle cx="297.2" cy="272.2" r="1.55"/><circle cx="346.2" cy="296.5" r="1.55"/><circle cx="325.6" cy="300.8" r="1.55"/><circle cx="346.3" cy="302.6" r="1.55"/><circle cx="303.1" cy="266.2" r="1.55"/><circle cx="296.7" cy="291.2" r="1.55"/><circle cx="302.7" cy="269.0" r="1.55"/><circle cx="321.3" cy="281.5" r="1.55"/><circle cx="334.3" cy="300.6" r="1.55"/><circle cx="365.8" cy="291.1" r="1.55"/><circle cx="355.9" cy="291.1" r="1.55"/><circle cx="322.6" cy="281.8" r="1.55"/><circle cx="320.8" cy="269.0" r="1.55"/><circle cx="296.5" cy="274.4" r="1.55"/><circle cx="322.5" cy="226.3" r="1.55"/><circle cx="313.3" cy="279.0" r="1.55"/><circle cx="382.1" cy="289.1" r="1.55"/><circle cx="352.0" cy="299.1" r="1.55"/><circle cx="319.9" cy="273.0" r="1.55"/><circle cx="321.6" cy="295.4" r="1.55"/><circle cx="307.9" cy="286.8" r="1.55"/><circle cx="388.0" cy="292.9" r="1.55"/><circle cx="374.7" cy="296.5" r="1.55"/><circle cx="314.2" cy="259.2" r="1.55"/><circle cx="310.7" cy="291.8" r="1.55"/><circle cx="360.1" cy="302.9" r="1.55"/><circle cx="321.1" cy="270.9" r="1.55"/><circle cx="319.9" cy="271.7" r="1.55"/><circle cx="320.9" cy="270.2" r="1.55"/><circle cx="320.4" cy="270.8" r="1.55"/><circle cx="320.5" cy="270.2" r="1.55"/><circle cx="320.9" cy="271.1" r="1.55"/><circle cx="320.7" cy="270.3" r="1.55"/><circle cx="320.6" cy="270.7" r="1.55"/><circle cx="321.0" cy="270.4" r="1.55"/><circle cx="320.5" cy="269.6" r="1.55"/><circle cx="319.7" cy="269.0" r="1.55"/><circle cx="319.3" cy="269.8" r="1.55"/><circle cx="320.2" cy="269.4" r="1.55"/><circle cx="319.0" cy="270.1" r="1.55"/><circle cx="319.4" cy="269.1" r="1.55"/><circle cx="319.3" cy="268.6" r="1.55"/><circle cx="319.2" cy="269.7" r="1.55"/><circle cx="320.0" cy="269.0" r="1.55"/><circle cx="319.5" cy="269.4" r="1.55"/><circle cx="319.3" cy="268.4" r="1.55"/><circle cx="319.7" cy="267.8" r="1.55"/><circle cx="319.0" cy="268.0" r="1.55"/><circle cx="319.7" cy="268.4" r="1.55"/><circle cx="320.1" cy="268.8" r="1.55"/><circle cx="319.1" cy="269.2" r="1.55"/><circle cx="319.0" cy="268.0" r="1.55"/><circle cx="319.6" cy="267.0" r="1.55"/><circle cx="318.2" cy="268.0" r="1.55"/><circle cx="318.4" cy="267.8" r="1.55"/><circle cx="318.5" cy="267.9" r="1.55"/><circle cx="318.2" cy="268.1" r="1.55"/><circle cx="318.8" cy="266.6" r="1.55"/><circle cx="318.9" cy="266.8" r="1.55"/><circle cx="318.8" cy="268.2" r="1.55"/><circle cx="318.8" cy="267.9" r="1.55"/><circle cx="319.1" cy="266.2" r="1.55"/><circle cx="319.1" cy="267.4" r="1.55"/><circle cx="319.2" cy="266.9" r="1.55"/><circle cx="318.6" cy="267.5" r="1.55"/><circle cx="318.6" cy="266.6" r="1.55"/><circle cx="319.2" cy="267.1" r="1.55"/><circle cx="318.7" cy="266.9" r="1.55"/><circle cx="319.1" cy="267.2" r="1.55"/><circle cx="318.2" cy="265.1" r="1.55"/><circle cx="318.4" cy="264.6" r="1.55"/><circle cx="318.1" cy="266.0" r="1.55"/><circle cx="318.3" cy="265.7" r="1.55"/><circle cx="318.5" cy="265.7" r="1.55"/><circle cx="318.0" cy="265.8" r="1.55"/><circle cx="319.1" cy="265.8" r="1.55"/><circle cx="317.5" cy="265.9" r="1.55"/><circle cx="318.5" cy="264.9" r="1.55"/><circle cx="317.6" cy="266.2" r="1.55"/><circle cx="318.2" cy="265.9" r="1.55"/><circle cx="317.7" cy="264.8" r="1.55"/><circle cx="317.9" cy="265.9" r="1.55"/><circle cx="317.7" cy="263.5" r="1.55"/><circle cx="317.3" cy="264.7" r="1.55"/><circle cx="317.1" cy="264.4" r="1.55"/><circle cx="317.3" cy="263.5" r="1.55"/><circle cx="317.5" cy="264.0" r="1.55"/><circle cx="317.8" cy="263.9" r="1.55"/><circle cx="318.1" cy="264.1" r="1.55"/><circle cx="316.6" cy="263.4" r="1.55"/><circle cx="317.5" cy="263.2" r="1.55"/><circle cx="317.1" cy="264.1" r="1.55"/><circle cx="317.3" cy="263.0" r="1.55"/><circle cx="317.4" cy="262.8" r="1.55"/><circle cx="317.5" cy="262.9" r="1.55"/><circle cx="317.2" cy="263.4" r="1.55"/><circle cx="317.0" cy="262.3" r="1.55"/><circle cx="317.6" cy="261.8" r="1.55"/><circle cx="316.9" cy="262.7" r="1.55"/><circle cx="316.8" cy="263.5" r="1.55"/><circle cx="317.3" cy="262.7" r="1.55"/><circle cx="316.2" cy="262.0" r="1.55"/><circle cx="316.2" cy="261.1" r="1.55"/><circle cx="317.3" cy="261.2" r="1.55"/><circle cx="316.5" cy="261.4" r="1.55"/><circle cx="315.8" cy="262.3" r="1.55"/><circle cx="316.9" cy="261.3" r="1.55"/><circle cx="317.1" cy="261.7" r="1.55"/><circle cx="316.1" cy="262.2" r="1.55"/><circle cx="315.9" cy="262.6" r="1.55"/><circle cx="316.4" cy="260.8" r="1.55"/><circle cx="316.6" cy="262.5" r="1.55"/><circle cx="316.1" cy="260.4" r="1.55"/><circle cx="315.9" cy="259.7" r="1.55"/><circle cx="316.4" cy="260.7" r="1.55"/><circle cx="316.4" cy="261.2" r="1.55"/><circle cx="315.4" cy="261.1" r="1.55"/><circle cx="315.6" cy="261.1" r="1.55"/><circle cx="315.9" cy="260.2" r="1.55"/><circle cx="315.7" cy="259.6" r="1.55"/><circle cx="316.0" cy="260.6" r="1.55"/><circle cx="316.1" cy="260.3" r="1.55"/><circle cx="316.6" cy="260.4" r="1.55"/><circle cx="316.0" cy="259.2" r="1.55"/><circle cx="316.2" cy="259.3" r="1.55"/><circle cx="315.0" cy="260.3" r="1.55"/><circle cx="315.4" cy="260.0" r="1.55"/><circle cx="316.2" cy="259.6" r="1.55"/><circle cx="315.1" cy="260.9" r="1.55"/><circle cx="316.3" cy="260.0" r="1.55"/><circle cx="315.9" cy="259.6" r="1.55"/><circle cx="315.7" cy="260.5" r="1.55"/><circle cx="315.6" cy="259.4" r="1.55"/><circle cx="315.1" cy="259.4" r="1.55"/><circle cx="315.1" cy="259.8" r="1.55"/><circle cx="315.3" cy="258.7" r="1.55"/><circle cx="315.4" cy="260.0" r="1.55"/><circle cx="316.1" cy="259.0" r="1.55"/><circle cx="315.1" cy="259.4" r="1.55"/><circle cx="315.2" cy="258.5" r="1.55"/><circle cx="314.7" cy="259.7" r="1.55"/><circle cx="315.5" cy="258.8" r="1.55"/><circle cx="315.4" cy="258.7" r="1.55"/><circle cx="315.9" cy="258.3" r="1.55"/><circle cx="316.3" cy="258.0" r="1.55"/><circle cx="315.6" cy="259.9" r="1.55"/><circle cx="314.9" cy="258.8" r="1.55"/><circle cx="315.4" cy="259.3" r="1.55"/><circle cx="315.4" cy="258.0" r="1.55"/><circle cx="315.2" cy="257.6" r="1.55"/><circle cx="314.7" cy="258.7" r="1.55"/><circle cx="315.3" cy="258.2" r="1.55"/><circle cx="314.6" cy="257.4" r="1.55"/><circle cx="315.0" cy="258.1" r="1.55"/><circle cx="314.9" cy="258.2" r="1.55"/><circle cx="313.9" cy="259.1" r="1.55"/><circle cx="315.3" cy="258.4" r="1.55"/><circle cx="315.9" cy="257.3" r="1.55"/><circle cx="314.8" cy="258.9" r="1.55"/><circle cx="314.6" cy="257.6" r="1.55"/><circle cx="315.3" cy="257.5" r="1.55"/><circle cx="314.2" cy="257.6" r="1.55"/><circle cx="314.7" cy="256.7" r="1.55"/><circle cx="314.6" cy="257.3" r="1.55"/><circle cx="314.1" cy="255.6" r="1.55"/><circle cx="314.3" cy="256.8" r="1.55"/><circle cx="314.0" cy="255.8" r="1.55"/><circle cx="314.1" cy="256.8" r="1.55"/><circle cx="314.6" cy="256.1" r="1.55"/><circle cx="313.9" cy="256.5" r="1.55"/><circle cx="314.0" cy="255.1" r="1.55"/><circle cx="313.9" cy="256.8" r="1.55"/><circle cx="314.4" cy="256.5" r="1.55"/><circle cx="314.0" cy="255.1" r="1.55"/><circle cx="313.6" cy="255.1" r="1.55"/><circle cx="314.2" cy="255.6" r="1.55"/><circle cx="313.1" cy="255.7" r="1.55"/><circle cx="313.1" cy="256.3" r="1.55"/><circle cx="314.0" cy="255.6" r="1.55"/><circle cx="314.7" cy="255.0" r="1.55"/><circle cx="313.6" cy="254.4" r="1.55"/><circle cx="313.9" cy="254.4" r="1.55"/><circle cx="313.1" cy="254.0" r="1.55"/><circle cx="313.7" cy="254.5" r="1.55"/><circle cx="313.6" cy="254.9" r="1.55"/><circle cx="313.8" cy="254.7" r="1.55"/><circle cx="313.2" cy="253.4" r="1.55"/><circle cx="314.3" cy="254.1" r="1.55"/><circle cx="313.0" cy="253.3" r="1.55"/><circle cx="314.1" cy="255.2" r="1.55"/><circle cx="312.9" cy="254.3" r="1.55"/><circle cx="313.6" cy="254.4" r="1.55"/><circle cx="313.8" cy="253.5" r="1.55"/><circle cx="314.2" cy="254.2" r="1.55"/><circle cx="313.1" cy="254.5" r="1.55"/><circle cx="312.5" cy="253.7" r="1.55"/><circle cx="313.3" cy="254.4" r="1.55"/><circle cx="312.6" cy="253.2" r="1.55"/><circle cx="312.3" cy="252.4" r="1.55"/><circle cx="312.4" cy="253.1" r="1.55"/><circle cx="312.1" cy="252.0" r="1.55"/><circle cx="312.9" cy="252.5" r="1.55"/><circle cx="312.6" cy="252.2" r="1.55"/><circle cx="312.7" cy="251.6" r="1.55"/><circle cx="312.8" cy="251.5" r="1.55"/><circle cx="312.2" cy="251.3" r="1.55"/><circle cx="312.7" cy="252.1" r="1.55"/><circle cx="312.9" cy="250.5" r="1.55"/><circle cx="313.1" cy="251.3" r="1.55"/><circle cx="312.3" cy="251.7" r="1.55"/><circle cx="312.1" cy="250.4" r="1.55"/><circle cx="311.8" cy="251.5" r="1.55"/><circle cx="312.0" cy="249.9" r="1.55"/><circle cx="312.1" cy="250.5" r="1.55"/><circle cx="312.2" cy="251.1" r="1.55"/><circle cx="311.5" cy="251.2" r="1.55"/><circle cx="311.9" cy="251.4" r="1.55"/><circle cx="311.9" cy="251.2" r="1.55"/><circle cx="311.7" cy="250.7" r="1.55"/><circle cx="311.5" cy="249.2" r="1.55"/><circle cx="311.9" cy="249.9" r="1.55"/><circle cx="311.2" cy="249.9" r="1.55"/><circle cx="311.8" cy="249.4" r="1.55"/><circle cx="311.1" cy="249.8" r="1.55"/><circle cx="311.6" cy="250.4" r="1.55"/><circle cx="311.0" cy="250.4" r="1.55"/><circle cx="311.9" cy="248.2" r="1.55"/><circle cx="311.5" cy="248.9" r="1.55"/><circle cx="311.7" cy="247.4" r="1.55"/><circle cx="310.6" cy="247.1" r="1.55"/><circle cx="310.4" cy="248.0" r="1.55"/><circle cx="310.4" cy="247.6" r="1.55"/><circle cx="310.8" cy="248.3" r="1.55"/><circle cx="311.3" cy="247.9" r="1.55"/><circle cx="311.1" cy="247.8" r="1.55"/><circle cx="311.1" cy="247.7" r="1.55"/><circle cx="310.1" cy="246.5" r="1.55"/><circle cx="311.2" cy="247.5" r="1.55"/><circle cx="311.0" cy="246.9" r="1.55"/><circle cx="310.4" cy="247.3" r="1.55"/><circle cx="309.5" cy="246.9" r="1.55"/><circle cx="310.1" cy="245.7" r="1.55"/><circle cx="310.4" cy="247.8" r="1.55"/><circle cx="311.1" cy="246.1" r="1.55"/><circle cx="310.5" cy="247.2" r="1.55"/><circle cx="310.3" cy="246.4" r="1.55"/><circle cx="310.9" cy="246.5" r="1.55"/><circle cx="310.8" cy="246.4" r="1.55"/><circle cx="310.2" cy="246.7" r="1.55"/><circle cx="310.2" cy="247.3" r="1.55"/><circle cx="310.5" cy="244.2" r="1.55"/><circle cx="309.5" cy="244.8" r="1.55"/><circle cx="309.4" cy="244.0" r="1.55"/><circle cx="308.8" cy="244.6" r="1.55"/><circle cx="308.6" cy="242.9" r="1.55"/><circle cx="309.1" cy="242.2" r="1.55"/><circle cx="309.4" cy="242.9" r="1.55"/><circle cx="309.7" cy="244.3" r="1.55"/><circle cx="309.2" cy="243.4" r="1.55"/><circle cx="309.3" cy="242.7" r="1.55"/><circle cx="308.7" cy="242.9" r="1.55"/><circle cx="308.1" cy="242.0" r="1.55"/><circle cx="308.4" cy="243.1" r="1.55"/><circle cx="308.7" cy="242.7" r="1.55"/><circle cx="308.3" cy="243.9" r="1.55"/><circle cx="309.4" cy="241.5" r="1.55"/></g>
<path d="M309.6 247L313 256L319 273.5" fill="none" stroke="#030d18" stroke-width="3.3" stroke-linecap="round" opacity=".9"/>
<path d="M318.5 272L321.3 284" fill="none" stroke="#030d18" stroke-width="2.2" stroke-linecap="round" opacity=".8"/>
<g class="p"><circle cx="311.5" cy="247.6" r="1.55"/><circle cx="313.3" cy="260.1" r="1.55"/><circle cx="311.7" cy="247.1" r="1.55"/><circle cx="318.4" cy="275.2" r="1.55"/><circle cx="311.3" cy="252.8" r="1.55"/><circle cx="316.2" cy="263.4" r="1.55"/><circle cx="317.7" cy="277.3" r="1.55"/><circle cx="313.6" cy="263.6" r="1.55"/><circle cx="317.3" cy="258.2" r="1.55"/><circle cx="305.4" cy="243.5" r="1.55"/><circle cx="310.6" cy="255.9" r="1.55"/><circle cx="311.1" cy="254.2" r="1.55"/><circle cx="315.1" cy="264.1" r="1.55"/><circle cx="313.7" cy="254.9" r="1.55"/><circle cx="304.7" cy="251.9" r="1.55"/><circle cx="313.5" cy="264.2" r="1.55"/><circle cx="319.8" cy="276.7" r="1.55"/><circle cx="322.4" cy="280.1" r="1.55"/><circle cx="318.6" cy="272.4" r="1.55"/><circle cx="323.3" cy="285.1" r="1.55"/></g>
<rect x="243.5" y="189.3" width="201.3" height="160.9" fill="none" stroke="#636363" stroke-width="0.8"/>
<g class="p"><circle cx="577.6" cy="300.1" r="1.55"/><circle cx="517.1" cy="269.8" r="1.55"/><circle cx="541.3" cy="261.9" r="1.55"/><circle cx="517.0" cy="290.8" r="1.55"/><circle cx="550.3" cy="284.2" r="1.55"/><circle cx="486.4" cy="260.3" r="1.55"/><circle cx="499.1" cy="270.9" r="1.55"/><circle cx="541.0" cy="234.1" r="1.55"/><circle cx="513.9" cy="254.2" r="1.55"/><circle cx="510.2" cy="278.7" r="1.55"/><circle cx="514.0" cy="272.0" r="1.55"/><circle cx="532.4" cy="268.8" r="1.55"/><circle cx="541.2" cy="271.0" r="1.55"/><circle cx="506.0" cy="268.0" r="1.55"/><circle cx="525.4" cy="282.9" r="1.55"/><circle cx="486.7" cy="262.9" r="1.55"/><circle cx="486.1" cy="275.0" r="1.55"/><circle cx="526.9" cy="258.7" r="1.55"/><circle cx="514.0" cy="273.6" r="1.55"/><circle cx="548.7" cy="293.0" r="1.55"/><circle cx="525.8" cy="261.6" r="1.55"/><circle cx="500.1" cy="269.2" r="1.55"/><circle cx="527.2" cy="266.5" r="1.55"/><circle cx="623.4" cy="296.1" r="1.55"/><circle cx="486.5" cy="259.5" r="1.55"/><circle cx="541.3" cy="238.9" r="1.55"/><circle cx="500.2" cy="274.1" r="1.55"/><circle cx="536.1" cy="285.7" r="1.55"/><circle cx="500.1" cy="262.5" r="1.55"/><circle cx="541.0" cy="263.6" r="1.55"/><circle cx="541.3" cy="268.8" r="1.55"/><circle cx="566.0" cy="306.7" r="1.55"/><circle cx="520.4" cy="292.5" r="1.55"/><circle cx="532.4" cy="295.9" r="1.55"/><circle cx="534.8" cy="296.8" r="1.55"/><circle cx="503.7" cy="276.1" r="1.55"/><circle cx="669.2" cy="318.4" r="1.55"/><circle cx="513.8" cy="209.7" r="1.55"/><circle cx="532.2" cy="291.4" r="1.55"/><circle cx="577.7" cy="247.1" r="1.55"/><circle cx="500.1" cy="259.3" r="1.55"/><circle cx="500.3" cy="280.7" r="1.55"/><circle cx="520.7" cy="295.8" r="1.55"/><circle cx="513.8" cy="233.4" r="1.55"/><circle cx="513.6" cy="252.5" r="1.55"/><circle cx="499.9" cy="256.8" r="1.55"/><circle cx="504.1" cy="271.9" r="1.55"/><circle cx="520.7" cy="284.7" r="1.55"/><circle cx="486.8" cy="278.4" r="1.55"/><circle cx="527.5" cy="207.4" r="1.55"/><circle cx="500.2" cy="253.2" r="1.55"/><circle cx="527.6" cy="243.6" r="1.55"/><circle cx="527.3" cy="297.5" r="1.55"/><circle cx="541.1" cy="246.4" r="1.55"/><circle cx="486.7" cy="282.4" r="1.55"/><circle cx="513.2" cy="281.2" r="1.55"/><circle cx="504.7" cy="273.5" r="1.55"/><circle cx="486.7" cy="273.5" r="1.55"/><circle cx="527.6" cy="264.4" r="1.55"/><circle cx="552.5" cy="297.1" r="1.55"/><circle cx="514.0" cy="275.6" r="1.55"/><circle cx="513.5" cy="261.1" r="1.55"/><circle cx="514.1" cy="248.9" r="1.55"/><circle cx="550.9" cy="290.7" r="1.55"/><circle cx="552.2" cy="300.4" r="1.55"/><circle cx="540.8" cy="269.8" r="1.55"/><circle cx="559.0" cy="261.7" r="1.55"/><circle cx="486.5" cy="289.5" r="1.55"/><circle cx="540.9" cy="286.5" r="1.55"/><circle cx="513.7" cy="273.4" r="1.55"/><circle cx="541.0" cy="289.7" r="1.55"/><circle cx="516.8" cy="265.6" r="1.55"/><circle cx="596.0" cy="289.4" r="1.55"/><circle cx="486.6" cy="290.4" r="1.55"/><circle cx="486.2" cy="265.6" r="1.55"/><circle cx="527.5" cy="265.2" r="1.55"/><circle cx="525.5" cy="300.5" r="1.55"/><circle cx="541.2" cy="299.8" r="1.55"/><circle cx="513.7" cy="261.8" r="1.55"/><circle cx="513.8" cy="241.4" r="1.55"/><circle cx="577.7" cy="311.1" r="1.55"/><circle cx="541.2" cy="253.6" r="1.55"/><circle cx="522.6" cy="268.1" r="1.55"/><circle cx="500.3" cy="277.5" r="1.55"/><circle cx="486.4" cy="293.0" r="1.55"/><circle cx="527.2" cy="251.7" r="1.55"/><circle cx="527.9" cy="280.0" r="1.55"/><circle cx="513.6" cy="278.7" r="1.55"/><circle cx="499.9" cy="273.0" r="1.55"/><circle cx="500.2" cy="266.7" r="1.55"/><circle cx="509.3" cy="281.7" r="1.55"/><circle cx="527.4" cy="280.1" r="1.55"/><circle cx="541.3" cy="285.3" r="1.55"/><circle cx="546.4" cy="278.9" r="1.55"/><circle cx="513.7" cy="282.8" r="1.55"/><circle cx="497.4" cy="291.0" r="1.55"/><circle cx="500.0" cy="267.0" r="1.55"/><circle cx="514.1" cy="281.9" r="1.55"/><circle cx="554.8" cy="305.3" r="1.55"/><circle cx="547.2" cy="262.1" r="1.55"/><circle cx="486.6" cy="281.2" r="1.55"/><circle cx="557.9" cy="279.8" r="1.55"/><circle cx="541.5" cy="269.7" r="1.55"/><circle cx="577.5" cy="305.7" r="1.55"/><circle cx="577.6" cy="305.7" r="1.55"/><circle cx="565.9" cy="283.3" r="1.55"/><circle cx="500.1" cy="261.4" r="1.55"/><circle cx="486.5" cy="277.6" r="1.55"/><circle cx="554.9" cy="235.7" r="1.55"/><circle cx="541.3" cy="278.0" r="1.55"/><circle cx="514.1" cy="264.0" r="1.55"/><circle cx="513.8" cy="244.3" r="1.55"/><circle cx="550.8" cy="298.4" r="1.55"/><circle cx="514.0" cy="259.2" r="1.55"/><circle cx="499.3" cy="274.6" r="1.55"/><circle cx="513.6" cy="253.7" r="1.55"/><circle cx="557.1" cy="272.1" r="1.55"/><circle cx="540.9" cy="247.3" r="1.55"/><circle cx="513.4" cy="267.7" r="1.55"/><circle cx="540.9" cy="265.5" r="1.55"/><circle cx="541.0" cy="262.9" r="1.55"/><circle cx="541.5" cy="246.8" r="1.55"/><circle cx="531.9" cy="287.8" r="1.55"/><circle cx="541.1" cy="272.3" r="1.55"/><circle cx="537.8" cy="290.7" r="1.55"/><circle cx="486.5" cy="259.1" r="1.55"/><circle cx="577.0" cy="296.3" r="1.55"/><circle cx="513.6" cy="273.3" r="1.55"/><circle cx="554.9" cy="228.4" r="1.55"/><circle cx="514.0" cy="276.7" r="1.55"/><circle cx="565.9" cy="251.1" r="1.55"/><circle cx="513.8" cy="211.4" r="1.55"/><circle cx="500.2" cy="266.8" r="1.55"/><circle cx="500.1" cy="283.1" r="1.55"/><circle cx="547.3" cy="258.4" r="1.55"/><circle cx="486.6" cy="303.0" r="1.55"/><circle cx="486.9" cy="276.5" r="1.55"/><circle cx="532.1" cy="293.4" r="1.55"/><circle cx="518.6" cy="269.0" r="1.55"/><circle cx="513.7" cy="271.0" r="1.55"/><circle cx="523.0" cy="270.5" r="1.55"/><circle cx="513.9" cy="267.0" r="1.55"/><circle cx="536.5" cy="291.0" r="1.55"/><circle cx="520.5" cy="266.0" r="1.55"/><circle cx="500.0" cy="277.8" r="1.55"/><circle cx="531.7" cy="263.1" r="1.55"/><circle cx="525.6" cy="282.4" r="1.55"/><circle cx="578.1" cy="299.5" r="1.55"/><circle cx="555.2" cy="299.5" r="1.55"/><circle cx="513.5" cy="282.0" r="1.55"/><circle cx="514.2" cy="278.6" r="1.55"/><circle cx="486.2" cy="270.0" r="1.55"/><circle cx="541.4" cy="260.3" r="1.55"/><circle cx="565.8" cy="285.8" r="1.55"/><circle cx="486.5" cy="273.7" r="1.55"/><circle cx="527.6" cy="269.4" r="1.55"/><circle cx="532.0" cy="274.1" r="1.55"/><circle cx="500.4" cy="255.5" r="1.55"/><circle cx="577.9" cy="302.8" r="1.55"/><circle cx="514.0" cy="252.2" r="1.55"/><circle cx="577.8" cy="302.6" r="1.55"/><circle cx="541.2" cy="273.9" r="1.55"/><circle cx="513.6" cy="273.1" r="1.55"/><circle cx="554.9" cy="258.0" r="1.55"/><circle cx="500.1" cy="267.4" r="1.55"/><circle cx="577.7" cy="275.7" r="1.55"/><circle cx="577.7" cy="305.7" r="1.55"/><circle cx="486.4" cy="255.8" r="1.55"/><circle cx="527.5" cy="290.6" r="1.55"/><circle cx="500.3" cy="265.4" r="1.55"/><circle cx="522.9" cy="282.2" r="1.55"/><circle cx="486.0" cy="281.1" r="1.55"/><circle cx="516.7" cy="290.9" r="1.55"/><circle cx="536.5" cy="294.5" r="1.55"/><circle cx="527.1" cy="268.9" r="1.55"/><circle cx="513.5" cy="269.2" r="1.55"/><circle cx="486.3" cy="292.3" r="1.55"/><circle cx="513.7" cy="253.1" r="1.55"/><circle cx="525.9" cy="291.9" r="1.55"/><circle cx="513.9" cy="272.6" r="1.55"/><circle cx="520.6" cy="292.0" r="1.55"/><circle cx="540.9" cy="268.6" r="1.55"/><circle cx="497.8" cy="276.6" r="1.55"/><circle cx="547.1" cy="274.9" r="1.55"/><circle cx="502.5" cy="283.0" r="1.55"/><circle cx="527.6" cy="273.0" r="1.55"/><circle cx="519.3" cy="275.2" r="1.55"/><circle cx="565.2" cy="296.4" r="1.55"/><circle cx="557.9" cy="284.5" r="1.55"/><circle cx="541.3" cy="279.0" r="1.55"/><circle cx="513.6" cy="258.8" r="1.55"/><circle cx="500.0" cy="272.7" r="1.55"/><circle cx="486.4" cy="278.2" r="1.55"/><circle cx="530.6" cy="268.3" r="1.55"/><circle cx="541.4" cy="282.2" r="1.55"/><circle cx="520.6" cy="265.0" r="1.55"/><circle cx="536.0" cy="275.8" r="1.55"/><circle cx="623.4" cy="314.4" r="1.55"/><circle cx="486.3" cy="278.4" r="1.55"/><circle cx="565.9" cy="227.7" r="1.55"/><circle cx="513.4" cy="270.4" r="1.55"/><circle cx="486.3" cy="273.8" r="1.55"/><circle cx="499.9" cy="248.4" r="1.55"/><circle cx="500.1" cy="228.7" r="1.55"/><circle cx="527.7" cy="258.9" r="1.55"/><circle cx="486.1" cy="268.4" r="1.55"/><circle cx="525.8" cy="283.6" r="1.55"/><circle cx="541.6" cy="279.8" r="1.55"/><circle cx="541.2" cy="288.2" r="1.55"/><circle cx="540.9" cy="265.5" r="1.55"/><circle cx="529.2" cy="278.1" r="1.55"/><circle cx="486.3" cy="257.4" r="1.55"/><circle cx="541.4" cy="271.4" r="1.55"/><circle cx="486.3" cy="249.8" r="1.55"/><circle cx="535.8" cy="275.3" r="1.55"/><circle cx="520.4" cy="294.0" r="1.55"/><circle cx="527.4" cy="276.4" r="1.55"/><circle cx="520.3" cy="265.1" r="1.55"/><circle cx="541.3" cy="291.3" r="1.55"/><circle cx="541.4" cy="271.6" r="1.55"/><circle cx="546.9" cy="282.1" r="1.55"/><circle cx="486.1" cy="274.5" r="1.55"/><circle cx="527.6" cy="297.5" r="1.55"/><circle cx="531.6" cy="286.6" r="1.55"/><circle cx="500.5" cy="261.1" r="1.55"/><circle cx="500.5" cy="262.5" r="1.55"/><circle cx="527.9" cy="274.7" r="1.55"/><circle cx="532.1" cy="295.7" r="1.55"/><circle cx="485.9" cy="259.3" r="1.55"/><circle cx="520.7" cy="294.3" r="1.55"/><circle cx="486.2" cy="252.0" r="1.55"/><circle cx="500.1" cy="250.1" r="1.55"/><circle cx="547.3" cy="253.4" r="1.55"/><circle cx="528.0" cy="238.6" r="1.55"/><circle cx="589.1" cy="271.4" r="1.55"/><circle cx="486.3" cy="271.5" r="1.55"/><circle cx="486.5" cy="277.3" r="1.55"/><circle cx="486.5" cy="273.4" r="1.55"/><circle cx="500.0" cy="285.7" r="1.55"/><circle cx="513.8" cy="217.4" r="1.55"/><circle cx="486.0" cy="280.9" r="1.55"/><circle cx="486.2" cy="274.2" r="1.55"/><circle cx="520.6" cy="277.1" r="1.55"/><circle cx="486.3" cy="270.3" r="1.55"/><circle cx="486.5" cy="273.4" r="1.55"/><circle cx="566.1" cy="303.7" r="1.55"/><circle cx="486.6" cy="249.9" r="1.55"/><circle cx="541.6" cy="247.9" r="1.55"/><circle cx="506.3" cy="273.9" r="1.55"/><circle cx="527.6" cy="252.4" r="1.55"/><circle cx="500.3" cy="270.5" r="1.55"/><circle cx="527.7" cy="273.5" r="1.55"/><circle cx="486.2" cy="272.8" r="1.55"/><circle cx="513.6" cy="265.2" r="1.55"/><circle cx="566.0" cy="279.9" r="1.55"/><circle cx="550.3" cy="285.0" r="1.55"/><circle cx="541.3" cy="278.5" r="1.55"/><circle cx="554.9" cy="238.4" r="1.55"/><circle cx="527.3" cy="273.2" r="1.55"/><circle cx="557.1" cy="280.2" r="1.55"/><circle cx="500.3" cy="261.2" r="1.55"/><circle cx="551.6" cy="283.0" r="1.55"/><circle cx="568.6" cy="276.7" r="1.55"/><circle cx="513.5" cy="247.9" r="1.55"/><circle cx="516.6" cy="280.9" r="1.55"/><circle cx="555.1" cy="307.1" r="1.55"/><circle cx="523.3" cy="273.6" r="1.55"/><circle cx="513.9" cy="252.2" r="1.55"/><circle cx="547.0" cy="268.2" r="1.55"/><circle cx="557.9" cy="291.7" r="1.55"/><circle cx="486.7" cy="292.5" r="1.55"/><circle cx="500.0" cy="276.6" r="1.55"/><circle cx="500.0" cy="279.4" r="1.55"/><circle cx="527.5" cy="266.1" r="1.55"/><circle cx="527.7" cy="288.4" r="1.55"/><circle cx="554.8" cy="301.5" r="1.55"/><circle cx="577.9" cy="310.4" r="1.55"/><circle cx="486.5" cy="281.5" r="1.55"/><circle cx="520.7" cy="275.0" r="1.55"/><circle cx="500.0" cy="280.6" r="1.55"/><circle cx="513.6" cy="272.0" r="1.55"/><circle cx="525.7" cy="287.5" r="1.55"/><circle cx="514.0" cy="270.5" r="1.55"/><circle cx="566.1" cy="283.1" r="1.55"/><circle cx="554.6" cy="302.4" r="1.55"/><circle cx="577.7" cy="316.4" r="1.55"/><circle cx="486.4" cy="283.6" r="1.55"/><circle cx="547.4" cy="268.5" r="1.55"/><circle cx="527.7" cy="294.5" r="1.55"/><circle cx="566.3" cy="289.7" r="1.55"/><circle cx="522.7" cy="269.0" r="1.55"/><circle cx="541.1" cy="280.0" r="1.55"/><circle cx="486.2" cy="283.5" r="1.55"/><circle cx="565.9" cy="207.4" r="1.55"/><circle cx="541.0" cy="282.7" r="1.55"/><circle cx="541.0" cy="271.0" r="1.55"/><circle cx="541.4" cy="258.9" r="1.55"/><circle cx="514.0" cy="264.1" r="1.55"/><circle cx="554.9" cy="241.7" r="1.55"/><circle cx="520.6" cy="285.8" r="1.55"/><circle cx="486.6" cy="291.9" r="1.55"/><circle cx="527.5" cy="249.3" r="1.55"/><circle cx="501.6" cy="294.3" r="1.55"/><circle cx="541.0" cy="243.0" r="1.55"/><circle cx="540.8" cy="271.3" r="1.55"/><circle cx="532.2" cy="277.3" r="1.55"/><circle cx="499.3" cy="271.1" r="1.55"/><circle cx="514.0" cy="249.9" r="1.55"/><circle cx="527.5" cy="242.5" r="1.55"/><circle cx="532.1" cy="300.1" r="1.55"/><circle cx="521.1" cy="290.1" r="1.55"/><circle cx="527.5" cy="252.4" r="1.55"/><circle cx="506.1" cy="273.0" r="1.55"/><circle cx="500.2" cy="243.0" r="1.55"/><circle cx="522.0" cy="299.1" r="1.55"/><circle cx="560.4" cy="276.7" r="1.55"/><circle cx="541.5" cy="246.9" r="1.55"/><circle cx="554.3" cy="301.3" r="1.55"/><circle cx="486.3" cy="273.0" r="1.55"/><circle cx="532.2" cy="282.3" r="1.55"/><circle cx="496.5" cy="286.4" r="1.55"/><circle cx="565.9" cy="253.4" r="1.55"/><circle cx="500.4" cy="257.3" r="1.55"/><circle cx="565.8" cy="282.6" r="1.55"/><circle cx="486.4" cy="206.1" r="1.55"/><circle cx="541.0" cy="267.9" r="1.55"/><circle cx="486.3" cy="275.6" r="1.55"/><circle cx="500.2" cy="259.0" r="1.55"/><circle cx="548.7" cy="284.5" r="1.55"/><circle cx="523.1" cy="278.4" r="1.55"/><circle cx="509.2" cy="275.3" r="1.55"/><circle cx="513.7" cy="253.3" r="1.55"/><circle cx="554.7" cy="267.7" r="1.55"/><circle cx="499.8" cy="269.9" r="1.55"/><circle cx="499.9" cy="264.0" r="1.55"/><circle cx="541.2" cy="258.4" r="1.55"/><circle cx="499.8" cy="253.4" r="1.55"/><circle cx="500.4" cy="242.1" r="1.55"/><circle cx="623.4" cy="303.1" r="1.55"/><circle cx="554.8" cy="279.4" r="1.55"/><circle cx="547.1" cy="296.7" r="1.55"/><circle cx="536.1" cy="292.2" r="1.55"/><circle cx="500.5" cy="266.7" r="1.55"/><circle cx="552.5" cy="297.2" r="1.55"/><circle cx="527.5" cy="265.1" r="1.55"/><circle cx="527.5" cy="287.3" r="1.55"/><circle cx="500.5" cy="253.3" r="1.55"/><circle cx="532.0" cy="287.2" r="1.55"/><circle cx="501.6" cy="272.0" r="1.55"/><circle cx="546.4" cy="272.9" r="1.55"/><circle cx="523.1" cy="284.2" r="1.55"/><circle cx="541.0" cy="299.0" r="1.55"/><circle cx="500.4" cy="259.5" r="1.55"/><circle cx="541.2" cy="223.1" r="1.55"/><circle cx="532.1" cy="284.2" r="1.55"/><circle cx="527.3" cy="273.0" r="1.55"/><circle cx="540.9" cy="267.5" r="1.55"/><circle cx="513.8" cy="255.0" r="1.55"/><circle cx="513.9" cy="262.2" r="1.55"/><circle cx="536.3" cy="305.1" r="1.55"/><circle cx="500.0" cy="272.7" r="1.55"/><circle cx="527.4" cy="250.4" r="1.55"/><circle cx="513.8" cy="262.3" r="1.55"/><circle cx="499.9" cy="242.0" r="1.55"/><circle cx="522.3" cy="270.7" r="1.55"/><circle cx="541.1" cy="277.7" r="1.55"/><circle cx="486.0" cy="256.1" r="1.55"/><circle cx="486.5" cy="285.1" r="1.55"/><circle cx="577.5" cy="301.1" r="1.55"/><circle cx="500.0" cy="243.6" r="1.55"/><circle cx="554.6" cy="295.4" r="1.55"/><circle cx="527.5" cy="263.7" r="1.55"/><circle cx="577.6" cy="309.9" r="1.55"/><circle cx="500.1" cy="265.3" r="1.55"/><circle cx="509.3" cy="196.4" r="1.55"/><circle cx="524.2" cy="294.7" r="1.55"/><circle cx="500.1" cy="256.9" r="1.55"/><circle cx="486.7" cy="279.4" r="1.55"/><circle cx="513.8" cy="257.2" r="1.55"/><circle cx="565.9" cy="248.4" r="1.55"/><circle cx="499.8" cy="281.0" r="1.55"/><circle cx="527.6" cy="278.0" r="1.55"/><circle cx="565.9" cy="205.7" r="1.55"/><circle cx="541.4" cy="274.6" r="1.55"/><circle cx="529.7" cy="293.5" r="1.55"/><circle cx="517.1" cy="298.1" r="1.55"/><circle cx="528.1" cy="243.2" r="1.55"/><circle cx="486.3" cy="278.6" r="1.55"/><circle cx="543.5" cy="295.8" r="1.55"/><circle cx="543.5" cy="273.9" r="1.55"/><circle cx="505.7" cy="266.6" r="1.55"/><circle cx="486.3" cy="284.7" r="1.55"/><circle cx="486.1" cy="298.9" r="1.55"/><circle cx="539.4" cy="285.4" r="1.55"/><circle cx="577.6" cy="303.5" r="1.55"/><circle cx="525.7" cy="274.2" r="1.55"/><circle cx="513.6" cy="263.0" r="1.55"/><circle cx="486.1" cy="291.3" r="1.55"/><circle cx="514.1" cy="271.9" r="1.55"/><circle cx="503.3" cy="283.7" r="1.55"/><circle cx="548.3" cy="289.6" r="1.55"/><circle cx="514.0" cy="284.9" r="1.55"/><circle cx="516.7" cy="298.2" r="1.55"/><circle cx="586.1" cy="285.1" r="1.55"/><circle cx="532.5" cy="274.7" r="1.55"/><circle cx="496.5" cy="263.6" r="1.55"/><circle cx="545.1" cy="295.6" r="1.55"/><circle cx="540.9" cy="249.6" r="1.55"/><circle cx="547.7" cy="284.9" r="1.55"/><circle cx="513.8" cy="227.7" r="1.55"/><circle cx="554.9" cy="248.4" r="1.55"/><circle cx="503.3" cy="284.9" r="1.55"/><circle cx="486.3" cy="270.3" r="1.55"/><circle cx="551.6" cy="292.0" r="1.55"/><circle cx="560.2" cy="291.7" r="1.55"/><circle cx="543.5" cy="273.0" r="1.55"/><circle cx="525.6" cy="282.8" r="1.55"/><circle cx="513.4" cy="268.7" r="1.55"/><circle cx="540.9" cy="252.4" r="1.55"/><circle cx="531.8" cy="268.3" r="1.55"/><circle cx="547.4" cy="278.2" r="1.55"/><circle cx="508.3" cy="270.7" r="1.55"/><circle cx="577.6" cy="308.2" r="1.55"/><circle cx="516.8" cy="274.3" r="1.55"/><circle cx="541.2" cy="203.7" r="1.55"/><circle cx="527.2" cy="287.7" r="1.55"/><circle cx="530.6" cy="293.2" r="1.55"/><circle cx="547.5" cy="294.0" r="1.55"/><circle cx="498.3" cy="270.4" r="1.55"/><circle cx="506.0" cy="264.4" r="1.55"/><circle cx="541.2" cy="273.3" r="1.55"/><circle cx="527.8" cy="293.0" r="1.55"/><circle cx="486.4" cy="236.4" r="1.55"/><circle cx="555.0" cy="263.4" r="1.55"/><circle cx="486.4" cy="274.2" r="1.55"/><circle cx="541.1" cy="263.1" r="1.55"/><circle cx="514.1" cy="275.2" r="1.55"/><circle cx="513.6" cy="260.8" r="1.55"/><circle cx="521.1" cy="270.0" r="1.55"/><circle cx="486.3" cy="248.5" r="1.55"/><circle cx="527.3" cy="285.1" r="1.55"/><circle cx="506.0" cy="291.3" r="1.55"/><circle cx="514.0" cy="256.5" r="1.55"/><circle cx="520.7" cy="262.5" r="1.55"/><circle cx="548.3" cy="277.6" r="1.55"/><circle cx="486.3" cy="284.5" r="1.55"/><circle cx="512.1" cy="291.1" r="1.55"/><circle cx="532.1" cy="286.1" r="1.55"/><circle cx="537.1" cy="301.1" r="1.55"/><circle cx="486.7" cy="283.6" r="1.55"/><circle cx="554.7" cy="293.1" r="1.55"/><circle cx="541.2" cy="258.8" r="1.55"/><circle cx="496.5" cy="261.3" r="1.55"/><circle cx="500.0" cy="267.5" r="1.55"/><circle cx="527.8" cy="255.5" r="1.55"/><circle cx="520.5" cy="290.3" r="1.55"/><circle cx="499.0" cy="286.3" r="1.55"/><circle cx="527.7" cy="260.7" r="1.55"/><circle cx="540.9" cy="261.4" r="1.55"/><circle cx="562.6" cy="265.1" r="1.55"/><circle cx="513.9" cy="258.5" r="1.55"/><circle cx="500.2" cy="264.5" r="1.55"/><circle cx="527.5" cy="288.6" r="1.55"/><circle cx="499.8" cy="257.6" r="1.55"/><circle cx="554.9" cy="283.9" r="1.55"/><circle cx="565.9" cy="282.9" r="1.55"/><circle cx="513.7" cy="245.0" r="1.55"/><circle cx="513.8" cy="267.1" r="1.55"/><circle cx="527.8" cy="297.5" r="1.55"/><circle cx="486.3" cy="260.0" r="1.55"/><circle cx="555.0" cy="307.4" r="1.55"/><circle cx="554.9" cy="251.7" r="1.55"/><circle cx="486.2" cy="290.8" r="1.55"/><circle cx="506.7" cy="278.0" r="1.55"/><circle cx="505.3" cy="291.5" r="1.55"/><circle cx="513.5" cy="248.2" r="1.55"/><circle cx="499.8" cy="247.5" r="1.55"/><circle cx="577.9" cy="305.4" r="1.55"/><circle cx="513.8" cy="267.1" r="1.55"/><circle cx="541.0" cy="266.5" r="1.55"/><circle cx="503.5" cy="285.7" r="1.55"/><circle cx="500.0" cy="268.4" r="1.55"/><circle cx="555.2" cy="266.5" r="1.55"/><circle cx="554.6" cy="257.8" r="1.55"/><circle cx="522.9" cy="290.2" r="1.55"/><circle cx="485.9" cy="308.1" r="1.55"/><circle cx="496.2" cy="288.6" r="1.55"/><circle cx="486.4" cy="227.1" r="1.55"/><circle cx="531.8" cy="302.0" r="1.55"/><circle cx="500.3" cy="237.2" r="1.55"/><circle cx="547.6" cy="276.4" r="1.55"/><circle cx="513.8" cy="265.4" r="1.55"/><circle cx="486.4" cy="257.9" r="1.55"/><circle cx="513.5" cy="253.7" r="1.55"/><circle cx="486.1" cy="279.5" r="1.55"/><circle cx="565.9" cy="264.4" r="1.55"/><circle cx="500.2" cy="244.6" r="1.55"/><circle cx="541.1" cy="268.9" r="1.55"/><circle cx="486.7" cy="277.5" r="1.55"/><circle cx="527.6" cy="272.5" r="1.55"/><circle cx="558.5" cy="300.4" r="1.55"/><circle cx="500.4" cy="253.4" r="1.55"/><circle cx="541.4" cy="262.6" r="1.55"/><circle cx="500.1" cy="231.7" r="1.55"/><circle cx="554.7" cy="280.7" r="1.55"/><circle cx="541.6" cy="246.5" r="1.55"/><circle cx="513.9" cy="267.3" r="1.55"/><circle cx="500.1" cy="273.2" r="1.55"/><circle cx="541.4" cy="244.4" r="1.55"/><circle cx="514.0" cy="278.9" r="1.55"/><circle cx="498.3" cy="287.9" r="1.55"/><circle cx="527.6" cy="281.5" r="1.55"/><circle cx="513.5" cy="267.3" r="1.55"/><circle cx="527.7" cy="261.3" r="1.55"/><circle cx="500.1" cy="263.1" r="1.55"/><circle cx="547.3" cy="261.8" r="1.55"/><circle cx="532.2" cy="281.3" r="1.55"/><circle cx="551.6" cy="262.5" r="1.55"/><circle cx="527.7" cy="279.6" r="1.55"/><circle cx="541.7" cy="279.4" r="1.55"/><circle cx="486.2" cy="281.6" r="1.55"/><circle cx="531.9" cy="284.6" r="1.55"/><circle cx="513.8" cy="268.1" r="1.55"/><circle cx="503.0" cy="283.6" r="1.55"/><circle cx="555.0" cy="256.1" r="1.55"/><circle cx="532.1" cy="281.0" r="1.55"/><circle cx="486.3" cy="295.5" r="1.55"/><circle cx="541.4" cy="268.4" r="1.55"/><circle cx="541.2" cy="265.5" r="1.55"/><circle cx="486.6" cy="284.3" r="1.55"/><circle cx="486.0" cy="277.0" r="1.55"/><circle cx="536.3" cy="298.4" r="1.55"/><circle cx="486.4" cy="282.1" r="1.55"/><circle cx="515.3" cy="261.1" r="1.55"/><circle cx="524.2" cy="287.1" r="1.55"/><circle cx="623.4" cy="290.1" r="1.55"/><circle cx="500.0" cy="264.9" r="1.55"/><circle cx="486.8" cy="276.9" r="1.55"/><circle cx="529.2" cy="285.3" r="1.55"/><circle cx="486.2" cy="270.5" r="1.55"/><circle cx="516.6" cy="281.9" r="1.55"/><circle cx="486.8" cy="287.9" r="1.55"/><circle cx="486.4" cy="275.2" r="1.55"/><circle cx="500.3" cy="244.4" r="1.55"/><circle cx="500.1" cy="248.2" r="1.55"/><circle cx="551.6" cy="283.8" r="1.55"/><circle cx="515.3" cy="264.6" r="1.55"/><circle cx="513.8" cy="276.2" r="1.55"/><circle cx="500.2" cy="273.6" r="1.55"/><circle cx="486.5" cy="277.9" r="1.55"/><circle cx="486.4" cy="263.1" r="1.55"/><circle cx="500.2" cy="274.8" r="1.55"/><circle cx="527.6" cy="267.0" r="1.55"/><circle cx="555.1" cy="262.7" r="1.55"/><circle cx="565.9" cy="298.1" r="1.55"/><circle cx="500.2" cy="249.3" r="1.55"/><circle cx="555.1" cy="279.2" r="1.55"/><circle cx="513.9" cy="251.8" r="1.55"/><circle cx="527.8" cy="260.6" r="1.55"/><circle cx="513.8" cy="253.3" r="1.55"/><circle cx="513.6" cy="258.9" r="1.55"/><circle cx="498.4" cy="268.5" r="1.55"/><circle cx="541.4" cy="263.6" r="1.55"/><circle cx="536.0" cy="278.4" r="1.55"/><circle cx="541.1" cy="282.4" r="1.55"/><circle cx="503.8" cy="285.1" r="1.55"/><circle cx="514.1" cy="264.0" r="1.55"/><circle cx="486.2" cy="248.1" r="1.55"/><circle cx="513.3" cy="268.9" r="1.55"/><circle cx="527.7" cy="260.4" r="1.55"/><circle cx="541.1" cy="250.9" r="1.55"/><circle cx="568.6" cy="290.1" r="1.55"/><circle cx="541.1" cy="263.2" r="1.55"/><circle cx="555.3" cy="264.9" r="1.55"/><circle cx="532.3" cy="289.3" r="1.55"/><circle cx="546.4" cy="292.7" r="1.55"/><circle cx="552.2" cy="282.9" r="1.55"/><circle cx="486.3" cy="266.5" r="1.55"/><circle cx="514.2" cy="279.1" r="1.55"/><circle cx="566.0" cy="281.2" r="1.55"/><circle cx="541.4" cy="280.9" r="1.55"/><circle cx="500.0" cy="267.2" r="1.55"/><circle cx="541.3" cy="280.2" r="1.55"/><circle cx="522.9" cy="284.4" r="1.55"/><circle cx="547.1" cy="286.3" r="1.55"/><circle cx="486.1" cy="278.8" r="1.55"/><circle cx="486.5" cy="262.1" r="1.55"/><circle cx="486.3" cy="263.9" r="1.55"/><circle cx="499.9" cy="248.7" r="1.55"/><circle cx="527.9" cy="252.4" r="1.55"/><circle cx="500.0" cy="255.4" r="1.55"/><circle cx="486.2" cy="266.1" r="1.55"/><circle cx="486.4" cy="265.6" r="1.55"/><circle cx="527.3" cy="257.5" r="1.55"/><circle cx="500.3" cy="265.5" r="1.55"/><circle cx="577.7" cy="300.8" r="1.55"/><circle cx="577.8" cy="304.0" r="1.55"/><circle cx="500.5" cy="263.3" r="1.55"/><circle cx="513.7" cy="268.6" r="1.55"/><circle cx="497.3" cy="293.5" r="1.55"/><circle cx="545.1" cy="288.8" r="1.55"/><circle cx="572.2" cy="290.5" r="1.55"/><circle cx="516.4" cy="266.5" r="1.55"/><circle cx="554.8" cy="285.1" r="1.55"/><circle cx="527.7" cy="265.6" r="1.55"/><circle cx="501.6" cy="267.2" r="1.55"/><circle cx="486.2" cy="246.7" r="1.55"/><circle cx="509.3" cy="288.4" r="1.55"/><circle cx="500.5" cy="258.9" r="1.55"/><circle cx="499.7" cy="277.3" r="1.55"/><circle cx="525.4" cy="266.8" r="1.55"/><circle cx="513.8" cy="248.8" r="1.55"/><circle cx="500.2" cy="254.1" r="1.55"/><circle cx="520.3" cy="269.4" r="1.55"/><circle cx="514.0" cy="267.7" r="1.55"/><circle cx="499.9" cy="271.1" r="1.55"/><circle cx="513.9" cy="245.2" r="1.55"/><circle cx="504.1" cy="295.5" r="1.55"/><circle cx="541.4" cy="244.2" r="1.55"/><circle cx="514.2" cy="263.6" r="1.55"/><circle cx="486.3" cy="276.5" r="1.55"/><circle cx="531.9" cy="272.3" r="1.55"/><circle cx="486.2" cy="311.1" r="1.55"/><circle cx="527.6" cy="275.4" r="1.55"/><circle cx="565.9" cy="302.9" r="1.55"/><circle cx="503.5" cy="279.9" r="1.55"/><circle cx="518.6" cy="285.4" r="1.55"/><circle cx="486.1" cy="299.7" r="1.55"/><circle cx="530.2" cy="267.4" r="1.55"/><circle cx="541.6" cy="262.0" r="1.55"/><circle cx="536.2" cy="291.5" r="1.55"/><circle cx="541.2" cy="257.8" r="1.55"/><circle cx="555.1" cy="267.4" r="1.55"/><circle cx="557.9" cy="278.9" r="1.55"/><circle cx="577.8" cy="301.9" r="1.55"/><circle cx="505.9" cy="293.3" r="1.55"/><circle cx="486.4" cy="279.4" r="1.55"/><circle cx="555.1" cy="296.6" r="1.55"/><circle cx="498.3" cy="271.4" r="1.55"/><circle cx="532.0" cy="305.9" r="1.55"/><circle cx="554.8" cy="271.3" r="1.55"/><circle cx="486.5" cy="283.3" r="1.55"/><circle cx="514.2" cy="262.0" r="1.55"/><circle cx="539.1" cy="286.6" r="1.55"/><circle cx="500.0" cy="260.9" r="1.55"/><circle cx="527.7" cy="261.3" r="1.55"/><circle cx="510.2" cy="292.3" r="1.55"/><circle cx="486.3" cy="269.2" r="1.55"/><circle cx="502.5" cy="302.3" r="1.55"/><circle cx="503.3" cy="286.2" r="1.55"/><circle cx="486.5" cy="284.6" r="1.55"/><circle cx="503.5" cy="294.3" r="1.55"/><circle cx="486.4" cy="280.2" r="1.55"/><circle cx="596.0" cy="298.7" r="1.55"/><circle cx="486.4" cy="234.4" r="1.55"/><circle cx="554.8" cy="299.1" r="1.55"/><circle cx="568.6" cy="300.1" r="1.55"/><circle cx="554.9" cy="265.6" r="1.55"/><circle cx="500.0" cy="265.0" r="1.55"/><circle cx="527.6" cy="266.3" r="1.55"/><circle cx="498.3" cy="281.3" r="1.55"/><circle cx="577.7" cy="270.1" r="1.55"/><circle cx="522.9" cy="296.1" r="1.55"/><circle cx="577.9" cy="300.7" r="1.55"/><circle cx="527.4" cy="268.5" r="1.55"/><circle cx="499.7" cy="291.0" r="1.55"/><circle cx="500.0" cy="251.7" r="1.55"/><circle cx="532.1" cy="285.9" r="1.55"/><circle cx="486.4" cy="273.6" r="1.55"/><circle cx="500.3" cy="267.0" r="1.55"/><circle cx="486.4" cy="305.3" r="1.55"/><circle cx="486.6" cy="293.7" r="1.55"/><circle cx="500.0" cy="269.7" r="1.55"/><circle cx="531.8" cy="302.9" r="1.55"/><circle cx="500.0" cy="240.9" r="1.55"/><circle cx="518.0" cy="287.2" r="1.55"/><circle cx="516.8" cy="281.2" r="1.55"/><circle cx="516.8" cy="279.7" r="1.55"/><circle cx="500.3" cy="274.6" r="1.55"/><circle cx="527.2" cy="264.4" r="1.55"/><circle cx="527.8" cy="280.4" r="1.55"/><circle cx="486.1" cy="268.8" r="1.55"/><circle cx="513.6" cy="281.3" r="1.55"/><circle cx="501.6" cy="280.6" r="1.55"/><circle cx="527.6" cy="276.6" r="1.55"/><circle cx="520.9" cy="291.2" r="1.55"/><circle cx="499.7" cy="255.6" r="1.55"/><circle cx="527.5" cy="285.6" r="1.55"/><circle cx="486.3" cy="271.8" r="1.55"/><circle cx="527.7" cy="272.8" r="1.55"/><circle cx="572.2" cy="292.1" r="1.55"/><circle cx="541.1" cy="294.8" r="1.55"/><circle cx="536.5" cy="276.6" r="1.55"/><circle cx="541.1" cy="277.5" r="1.55"/><circle cx="497.5" cy="283.6" r="1.55"/><circle cx="486.4" cy="304.7" r="1.55"/><circle cx="525.9" cy="280.3" r="1.55"/><circle cx="522.1" cy="268.6" r="1.55"/><circle cx="536.3" cy="273.4" r="1.55"/><circle cx="532.3" cy="278.3" r="1.55"/><circle cx="500.0" cy="270.8" r="1.55"/><circle cx="623.4" cy="291.7" r="1.55"/><circle cx="531.6" cy="294.4" r="1.55"/><circle cx="541.0" cy="251.8" r="1.55"/><circle cx="500.0" cy="272.4" r="1.55"/><circle cx="527.4" cy="247.0" r="1.55"/><circle cx="541.7" cy="250.8" r="1.55"/><circle cx="513.8" cy="264.1" r="1.55"/><circle cx="555.3" cy="271.3" r="1.55"/><circle cx="486.6" cy="275.0" r="1.55"/><circle cx="554.9" cy="260.6" r="1.55"/><circle cx="486.4" cy="272.0" r="1.55"/><circle cx="486.5" cy="268.4" r="1.55"/><circle cx="500.1" cy="251.5" r="1.55"/><circle cx="532.2" cy="266.9" r="1.55"/><circle cx="513.3" cy="266.2" r="1.55"/><circle cx="500.2" cy="273.6" r="1.55"/><circle cx="541.2" cy="257.3" r="1.55"/><circle cx="520.2" cy="275.2" r="1.55"/><circle cx="577.5" cy="297.1" r="1.55"/><circle cx="486.4" cy="298.5" r="1.55"/><circle cx="527.1" cy="281.3" r="1.55"/><circle cx="486.4" cy="285.6" r="1.55"/><circle cx="497.2" cy="286.8" r="1.55"/><circle cx="513.9" cy="263.9" r="1.55"/><circle cx="541.3" cy="277.1" r="1.55"/><circle cx="497.7" cy="282.3" r="1.55"/><circle cx="513.9" cy="268.3" r="1.55"/><circle cx="552.2" cy="293.3" r="1.55"/><circle cx="499.0" cy="291.0" r="1.55"/><circle cx="541.1" cy="251.1" r="1.55"/><circle cx="486.0" cy="275.9" r="1.55"/><circle cx="554.7" cy="259.6" r="1.55"/><circle cx="486.1" cy="281.3" r="1.55"/><circle cx="486.5" cy="273.9" r="1.55"/><circle cx="486.3" cy="245.6" r="1.55"/><circle cx="512.1" cy="291.3" r="1.55"/><circle cx="555.0" cy="286.2" r="1.55"/><circle cx="547.3" cy="275.6" r="1.55"/><circle cx="532.3" cy="260.3" r="1.55"/><circle cx="499.2" cy="288.3" r="1.55"/><circle cx="486.2" cy="285.0" r="1.55"/><circle cx="486.6" cy="269.9" r="1.55"/><circle cx="527.9" cy="244.2" r="1.55"/><circle cx="486.7" cy="271.5" r="1.55"/><circle cx="565.9" cy="236.7" r="1.55"/><circle cx="527.5" cy="261.4" r="1.55"/><circle cx="541.2" cy="245.3" r="1.55"/><circle cx="554.9" cy="272.3" r="1.55"/><circle cx="513.5" cy="278.5" r="1.55"/><circle cx="486.1" cy="277.3" r="1.55"/><circle cx="513.6" cy="255.1" r="1.55"/><circle cx="540.8" cy="278.1" r="1.55"/><circle cx="503.6" cy="270.2" r="1.55"/><circle cx="513.6" cy="258.5" r="1.55"/><circle cx="527.2" cy="257.1" r="1.55"/><circle cx="496.2" cy="286.6" r="1.55"/><circle cx="486.1" cy="293.9" r="1.55"/><circle cx="486.3" cy="282.3" r="1.55"/><circle cx="566.1" cy="274.9" r="1.55"/><circle cx="554.7" cy="266.0" r="1.55"/><circle cx="513.6" cy="272.7" r="1.55"/><circle cx="541.3" cy="282.0" r="1.55"/><circle cx="486.4" cy="249.2" r="1.55"/><circle cx="486.6" cy="275.3" r="1.55"/><circle cx="513.9" cy="264.6" r="1.55"/><circle cx="486.6" cy="268.7" r="1.55"/><circle cx="555.1" cy="296.2" r="1.55"/><circle cx="547.3" cy="276.3" r="1.55"/><circle cx="500.1" cy="263.6" r="1.55"/><circle cx="527.6" cy="270.1" r="1.55"/><circle cx="541.4" cy="240.8" r="1.55"/><circle cx="547.6" cy="288.4" r="1.55"/><circle cx="497.3" cy="275.5" r="1.55"/><circle cx="550.9" cy="287.8" r="1.55"/><circle cx="505.9" cy="278.0" r="1.55"/><circle cx="486.6" cy="271.8" r="1.55"/><circle cx="486.3" cy="273.4" r="1.55"/><circle cx="500.2" cy="268.8" r="1.55"/><circle cx="486.4" cy="296.8" r="1.55"/><circle cx="555.0" cy="303.4" r="1.55"/><circle cx="557.9" cy="296.3" r="1.55"/><circle cx="554.7" cy="275.2" r="1.55"/><circle cx="527.7" cy="271.2" r="1.55"/><circle cx="486.5" cy="272.8" r="1.55"/><circle cx="526.9" cy="267.4" r="1.55"/><circle cx="506.0" cy="266.2" r="1.55"/><circle cx="514.2" cy="277.3" r="1.55"/><circle cx="554.7" cy="300.0" r="1.55"/><circle cx="532.1" cy="253.4" r="1.55"/><circle cx="541.4" cy="271.5" r="1.55"/><circle cx="513.8" cy="277.1" r="1.55"/><circle cx="486.6" cy="267.8" r="1.55"/><circle cx="541.0" cy="293.5" r="1.55"/><circle cx="527.1" cy="252.6" r="1.55"/><circle cx="503.3" cy="289.0" r="1.55"/><circle cx="527.5" cy="245.1" r="1.55"/><circle cx="541.3" cy="244.7" r="1.55"/><circle cx="547.1" cy="278.0" r="1.55"/><circle cx="527.6" cy="260.7" r="1.55"/><circle cx="525.2" cy="274.5" r="1.55"/><circle cx="486.4" cy="316.7" r="1.55"/><circle cx="512.1" cy="290.1" r="1.55"/><circle cx="565.4" cy="304.4" r="1.55"/><circle cx="486.3" cy="295.0" r="1.55"/><circle cx="527.6" cy="246.3" r="1.55"/><circle cx="486.4" cy="269.0" r="1.55"/><circle cx="500.0" cy="248.9" r="1.55"/><circle cx="578.0" cy="294.3" r="1.55"/><circle cx="514.2" cy="257.4" r="1.55"/><circle cx="527.5" cy="258.7" r="1.55"/><circle cx="486.6" cy="285.9" r="1.55"/><circle cx="554.9" cy="292.4" r="1.55"/><circle cx="536.3" cy="265.1" r="1.55"/><circle cx="514.0" cy="282.6" r="1.55"/><circle cx="496.9" cy="270.8" r="1.55"/><circle cx="525.7" cy="280.3" r="1.55"/><circle cx="513.6" cy="266.2" r="1.55"/><circle cx="486.8" cy="275.9" r="1.55"/><circle cx="497.7" cy="290.9" r="1.55"/><circle cx="522.1" cy="292.8" r="1.55"/><circle cx="532.1" cy="245.1" r="1.55"/><circle cx="507.5" cy="297.1" r="1.55"/><circle cx="541.0" cy="274.9" r="1.55"/><circle cx="485.7" cy="265.5" r="1.55"/><circle cx="500.5" cy="281.5" r="1.55"/><circle cx="514.1" cy="280.4" r="1.55"/><circle cx="555.2" cy="259.8" r="1.55"/><circle cx="500.2" cy="247.2" r="1.55"/><circle cx="486.3" cy="268.9" r="1.55"/><circle cx="596.0" cy="287.4" r="1.55"/><circle cx="532.2" cy="304.7" r="1.55"/><circle cx="509.3" cy="275.1" r="1.55"/><circle cx="540.9" cy="253.1" r="1.55"/><circle cx="514.1" cy="243.7" r="1.55"/><circle cx="486.2" cy="299.0" r="1.55"/><circle cx="486.6" cy="265.8" r="1.55"/><circle cx="555.1" cy="266.3" r="1.55"/><circle cx="505.8" cy="275.6" r="1.55"/><circle cx="500.2" cy="248.2" r="1.55"/><circle cx="541.1" cy="290.5" r="1.55"/><circle cx="565.6" cy="296.4" r="1.55"/><circle cx="527.5" cy="268.0" r="1.55"/><circle cx="527.5" cy="251.5" r="1.55"/><circle cx="498.0" cy="291.0" r="1.55"/><circle cx="503.5" cy="291.5" r="1.55"/><circle cx="532.2" cy="302.5" r="1.55"/><circle cx="566.0" cy="306.6" r="1.55"/><circle cx="541.0" cy="267.9" r="1.55"/><circle cx="513.8" cy="279.6" r="1.55"/><circle cx="486.5" cy="264.9" r="1.55"/><circle cx="543.1" cy="291.4" r="1.55"/><circle cx="486.6" cy="249.4" r="1.55"/><circle cx="529.7" cy="280.3" r="1.55"/><circle cx="541.1" cy="280.8" r="1.55"/><circle cx="565.9" cy="245.7" r="1.55"/><circle cx="500.0" cy="259.2" r="1.55"/><circle cx="509.2" cy="294.3" r="1.55"/><circle cx="527.3" cy="269.6" r="1.55"/><circle cx="486.5" cy="290.1" r="1.55"/><circle cx="527.5" cy="243.1" r="1.55"/><circle cx="486.3" cy="292.7" r="1.55"/><circle cx="554.9" cy="295.8" r="1.55"/><circle cx="541.3" cy="273.0" r="1.55"/><circle cx="525.9" cy="298.0" r="1.55"/><circle cx="541.3" cy="265.2" r="1.55"/><circle cx="486.4" cy="274.8" r="1.55"/><circle cx="554.9" cy="279.5" r="1.55"/><circle cx="497.2" cy="284.5" r="1.55"/><circle cx="589.1" cy="283.4" r="1.55"/><circle cx="486.0" cy="268.3" r="1.55"/><circle cx="527.3" cy="291.3" r="1.55"/><circle cx="513.9" cy="263.0" r="1.55"/><circle cx="596.0" cy="291.7" r="1.55"/><circle cx="541.0" cy="278.9" r="1.55"/><circle cx="486.3" cy="281.7" r="1.55"/><circle cx="516.6" cy="281.6" r="1.55"/><circle cx="511.3" cy="278.5" r="1.55"/><circle cx="541.1" cy="278.4" r="1.55"/><circle cx="527.4" cy="264.5" r="1.55"/><circle cx="541.1" cy="276.7" r="1.55"/><circle cx="538.6" cy="277.7" r="1.55"/><circle cx="554.8" cy="287.7" r="1.55"/><circle cx="514.0" cy="272.1" r="1.55"/><circle cx="577.7" cy="265.1" r="1.55"/><circle cx="596.0" cy="306.7" r="1.55"/><circle cx="555.1" cy="293.2" r="1.55"/><circle cx="541.2" cy="343.1" r="1.55"/><circle cx="500.2" cy="259.6" r="1.55"/><circle cx="509.3" cy="261.7" r="1.55"/><circle cx="577.7" cy="299.9" r="1.55"/><circle cx="516.7" cy="274.3" r="1.55"/><circle cx="486.5" cy="280.9" r="1.55"/><circle cx="513.7" cy="282.1" r="1.55"/><circle cx="486.0" cy="251.3" r="1.55"/><circle cx="513.7" cy="249.6" r="1.55"/><circle cx="486.2" cy="300.4" r="1.55"/><circle cx="497.4" cy="288.8" r="1.55"/><circle cx="513.4" cy="253.3" r="1.55"/><circle cx="513.9" cy="255.3" r="1.55"/><circle cx="513.6" cy="262.4" r="1.55"/><circle cx="529.2" cy="277.4" r="1.55"/><circle cx="543.5" cy="286.0" r="1.55"/><circle cx="541.2" cy="225.1" r="1.55"/><circle cx="516.8" cy="270.6" r="1.55"/><circle cx="541.0" cy="283.0" r="1.55"/><circle cx="572.0" cy="292.5" r="1.55"/><circle cx="486.0" cy="281.2" r="1.55"/><circle cx="541.5" cy="282.0" r="1.55"/><circle cx="486.4" cy="287.7" r="1.55"/><circle cx="541.1" cy="287.5" r="1.55"/><circle cx="486.3" cy="290.0" r="1.55"/><circle cx="486.4" cy="289.3" r="1.55"/><circle cx="500.4" cy="242.5" r="1.55"/><circle cx="525.7" cy="274.8" r="1.55"/><circle cx="499.9" cy="272.2" r="1.55"/><circle cx="547.5" cy="267.9" r="1.55"/><circle cx="532.2" cy="268.2" r="1.55"/><circle cx="486.4" cy="271.7" r="1.55"/><circle cx="513.8" cy="260.9" r="1.55"/><circle cx="499.8" cy="251.0" r="1.55"/><circle cx="514.1" cy="264.0" r="1.55"/><circle cx="548.7" cy="287.5" r="1.55"/><circle cx="486.1" cy="273.6" r="1.55"/><circle cx="523.8" cy="277.3" r="1.55"/><circle cx="514.0" cy="258.7" r="1.55"/><circle cx="513.6" cy="289.0" r="1.55"/><circle cx="541.3" cy="270.9" r="1.55"/><circle cx="532.0" cy="292.6" r="1.55"/><circle cx="513.8" cy="268.2" r="1.55"/><circle cx="554.9" cy="254.3" r="1.55"/><circle cx="486.5" cy="268.2" r="1.55"/><circle cx="541.4" cy="266.9" r="1.55"/><circle cx="558.5" cy="297.3" r="1.55"/><circle cx="513.8" cy="241.9" r="1.55"/><circle cx="513.7" cy="256.3" r="1.55"/><circle cx="525.2" cy="263.8" r="1.55"/><circle cx="518.6" cy="268.4" r="1.55"/><circle cx="565.9" cy="209.4" r="1.55"/><circle cx="513.5" cy="249.2" r="1.55"/><circle cx="527.6" cy="280.7" r="1.55"/><circle cx="541.3" cy="244.8" r="1.55"/><circle cx="514.6" cy="250.0" r="1.55"/><circle cx="520.7" cy="271.4" r="1.55"/><circle cx="513.4" cy="266.5" r="1.55"/><circle cx="565.9" cy="290.4" r="1.55"/><circle cx="486.6" cy="281.7" r="1.55"/><circle cx="525.4" cy="270.5" r="1.55"/><circle cx="486.7" cy="287.0" r="1.55"/><circle cx="486.0" cy="294.3" r="1.55"/><circle cx="486.4" cy="260.6" r="1.55"/><circle cx="623.4" cy="307.7" r="1.55"/><circle cx="509.3" cy="256.7" r="1.55"/><circle cx="548.3" cy="301.6" r="1.55"/><circle cx="623.4" cy="294.1" r="1.55"/><circle cx="541.3" cy="242.2" r="1.55"/><circle cx="486.4" cy="298.1" r="1.55"/></g>
<rect x="477.4" y="189.3" width="201.3" height="160.9" fill="none" stroke="#636363" stroke-width="0.8"/>
<path d="M243.6 131.3h-2M243.6 97.8h-2M243.6 64.3h-2M243.6 30.8h-2" stroke="#636363" stroke-width="0.8"/>
<text x="239.4" y="134.3" font-size="8.74" text-anchor="end" textLength="5.0" lengthAdjust="spacingAndGlyphs">0</text>
<text x="239.4" y="100.8" font-size="8.74" text-anchor="end" textLength="5.0" lengthAdjust="spacingAndGlyphs">1</text>
<text x="239.4" y="67.3" font-size="8.74" text-anchor="end" textLength="5.0" lengthAdjust="spacingAndGlyphs">2</text>
<text x="239.4" y="33.8" font-size="8.74" text-anchor="end" textLength="5.0" lengthAdjust="spacingAndGlyphs">3</text>
<path d="M477.6 131.3h-2M477.6 97.8h-2M477.6 64.3h-2M477.6 30.8h-2" stroke="#636363" stroke-width="0.8"/>
<text x="473.4" y="134.3" font-size="8.74" text-anchor="end" textLength="5.0" lengthAdjust="spacingAndGlyphs">0</text>
<text x="473.4" y="100.8" font-size="8.74" text-anchor="end" textLength="5.0" lengthAdjust="spacingAndGlyphs">1</text>
<text x="473.4" y="67.3" font-size="8.74" text-anchor="end" textLength="5.0" lengthAdjust="spacingAndGlyphs">2</text>
<text x="473.4" y="33.8" font-size="8.74" text-anchor="end" textLength="5.0" lengthAdjust="spacingAndGlyphs">3</text>
<path d="M10.0 318.4h-2M10.0 285.1h-2M10.0 251.7h-2M10.0 218.4h-2" stroke="#636363" stroke-width="0.8"/>
<text x="5.8" y="321.4" font-size="8.74" text-anchor="end" textLength="5.0" lengthAdjust="spacingAndGlyphs">0</text>
<text x="5.8" y="288.0" font-size="8.74" text-anchor="end" textLength="5.0" lengthAdjust="spacingAndGlyphs">1</text>
<text x="5.8" y="254.7" font-size="8.74" text-anchor="end" textLength="5.0" lengthAdjust="spacingAndGlyphs">2</text>
<text x="5.8" y="221.4" font-size="8.74" text-anchor="end" textLength="5.0" lengthAdjust="spacingAndGlyphs">3</text>
<path d="M243.5 318.4h-2M243.5 285.1h-2M243.5 251.7h-2M243.5 218.4h-2" stroke="#636363" stroke-width="0.8"/>
<text x="239.3" y="321.4" font-size="8.74" text-anchor="end" textLength="5.0" lengthAdjust="spacingAndGlyphs">0</text>
<text x="239.3" y="288.0" font-size="8.74" text-anchor="end" textLength="5.0" lengthAdjust="spacingAndGlyphs">1</text>
<text x="239.3" y="254.7" font-size="8.74" text-anchor="end" textLength="5.0" lengthAdjust="spacingAndGlyphs">2</text>
<text x="239.3" y="221.4" font-size="8.74" text-anchor="end" textLength="5.0" lengthAdjust="spacingAndGlyphs">3</text>
<path d="M477.4 318.4h-2M477.4 285.1h-2M477.4 251.7h-2M477.4 218.4h-2" stroke="#636363" stroke-width="0.8"/>
<text x="473.2" y="321.4" font-size="8.74" text-anchor="end" textLength="5.0" lengthAdjust="spacingAndGlyphs">0</text>
<text x="473.2" y="288.0" font-size="8.74" text-anchor="end" textLength="5.0" lengthAdjust="spacingAndGlyphs">1</text>
<text x="473.2" y="254.7" font-size="8.74" text-anchor="end" textLength="5.0" lengthAdjust="spacingAndGlyphs">2</text>
<text x="473.2" y="221.4" font-size="8.74" text-anchor="end" textLength="5.0" lengthAdjust="spacingAndGlyphs">3</text>
<path d="M252.6 162.4v2M295.3 162.4v2M338.0 162.4v2M380.7 162.4v2M423.4 162.4v2" stroke="#636363" stroke-width="0.8"/>
<text x="252.6" y="172.1" font-size="8.74" text-anchor="middle" textLength="5.0" lengthAdjust="spacingAndGlyphs">0</text>
<text x="295.3" y="172.1" font-size="8.74" text-anchor="middle" textLength="5.0" lengthAdjust="spacingAndGlyphs">1</text>
<text x="338.0" y="172.1" font-size="8.74" text-anchor="middle" textLength="5.0" lengthAdjust="spacingAndGlyphs">2</text>
<text x="380.7" y="172.1" font-size="8.74" text-anchor="middle" textLength="5.0" lengthAdjust="spacingAndGlyphs">3</text>
<text x="423.4" y="172.1" font-size="8.74" text-anchor="middle" textLength="5.0" lengthAdjust="spacingAndGlyphs">4</text>
<path d="M479.4 162.6v2M504.7 162.6v2M529.9 162.6v2M555.2 162.6v2M580.4 162.6v2M605.7 162.6v2M631.0 162.6v2M656.2 162.6v2" stroke="#636363" stroke-width="0.8"/>
<text x="479.4" y="172.3" font-size="8.74" text-anchor="middle" textLength="5.0" lengthAdjust="spacingAndGlyphs">0</text>
<text x="504.7" y="172.3" font-size="8.74" text-anchor="middle" textLength="9.9" lengthAdjust="spacingAndGlyphs">10</text>
<text x="529.9" y="172.3" font-size="8.74" text-anchor="middle" textLength="9.9" lengthAdjust="spacingAndGlyphs">20</text>
<text x="555.2" y="172.3" font-size="8.74" text-anchor="middle" textLength="9.9" lengthAdjust="spacingAndGlyphs">30</text>
<text x="580.4" y="172.3" font-size="8.74" text-anchor="middle" textLength="9.9" lengthAdjust="spacingAndGlyphs">40</text>
<text x="605.7" y="172.3" font-size="8.74" text-anchor="middle" textLength="9.9" lengthAdjust="spacingAndGlyphs">50</text>
<text x="631.0" y="172.3" font-size="8.74" text-anchor="middle" textLength="9.9" lengthAdjust="spacingAndGlyphs">60</text>
<text x="656.2" y="172.3" font-size="8.74" text-anchor="middle" textLength="9.9" lengthAdjust="spacingAndGlyphs">70</text>
<path d="M19.3 350.2v2M59.4 350.2v2M99.5 350.2v2M139.6 350.2v2M179.7 350.2v2" stroke="#636363" stroke-width="0.8"/>
<text x="19.3" y="359.9" font-size="8.74" text-anchor="middle" textLength="5.0" lengthAdjust="spacingAndGlyphs">0</text>
<text x="59.4" y="359.9" font-size="8.74" text-anchor="middle" textLength="5.0" lengthAdjust="spacingAndGlyphs">1</text>
<text x="99.5" y="359.9" font-size="8.74" text-anchor="middle" textLength="5.0" lengthAdjust="spacingAndGlyphs">2</text>
<text x="139.6" y="359.9" font-size="8.74" text-anchor="middle" textLength="5.0" lengthAdjust="spacingAndGlyphs">3</text>
<text x="179.7" y="359.9" font-size="8.74" text-anchor="middle" textLength="5.0" lengthAdjust="spacingAndGlyphs">4</text>
<path d="M252.8 350.2v2M282.2 350.2v2M311.6 350.2v2M340.9 350.2v2M370.3 350.2v2M399.7 350.2v2M429.1 350.2v2" stroke="#636363" stroke-width="0.8"/>
<text x="252.8" y="359.9" font-size="8.74" text-anchor="middle" textLength="17.4" lengthAdjust="spacingAndGlyphs">0.00</text>
<text x="282.2" y="359.9" font-size="8.74" text-anchor="middle" textLength="17.4" lengthAdjust="spacingAndGlyphs">0.05</text>
<text x="311.6" y="359.9" font-size="8.74" text-anchor="middle" textLength="17.4" lengthAdjust="spacingAndGlyphs">0.10</text>
<text x="340.9" y="359.9" font-size="8.74" text-anchor="middle" textLength="17.4" lengthAdjust="spacingAndGlyphs">0.15</text>
<text x="370.3" y="359.9" font-size="8.74" text-anchor="middle" textLength="17.4" lengthAdjust="spacingAndGlyphs">0.20</text>
<text x="399.7" y="359.9" font-size="8.74" text-anchor="middle" textLength="17.4" lengthAdjust="spacingAndGlyphs">0.25</text>
<text x="429.1" y="359.9" font-size="8.74" text-anchor="middle" textLength="17.4" lengthAdjust="spacingAndGlyphs">0.30</text>
<path d="M486.4 350.2v2M513.8 350.2v2M541.2 350.2v2M568.6 350.2v2M596.0 350.2v2M623.4 350.2v2M650.8 350.2v2M678.2 350.2v2" stroke="#636363" stroke-width="0.8"/>
<text x="486.4" y="359.9" font-size="8.74" text-anchor="middle" textLength="12.4" lengthAdjust="spacingAndGlyphs">0.0</text>
<text x="513.8" y="359.9" font-size="8.74" text-anchor="middle" textLength="12.4" lengthAdjust="spacingAndGlyphs">0.1</text>
<text x="541.2" y="359.9" font-size="8.74" text-anchor="middle" textLength="12.4" lengthAdjust="spacingAndGlyphs">0.2</text>
<text x="568.6" y="359.9" font-size="8.74" text-anchor="middle" textLength="12.4" lengthAdjust="spacingAndGlyphs">0.3</text>
<text x="596.0" y="359.9" font-size="8.74" text-anchor="middle" textLength="12.4" lengthAdjust="spacingAndGlyphs">0.4</text>
<text x="623.4" y="359.9" font-size="8.74" text-anchor="middle" textLength="12.4" lengthAdjust="spacingAndGlyphs">0.5</text>
<text x="650.8" y="359.9" font-size="8.74" text-anchor="middle" textLength="12.4" lengthAdjust="spacingAndGlyphs">0.6</text>
<text x="678.2" y="359.9" font-size="8.74" text-anchor="middle" textLength="12.4" lengthAdjust="spacingAndGlyphs">0.7</text>
<text x="344.0" y="181.9" font-size="8.5" text-anchor="middle" textLength="141.5" lengthAdjust="spacingAndGlyphs">local difference in Nunfilled (min)</text>
<text x="578.0" y="181.9" font-size="8.5" text-anchor="middle" textLength="140.3" lengthAdjust="spacingAndGlyphs">local difference in Number (max)</text>
<text x="110.1" y="369.7" font-size="8.5" text-anchor="middle" textLength="112.8" lengthAdjust="spacingAndGlyphs">Voro_area_std_dev (mean)</text>
<text x="344.0" y="369.7" font-size="8.5" text-anchor="middle" textLength="25.9" lengthAdjust="spacingAndGlyphs">MNDV</text>
<text x="578.0" y="369.7" font-size="8.5" text-anchor="middle" textLength="62.6" lengthAdjust="spacingAndGlyphs">TMetalFraction</text>
<text transform="translate(228.2 81.3) rotate(-90)" font-size="10" text-anchor="middle" textLength="52" lengthAdjust="spacingAndGlyphs">log<tspan font-size="7" dy="1.6">10</tspan><tspan dy="-1.6">(</tspan><tspan font-style="italic">ε</tspan><tspan font-size="7" dy="1.6" font-style="italic">ion</tspan><tspan dy="-1.6">)</tspan></text>
<text x="188.1" y="157.0" font-size="14" text-anchor="start">(a)</text>
<text x="419.4" y="157.0" font-size="14" text-anchor="start">(b)</text>
<text x="656.3" y="158.4" font-size="14" text-anchor="start">(c)</text>
<text x="187.9" y="343.6" font-size="14" text-anchor="start">(d)</text>
<text x="419.4" y="343.6" font-size="14" text-anchor="start">(e)</text>
<text x="656.0" y="343.6" font-size="14" text-anchor="start">(f)</text>
</svg>
</body></html>
